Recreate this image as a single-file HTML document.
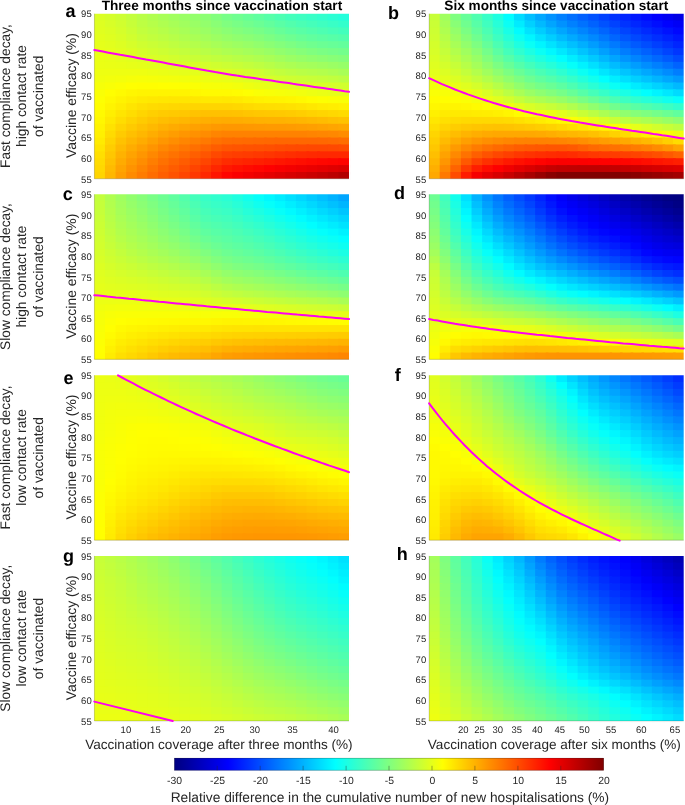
<!DOCTYPE html>
<html lang="en">
<head>
<meta charset="utf-8">
<title>Relative difference in the cumulative number of new hospitalisations</title>
<style>
html,body{margin:0;padding:0;background:#fff;}
body{width:685px;height:805px;overflow:hidden;}
svg{display:block;font-family:"Liberation Sans", sans-serif;will-change:transform;text-rendering:geometricPrecision;}
.tk{font-size:9.5px;fill:#262626;}
.ck{font-size:10.4px;fill:#262626;}
.rl{font-size:13.8px;fill:#262626;}
.yl{font-size:13.95px;fill:#262626;}
.xl{font-size:13.57px;fill:#262626;}
.bl{font-size:13.75px;fill:#262626;}
.tt{font-size:13.62px;font-weight:bold;fill:#000;}
.pl{font-size:18px;font-weight:bold;fill:#000;}
</style>
</head>
<body>
<svg width="685" height="805" viewBox="0 0 685 805">
<rect x="0" y="0" width="685" height="805" fill="#ffffff"/>
<g transform="translate(94.35,13.72) scale(10.6104,6.8813)">
<rect x="-0.1" y="-0.15" width="1.35" height="1.5" fill="#dbff24"/>
<rect x="1" y="-0.15" width="1.25" height="1.5" fill="#d5ff2a"/>
<rect x="2" y="-0.15" width="1.25" height="1.5" fill="#cdff32"/>
<rect x="3" y="-0.15" width="1.25" height="1.5" fill="#c3ff3c"/>
<rect x="4" y="-0.15" width="1.25" height="1.5" fill="#b9ff46"/>
<rect x="5" y="-0.15" width="1.25" height="1.5" fill="#b0ff4f"/>
<rect x="6" y="-0.15" width="1.25" height="1.5" fill="#a8ff57"/>
<rect x="7" y="-0.15" width="1.25" height="1.5" fill="#a1ff5e"/>
<rect x="8" y="-0.15" width="1.25" height="1.5" fill="#9aff65"/>
<rect x="9" y="-0.15" width="1.25" height="1.5" fill="#93ff6c"/>
<rect x="10" y="-0.15" width="1.25" height="1.5" fill="#8cff73"/>
<rect x="11" y="-0.15" width="1.25" height="1.5" fill="#82ff7d"/>
<rect x="12" y="-0.15" width="1.25" height="1.5" fill="#77ff88"/>
<rect x="13" y="-0.15" width="1.25" height="1.5" fill="#6fff90"/>
<rect x="14" y="-0.15" width="1.25" height="1.5" fill="#67ff98"/>
<rect x="15" y="-0.15" width="1.25" height="1.5" fill="#5fffa0"/>
<rect x="16" y="-0.15" width="1.25" height="1.5" fill="#56ffa9"/>
<rect x="17" y="-0.15" width="1.25" height="1.5" fill="#4dffb2"/>
<rect x="18" y="-0.15" width="1.25" height="1.5" fill="#44ffbb"/>
<rect x="19" y="-0.15" width="1.25" height="1.5" fill="#3effc1"/>
<rect x="20" y="-0.15" width="1.25" height="1.5" fill="#38ffc7"/>
<rect x="21" y="-0.15" width="1.25" height="1.5" fill="#32ffcd"/>
<rect x="22" y="-0.15" width="1.25" height="1.5" fill="#2bffd4"/>
<rect x="23" y="-0.15" width="1.1" height="1.5" fill="#24ffdb"/>
<rect x="-0.1" y="1" width="1.35" height="1.35" fill="#deff21"/>
<rect x="1" y="1" width="1.25" height="1.35" fill="#d8ff27"/>
<rect x="2" y="1" width="1.25" height="1.35" fill="#d1ff2e"/>
<rect x="3" y="1" width="1.25" height="1.35" fill="#c7ff38"/>
<rect x="4" y="1" width="1.25" height="1.35" fill="#bdff42"/>
<rect x="5" y="1" width="1.25" height="1.35" fill="#b6ff49"/>
<rect x="6" y="1" width="1.25" height="1.35" fill="#afff50"/>
<rect x="7" y="1" width="1.25" height="1.35" fill="#a8ff57"/>
<rect x="8" y="1" width="1.25" height="1.35" fill="#a1ff5e"/>
<rect x="9" y="1" width="1.25" height="1.35" fill="#9aff65"/>
<rect x="10" y="1" width="1.25" height="1.35" fill="#93ff6c"/>
<rect x="11" y="1" width="1.25" height="1.35" fill="#8aff75"/>
<rect x="12" y="1" width="1.25" height="1.35" fill="#80ff7f"/>
<rect x="13" y="1" width="1.25" height="1.35" fill="#79ff86"/>
<rect x="14" y="1" width="1.25" height="1.35" fill="#72ff8d"/>
<rect x="15" y="1" width="1.25" height="1.35" fill="#6bff94"/>
<rect x="16" y="1" width="1.25" height="1.35" fill="#63ff9c"/>
<rect x="17" y="1" width="1.25" height="1.35" fill="#5affa5"/>
<rect x="18" y="1" width="1.25" height="1.35" fill="#52ffad"/>
<rect x="19" y="1" width="1.25" height="1.35" fill="#4bffb4"/>
<rect x="20" y="1" width="1.25" height="1.35" fill="#45ffba"/>
<rect x="21" y="1" width="1.25" height="1.35" fill="#3fffc0"/>
<rect x="22" y="1" width="1.25" height="1.35" fill="#39ffc6"/>
<rect x="23" y="1" width="1.1" height="1.35" fill="#33ffcc"/>
<rect x="-0.1" y="2" width="1.35" height="1.35" fill="#e0ff1f"/>
<rect x="1" y="2" width="1.25" height="1.35" fill="#dcff23"/>
<rect x="2" y="2" width="1.25" height="1.35" fill="#d5ff2a"/>
<rect x="3" y="2" width="1.25" height="1.35" fill="#ccff33"/>
<rect x="4" y="2" width="1.25" height="1.35" fill="#c2ff3d"/>
<rect x="5" y="2" width="1.25" height="1.35" fill="#bcff43"/>
<rect x="6" y="2" width="1.25" height="1.35" fill="#b6ff49"/>
<rect x="7" y="2" width="1.25" height="1.35" fill="#afff50"/>
<rect x="8" y="2" width="1.25" height="1.35" fill="#a8ff57"/>
<rect x="9" y="2" width="1.25" height="1.35" fill="#a1ff5e"/>
<rect x="10" y="2" width="1.25" height="1.35" fill="#9bff64"/>
<rect x="11" y="2" width="1.25" height="1.35" fill="#93ff6c"/>
<rect x="12" y="2" width="1.25" height="1.35" fill="#8bff74"/>
<rect x="13" y="2" width="1.25" height="1.35" fill="#84ff7b"/>
<rect x="14" y="2" width="1.25" height="1.35" fill="#7eff81"/>
<rect x="15" y="2" width="1.25" height="1.35" fill="#78ff87"/>
<rect x="16" y="2" width="1.25" height="1.35" fill="#70ff8f"/>
<rect x="17" y="2" width="1.25" height="1.35" fill="#67ff98"/>
<rect x="18" y="2" width="1.25" height="1.35" fill="#5fffa0"/>
<rect x="19" y="2" width="1.25" height="1.35" fill="#59ffa6"/>
<rect x="20" y="2" width="1.25" height="1.35" fill="#53ffac"/>
<rect x="21" y="2" width="1.25" height="1.35" fill="#4dffb2"/>
<rect x="22" y="2" width="1.25" height="1.35" fill="#47ffb8"/>
<rect x="23" y="2" width="1.1" height="1.35" fill="#42ffbd"/>
<rect x="-0.1" y="3" width="1.35" height="1.35" fill="#e3ff1c"/>
<rect x="1" y="3" width="1.25" height="1.35" fill="#dfff20"/>
<rect x="2" y="3" width="1.25" height="1.35" fill="#d9ff26"/>
<rect x="3" y="3" width="1.25" height="1.35" fill="#d1ff2e"/>
<rect x="4" y="3" width="1.25" height="1.35" fill="#c8ff37"/>
<rect x="5" y="3" width="1.25" height="1.35" fill="#c2ff3d"/>
<rect x="6" y="3" width="1.25" height="1.35" fill="#bdff42"/>
<rect x="7" y="3" width="1.25" height="1.35" fill="#b7ff48"/>
<rect x="8" y="3" width="1.25" height="1.35" fill="#b0ff4f"/>
<rect x="9" y="3" width="1.25" height="1.35" fill="#aaff55"/>
<rect x="10" y="3" width="1.25" height="1.35" fill="#a4ff5b"/>
<rect x="11" y="3" width="1.25" height="1.35" fill="#9dff62"/>
<rect x="12" y="3" width="1.25" height="1.35" fill="#96ff69"/>
<rect x="13" y="3" width="1.25" height="1.35" fill="#90ff6f"/>
<rect x="14" y="3" width="1.25" height="1.35" fill="#8bff74"/>
<rect x="15" y="3" width="1.25" height="1.35" fill="#85ff7a"/>
<rect x="16" y="3" width="1.25" height="1.35" fill="#7dff82"/>
<rect x="17" y="3" width="1.25" height="1.35" fill="#75ff8a"/>
<rect x="18" y="3" width="1.25" height="1.35" fill="#6eff91"/>
<rect x="19" y="3" width="1.25" height="1.35" fill="#67ff98"/>
<rect x="20" y="3" width="1.25" height="1.35" fill="#61ff9e"/>
<rect x="21" y="3" width="1.25" height="1.35" fill="#5cffa3"/>
<rect x="22" y="3" width="1.25" height="1.35" fill="#57ffa8"/>
<rect x="23" y="3" width="1.1" height="1.35" fill="#52ffad"/>
<rect x="-0.1" y="4" width="1.35" height="1.35" fill="#e5ff1a"/>
<rect x="1" y="4" width="1.25" height="1.35" fill="#e2ff1d"/>
<rect x="2" y="4" width="1.25" height="1.35" fill="#ddff22"/>
<rect x="3" y="4" width="1.25" height="1.35" fill="#d6ff29"/>
<rect x="4" y="4" width="1.25" height="1.35" fill="#cfff30"/>
<rect x="5" y="4" width="1.25" height="1.35" fill="#caff35"/>
<rect x="6" y="4" width="1.25" height="1.35" fill="#c5ff3a"/>
<rect x="7" y="4" width="1.25" height="1.35" fill="#bfff40"/>
<rect x="8" y="4" width="1.25" height="1.35" fill="#b9ff46"/>
<rect x="9" y="4" width="1.25" height="1.35" fill="#b4ff4b"/>
<rect x="10" y="4" width="1.25" height="1.35" fill="#aeff51"/>
<rect x="11" y="4" width="1.25" height="1.35" fill="#a8ff57"/>
<rect x="12" y="4" width="1.25" height="1.35" fill="#a2ff5d"/>
<rect x="13" y="4" width="1.25" height="1.35" fill="#9dff62"/>
<rect x="14" y="4" width="1.25" height="1.35" fill="#98ff67"/>
<rect x="15" y="4" width="1.25" height="1.35" fill="#92ff6d"/>
<rect x="16" y="4" width="1.25" height="1.35" fill="#8bff74"/>
<rect x="17" y="4" width="1.25" height="1.35" fill="#84ff7b"/>
<rect x="18" y="4" width="1.25" height="1.35" fill="#7dff82"/>
<rect x="19" y="4" width="1.25" height="1.35" fill="#76ff89"/>
<rect x="20" y="4" width="1.25" height="1.35" fill="#70ff8f"/>
<rect x="21" y="4" width="1.25" height="1.35" fill="#6bff94"/>
<rect x="22" y="4" width="1.25" height="1.35" fill="#67ff98"/>
<rect x="23" y="4" width="1.1" height="1.35" fill="#63ff9c"/>
<rect x="-0.1" y="5" width="1.35" height="1.35" fill="#e8ff17"/>
<rect x="1" y="5" width="1.25" height="1.35" fill="#e5ff1a"/>
<rect x="2" y="5" width="1.25" height="1.35" fill="#e1ff1e"/>
<rect x="3" y="5" width="1.25" height="1.35" fill="#dcff23"/>
<rect x="4" y="5" width="1.25" height="1.35" fill="#d5ff2a"/>
<rect x="5" y="5" width="1.25" height="1.35" fill="#d1ff2e"/>
<rect x="6" y="5" width="1.25" height="1.35" fill="#cdff32"/>
<rect x="7" y="5" width="1.25" height="1.35" fill="#c8ff37"/>
<rect x="8" y="5" width="1.25" height="1.35" fill="#c3ff3c"/>
<rect x="9" y="5" width="1.25" height="1.35" fill="#beff41"/>
<rect x="10" y="5" width="1.25" height="1.35" fill="#b9ff46"/>
<rect x="11" y="5" width="1.25" height="1.35" fill="#b4ff4b"/>
<rect x="12" y="5" width="1.25" height="1.35" fill="#aeff51"/>
<rect x="13" y="5" width="1.25" height="1.35" fill="#aaff55"/>
<rect x="14" y="5" width="1.25" height="1.35" fill="#a5ff5a"/>
<rect x="15" y="5" width="1.25" height="1.35" fill="#a0ff5f"/>
<rect x="16" y="5" width="1.25" height="1.35" fill="#9aff65"/>
<rect x="17" y="5" width="1.25" height="1.35" fill="#92ff6d"/>
<rect x="18" y="5" width="1.25" height="1.35" fill="#8cff73"/>
<rect x="19" y="5" width="1.25" height="1.35" fill="#86ff79"/>
<rect x="20" y="5" width="1.25" height="1.35" fill="#80ff7f"/>
<rect x="21" y="5" width="1.25" height="1.35" fill="#7bff84"/>
<rect x="22" y="5" width="1.25" height="1.35" fill="#77ff88"/>
<rect x="23" y="5" width="1.1" height="1.35" fill="#73ff8c"/>
<rect x="-0.1" y="6" width="1.35" height="1.35" fill="#eaff15"/>
<rect x="1" y="6" width="1.25" height="1.35" fill="#e8ff17"/>
<rect x="2" y="6" width="1.25" height="1.35" fill="#e5ff1a"/>
<rect x="3" y="6" width="1.25" height="1.35" fill="#e1ff1e"/>
<rect x="4" y="6" width="1.25" height="1.35" fill="#ddff22"/>
<rect x="5" y="6" width="1.25" height="1.35" fill="#d9ff26"/>
<rect x="6" y="6" width="1.25" height="1.35" fill="#d6ff29"/>
<rect x="7" y="6" width="1.25" height="1.35" fill="#d2ff2d"/>
<rect x="8" y="6" width="1.25" height="1.35" fill="#cdff32"/>
<rect x="9" y="6" width="1.25" height="1.35" fill="#c9ff36"/>
<rect x="10" y="6" width="1.25" height="1.35" fill="#c5ff3a"/>
<rect x="11" y="6" width="1.25" height="1.35" fill="#c1ff3e"/>
<rect x="12" y="6" width="1.25" height="1.35" fill="#bdff42"/>
<rect x="13" y="6" width="1.25" height="1.35" fill="#b8ff47"/>
<rect x="14" y="6" width="1.25" height="1.35" fill="#b4ff4b"/>
<rect x="15" y="6" width="1.25" height="1.35" fill="#afff50"/>
<rect x="16" y="6" width="1.25" height="1.35" fill="#a9ff56"/>
<rect x="17" y="6" width="1.25" height="1.35" fill="#a2ff5d"/>
<rect x="18" y="6" width="1.25" height="1.35" fill="#9bff64"/>
<rect x="19" y="6" width="1.25" height="1.35" fill="#96ff69"/>
<rect x="20" y="6" width="1.25" height="1.35" fill="#91ff6e"/>
<rect x="21" y="6" width="1.25" height="1.35" fill="#8dff72"/>
<rect x="22" y="6" width="1.25" height="1.35" fill="#88ff77"/>
<rect x="23" y="6" width="1.1" height="1.35" fill="#84ff7b"/>
<rect x="-0.1" y="7" width="1.35" height="1.35" fill="#ebff14"/>
<rect x="1" y="7" width="1.25" height="1.35" fill="#eaff15"/>
<rect x="2" y="7" width="1.25" height="1.35" fill="#e9ff16"/>
<rect x="3" y="7" width="1.25" height="1.35" fill="#e7ff18"/>
<rect x="4" y="7" width="1.25" height="1.35" fill="#e5ff1a"/>
<rect x="5" y="7" width="1.25" height="1.35" fill="#e2ff1d"/>
<rect x="6" y="7" width="1.25" height="1.35" fill="#e0ff1f"/>
<rect x="7" y="7" width="1.25" height="1.35" fill="#dcff23"/>
<rect x="8" y="7" width="1.25" height="1.35" fill="#d9ff26"/>
<rect x="9" y="7" width="1.25" height="1.35" fill="#d7ff28"/>
<rect x="10" y="7" width="1.25" height="1.35" fill="#d4ff2b"/>
<rect x="11" y="7" width="1.25" height="1.35" fill="#d0ff2f"/>
<rect x="12" y="7" width="1.25" height="1.35" fill="#ccff33"/>
<rect x="13" y="7" width="1.25" height="1.35" fill="#c8ff37"/>
<rect x="14" y="7" width="1.25" height="1.35" fill="#c3ff3c"/>
<rect x="15" y="7" width="1.25" height="1.35" fill="#beff41"/>
<rect x="16" y="7" width="1.25" height="1.35" fill="#b8ff47"/>
<rect x="17" y="7" width="1.25" height="1.35" fill="#b1ff4e"/>
<rect x="18" y="7" width="1.25" height="1.35" fill="#acff53"/>
<rect x="19" y="7" width="1.25" height="1.35" fill="#a7ff58"/>
<rect x="20" y="7" width="1.25" height="1.35" fill="#a4ff5b"/>
<rect x="21" y="7" width="1.25" height="1.35" fill="#a0ff5f"/>
<rect x="22" y="7" width="1.25" height="1.35" fill="#9bff64"/>
<rect x="23" y="7" width="1.1" height="1.35" fill="#96ff69"/>
<rect x="-0.1" y="8" width="5.35" height="1.35" fill="#eeff11"/>
<rect x="5" y="8" width="1.25" height="1.35" fill="#ecff13"/>
<rect x="6" y="8" width="1.25" height="1.35" fill="#eaff15"/>
<rect x="7" y="8" width="1.25" height="1.35" fill="#e8ff17"/>
<rect x="8" y="8" width="1.25" height="1.35" fill="#e5ff1a"/>
<rect x="9" y="8" width="1.25" height="1.35" fill="#e4ff1b"/>
<rect x="10" y="8" width="1.25" height="1.35" fill="#e1ff1e"/>
<rect x="11" y="8" width="1.25" height="1.35" fill="#dfff20"/>
<rect x="12" y="8" width="1.25" height="1.35" fill="#dbff24"/>
<rect x="13" y="8" width="1.25" height="1.35" fill="#d7ff28"/>
<rect x="14" y="8" width="1.25" height="1.35" fill="#d2ff2d"/>
<rect x="15" y="8" width="1.25" height="1.35" fill="#cdff32"/>
<rect x="16" y="8" width="1.25" height="1.35" fill="#c7ff38"/>
<rect x="17" y="8" width="1.25" height="1.35" fill="#c2ff3d"/>
<rect x="18" y="8" width="1.25" height="1.35" fill="#bdff42"/>
<rect x="19" y="8" width="1.25" height="1.35" fill="#b9ff46"/>
<rect x="20" y="8" width="1.25" height="1.35" fill="#b6ff49"/>
<rect x="21" y="8" width="1.25" height="1.35" fill="#b3ff4c"/>
<rect x="22" y="8" width="1.25" height="1.35" fill="#aeff51"/>
<rect x="23" y="8" width="1.1" height="1.35" fill="#a8ff57"/>
<rect x="-0.1" y="9" width="1.35" height="1.35" fill="#f1ff0e"/>
<rect x="1" y="9" width="1.25" height="1.35" fill="#f3ff0c"/>
<rect x="2" y="9" width="1.25" height="1.35" fill="#f4ff0b"/>
<rect x="3" y="9" width="1.25" height="1.35" fill="#f6ff09"/>
<rect x="4" y="9" width="1.25" height="1.35" fill="#f7ff08"/>
<rect x="5" y="9" width="1.25" height="1.35" fill="#f6ff09"/>
<rect x="6" y="9" width="1.25" height="1.35" fill="#f4ff0b"/>
<rect x="7" y="9" width="1.25" height="1.35" fill="#f3ff0c"/>
<rect x="8" y="9" width="1.25" height="1.35" fill="#f1ff0e"/>
<rect x="9" y="9" width="1.25" height="1.35" fill="#efff10"/>
<rect x="10" y="9" width="1.25" height="1.35" fill="#edff12"/>
<rect x="11" y="9" width="1.25" height="1.35" fill="#ebff14"/>
<rect x="12" y="9" width="1.25" height="1.35" fill="#e9ff16"/>
<rect x="13" y="9" width="1.25" height="1.35" fill="#e5ff1a"/>
<rect x="14" y="9" width="1.25" height="1.35" fill="#e0ff1f"/>
<rect x="15" y="9" width="1.25" height="1.35" fill="#dbff24"/>
<rect x="16" y="9" width="1.25" height="1.35" fill="#d7ff28"/>
<rect x="17" y="9" width="1.25" height="1.35" fill="#d2ff2d"/>
<rect x="18" y="9" width="1.25" height="1.35" fill="#ceff31"/>
<rect x="19" y="9" width="1.25" height="1.35" fill="#cbff34"/>
<rect x="20" y="9" width="1.25" height="1.35" fill="#c8ff37"/>
<rect x="21" y="9" width="1.25" height="1.35" fill="#c5ff3a"/>
<rect x="22" y="9" width="1.25" height="1.35" fill="#c1ff3e"/>
<rect x="23" y="9" width="1.1" height="1.35" fill="#bcff43"/>
<rect x="-0.1" y="10" width="1.35" height="1.35" fill="#f6ff09"/>
<rect x="1" y="10" width="1.25" height="1.35" fill="#f9ff06"/>
<rect x="2" y="10" width="1.25" height="1.35" fill="#fcff03"/>
<rect x="3" y="10" width="1.25" height="1.35" fill="#ffff00"/>
<rect x="4" y="10" width="2.25" height="1.35" fill="#fffe00"/>
<rect x="6" y="10" width="1.25" height="1.35" fill="#ffff00"/>
<rect x="7" y="10" width="1.25" height="1.35" fill="#feff01"/>
<rect x="8" y="10" width="1.25" height="1.35" fill="#fdff02"/>
<rect x="9" y="10" width="1.25" height="1.35" fill="#fbff04"/>
<rect x="10" y="10" width="1.25" height="1.35" fill="#f8ff07"/>
<rect x="11" y="10" width="1.25" height="1.35" fill="#f7ff08"/>
<rect x="12" y="10" width="1.25" height="1.35" fill="#f6ff09"/>
<rect x="13" y="10" width="1.25" height="1.35" fill="#f3ff0c"/>
<rect x="14" y="10" width="1.25" height="1.35" fill="#eeff11"/>
<rect x="15" y="10" width="1.25" height="1.35" fill="#eaff15"/>
<rect x="16" y="10" width="1.25" height="1.35" fill="#e7ff18"/>
<rect x="17" y="10" width="1.25" height="1.35" fill="#e4ff1b"/>
<rect x="18" y="10" width="1.25" height="1.35" fill="#e1ff1e"/>
<rect x="19" y="10" width="1.25" height="1.35" fill="#ddff22"/>
<rect x="20" y="10" width="1.25" height="1.35" fill="#daff25"/>
<rect x="21" y="10" width="1.25" height="1.35" fill="#d7ff28"/>
<rect x="22" y="10" width="1.25" height="1.35" fill="#d4ff2b"/>
<rect x="23" y="10" width="1.1" height="1.35" fill="#d1ff2e"/>
<rect x="-0.1" y="11" width="1.35" height="1.35" fill="#faff05"/>
<rect x="1" y="11" width="1.25" height="1.35" fill="#fffe00"/>
<rect x="2" y="11" width="1.25" height="1.35" fill="#fffa00"/>
<rect x="3" y="11" width="1.25" height="1.35" fill="#fff600"/>
<rect x="4" y="11" width="5.25" height="1.35" fill="#fff400"/>
<rect x="9" y="11" width="1.25" height="1.35" fill="#fff700"/>
<rect x="10" y="11" width="3.25" height="1.35" fill="#fffa00"/>
<rect x="13" y="11" width="1.25" height="1.35" fill="#fffc00"/>
<rect x="14" y="11" width="1.25" height="1.35" fill="#feff01"/>
<rect x="15" y="11" width="1.25" height="1.35" fill="#faff05"/>
<rect x="16" y="11" width="1.25" height="1.35" fill="#f8ff07"/>
<rect x="17" y="11" width="1.25" height="1.35" fill="#f6ff09"/>
<rect x="18" y="11" width="1.25" height="1.35" fill="#f4ff0b"/>
<rect x="19" y="11" width="1.25" height="1.35" fill="#f1ff0e"/>
<rect x="20" y="11" width="1.25" height="1.35" fill="#edff12"/>
<rect x="21" y="11" width="1.25" height="1.35" fill="#eaff15"/>
<rect x="22" y="11" width="1.25" height="1.35" fill="#e7ff18"/>
<rect x="23" y="11" width="1.1" height="1.35" fill="#e5ff1a"/>
<rect x="-0.1" y="12" width="1.35" height="1.35" fill="#fdff02"/>
<rect x="1" y="12" width="1.25" height="1.35" fill="#fff900"/>
<rect x="2" y="12" width="1.25" height="1.35" fill="#fff300"/>
<rect x="3" y="12" width="1.25" height="1.35" fill="#ffee00"/>
<rect x="4" y="12" width="1.25" height="1.35" fill="#ffea00"/>
<rect x="5" y="12" width="1.25" height="1.35" fill="#ffe800"/>
<rect x="6" y="12" width="1.25" height="1.35" fill="#ffe700"/>
<rect x="7" y="12" width="2.25" height="1.35" fill="#ffe600"/>
<rect x="9" y="12" width="1.25" height="1.35" fill="#ffe700"/>
<rect x="10" y="12" width="2.25" height="1.35" fill="#ffe900"/>
<rect x="12" y="12" width="1.25" height="1.35" fill="#ffe800"/>
<rect x="13" y="12" width="1.25" height="1.35" fill="#ffea00"/>
<rect x="14" y="12" width="1.25" height="1.35" fill="#ffee00"/>
<rect x="15" y="12" width="1.25" height="1.35" fill="#fff100"/>
<rect x="16" y="12" width="1.25" height="1.35" fill="#fff300"/>
<rect x="17" y="12" width="1.25" height="1.35" fill="#fff400"/>
<rect x="18" y="12" width="1.25" height="1.35" fill="#fff600"/>
<rect x="19" y="12" width="1.25" height="1.35" fill="#fff900"/>
<rect x="20" y="12" width="1.25" height="1.35" fill="#fffd00"/>
<rect x="21" y="12" width="1.25" height="1.35" fill="#fdff02"/>
<rect x="22" y="12" width="1.25" height="1.35" fill="#fbff04"/>
<rect x="23" y="12" width="1.1" height="1.35" fill="#f9ff06"/>
<rect x="-0.1" y="13" width="1.35" height="1.35" fill="#fffd00"/>
<rect x="1" y="13" width="1.25" height="1.35" fill="#fff400"/>
<rect x="2" y="13" width="1.25" height="1.35" fill="#ffed00"/>
<rect x="3" y="13" width="1.25" height="1.35" fill="#ffe500"/>
<rect x="4" y="13" width="1.25" height="1.35" fill="#ffdf00"/>
<rect x="5" y="13" width="1.25" height="1.35" fill="#ffdb00"/>
<rect x="6" y="13" width="1.25" height="1.35" fill="#ffd900"/>
<rect x="7" y="13" width="1.25" height="1.35" fill="#ffd700"/>
<rect x="8" y="13" width="1.25" height="1.35" fill="#ffd600"/>
<rect x="9" y="13" width="4.25" height="1.35" fill="#ffd500"/>
<rect x="13" y="13" width="1.25" height="1.35" fill="#ffd700"/>
<rect x="14" y="13" width="1.25" height="1.35" fill="#ffda00"/>
<rect x="15" y="13" width="1.25" height="1.35" fill="#ffdd00"/>
<rect x="16" y="13" width="1.25" height="1.35" fill="#ffde00"/>
<rect x="17" y="13" width="1.25" height="1.35" fill="#ffdf00"/>
<rect x="18" y="13" width="1.25" height="1.35" fill="#ffe100"/>
<rect x="19" y="13" width="1.25" height="1.35" fill="#ffe400"/>
<rect x="20" y="13" width="1.25" height="1.35" fill="#ffe800"/>
<rect x="21" y="13" width="1.25" height="1.35" fill="#ffec00"/>
<rect x="22" y="13" width="1.25" height="1.35" fill="#ffee00"/>
<rect x="23" y="13" width="1.1" height="1.35" fill="#fff100"/>
<rect x="-0.1" y="14" width="1.35" height="1.35" fill="#fffa00"/>
<rect x="1" y="14" width="1.25" height="1.35" fill="#ffef00"/>
<rect x="2" y="14" width="1.25" height="1.35" fill="#ffe500"/>
<rect x="3" y="14" width="1.25" height="1.35" fill="#ffdd00"/>
<rect x="4" y="14" width="1.25" height="1.35" fill="#ffd500"/>
<rect x="5" y="14" width="1.25" height="1.35" fill="#ffcf00"/>
<rect x="6" y="14" width="1.25" height="1.35" fill="#ffcb00"/>
<rect x="7" y="14" width="1.25" height="1.35" fill="#ffc900"/>
<rect x="8" y="14" width="1.25" height="1.35" fill="#ffc700"/>
<rect x="9" y="14" width="1.25" height="1.35" fill="#ffc300"/>
<rect x="10" y="14" width="3.25" height="1.35" fill="#ffc100"/>
<rect x="13" y="14" width="1.25" height="1.35" fill="#ffc200"/>
<rect x="14" y="14" width="1.25" height="1.35" fill="#ffc500"/>
<rect x="15" y="14" width="1.25" height="1.35" fill="#ffc700"/>
<rect x="16" y="14" width="1.25" height="1.35" fill="#ffc800"/>
<rect x="17" y="14" width="1.25" height="1.35" fill="#ffc900"/>
<rect x="18" y="14" width="1.25" height="1.35" fill="#ffcb00"/>
<rect x="19" y="14" width="1.25" height="1.35" fill="#ffce00"/>
<rect x="20" y="14" width="1.25" height="1.35" fill="#ffd200"/>
<rect x="21" y="14" width="1.25" height="1.35" fill="#ffd500"/>
<rect x="22" y="14" width="1.25" height="1.35" fill="#ffd800"/>
<rect x="23" y="14" width="1.1" height="1.35" fill="#ffdb00"/>
<rect x="-0.1" y="15" width="1.35" height="1.35" fill="#fff700"/>
<rect x="1" y="15" width="1.25" height="1.35" fill="#ffe900"/>
<rect x="2" y="15" width="1.25" height="1.35" fill="#ffdd00"/>
<rect x="3" y="15" width="1.25" height="1.35" fill="#ffd300"/>
<rect x="4" y="15" width="1.25" height="1.35" fill="#ffcb00"/>
<rect x="5" y="15" width="1.25" height="1.35" fill="#ffc400"/>
<rect x="6" y="15" width="1.25" height="1.35" fill="#ffbe00"/>
<rect x="7" y="15" width="1.25" height="1.35" fill="#ffba00"/>
<rect x="8" y="15" width="1.25" height="1.35" fill="#ffb700"/>
<rect x="9" y="15" width="1.25" height="1.35" fill="#ffb200"/>
<rect x="10" y="15" width="1.25" height="1.35" fill="#ffaf00"/>
<rect x="11" y="15" width="1.25" height="1.35" fill="#ffad00"/>
<rect x="12" y="15" width="1.25" height="1.35" fill="#ffac00"/>
<rect x="13" y="15" width="1.25" height="1.35" fill="#ffad00"/>
<rect x="14" y="15" width="1.25" height="1.35" fill="#ffaf00"/>
<rect x="15" y="15" width="1.25" height="1.35" fill="#ffb100"/>
<rect x="16" y="15" width="2.25" height="1.35" fill="#ffb200"/>
<rect x="18" y="15" width="1.25" height="1.35" fill="#ffb400"/>
<rect x="19" y="15" width="1.25" height="1.35" fill="#ffb600"/>
<rect x="20" y="15" width="1.25" height="1.35" fill="#ffb900"/>
<rect x="21" y="15" width="1.25" height="1.35" fill="#ffbc00"/>
<rect x="22" y="15" width="1.25" height="1.35" fill="#ffc000"/>
<rect x="23" y="15" width="1.1" height="1.35" fill="#ffc300"/>
<rect x="-0.1" y="16" width="1.35" height="1.35" fill="#fff300"/>
<rect x="1" y="16" width="1.25" height="1.35" fill="#ffe200"/>
<rect x="2" y="16" width="1.25" height="1.35" fill="#ffd400"/>
<rect x="3" y="16" width="1.25" height="1.35" fill="#ffca00"/>
<rect x="4" y="16" width="1.25" height="1.35" fill="#ffc100"/>
<rect x="5" y="16" width="1.25" height="1.35" fill="#ffb900"/>
<rect x="6" y="16" width="1.25" height="1.35" fill="#ffb100"/>
<rect x="7" y="16" width="1.25" height="1.35" fill="#ffab00"/>
<rect x="8" y="16" width="1.25" height="1.35" fill="#ffa600"/>
<rect x="9" y="16" width="1.25" height="1.35" fill="#ffa100"/>
<rect x="10" y="16" width="1.25" height="1.35" fill="#ff9d00"/>
<rect x="11" y="16" width="1.25" height="1.35" fill="#ff9900"/>
<rect x="12" y="16" width="2.25" height="1.35" fill="#ff9700"/>
<rect x="14" y="16" width="1.25" height="1.35" fill="#ff9800"/>
<rect x="15" y="16" width="1.25" height="1.35" fill="#ff9900"/>
<rect x="16" y="16" width="2.25" height="1.35" fill="#ff9a00"/>
<rect x="18" y="16" width="1.25" height="1.35" fill="#ff9b00"/>
<rect x="19" y="16" width="1.25" height="1.35" fill="#ff9d00"/>
<rect x="20" y="16" width="1.25" height="1.35" fill="#ff9f00"/>
<rect x="21" y="16" width="1.25" height="1.35" fill="#ffa200"/>
<rect x="22" y="16" width="1.25" height="1.35" fill="#ffa500"/>
<rect x="23" y="16" width="1.1" height="1.35" fill="#ffa800"/>
<rect x="-0.1" y="17" width="1.35" height="1.35" fill="#fff000"/>
<rect x="1" y="17" width="1.25" height="1.35" fill="#ffdb00"/>
<rect x="2" y="17" width="1.25" height="1.35" fill="#ffcb00"/>
<rect x="3" y="17" width="1.25" height="1.35" fill="#ffc000"/>
<rect x="4" y="17" width="1.25" height="1.35" fill="#ffb700"/>
<rect x="5" y="17" width="1.25" height="1.35" fill="#ffad00"/>
<rect x="6" y="17" width="1.25" height="1.35" fill="#ffa400"/>
<rect x="7" y="17" width="1.25" height="1.35" fill="#ff9d00"/>
<rect x="8" y="17" width="1.25" height="1.35" fill="#ff9600"/>
<rect x="9" y="17" width="1.25" height="1.35" fill="#ff9100"/>
<rect x="10" y="17" width="1.25" height="1.35" fill="#ff8c00"/>
<rect x="11" y="17" width="1.25" height="1.35" fill="#ff8500"/>
<rect x="12" y="17" width="8.25" height="1.35" fill="#ff8200"/>
<rect x="20" y="17" width="1.25" height="1.35" fill="#ff8400"/>
<rect x="21" y="17" width="1.25" height="1.35" fill="#ff8600"/>
<rect x="22" y="17" width="1.25" height="1.35" fill="#ff8800"/>
<rect x="23" y="17" width="1.1" height="1.35" fill="#ff8c00"/>
<rect x="-0.1" y="18" width="1.35" height="1.35" fill="#ffeb00"/>
<rect x="1" y="18" width="1.25" height="1.35" fill="#ffd400"/>
<rect x="2" y="18" width="1.25" height="1.35" fill="#ffc200"/>
<rect x="3" y="18" width="1.25" height="1.35" fill="#ffb600"/>
<rect x="4" y="18" width="1.25" height="1.35" fill="#ffac00"/>
<rect x="5" y="18" width="1.25" height="1.35" fill="#ffa100"/>
<rect x="6" y="18" width="1.25" height="1.35" fill="#ff9600"/>
<rect x="7" y="18" width="1.25" height="1.35" fill="#ff8e00"/>
<rect x="8" y="18" width="1.25" height="1.35" fill="#ff8600"/>
<rect x="9" y="18" width="1.25" height="1.35" fill="#ff8000"/>
<rect x="10" y="18" width="1.25" height="1.35" fill="#ff7900"/>
<rect x="11" y="18" width="1.25" height="1.35" fill="#ff7100"/>
<rect x="12" y="18" width="1.25" height="1.35" fill="#ff6c00"/>
<rect x="13" y="18" width="1.25" height="1.35" fill="#ff6b00"/>
<rect x="14" y="18" width="1.25" height="1.35" fill="#ff6a00"/>
<rect x="15" y="18" width="1.25" height="1.35" fill="#ff6900"/>
<rect x="16" y="18" width="1.25" height="1.35" fill="#ff6800"/>
<rect x="17" y="18" width="4.25" height="1.35" fill="#ff6700"/>
<rect x="21" y="18" width="1.25" height="1.35" fill="#ff6800"/>
<rect x="22" y="18" width="1.25" height="1.35" fill="#ff6a00"/>
<rect x="23" y="18" width="1.1" height="1.35" fill="#ff6d00"/>
<rect x="-0.1" y="19" width="1.35" height="1.35" fill="#ffe500"/>
<rect x="1" y="19" width="1.25" height="1.35" fill="#ffcd00"/>
<rect x="2" y="19" width="1.25" height="1.35" fill="#ffba00"/>
<rect x="3" y="19" width="1.25" height="1.35" fill="#ffac00"/>
<rect x="4" y="19" width="1.25" height="1.35" fill="#ffa000"/>
<rect x="5" y="19" width="1.25" height="1.35" fill="#ff9400"/>
<rect x="6" y="19" width="1.25" height="1.35" fill="#ff8800"/>
<rect x="7" y="19" width="1.25" height="1.35" fill="#ff7f00"/>
<rect x="8" y="19" width="1.25" height="1.35" fill="#ff7700"/>
<rect x="9" y="19" width="1.25" height="1.35" fill="#ff6f00"/>
<rect x="10" y="19" width="1.25" height="1.35" fill="#ff6600"/>
<rect x="11" y="19" width="1.25" height="1.35" fill="#ff5d00"/>
<rect x="12" y="19" width="1.25" height="1.35" fill="#ff5600"/>
<rect x="13" y="19" width="1.25" height="1.35" fill="#ff5400"/>
<rect x="14" y="19" width="1.25" height="1.35" fill="#ff5200"/>
<rect x="15" y="19" width="1.25" height="1.35" fill="#ff5100"/>
<rect x="16" y="19" width="1.25" height="1.35" fill="#ff4f00"/>
<rect x="17" y="19" width="1.25" height="1.35" fill="#ff4c00"/>
<rect x="18" y="19" width="1.25" height="1.35" fill="#ff4a00"/>
<rect x="19" y="19" width="1.25" height="1.35" fill="#ff4900"/>
<rect x="20" y="19" width="2.25" height="1.35" fill="#ff4800"/>
<rect x="22" y="19" width="1.25" height="1.35" fill="#ff4900"/>
<rect x="23" y="19" width="1.1" height="1.35" fill="#ff4b00"/>
<rect x="-0.1" y="20" width="1.35" height="1.35" fill="#ffdf00"/>
<rect x="1" y="20" width="1.25" height="1.35" fill="#ffc700"/>
<rect x="2" y="20" width="1.25" height="1.35" fill="#ffb200"/>
<rect x="3" y="20" width="1.25" height="1.35" fill="#ffa300"/>
<rect x="4" y="20" width="1.25" height="1.35" fill="#ff9600"/>
<rect x="5" y="20" width="1.25" height="1.35" fill="#ff8800"/>
<rect x="6" y="20" width="1.25" height="1.35" fill="#ff7b00"/>
<rect x="7" y="20" width="1.25" height="1.35" fill="#ff7200"/>
<rect x="8" y="20" width="1.25" height="1.35" fill="#ff6900"/>
<rect x="9" y="20" width="1.25" height="1.35" fill="#ff5f00"/>
<rect x="10" y="20" width="1.25" height="1.35" fill="#ff5500"/>
<rect x="11" y="20" width="1.25" height="1.35" fill="#ff4900"/>
<rect x="12" y="20" width="1.25" height="1.35" fill="#ff4000"/>
<rect x="13" y="20" width="1.25" height="1.35" fill="#ff3d00"/>
<rect x="14" y="20" width="1.25" height="1.35" fill="#ff3b00"/>
<rect x="15" y="20" width="1.25" height="1.35" fill="#ff3800"/>
<rect x="16" y="20" width="1.25" height="1.35" fill="#ff3500"/>
<rect x="17" y="20" width="1.25" height="1.35" fill="#ff3100"/>
<rect x="18" y="20" width="1.25" height="1.35" fill="#ff2e00"/>
<rect x="19" y="20" width="1.25" height="1.35" fill="#ff2b00"/>
<rect x="20" y="20" width="1.25" height="1.35" fill="#ff2900"/>
<rect x="21" y="20" width="3.1" height="1.35" fill="#ff2800"/>
<rect x="-0.1" y="21" width="1.35" height="1.35" fill="#ffdb00"/>
<rect x="1" y="21" width="1.25" height="1.35" fill="#ffc100"/>
<rect x="2" y="21" width="1.25" height="1.35" fill="#ffab00"/>
<rect x="3" y="21" width="1.25" height="1.35" fill="#ff9b00"/>
<rect x="4" y="21" width="1.25" height="1.35" fill="#ff8d00"/>
<rect x="5" y="21" width="1.25" height="1.35" fill="#ff7e00"/>
<rect x="6" y="21" width="1.25" height="1.35" fill="#ff7100"/>
<rect x="7" y="21" width="1.25" height="1.35" fill="#ff6600"/>
<rect x="8" y="21" width="1.25" height="1.35" fill="#ff5c00"/>
<rect x="9" y="21" width="1.25" height="1.35" fill="#ff5100"/>
<rect x="10" y="21" width="1.25" height="1.35" fill="#ff4500"/>
<rect x="11" y="21" width="1.25" height="1.35" fill="#ff3700"/>
<rect x="12" y="21" width="1.25" height="1.35" fill="#ff2c00"/>
<rect x="13" y="21" width="1.25" height="1.35" fill="#ff2700"/>
<rect x="14" y="21" width="1.25" height="1.35" fill="#ff2300"/>
<rect x="15" y="21" width="1.25" height="1.35" fill="#ff1f00"/>
<rect x="16" y="21" width="1.25" height="1.35" fill="#ff1b00"/>
<rect x="17" y="21" width="1.25" height="1.35" fill="#ff1600"/>
<rect x="18" y="21" width="1.25" height="1.35" fill="#ff1200"/>
<rect x="19" y="21" width="1.25" height="1.35" fill="#ff0e00"/>
<rect x="20" y="21" width="1.25" height="1.35" fill="#ff0a00"/>
<rect x="21" y="21" width="1.25" height="1.35" fill="#ff0700"/>
<rect x="22" y="21" width="1.25" height="1.35" fill="#ff0500"/>
<rect x="23" y="21" width="1.1" height="1.35" fill="#ff0300"/>
<rect x="-0.1" y="22" width="1.35" height="1.35" fill="#ffd800"/>
<rect x="1" y="22" width="1.25" height="1.35" fill="#ffbb00"/>
<rect x="2" y="22" width="1.25" height="1.35" fill="#ffa400"/>
<rect x="3" y="22" width="1.25" height="1.35" fill="#ff9300"/>
<rect x="4" y="22" width="1.25" height="1.35" fill="#ff8400"/>
<rect x="5" y="22" width="1.25" height="1.35" fill="#ff7500"/>
<rect x="6" y="22" width="1.25" height="1.35" fill="#ff6700"/>
<rect x="7" y="22" width="1.25" height="1.35" fill="#ff5c00"/>
<rect x="8" y="22" width="1.25" height="1.35" fill="#ff5100"/>
<rect x="9" y="22" width="1.25" height="1.35" fill="#ff4400"/>
<rect x="10" y="22" width="1.25" height="1.35" fill="#ff3600"/>
<rect x="11" y="22" width="1.25" height="1.35" fill="#ff2600"/>
<rect x="12" y="22" width="1.25" height="1.35" fill="#ff1800"/>
<rect x="13" y="22" width="1.25" height="1.35" fill="#ff1100"/>
<rect x="14" y="22" width="1.25" height="1.35" fill="#ff0b00"/>
<rect x="15" y="22" width="1.25" height="1.35" fill="#ff0600"/>
<rect x="16" y="22" width="1.25" height="1.35" fill="#ff0000"/>
<rect x="17" y="22" width="1.25" height="1.35" fill="#f90000"/>
<rect x="18" y="22" width="1.25" height="1.35" fill="#f40000"/>
<rect x="19" y="22" width="1.25" height="1.35" fill="#ef0000"/>
<rect x="20" y="22" width="1.25" height="1.35" fill="#ea0000"/>
<rect x="21" y="22" width="1.25" height="1.35" fill="#e50000"/>
<rect x="22" y="22" width="1.25" height="1.35" fill="#e00000"/>
<rect x="23" y="22" width="1.1" height="1.35" fill="#db0000"/>
<rect x="-0.1" y="23" width="1.35" height="1.15" fill="#ffd500"/>
<rect x="1" y="23" width="1.25" height="1.15" fill="#ffb700"/>
<rect x="2" y="23" width="1.25" height="1.15" fill="#ff9e00"/>
<rect x="3" y="23" width="1.25" height="1.15" fill="#ff8b00"/>
<rect x="4" y="23" width="1.25" height="1.15" fill="#ff7c00"/>
<rect x="5" y="23" width="1.25" height="1.15" fill="#ff6d00"/>
<rect x="6" y="23" width="1.25" height="1.15" fill="#ff5f00"/>
<rect x="7" y="23" width="1.25" height="1.15" fill="#ff5300"/>
<rect x="8" y="23" width="1.25" height="1.15" fill="#ff4600"/>
<rect x="9" y="23" width="1.25" height="1.15" fill="#ff3800"/>
<rect x="10" y="23" width="1.25" height="1.15" fill="#ff2800"/>
<rect x="11" y="23" width="1.25" height="1.15" fill="#ff1500"/>
<rect x="12" y="23" width="1.25" height="1.15" fill="#ff0500"/>
<rect x="13" y="23" width="1.25" height="1.15" fill="#fa0000"/>
<rect x="14" y="23" width="1.25" height="1.15" fill="#f30000"/>
<rect x="15" y="23" width="1.25" height="1.15" fill="#ec0000"/>
<rect x="16" y="23" width="1.25" height="1.15" fill="#e50000"/>
<rect x="17" y="23" width="1.25" height="1.15" fill="#de0000"/>
<rect x="18" y="23" width="1.25" height="1.15" fill="#d70000"/>
<rect x="19" y="23" width="1.25" height="1.15" fill="#d10000"/>
<rect x="20" y="23" width="1.25" height="1.15" fill="#ca0000"/>
<rect x="21" y="23" width="1.25" height="1.15" fill="#c30000"/>
<rect x="22" y="23" width="1.25" height="1.15" fill="#bb0000"/>
<rect x="23" y="23" width="1.1" height="1.15" fill="#b20000"/>
</g>
<path fill="#fff" fill-rule="evenodd" d="M92.55 11.92h258.25v168.75h-258.25zM94.35 13.72h254.65v165.15h-254.65z"/>
<path d="M94.45 13.72V178.77H349.00" fill="none" stroke="#3a3a20" stroke-opacity="0.3" stroke-width="0.8"/>
<polyline points="94.3,50.1 98.7,50.8 103.0,51.6 107.3,52.4 111.6,53.2 115.9,54.0 120.2,54.8 124.6,55.5 128.9,56.3 133.2,57.1 137.5,57.9 141.8,58.7 146.1,59.5 150.5,60.2 154.8,61.0 159.1,61.8 163.4,62.6 167.7,63.4 172.0,64.2 176.4,65.0 180.7,65.8 185.0,66.6 189.3,67.4 193.6,68.2 197.9,69.0 202.3,69.8 206.6,70.6 210.9,71.3 215.2,72.1 219.5,72.8 223.8,73.5 228.1,74.2 232.5,74.9 236.8,75.6 241.1,76.2 245.4,76.9 249.7,77.5 254.0,78.1 258.4,78.8 262.7,79.4 267.0,80.0 271.3,80.6 275.6,81.3 279.9,81.9 284.3,82.5 288.6,83.1 292.9,83.8 297.2,84.4 301.5,85.0 305.8,85.6 310.2,86.3 314.5,86.9 318.8,87.5 323.1,88.1 327.4,88.7 331.7,89.3 336.1,89.9 340.4,90.5 344.7,91.2 349.0,91.8" fill="none" stroke="#ff00ee" stroke-width="2" stroke-linecap="round" stroke-linejoin="round"/>
<g transform="translate(429.10,13.72) scale(10.6083,6.8813)">
<rect x="-0.1" y="-0.15" width="1.35" height="1.5" fill="#c7ff38"/>
<rect x="1" y="-0.15" width="1.25" height="1.5" fill="#a0ff5f"/>
<rect x="2" y="-0.15" width="1.25" height="1.5" fill="#7fff80"/>
<rect x="3" y="-0.15" width="1.25" height="1.5" fill="#66ff99"/>
<rect x="4" y="-0.15" width="1.25" height="1.5" fill="#4fffb0"/>
<rect x="5" y="-0.15" width="1.25" height="1.5" fill="#37ffc8"/>
<rect x="6" y="-0.15" width="1.25" height="1.5" fill="#1effe1"/>
<rect x="7" y="-0.15" width="1.25" height="1.5" fill="#00feff"/>
<rect x="8" y="-0.15" width="1.25" height="1.5" fill="#00dcff"/>
<rect x="9" y="-0.15" width="1.25" height="1.5" fill="#00bfff"/>
<rect x="10" y="-0.15" width="1.25" height="1.5" fill="#00a7ff"/>
<rect x="11" y="-0.15" width="1.25" height="1.5" fill="#0092ff"/>
<rect x="12" y="-0.15" width="1.25" height="1.5" fill="#007fff"/>
<rect x="13" y="-0.15" width="1.25" height="1.5" fill="#006fff"/>
<rect x="14" y="-0.15" width="1.25" height="1.5" fill="#0060ff"/>
<rect x="15" y="-0.15" width="1.25" height="1.5" fill="#0051ff"/>
<rect x="16" y="-0.15" width="1.25" height="1.5" fill="#0041ff"/>
<rect x="17" y="-0.15" width="1.25" height="1.5" fill="#0032ff"/>
<rect x="18" y="-0.15" width="1.25" height="1.5" fill="#0024ff"/>
<rect x="19" y="-0.15" width="1.25" height="1.5" fill="#0017ff"/>
<rect x="20" y="-0.15" width="1.25" height="1.5" fill="#000bff"/>
<rect x="21" y="-0.15" width="1.25" height="1.5" fill="#0000fe"/>
<rect x="22" y="-0.15" width="1.25" height="1.5" fill="#0000f2"/>
<rect x="23" y="-0.15" width="1.1" height="1.5" fill="#0000e5"/>
<rect x="-0.1" y="1" width="1.35" height="1.35" fill="#caff35"/>
<rect x="1" y="1" width="1.25" height="1.35" fill="#a8ff57"/>
<rect x="2" y="1" width="1.25" height="1.35" fill="#89ff76"/>
<rect x="3" y="1" width="1.25" height="1.35" fill="#70ff8f"/>
<rect x="4" y="1" width="1.25" height="1.35" fill="#58ffa7"/>
<rect x="5" y="1" width="1.25" height="1.35" fill="#40ffbf"/>
<rect x="6" y="1" width="1.25" height="1.35" fill="#27ffd8"/>
<rect x="7" y="1" width="1.25" height="1.35" fill="#0bfff4"/>
<rect x="8" y="1" width="1.25" height="1.35" fill="#00ecff"/>
<rect x="9" y="1" width="1.25" height="1.35" fill="#00d1ff"/>
<rect x="10" y="1" width="1.25" height="1.35" fill="#00baff"/>
<rect x="11" y="1" width="1.25" height="1.35" fill="#00a5ff"/>
<rect x="12" y="1" width="1.25" height="1.35" fill="#0092ff"/>
<rect x="13" y="1" width="1.25" height="1.35" fill="#0081ff"/>
<rect x="14" y="1" width="1.25" height="1.35" fill="#0072ff"/>
<rect x="15" y="1" width="1.25" height="1.35" fill="#0062ff"/>
<rect x="16" y="1" width="1.25" height="1.35" fill="#0052ff"/>
<rect x="17" y="1" width="1.25" height="1.35" fill="#0042ff"/>
<rect x="18" y="1" width="1.25" height="1.35" fill="#0033ff"/>
<rect x="19" y="1" width="1.25" height="1.35" fill="#0026ff"/>
<rect x="20" y="1" width="1.25" height="1.35" fill="#001aff"/>
<rect x="21" y="1" width="1.25" height="1.35" fill="#000eff"/>
<rect x="22" y="1" width="1.25" height="1.35" fill="#0002ff"/>
<rect x="23" y="1" width="1.1" height="1.35" fill="#0000f6"/>
<rect x="-0.1" y="2" width="1.35" height="1.35" fill="#cdff32"/>
<rect x="1" y="2" width="1.25" height="1.35" fill="#afff50"/>
<rect x="2" y="2" width="1.25" height="1.35" fill="#94ff6b"/>
<rect x="3" y="2" width="1.25" height="1.35" fill="#7bff84"/>
<rect x="4" y="2" width="1.25" height="1.35" fill="#63ff9c"/>
<rect x="5" y="2" width="1.25" height="1.35" fill="#4bffb4"/>
<rect x="6" y="2" width="1.25" height="1.35" fill="#32ffcd"/>
<rect x="7" y="2" width="1.25" height="1.35" fill="#18ffe7"/>
<rect x="8" y="2" width="1.25" height="1.35" fill="#00fcff"/>
<rect x="9" y="2" width="1.25" height="1.35" fill="#00e3ff"/>
<rect x="10" y="2" width="1.25" height="1.35" fill="#00cdff"/>
<rect x="11" y="2" width="1.25" height="1.35" fill="#00b9ff"/>
<rect x="12" y="2" width="1.25" height="1.35" fill="#00a6ff"/>
<rect x="13" y="2" width="1.25" height="1.35" fill="#0095ff"/>
<rect x="14" y="2" width="1.25" height="1.35" fill="#0085ff"/>
<rect x="15" y="2" width="1.25" height="1.35" fill="#0075ff"/>
<rect x="16" y="2" width="1.25" height="1.35" fill="#0065ff"/>
<rect x="17" y="2" width="1.25" height="1.35" fill="#0054ff"/>
<rect x="18" y="2" width="1.25" height="1.35" fill="#0044ff"/>
<rect x="19" y="2" width="1.25" height="1.35" fill="#0037ff"/>
<rect x="20" y="2" width="1.25" height="1.35" fill="#002aff"/>
<rect x="21" y="2" width="1.25" height="1.35" fill="#001eff"/>
<rect x="22" y="2" width="1.25" height="1.35" fill="#0012ff"/>
<rect x="23" y="2" width="1.1" height="1.35" fill="#0007ff"/>
<rect x="-0.1" y="3" width="1.35" height="1.35" fill="#d0ff2f"/>
<rect x="1" y="3" width="1.25" height="1.35" fill="#b7ff48"/>
<rect x="2" y="3" width="1.25" height="1.35" fill="#9eff61"/>
<rect x="3" y="3" width="1.25" height="1.35" fill="#87ff78"/>
<rect x="4" y="3" width="1.25" height="1.35" fill="#70ff8f"/>
<rect x="5" y="3" width="1.25" height="1.35" fill="#57ffa8"/>
<rect x="6" y="3" width="1.25" height="1.35" fill="#3effc1"/>
<rect x="7" y="3" width="1.25" height="1.35" fill="#26ffd9"/>
<rect x="8" y="3" width="1.25" height="1.35" fill="#0dfff2"/>
<rect x="9" y="3" width="1.25" height="1.35" fill="#00f6ff"/>
<rect x="10" y="3" width="1.25" height="1.35" fill="#00e1ff"/>
<rect x="11" y="3" width="1.25" height="1.35" fill="#00ceff"/>
<rect x="12" y="3" width="1.25" height="1.35" fill="#00bbff"/>
<rect x="13" y="3" width="1.25" height="1.35" fill="#00aaff"/>
<rect x="14" y="3" width="1.25" height="1.35" fill="#0099ff"/>
<rect x="15" y="3" width="1.25" height="1.35" fill="#0089ff"/>
<rect x="16" y="3" width="1.25" height="1.35" fill="#0078ff"/>
<rect x="17" y="3" width="1.25" height="1.35" fill="#0066ff"/>
<rect x="18" y="3" width="1.25" height="1.35" fill="#0056ff"/>
<rect x="19" y="3" width="1.25" height="1.35" fill="#0048ff"/>
<rect x="20" y="3" width="1.25" height="1.35" fill="#003bff"/>
<rect x="21" y="3" width="1.25" height="1.35" fill="#002eff"/>
<rect x="22" y="3" width="1.25" height="1.35" fill="#0022ff"/>
<rect x="23" y="3" width="1.1" height="1.35" fill="#0016ff"/>
<rect x="-0.1" y="4" width="1.35" height="1.35" fill="#d4ff2b"/>
<rect x="1" y="4" width="1.25" height="1.35" fill="#beff41"/>
<rect x="2" y="4" width="1.25" height="1.35" fill="#a8ff57"/>
<rect x="3" y="4" width="1.25" height="1.35" fill="#93ff6c"/>
<rect x="4" y="4" width="1.25" height="1.35" fill="#7eff81"/>
<rect x="5" y="4" width="1.25" height="1.35" fill="#65ff9a"/>
<rect x="6" y="4" width="1.25" height="1.35" fill="#4cffb3"/>
<rect x="7" y="4" width="1.25" height="1.35" fill="#35ffca"/>
<rect x="8" y="4" width="1.25" height="1.35" fill="#1effe1"/>
<rect x="9" y="4" width="1.25" height="1.35" fill="#09fff6"/>
<rect x="10" y="4" width="1.25" height="1.35" fill="#00f5ff"/>
<rect x="11" y="4" width="1.25" height="1.35" fill="#00e3ff"/>
<rect x="12" y="4" width="1.25" height="1.35" fill="#00d1ff"/>
<rect x="13" y="4" width="1.25" height="1.35" fill="#00c0ff"/>
<rect x="14" y="4" width="1.25" height="1.35" fill="#00afff"/>
<rect x="15" y="4" width="1.25" height="1.35" fill="#009dff"/>
<rect x="16" y="4" width="1.25" height="1.35" fill="#008bff"/>
<rect x="17" y="4" width="1.25" height="1.35" fill="#007aff"/>
<rect x="18" y="4" width="1.25" height="1.35" fill="#0069ff"/>
<rect x="19" y="4" width="1.25" height="1.35" fill="#005aff"/>
<rect x="20" y="4" width="1.25" height="1.35" fill="#004dff"/>
<rect x="21" y="4" width="1.25" height="1.35" fill="#003fff"/>
<rect x="22" y="4" width="1.25" height="1.35" fill="#0032ff"/>
<rect x="23" y="4" width="1.1" height="1.35" fill="#0025ff"/>
<rect x="-0.1" y="5" width="1.35" height="1.35" fill="#d7ff28"/>
<rect x="1" y="5" width="1.25" height="1.35" fill="#c5ff3a"/>
<rect x="2" y="5" width="1.25" height="1.35" fill="#b2ff4d"/>
<rect x="3" y="5" width="1.25" height="1.35" fill="#a0ff5f"/>
<rect x="4" y="5" width="1.25" height="1.35" fill="#8cff73"/>
<rect x="5" y="5" width="1.25" height="1.35" fill="#74ff8b"/>
<rect x="6" y="5" width="1.25" height="1.35" fill="#5bffa4"/>
<rect x="7" y="5" width="1.25" height="1.35" fill="#44ffbb"/>
<rect x="8" y="5" width="1.25" height="1.35" fill="#2fffd0"/>
<rect x="9" y="5" width="1.25" height="1.35" fill="#1cffe3"/>
<rect x="10" y="5" width="1.25" height="1.35" fill="#0afff5"/>
<rect x="11" y="5" width="1.25" height="1.35" fill="#00f8ff"/>
<rect x="12" y="5" width="1.25" height="1.35" fill="#00e8ff"/>
<rect x="13" y="5" width="1.25" height="1.35" fill="#00d6ff"/>
<rect x="14" y="5" width="1.25" height="1.35" fill="#00c4ff"/>
<rect x="15" y="5" width="1.25" height="1.35" fill="#00b2ff"/>
<rect x="16" y="5" width="1.25" height="1.35" fill="#00a0ff"/>
<rect x="17" y="5" width="1.25" height="1.35" fill="#008eff"/>
<rect x="18" y="5" width="1.25" height="1.35" fill="#007dff"/>
<rect x="19" y="5" width="1.25" height="1.35" fill="#006fff"/>
<rect x="20" y="5" width="1.25" height="1.35" fill="#0061ff"/>
<rect x="21" y="5" width="1.25" height="1.35" fill="#0053ff"/>
<rect x="22" y="5" width="1.25" height="1.35" fill="#0044ff"/>
<rect x="23" y="5" width="1.1" height="1.35" fill="#0036ff"/>
<rect x="-0.1" y="6" width="1.35" height="1.35" fill="#dbff24"/>
<rect x="1" y="6" width="1.25" height="1.35" fill="#ccff33"/>
<rect x="2" y="6" width="1.25" height="1.35" fill="#bcff43"/>
<rect x="3" y="6" width="1.25" height="1.35" fill="#abff54"/>
<rect x="4" y="6" width="1.25" height="1.35" fill="#99ff66"/>
<rect x="5" y="6" width="1.25" height="1.35" fill="#82ff7d"/>
<rect x="6" y="6" width="1.25" height="1.35" fill="#6bff94"/>
<rect x="7" y="6" width="1.25" height="1.35" fill="#56ffa9"/>
<rect x="8" y="6" width="1.25" height="1.35" fill="#42ffbd"/>
<rect x="9" y="6" width="1.25" height="1.35" fill="#2fffd0"/>
<rect x="10" y="6" width="1.25" height="1.35" fill="#1fffe0"/>
<rect x="11" y="6" width="1.25" height="1.35" fill="#0ffff0"/>
<rect x="12" y="6" width="1.25" height="1.35" fill="#00feff"/>
<rect x="13" y="6" width="1.25" height="1.35" fill="#00edff"/>
<rect x="14" y="6" width="1.25" height="1.35" fill="#00dbff"/>
<rect x="15" y="6" width="1.25" height="1.35" fill="#00c9ff"/>
<rect x="16" y="6" width="1.25" height="1.35" fill="#00b7ff"/>
<rect x="17" y="6" width="1.25" height="1.35" fill="#00a5ff"/>
<rect x="18" y="6" width="1.25" height="1.35" fill="#0094ff"/>
<rect x="19" y="6" width="1.25" height="1.35" fill="#0085ff"/>
<rect x="20" y="6" width="1.25" height="1.35" fill="#0076ff"/>
<rect x="21" y="6" width="1.25" height="1.35" fill="#0068ff"/>
<rect x="22" y="6" width="1.25" height="1.35" fill="#005aff"/>
<rect x="23" y="6" width="1.1" height="1.35" fill="#004bff"/>
<rect x="-0.1" y="7" width="1.35" height="1.35" fill="#dfff20"/>
<rect x="1" y="7" width="1.25" height="1.35" fill="#d4ff2b"/>
<rect x="2" y="7" width="1.25" height="1.35" fill="#c7ff38"/>
<rect x="3" y="7" width="1.25" height="1.35" fill="#b7ff48"/>
<rect x="4" y="7" width="1.25" height="1.35" fill="#a5ff5a"/>
<rect x="5" y="7" width="1.25" height="1.35" fill="#91ff6e"/>
<rect x="6" y="7" width="1.25" height="1.35" fill="#7cff83"/>
<rect x="7" y="7" width="1.25" height="1.35" fill="#68ff97"/>
<rect x="8" y="7" width="1.25" height="1.35" fill="#55ffaa"/>
<rect x="9" y="7" width="1.25" height="1.35" fill="#44ffbb"/>
<rect x="10" y="7" width="1.25" height="1.35" fill="#34ffcb"/>
<rect x="11" y="7" width="1.25" height="1.35" fill="#26ffd9"/>
<rect x="12" y="7" width="1.25" height="1.35" fill="#16ffe9"/>
<rect x="13" y="7" width="1.25" height="1.35" fill="#05fffa"/>
<rect x="14" y="7" width="1.25" height="1.35" fill="#00f2ff"/>
<rect x="15" y="7" width="1.25" height="1.35" fill="#00e0ff"/>
<rect x="16" y="7" width="1.25" height="1.35" fill="#00ceff"/>
<rect x="17" y="7" width="1.25" height="1.35" fill="#00bcff"/>
<rect x="18" y="7" width="1.25" height="1.35" fill="#00acff"/>
<rect x="19" y="7" width="1.25" height="1.35" fill="#009dff"/>
<rect x="20" y="7" width="1.25" height="1.35" fill="#008eff"/>
<rect x="21" y="7" width="1.25" height="1.35" fill="#0080ff"/>
<rect x="22" y="7" width="1.25" height="1.35" fill="#0072ff"/>
<rect x="23" y="7" width="1.1" height="1.35" fill="#0063ff"/>
<rect x="-0.1" y="8" width="1.35" height="1.35" fill="#e3ff1c"/>
<rect x="1" y="8" width="1.25" height="1.35" fill="#dcff23"/>
<rect x="2" y="8" width="1.25" height="1.35" fill="#d1ff2e"/>
<rect x="3" y="8" width="1.25" height="1.35" fill="#c3ff3c"/>
<rect x="4" y="8" width="1.25" height="1.35" fill="#b3ff4c"/>
<rect x="5" y="8" width="1.25" height="1.35" fill="#a1ff5e"/>
<rect x="6" y="8" width="1.25" height="1.35" fill="#8eff71"/>
<rect x="7" y="8" width="1.25" height="1.35" fill="#7cff83"/>
<rect x="8" y="8" width="1.25" height="1.35" fill="#69ff96"/>
<rect x="9" y="8" width="1.25" height="1.35" fill="#59ffa6"/>
<rect x="10" y="8" width="1.25" height="1.35" fill="#4affb5"/>
<rect x="11" y="8" width="1.25" height="1.35" fill="#3dffc2"/>
<rect x="12" y="8" width="1.25" height="1.35" fill="#2effd1"/>
<rect x="13" y="8" width="1.25" height="1.35" fill="#1dffe2"/>
<rect x="14" y="8" width="1.25" height="1.35" fill="#0bfff4"/>
<rect x="15" y="8" width="1.25" height="1.35" fill="#00f8ff"/>
<rect x="16" y="8" width="1.25" height="1.35" fill="#00e6ff"/>
<rect x="17" y="8" width="1.25" height="1.35" fill="#00d5ff"/>
<rect x="18" y="8" width="1.25" height="1.35" fill="#00c5ff"/>
<rect x="19" y="8" width="1.25" height="1.35" fill="#00b6ff"/>
<rect x="20" y="8" width="1.25" height="1.35" fill="#00a8ff"/>
<rect x="21" y="8" width="1.25" height="1.35" fill="#009aff"/>
<rect x="22" y="8" width="1.25" height="1.35" fill="#008cff"/>
<rect x="23" y="8" width="1.1" height="1.35" fill="#007dff"/>
<rect x="-0.1" y="9" width="1.35" height="1.35" fill="#eaff15"/>
<rect x="1" y="9" width="1.25" height="1.35" fill="#e4ff1b"/>
<rect x="2" y="9" width="1.25" height="1.35" fill="#dcff23"/>
<rect x="3" y="9" width="1.25" height="1.35" fill="#d1ff2e"/>
<rect x="4" y="9" width="1.25" height="1.35" fill="#c3ff3c"/>
<rect x="5" y="9" width="1.25" height="1.35" fill="#b3ff4c"/>
<rect x="6" y="9" width="1.25" height="1.35" fill="#a1ff5e"/>
<rect x="7" y="9" width="1.25" height="1.35" fill="#8fff70"/>
<rect x="8" y="9" width="1.25" height="1.35" fill="#7eff81"/>
<rect x="9" y="9" width="1.25" height="1.35" fill="#6dff92"/>
<rect x="10" y="9" width="1.25" height="1.35" fill="#5fffa0"/>
<rect x="11" y="9" width="1.25" height="1.35" fill="#53ffac"/>
<rect x="12" y="9" width="1.25" height="1.35" fill="#45ffba"/>
<rect x="13" y="9" width="1.25" height="1.35" fill="#35ffca"/>
<rect x="14" y="9" width="1.25" height="1.35" fill="#23ffdc"/>
<rect x="15" y="9" width="1.25" height="1.35" fill="#11ffee"/>
<rect x="16" y="9" width="1.25" height="1.35" fill="#00ffff"/>
<rect x="17" y="9" width="1.25" height="1.35" fill="#00eeff"/>
<rect x="18" y="9" width="1.25" height="1.35" fill="#00dfff"/>
<rect x="19" y="9" width="1.25" height="1.35" fill="#00d0ff"/>
<rect x="20" y="9" width="1.25" height="1.35" fill="#00c3ff"/>
<rect x="21" y="9" width="1.25" height="1.35" fill="#00b5ff"/>
<rect x="22" y="9" width="1.25" height="1.35" fill="#00a7ff"/>
<rect x="23" y="9" width="1.1" height="1.35" fill="#009aff"/>
<rect x="-0.1" y="10" width="1.35" height="1.35" fill="#f2ff0d"/>
<rect x="1" y="10" width="1.25" height="1.35" fill="#eeff11"/>
<rect x="2" y="10" width="1.25" height="1.35" fill="#e8ff17"/>
<rect x="3" y="10" width="1.25" height="1.35" fill="#e0ff1f"/>
<rect x="4" y="10" width="1.25" height="1.35" fill="#d5ff2a"/>
<rect x="5" y="10" width="1.25" height="1.35" fill="#c6ff39"/>
<rect x="6" y="10" width="1.25" height="1.35" fill="#b6ff49"/>
<rect x="7" y="10" width="1.25" height="1.35" fill="#a4ff5b"/>
<rect x="8" y="10" width="1.25" height="1.35" fill="#92ff6d"/>
<rect x="9" y="10" width="1.25" height="1.35" fill="#82ff7d"/>
<rect x="10" y="10" width="1.25" height="1.35" fill="#75ff8a"/>
<rect x="11" y="10" width="1.25" height="1.35" fill="#6aff95"/>
<rect x="12" y="10" width="1.25" height="1.35" fill="#5dffa2"/>
<rect x="13" y="10" width="1.25" height="1.35" fill="#4dffb2"/>
<rect x="14" y="10" width="1.25" height="1.35" fill="#3bffc4"/>
<rect x="15" y="10" width="1.25" height="1.35" fill="#2affd5"/>
<rect x="16" y="10" width="1.25" height="1.35" fill="#1affe5"/>
<rect x="17" y="10" width="1.25" height="1.35" fill="#0afff5"/>
<rect x="18" y="10" width="1.25" height="1.35" fill="#00faff"/>
<rect x="19" y="10" width="1.25" height="1.35" fill="#00ecff"/>
<rect x="20" y="10" width="1.25" height="1.35" fill="#00e0ff"/>
<rect x="21" y="10" width="1.25" height="1.35" fill="#00d3ff"/>
<rect x="22" y="10" width="1.25" height="1.35" fill="#00c6ff"/>
<rect x="23" y="10" width="1.1" height="1.35" fill="#00b9ff"/>
<rect x="-0.1" y="11" width="1.35" height="1.35" fill="#faff05"/>
<rect x="1" y="11" width="1.25" height="1.35" fill="#f8ff07"/>
<rect x="2" y="11" width="1.25" height="1.35" fill="#f4ff0b"/>
<rect x="3" y="11" width="1.25" height="1.35" fill="#eeff11"/>
<rect x="4" y="11" width="1.25" height="1.35" fill="#e6ff19"/>
<rect x="5" y="11" width="1.25" height="1.35" fill="#daff25"/>
<rect x="6" y="11" width="1.25" height="1.35" fill="#cbff34"/>
<rect x="7" y="11" width="1.25" height="1.35" fill="#bbff44"/>
<rect x="8" y="11" width="1.25" height="1.35" fill="#a9ff56"/>
<rect x="9" y="11" width="1.25" height="1.35" fill="#9aff65"/>
<rect x="10" y="11" width="1.25" height="1.35" fill="#8eff71"/>
<rect x="11" y="11" width="1.25" height="1.35" fill="#83ff7c"/>
<rect x="12" y="11" width="1.25" height="1.35" fill="#77ff88"/>
<rect x="13" y="11" width="1.25" height="1.35" fill="#68ff97"/>
<rect x="14" y="11" width="1.25" height="1.35" fill="#57ffa8"/>
<rect x="15" y="11" width="1.25" height="1.35" fill="#46ffb9"/>
<rect x="16" y="11" width="1.25" height="1.35" fill="#37ffc8"/>
<rect x="17" y="11" width="1.25" height="1.35" fill="#28ffd7"/>
<rect x="18" y="11" width="1.25" height="1.35" fill="#1affe5"/>
<rect x="19" y="11" width="1.25" height="1.35" fill="#0dfff2"/>
<rect x="20" y="11" width="1.25" height="1.35" fill="#01fffe"/>
<rect x="21" y="11" width="1.25" height="1.35" fill="#00f4ff"/>
<rect x="22" y="11" width="1.25" height="1.35" fill="#00e8ff"/>
<rect x="23" y="11" width="1.1" height="1.35" fill="#00dbff"/>
<rect x="-0.1" y="12" width="1.35" height="1.35" fill="#fffd00"/>
<rect x="1" y="12" width="1.25" height="1.35" fill="#fffe00"/>
<rect x="2" y="12" width="1.25" height="1.35" fill="#feff01"/>
<rect x="3" y="12" width="1.25" height="1.35" fill="#fbff04"/>
<rect x="4" y="12" width="1.25" height="1.35" fill="#f4ff0b"/>
<rect x="5" y="12" width="1.25" height="1.35" fill="#ecff13"/>
<rect x="6" y="12" width="1.25" height="1.35" fill="#e1ff1e"/>
<rect x="7" y="12" width="1.25" height="1.35" fill="#d4ff2b"/>
<rect x="8" y="12" width="1.25" height="1.35" fill="#c5ff3a"/>
<rect x="9" y="12" width="1.25" height="1.35" fill="#b7ff48"/>
<rect x="10" y="12" width="1.25" height="1.35" fill="#adff52"/>
<rect x="11" y="12" width="1.25" height="1.35" fill="#a3ff5c"/>
<rect x="12" y="12" width="1.25" height="1.35" fill="#98ff67"/>
<rect x="13" y="12" width="1.25" height="1.35" fill="#8aff75"/>
<rect x="14" y="12" width="1.25" height="1.35" fill="#79ff86"/>
<rect x="15" y="12" width="1.25" height="1.35" fill="#69ff96"/>
<rect x="16" y="12" width="1.25" height="1.35" fill="#5affa5"/>
<rect x="17" y="12" width="1.25" height="1.35" fill="#4bffb4"/>
<rect x="18" y="12" width="1.25" height="1.35" fill="#3dffc2"/>
<rect x="19" y="12" width="1.25" height="1.35" fill="#31ffce"/>
<rect x="20" y="12" width="1.25" height="1.35" fill="#27ffd8"/>
<rect x="21" y="12" width="1.25" height="1.35" fill="#1cffe3"/>
<rect x="22" y="12" width="1.25" height="1.35" fill="#10ffef"/>
<rect x="23" y="12" width="1.1" height="1.35" fill="#05fffa"/>
<rect x="-0.1" y="13" width="1.35" height="1.35" fill="#fff700"/>
<rect x="1" y="13" width="2.25" height="1.35" fill="#fff500"/>
<rect x="3" y="13" width="1.25" height="1.35" fill="#fff700"/>
<rect x="4" y="13" width="1.25" height="1.35" fill="#fffb00"/>
<rect x="5" y="13" width="1.25" height="1.35" fill="#feff01"/>
<rect x="6" y="13" width="1.25" height="1.35" fill="#f7ff08"/>
<rect x="7" y="13" width="1.25" height="1.35" fill="#eeff11"/>
<rect x="8" y="13" width="1.25" height="1.35" fill="#e3ff1c"/>
<rect x="9" y="13" width="1.25" height="1.35" fill="#d9ff26"/>
<rect x="10" y="13" width="1.25" height="1.35" fill="#d0ff2f"/>
<rect x="11" y="13" width="1.25" height="1.35" fill="#c8ff37"/>
<rect x="12" y="13" width="1.25" height="1.35" fill="#beff41"/>
<rect x="13" y="13" width="1.25" height="1.35" fill="#b1ff4e"/>
<rect x="14" y="13" width="1.25" height="1.35" fill="#a1ff5e"/>
<rect x="15" y="13" width="1.25" height="1.35" fill="#91ff6e"/>
<rect x="16" y="13" width="1.25" height="1.35" fill="#82ff7d"/>
<rect x="17" y="13" width="1.25" height="1.35" fill="#72ff8d"/>
<rect x="18" y="13" width="1.25" height="1.35" fill="#65ff9a"/>
<rect x="19" y="13" width="1.25" height="1.35" fill="#5affa5"/>
<rect x="20" y="13" width="1.25" height="1.35" fill="#51ffae"/>
<rect x="21" y="13" width="1.25" height="1.35" fill="#48ffb7"/>
<rect x="22" y="13" width="1.25" height="1.35" fill="#3dffc2"/>
<rect x="23" y="13" width="1.1" height="1.35" fill="#32ffcd"/>
<rect x="-0.1" y="14" width="1.35" height="1.35" fill="#fff000"/>
<rect x="1" y="14" width="1.25" height="1.35" fill="#ffeb00"/>
<rect x="2" y="14" width="2.25" height="1.35" fill="#ffea00"/>
<rect x="4" y="14" width="1.25" height="1.35" fill="#ffec00"/>
<rect x="5" y="14" width="1.25" height="1.35" fill="#ffed00"/>
<rect x="6" y="14" width="1.25" height="1.35" fill="#fff000"/>
<rect x="7" y="14" width="1.25" height="1.35" fill="#fff500"/>
<rect x="8" y="14" width="1.25" height="1.35" fill="#fffc00"/>
<rect x="9" y="14" width="1.25" height="1.35" fill="#faff05"/>
<rect x="10" y="14" width="1.25" height="1.35" fill="#f3ff0c"/>
<rect x="11" y="14" width="1.25" height="1.35" fill="#ecff13"/>
<rect x="12" y="14" width="1.25" height="1.35" fill="#e3ff1c"/>
<rect x="13" y="14" width="1.25" height="1.35" fill="#d8ff27"/>
<rect x="14" y="14" width="1.25" height="1.35" fill="#c9ff36"/>
<rect x="15" y="14" width="1.25" height="1.35" fill="#bbff44"/>
<rect x="16" y="14" width="1.25" height="1.35" fill="#acff53"/>
<rect x="17" y="14" width="1.25" height="1.35" fill="#9dff62"/>
<rect x="18" y="14" width="1.25" height="1.35" fill="#90ff6f"/>
<rect x="19" y="14" width="1.25" height="1.35" fill="#86ff79"/>
<rect x="20" y="14" width="1.25" height="1.35" fill="#7eff81"/>
<rect x="21" y="14" width="1.25" height="1.35" fill="#75ff8a"/>
<rect x="22" y="14" width="1.25" height="1.35" fill="#6bff94"/>
<rect x="23" y="14" width="1.1" height="1.35" fill="#61ff9e"/>
<rect x="-0.1" y="15" width="1.35" height="1.35" fill="#ffe700"/>
<rect x="1" y="15" width="1.25" height="1.35" fill="#ffe000"/>
<rect x="2" y="15" width="1.25" height="1.35" fill="#ffdc00"/>
<rect x="3" y="15" width="1.25" height="1.35" fill="#ffda00"/>
<rect x="4" y="15" width="3.25" height="1.35" fill="#ffd900"/>
<rect x="7" y="15" width="1.25" height="1.35" fill="#ffdb00"/>
<rect x="8" y="15" width="1.25" height="1.35" fill="#ffe000"/>
<rect x="9" y="15" width="1.25" height="1.35" fill="#ffe600"/>
<rect x="10" y="15" width="1.25" height="1.35" fill="#ffec00"/>
<rect x="11" y="15" width="1.25" height="1.35" fill="#fff200"/>
<rect x="12" y="15" width="1.25" height="1.35" fill="#fff900"/>
<rect x="13" y="15" width="1.25" height="1.35" fill="#fcff03"/>
<rect x="14" y="15" width="1.25" height="1.35" fill="#f1ff0e"/>
<rect x="15" y="15" width="1.25" height="1.35" fill="#e5ff1a"/>
<rect x="16" y="15" width="1.25" height="1.35" fill="#d8ff27"/>
<rect x="17" y="15" width="1.25" height="1.35" fill="#caff35"/>
<rect x="18" y="15" width="1.25" height="1.35" fill="#beff41"/>
<rect x="19" y="15" width="1.25" height="1.35" fill="#b4ff4b"/>
<rect x="20" y="15" width="1.25" height="1.35" fill="#acff53"/>
<rect x="21" y="15" width="1.25" height="1.35" fill="#a3ff5c"/>
<rect x="22" y="15" width="1.25" height="1.35" fill="#99ff66"/>
<rect x="23" y="15" width="1.1" height="1.35" fill="#8fff70"/>
<rect x="-0.1" y="16" width="1.35" height="1.35" fill="#ffde00"/>
<rect x="1" y="16" width="1.25" height="1.35" fill="#ffd400"/>
<rect x="2" y="16" width="1.25" height="1.35" fill="#ffcd00"/>
<rect x="3" y="16" width="1.25" height="1.35" fill="#ffc800"/>
<rect x="4" y="16" width="1.25" height="1.35" fill="#ffc500"/>
<rect x="5" y="16" width="1.25" height="1.35" fill="#ffc300"/>
<rect x="6" y="16" width="1.25" height="1.35" fill="#ffc200"/>
<rect x="7" y="16" width="1.25" height="1.35" fill="#ffc300"/>
<rect x="8" y="16" width="1.25" height="1.35" fill="#ffc600"/>
<rect x="9" y="16" width="1.25" height="1.35" fill="#ffc900"/>
<rect x="10" y="16" width="1.25" height="1.35" fill="#ffcd00"/>
<rect x="11" y="16" width="1.25" height="1.35" fill="#ffd200"/>
<rect x="12" y="16" width="1.25" height="1.35" fill="#ffd800"/>
<rect x="13" y="16" width="1.25" height="1.35" fill="#ffde00"/>
<rect x="14" y="16" width="1.25" height="1.35" fill="#ffe500"/>
<rect x="15" y="16" width="1.25" height="1.35" fill="#ffed00"/>
<rect x="16" y="16" width="1.25" height="1.35" fill="#fff700"/>
<rect x="17" y="16" width="1.25" height="1.35" fill="#fbff04"/>
<rect x="18" y="16" width="1.25" height="1.35" fill="#f0ff0f"/>
<rect x="19" y="16" width="1.25" height="1.35" fill="#e6ff19"/>
<rect x="20" y="16" width="1.25" height="1.35" fill="#dcff23"/>
<rect x="21" y="16" width="1.25" height="1.35" fill="#d2ff2d"/>
<rect x="22" y="16" width="1.25" height="1.35" fill="#c8ff37"/>
<rect x="23" y="16" width="1.1" height="1.35" fill="#beff41"/>
<rect x="-0.1" y="17" width="1.35" height="1.35" fill="#ffd500"/>
<rect x="1" y="17" width="1.25" height="1.35" fill="#ffc700"/>
<rect x="2" y="17" width="1.25" height="1.35" fill="#ffbd00"/>
<rect x="3" y="17" width="1.25" height="1.35" fill="#ffb400"/>
<rect x="4" y="17" width="1.25" height="1.35" fill="#ffae00"/>
<rect x="5" y="17" width="1.25" height="1.35" fill="#ffaa00"/>
<rect x="6" y="17" width="4.25" height="1.35" fill="#ffa800"/>
<rect x="10" y="17" width="1.25" height="1.35" fill="#ffaa00"/>
<rect x="11" y="17" width="1.25" height="1.35" fill="#ffae00"/>
<rect x="12" y="17" width="1.25" height="1.35" fill="#ffb300"/>
<rect x="13" y="17" width="1.25" height="1.35" fill="#ffb700"/>
<rect x="14" y="17" width="1.25" height="1.35" fill="#ffbb00"/>
<rect x="15" y="17" width="1.25" height="1.35" fill="#ffc100"/>
<rect x="16" y="17" width="1.25" height="1.35" fill="#ffc800"/>
<rect x="17" y="17" width="1.25" height="1.35" fill="#ffd200"/>
<rect x="18" y="17" width="1.25" height="1.35" fill="#ffdb00"/>
<rect x="19" y="17" width="1.25" height="1.35" fill="#ffe500"/>
<rect x="20" y="17" width="1.25" height="1.35" fill="#fff000"/>
<rect x="21" y="17" width="1.25" height="1.35" fill="#fffa00"/>
<rect x="22" y="17" width="1.25" height="1.35" fill="#faff05"/>
<rect x="23" y="17" width="1.1" height="1.35" fill="#f0ff0f"/>
<rect x="-0.1" y="18" width="1.35" height="1.35" fill="#ffce00"/>
<rect x="1" y="18" width="1.25" height="1.35" fill="#ffbb00"/>
<rect x="2" y="18" width="1.25" height="1.35" fill="#ffac00"/>
<rect x="3" y="18" width="1.25" height="1.35" fill="#ff9f00"/>
<rect x="4" y="18" width="1.25" height="1.35" fill="#ff9600"/>
<rect x="5" y="18" width="1.25" height="1.35" fill="#ff8f00"/>
<rect x="6" y="18" width="1.25" height="1.35" fill="#ff8a00"/>
<rect x="7" y="18" width="1.25" height="1.35" fill="#ff8600"/>
<rect x="8" y="18" width="1.25" height="1.35" fill="#ff8300"/>
<rect x="9" y="18" width="2.25" height="1.35" fill="#ff8200"/>
<rect x="11" y="18" width="1.25" height="1.35" fill="#ff8300"/>
<rect x="12" y="18" width="1.25" height="1.35" fill="#ff8500"/>
<rect x="13" y="18" width="1.25" height="1.35" fill="#ff8900"/>
<rect x="14" y="18" width="1.25" height="1.35" fill="#ff8f00"/>
<rect x="15" y="18" width="1.25" height="1.35" fill="#ff9600"/>
<rect x="16" y="18" width="1.25" height="1.35" fill="#ff9c00"/>
<rect x="17" y="18" width="1.25" height="1.35" fill="#ffa200"/>
<rect x="18" y="18" width="1.25" height="1.35" fill="#ffa900"/>
<rect x="19" y="18" width="1.25" height="1.35" fill="#ffb100"/>
<rect x="20" y="18" width="1.25" height="1.35" fill="#ffb900"/>
<rect x="21" y="18" width="1.25" height="1.35" fill="#ffc300"/>
<rect x="22" y="18" width="1.25" height="1.35" fill="#ffcf00"/>
<rect x="23" y="18" width="1.1" height="1.35" fill="#ffdc00"/>
<rect x="-0.1" y="19" width="1.35" height="1.35" fill="#ffc700"/>
<rect x="1" y="19" width="1.25" height="1.35" fill="#ffae00"/>
<rect x="2" y="19" width="1.25" height="1.35" fill="#ff9a00"/>
<rect x="3" y="19" width="1.25" height="1.35" fill="#ff8900"/>
<rect x="4" y="19" width="1.25" height="1.35" fill="#ff7b00"/>
<rect x="5" y="19" width="1.25" height="1.35" fill="#ff7100"/>
<rect x="6" y="19" width="1.25" height="1.35" fill="#ff6900"/>
<rect x="7" y="19" width="1.25" height="1.35" fill="#ff6200"/>
<rect x="8" y="19" width="1.25" height="1.35" fill="#ff5c00"/>
<rect x="9" y="19" width="1.25" height="1.35" fill="#ff5900"/>
<rect x="10" y="19" width="1.25" height="1.35" fill="#ff5700"/>
<rect x="11" y="19" width="2.25" height="1.35" fill="#ff5500"/>
<rect x="13" y="19" width="1.25" height="1.35" fill="#ff5900"/>
<rect x="14" y="19" width="1.25" height="1.35" fill="#ff6100"/>
<rect x="15" y="19" width="1.25" height="1.35" fill="#ff6900"/>
<rect x="16" y="19" width="1.25" height="1.35" fill="#ff6d00"/>
<rect x="17" y="19" width="1.25" height="1.35" fill="#ff7100"/>
<rect x="18" y="19" width="1.25" height="1.35" fill="#ff7500"/>
<rect x="19" y="19" width="1.25" height="1.35" fill="#ff7b00"/>
<rect x="20" y="19" width="1.25" height="1.35" fill="#ff8100"/>
<rect x="21" y="19" width="1.25" height="1.35" fill="#ff8a00"/>
<rect x="22" y="19" width="1.25" height="1.35" fill="#ff9500"/>
<rect x="23" y="19" width="1.1" height="1.35" fill="#ffa400"/>
<rect x="-0.1" y="20" width="1.35" height="1.35" fill="#ffbf00"/>
<rect x="1" y="20" width="1.25" height="1.35" fill="#ffa200"/>
<rect x="2" y="20" width="1.25" height="1.35" fill="#ff8900"/>
<rect x="3" y="20" width="1.25" height="1.35" fill="#ff7200"/>
<rect x="4" y="20" width="1.25" height="1.35" fill="#ff5f00"/>
<rect x="5" y="20" width="1.25" height="1.35" fill="#ff5200"/>
<rect x="6" y="20" width="1.25" height="1.35" fill="#ff4700"/>
<rect x="7" y="20" width="1.25" height="1.35" fill="#ff3f00"/>
<rect x="8" y="20" width="1.25" height="1.35" fill="#ff3700"/>
<rect x="9" y="20" width="1.25" height="1.35" fill="#ff3200"/>
<rect x="10" y="20" width="1.25" height="1.35" fill="#ff2e00"/>
<rect x="11" y="20" width="1.25" height="1.35" fill="#ff2b00"/>
<rect x="12" y="20" width="1.25" height="1.35" fill="#ff2900"/>
<rect x="13" y="20" width="1.25" height="1.35" fill="#ff2c00"/>
<rect x="14" y="20" width="1.25" height="1.35" fill="#ff3200"/>
<rect x="15" y="20" width="1.25" height="1.35" fill="#ff3700"/>
<rect x="16" y="20" width="1.25" height="1.35" fill="#ff3a00"/>
<rect x="17" y="20" width="1.25" height="1.35" fill="#ff3c00"/>
<rect x="18" y="20" width="1.25" height="1.35" fill="#ff3f00"/>
<rect x="19" y="20" width="1.25" height="1.35" fill="#ff4300"/>
<rect x="20" y="20" width="1.25" height="1.35" fill="#ff4900"/>
<rect x="21" y="20" width="1.25" height="1.35" fill="#ff4f00"/>
<rect x="22" y="20" width="1.25" height="1.35" fill="#ff5800"/>
<rect x="23" y="20" width="1.1" height="1.35" fill="#ff6200"/>
<rect x="-0.1" y="21" width="1.35" height="1.35" fill="#ffb700"/>
<rect x="1" y="21" width="1.25" height="1.35" fill="#ff9600"/>
<rect x="2" y="21" width="1.25" height="1.35" fill="#ff7700"/>
<rect x="3" y="21" width="1.25" height="1.35" fill="#ff5900"/>
<rect x="4" y="21" width="1.25" height="1.35" fill="#ff4000"/>
<rect x="5" y="21" width="1.25" height="1.35" fill="#ff3000"/>
<rect x="6" y="21" width="1.25" height="1.35" fill="#ff2400"/>
<rect x="7" y="21" width="1.25" height="1.35" fill="#ff1900"/>
<rect x="8" y="21" width="1.25" height="1.35" fill="#ff1000"/>
<rect x="9" y="21" width="1.25" height="1.35" fill="#ff0900"/>
<rect x="10" y="21" width="1.25" height="1.35" fill="#ff0300"/>
<rect x="11" y="21" width="1.25" height="1.35" fill="#fc0000"/>
<rect x="12" y="21" width="1.25" height="1.35" fill="#fa0000"/>
<rect x="13" y="21" width="1.25" height="1.35" fill="#fb0000"/>
<rect x="14" y="21" width="1.25" height="1.35" fill="#fc0000"/>
<rect x="15" y="21" width="1.25" height="1.35" fill="#fe0000"/>
<rect x="16" y="21" width="1.25" height="1.35" fill="#ff0100"/>
<rect x="17" y="21" width="1.25" height="1.35" fill="#ff0300"/>
<rect x="18" y="21" width="1.25" height="1.35" fill="#ff0500"/>
<rect x="19" y="21" width="1.25" height="1.35" fill="#ff0900"/>
<rect x="20" y="21" width="1.25" height="1.35" fill="#ff0e00"/>
<rect x="21" y="21" width="1.25" height="1.35" fill="#ff1400"/>
<rect x="22" y="21" width="1.25" height="1.35" fill="#ff1900"/>
<rect x="23" y="21" width="1.1" height="1.35" fill="#ff1e00"/>
<rect x="-0.1" y="22" width="1.35" height="1.35" fill="#ffaf00"/>
<rect x="1" y="22" width="1.25" height="1.35" fill="#ff8800"/>
<rect x="2" y="22" width="1.25" height="1.35" fill="#ff6300"/>
<rect x="3" y="22" width="1.25" height="1.35" fill="#ff3c00"/>
<rect x="4" y="22" width="1.25" height="1.35" fill="#ff1e00"/>
<rect x="5" y="22" width="1.25" height="1.35" fill="#ff0c00"/>
<rect x="6" y="22" width="1.25" height="1.35" fill="#fe0000"/>
<rect x="7" y="22" width="1.25" height="1.35" fill="#f10000"/>
<rect x="8" y="22" width="1.25" height="1.35" fill="#e50000"/>
<rect x="9" y="22" width="1.25" height="1.35" fill="#da0000"/>
<rect x="10" y="22" width="1.25" height="1.35" fill="#d00000"/>
<rect x="11" y="22" width="1.25" height="1.35" fill="#c60000"/>
<rect x="12" y="22" width="1.25" height="1.35" fill="#c10000"/>
<rect x="13" y="22" width="1.25" height="1.35" fill="#c00000"/>
<rect x="14" y="22" width="2.25" height="1.35" fill="#bf0000"/>
<rect x="16" y="22" width="1.25" height="1.35" fill="#c00000"/>
<rect x="17" y="22" width="1.25" height="1.35" fill="#c30000"/>
<rect x="18" y="22" width="1.25" height="1.35" fill="#c60000"/>
<rect x="19" y="22" width="1.25" height="1.35" fill="#ca0000"/>
<rect x="20" y="22" width="1.25" height="1.35" fill="#d00000"/>
<rect x="21" y="22" width="1.25" height="1.35" fill="#d50000"/>
<rect x="22" y="22" width="1.25" height="1.35" fill="#da0000"/>
<rect x="23" y="22" width="1.1" height="1.35" fill="#de0000"/>
<rect x="-0.1" y="23" width="1.35" height="1.15" fill="#ffa800"/>
<rect x="1" y="23" width="1.25" height="1.15" fill="#ff7900"/>
<rect x="2" y="23" width="1.25" height="1.15" fill="#ff4c00"/>
<rect x="3" y="23" width="1.25" height="1.15" fill="#ff1c00"/>
<rect x="4" y="23" width="1.25" height="1.15" fill="#f60000"/>
<rect x="5" y="23" width="1.25" height="1.15" fill="#e50000"/>
<rect x="6" y="23" width="1.25" height="1.15" fill="#d70000"/>
<rect x="7" y="23" width="1.25" height="1.15" fill="#c70000"/>
<rect x="8" y="23" width="1.25" height="1.15" fill="#b70000"/>
<rect x="9" y="23" width="1.25" height="1.15" fill="#a80000"/>
<rect x="10" y="23" width="1.25" height="1.15" fill="#980000"/>
<rect x="11" y="23" width="1.25" height="1.15" fill="#890000"/>
<rect x="12" y="23" width="6.25" height="1.15" fill="#800000"/>
<rect x="18" y="23" width="1.25" height="1.15" fill="#840000"/>
<rect x="19" y="23" width="1.25" height="1.15" fill="#890000"/>
<rect x="20" y="23" width="1.25" height="1.15" fill="#900000"/>
<rect x="21" y="23" width="1.25" height="1.15" fill="#960000"/>
<rect x="22" y="23" width="1.25" height="1.15" fill="#9c0000"/>
<rect x="23" y="23" width="1.1" height="1.15" fill="#a20000"/>
</g>
<path fill="#fff" fill-rule="evenodd" d="M427.30 11.92h258.20v168.75h-258.20zM429.10 13.72h254.60v165.15h-254.60z"/>
<path d="M429.20 13.72V178.77H683.70" fill="none" stroke="#3a3a20" stroke-opacity="0.3" stroke-width="0.8"/>
<polyline points="429.1,78.2 433.4,80.2 437.7,82.2 442.0,84.1 446.4,85.9 450.7,87.7 455.0,89.5 459.3,91.1 463.6,92.8 467.9,94.4 472.3,95.9 476.6,97.4 480.9,98.9 485.2,100.3 489.5,101.6 493.8,103.0 498.1,104.2 502.5,105.5 506.8,106.7 511.1,107.9 515.4,109.0 519.7,110.1 524.0,111.2 528.4,112.2 532.7,113.2 537.0,114.2 541.3,115.1 545.6,116.0 549.9,116.9 554.2,117.8 558.6,118.7 562.9,119.5 567.2,120.3 571.5,121.1 575.8,121.8 580.1,122.6 584.4,123.3 588.8,124.0 593.1,124.7 597.4,125.4 601.7,126.1 606.0,126.8 610.3,127.4 614.7,128.1 619.0,128.8 623.3,129.4 627.6,130.0 631.9,130.7 636.2,131.3 640.5,131.9 644.9,132.6 649.2,133.2 653.5,133.9 657.8,134.5 662.1,135.2 666.4,135.8 670.8,136.5 675.1,137.2 679.4,137.9 683.7,138.6" fill="none" stroke="#ff00ee" stroke-width="2" stroke-linecap="round" stroke-linejoin="round"/>
<g transform="translate(94.35,194.30) scale(10.6104,6.8813)">
<rect x="-0.1" y="-0.15" width="1.35" height="1.5" fill="#c3ff3c"/>
<rect x="1" y="-0.15" width="1.25" height="1.5" fill="#b0ff4f"/>
<rect x="2" y="-0.15" width="1.25" height="1.5" fill="#a0ff5f"/>
<rect x="3" y="-0.15" width="1.25" height="1.5" fill="#92ff6d"/>
<rect x="4" y="-0.15" width="1.25" height="1.5" fill="#86ff79"/>
<rect x="5" y="-0.15" width="1.25" height="1.5" fill="#79ff86"/>
<rect x="6" y="-0.15" width="1.25" height="1.5" fill="#6dff92"/>
<rect x="7" y="-0.15" width="1.25" height="1.5" fill="#60ff9f"/>
<rect x="8" y="-0.15" width="1.25" height="1.5" fill="#53ffac"/>
<rect x="9" y="-0.15" width="1.25" height="1.5" fill="#44ffbb"/>
<rect x="10" y="-0.15" width="1.25" height="1.5" fill="#38ffc7"/>
<rect x="11" y="-0.15" width="1.25" height="1.5" fill="#31ffce"/>
<rect x="12" y="-0.15" width="1.25" height="1.5" fill="#2affd5"/>
<rect x="13" y="-0.15" width="1.25" height="1.5" fill="#1fffe0"/>
<rect x="14" y="-0.15" width="1.25" height="1.5" fill="#12ffed"/>
<rect x="15" y="-0.15" width="1.25" height="1.5" fill="#05fffa"/>
<rect x="16" y="-0.15" width="1.25" height="1.5" fill="#00f8ff"/>
<rect x="17" y="-0.15" width="1.25" height="1.5" fill="#00edff"/>
<rect x="18" y="-0.15" width="1.25" height="1.5" fill="#00e1ff"/>
<rect x="19" y="-0.15" width="1.25" height="1.5" fill="#00d6ff"/>
<rect x="20" y="-0.15" width="1.25" height="1.5" fill="#00caff"/>
<rect x="21" y="-0.15" width="1.25" height="1.5" fill="#00bfff"/>
<rect x="22" y="-0.15" width="1.25" height="1.5" fill="#00b3ff"/>
<rect x="23" y="-0.15" width="1.1" height="1.5" fill="#00a6ff"/>
<rect x="-0.1" y="1" width="1.35" height="1.35" fill="#c5ff3a"/>
<rect x="1" y="1" width="1.25" height="1.35" fill="#b2ff4d"/>
<rect x="2" y="1" width="1.25" height="1.35" fill="#a3ff5c"/>
<rect x="3" y="1" width="1.25" height="1.35" fill="#96ff69"/>
<rect x="4" y="1" width="1.25" height="1.35" fill="#8bff74"/>
<rect x="5" y="1" width="1.25" height="1.35" fill="#7fff80"/>
<rect x="6" y="1" width="1.25" height="1.35" fill="#72ff8d"/>
<rect x="7" y="1" width="1.25" height="1.35" fill="#66ff99"/>
<rect x="8" y="1" width="1.25" height="1.35" fill="#59ffa6"/>
<rect x="9" y="1" width="1.25" height="1.35" fill="#4bffb4"/>
<rect x="10" y="1" width="1.25" height="1.35" fill="#3effc1"/>
<rect x="11" y="1" width="1.25" height="1.35" fill="#38ffc7"/>
<rect x="12" y="1" width="1.25" height="1.35" fill="#32ffcd"/>
<rect x="13" y="1" width="1.25" height="1.35" fill="#28ffd7"/>
<rect x="14" y="1" width="1.25" height="1.35" fill="#1cffe3"/>
<rect x="15" y="1" width="1.25" height="1.35" fill="#10ffef"/>
<rect x="16" y="1" width="1.25" height="1.35" fill="#05fffa"/>
<rect x="17" y="1" width="1.25" height="1.35" fill="#00f9ff"/>
<rect x="18" y="1" width="1.25" height="1.35" fill="#00eeff"/>
<rect x="19" y="1" width="1.25" height="1.35" fill="#00e3ff"/>
<rect x="20" y="1" width="1.25" height="1.35" fill="#00d8ff"/>
<rect x="21" y="1" width="1.25" height="1.35" fill="#00ccff"/>
<rect x="22" y="1" width="1.25" height="1.35" fill="#00c1ff"/>
<rect x="23" y="1" width="1.1" height="1.35" fill="#00b6ff"/>
<rect x="-0.1" y="2" width="1.35" height="1.35" fill="#c6ff39"/>
<rect x="1" y="2" width="1.25" height="1.35" fill="#b5ff4a"/>
<rect x="2" y="2" width="1.25" height="1.35" fill="#a6ff59"/>
<rect x="3" y="2" width="1.25" height="1.35" fill="#9bff64"/>
<rect x="4" y="2" width="1.25" height="1.35" fill="#90ff6f"/>
<rect x="5" y="2" width="1.25" height="1.35" fill="#84ff7b"/>
<rect x="6" y="2" width="1.25" height="1.35" fill="#78ff87"/>
<rect x="7" y="2" width="1.25" height="1.35" fill="#6cff93"/>
<rect x="8" y="2" width="1.25" height="1.35" fill="#60ff9f"/>
<rect x="9" y="2" width="1.25" height="1.35" fill="#52ffad"/>
<rect x="10" y="2" width="1.25" height="1.35" fill="#46ffb9"/>
<rect x="11" y="2" width="1.25" height="1.35" fill="#3fffc0"/>
<rect x="12" y="2" width="1.25" height="1.35" fill="#3affc5"/>
<rect x="13" y="2" width="1.25" height="1.35" fill="#31ffce"/>
<rect x="14" y="2" width="1.25" height="1.35" fill="#26ffd9"/>
<rect x="15" y="2" width="1.25" height="1.35" fill="#1cffe3"/>
<rect x="16" y="2" width="1.25" height="1.35" fill="#11ffee"/>
<rect x="17" y="2" width="1.25" height="1.35" fill="#06fff9"/>
<rect x="18" y="2" width="1.25" height="1.35" fill="#00faff"/>
<rect x="19" y="2" width="1.25" height="1.35" fill="#00f0ff"/>
<rect x="20" y="2" width="1.25" height="1.35" fill="#00e5ff"/>
<rect x="21" y="2" width="1.25" height="1.35" fill="#00daff"/>
<rect x="22" y="2" width="1.25" height="1.35" fill="#00d0ff"/>
<rect x="23" y="2" width="1.1" height="1.35" fill="#00c5ff"/>
<rect x="-0.1" y="3" width="1.35" height="1.35" fill="#c9ff36"/>
<rect x="1" y="3" width="1.25" height="1.35" fill="#b8ff47"/>
<rect x="2" y="3" width="1.25" height="1.35" fill="#aaff55"/>
<rect x="3" y="3" width="1.25" height="1.35" fill="#9fff60"/>
<rect x="4" y="3" width="1.25" height="1.35" fill="#95ff6a"/>
<rect x="5" y="3" width="1.25" height="1.35" fill="#8aff75"/>
<rect x="6" y="3" width="1.25" height="1.35" fill="#7eff81"/>
<rect x="7" y="3" width="1.25" height="1.35" fill="#73ff8c"/>
<rect x="8" y="3" width="1.25" height="1.35" fill="#67ff98"/>
<rect x="9" y="3" width="1.25" height="1.35" fill="#59ffa6"/>
<rect x="10" y="3" width="1.25" height="1.35" fill="#4dffb2"/>
<rect x="11" y="3" width="1.25" height="1.35" fill="#47ffb8"/>
<rect x="12" y="3" width="1.25" height="1.35" fill="#42ffbd"/>
<rect x="13" y="3" width="1.25" height="1.35" fill="#3affc5"/>
<rect x="14" y="3" width="1.25" height="1.35" fill="#30ffcf"/>
<rect x="15" y="3" width="1.25" height="1.35" fill="#27ffd8"/>
<rect x="16" y="3" width="1.25" height="1.35" fill="#1dffe2"/>
<rect x="17" y="3" width="1.25" height="1.35" fill="#12ffed"/>
<rect x="18" y="3" width="1.25" height="1.35" fill="#08fff7"/>
<rect x="19" y="3" width="1.25" height="1.35" fill="#00fcff"/>
<rect x="20" y="3" width="1.25" height="1.35" fill="#00f2ff"/>
<rect x="21" y="3" width="1.25" height="1.35" fill="#00e8ff"/>
<rect x="22" y="3" width="1.25" height="1.35" fill="#00deff"/>
<rect x="23" y="3" width="1.1" height="1.35" fill="#00d5ff"/>
<rect x="-0.1" y="4" width="1.35" height="1.35" fill="#cbff34"/>
<rect x="1" y="4" width="1.25" height="1.35" fill="#bbff44"/>
<rect x="2" y="4" width="1.25" height="1.35" fill="#aeff51"/>
<rect x="3" y="4" width="1.25" height="1.35" fill="#a4ff5b"/>
<rect x="4" y="4" width="1.25" height="1.35" fill="#9bff64"/>
<rect x="5" y="4" width="1.25" height="1.35" fill="#90ff6f"/>
<rect x="6" y="4" width="1.25" height="1.35" fill="#85ff7a"/>
<rect x="7" y="4" width="1.25" height="1.35" fill="#7aff85"/>
<rect x="8" y="4" width="1.25" height="1.35" fill="#6fff90"/>
<rect x="9" y="4" width="1.25" height="1.35" fill="#62ff9d"/>
<rect x="10" y="4" width="1.25" height="1.35" fill="#56ffa9"/>
<rect x="11" y="4" width="1.25" height="1.35" fill="#50ffaf"/>
<rect x="12" y="4" width="1.25" height="1.35" fill="#4affb5"/>
<rect x="13" y="4" width="1.25" height="1.35" fill="#43ffbc"/>
<rect x="14" y="4" width="1.25" height="1.35" fill="#3affc5"/>
<rect x="15" y="4" width="1.25" height="1.35" fill="#32ffcd"/>
<rect x="16" y="4" width="1.25" height="1.35" fill="#28ffd7"/>
<rect x="17" y="4" width="1.25" height="1.35" fill="#1effe1"/>
<rect x="18" y="4" width="1.25" height="1.35" fill="#14ffeb"/>
<rect x="19" y="4" width="1.25" height="1.35" fill="#0afff5"/>
<rect x="20" y="4" width="1.25" height="1.35" fill="#00feff"/>
<rect x="21" y="4" width="1.25" height="1.35" fill="#00f5ff"/>
<rect x="22" y="4" width="1.25" height="1.35" fill="#00ecff"/>
<rect x="23" y="4" width="1.1" height="1.35" fill="#00e3ff"/>
<rect x="-0.1" y="5" width="1.35" height="1.35" fill="#cdff32"/>
<rect x="1" y="5" width="1.25" height="1.35" fill="#bfff40"/>
<rect x="2" y="5" width="1.25" height="1.35" fill="#b2ff4d"/>
<rect x="3" y="5" width="1.25" height="1.35" fill="#a9ff56"/>
<rect x="4" y="5" width="1.25" height="1.35" fill="#a0ff5f"/>
<rect x="5" y="5" width="1.25" height="1.35" fill="#96ff69"/>
<rect x="6" y="5" width="1.25" height="1.35" fill="#8cff73"/>
<rect x="7" y="5" width="1.25" height="1.35" fill="#82ff7d"/>
<rect x="8" y="5" width="1.25" height="1.35" fill="#77ff88"/>
<rect x="9" y="5" width="1.25" height="1.35" fill="#6aff95"/>
<rect x="10" y="5" width="1.25" height="1.35" fill="#5fffa0"/>
<rect x="11" y="5" width="1.25" height="1.35" fill="#58ffa7"/>
<rect x="12" y="5" width="1.25" height="1.35" fill="#53ffac"/>
<rect x="13" y="5" width="1.25" height="1.35" fill="#4cffb3"/>
<rect x="14" y="5" width="1.25" height="1.35" fill="#44ffbb"/>
<rect x="15" y="5" width="1.25" height="1.35" fill="#3cffc3"/>
<rect x="16" y="5" width="1.25" height="1.35" fill="#33ffcc"/>
<rect x="17" y="5" width="1.25" height="1.35" fill="#29ffd6"/>
<rect x="18" y="5" width="1.25" height="1.35" fill="#20ffdf"/>
<rect x="19" y="5" width="1.25" height="1.35" fill="#16ffe9"/>
<rect x="20" y="5" width="1.25" height="1.35" fill="#0cfff3"/>
<rect x="21" y="5" width="1.25" height="1.35" fill="#03fffc"/>
<rect x="22" y="5" width="1.25" height="1.35" fill="#00faff"/>
<rect x="23" y="5" width="1.1" height="1.35" fill="#00f2ff"/>
<rect x="-0.1" y="6" width="1.35" height="1.35" fill="#d0ff2f"/>
<rect x="1" y="6" width="1.25" height="1.35" fill="#c3ff3c"/>
<rect x="2" y="6" width="1.25" height="1.35" fill="#b7ff48"/>
<rect x="3" y="6" width="1.25" height="1.35" fill="#aeff51"/>
<rect x="4" y="6" width="1.25" height="1.35" fill="#a6ff59"/>
<rect x="5" y="6" width="1.25" height="1.35" fill="#9dff62"/>
<rect x="6" y="6" width="1.25" height="1.35" fill="#93ff6c"/>
<rect x="7" y="6" width="1.25" height="1.35" fill="#8aff75"/>
<rect x="8" y="6" width="1.25" height="1.35" fill="#80ff7f"/>
<rect x="9" y="6" width="1.25" height="1.35" fill="#74ff8b"/>
<rect x="10" y="6" width="1.25" height="1.35" fill="#69ff96"/>
<rect x="11" y="6" width="1.25" height="1.35" fill="#61ff9e"/>
<rect x="12" y="6" width="1.25" height="1.35" fill="#5bffa4"/>
<rect x="13" y="6" width="1.25" height="1.35" fill="#54ffab"/>
<rect x="14" y="6" width="1.25" height="1.35" fill="#4effb1"/>
<rect x="15" y="6" width="1.25" height="1.35" fill="#46ffb9"/>
<rect x="16" y="6" width="1.25" height="1.35" fill="#3effc1"/>
<rect x="17" y="6" width="1.25" height="1.35" fill="#34ffcb"/>
<rect x="18" y="6" width="1.25" height="1.35" fill="#2bffd4"/>
<rect x="19" y="6" width="1.25" height="1.35" fill="#22ffdd"/>
<rect x="20" y="6" width="1.25" height="1.35" fill="#18ffe7"/>
<rect x="21" y="6" width="1.25" height="1.35" fill="#10ffef"/>
<rect x="22" y="6" width="1.25" height="1.35" fill="#08fff7"/>
<rect x="23" y="6" width="1.1" height="1.35" fill="#00ffff"/>
<rect x="-0.1" y="7" width="1.35" height="1.35" fill="#d2ff2d"/>
<rect x="1" y="7" width="1.25" height="1.35" fill="#c7ff38"/>
<rect x="2" y="7" width="1.25" height="1.35" fill="#bdff42"/>
<rect x="3" y="7" width="1.25" height="1.35" fill="#b4ff4b"/>
<rect x="4" y="7" width="1.25" height="1.35" fill="#acff53"/>
<rect x="5" y="7" width="1.25" height="1.35" fill="#a4ff5b"/>
<rect x="6" y="7" width="1.25" height="1.35" fill="#9bff64"/>
<rect x="7" y="7" width="1.25" height="1.35" fill="#93ff6c"/>
<rect x="8" y="7" width="1.25" height="1.35" fill="#8aff75"/>
<rect x="9" y="7" width="1.25" height="1.35" fill="#7fff80"/>
<rect x="10" y="7" width="1.25" height="1.35" fill="#74ff8b"/>
<rect x="11" y="7" width="1.25" height="1.35" fill="#6bff94"/>
<rect x="12" y="7" width="1.25" height="1.35" fill="#63ff9c"/>
<rect x="13" y="7" width="1.25" height="1.35" fill="#5dffa2"/>
<rect x="14" y="7" width="1.25" height="1.35" fill="#57ffa8"/>
<rect x="15" y="7" width="1.25" height="1.35" fill="#50ffaf"/>
<rect x="16" y="7" width="1.25" height="1.35" fill="#48ffb7"/>
<rect x="17" y="7" width="1.25" height="1.35" fill="#3fffc0"/>
<rect x="18" y="7" width="1.25" height="1.35" fill="#36ffc9"/>
<rect x="19" y="7" width="1.25" height="1.35" fill="#2dffd2"/>
<rect x="20" y="7" width="1.25" height="1.35" fill="#25ffda"/>
<rect x="21" y="7" width="1.25" height="1.35" fill="#1cffe3"/>
<rect x="22" y="7" width="1.25" height="1.35" fill="#15ffea"/>
<rect x="23" y="7" width="1.1" height="1.35" fill="#0dfff2"/>
<rect x="-0.1" y="8" width="1.35" height="1.35" fill="#d5ff2a"/>
<rect x="1" y="8" width="1.25" height="1.35" fill="#ccff33"/>
<rect x="2" y="8" width="1.25" height="1.35" fill="#c3ff3c"/>
<rect x="3" y="8" width="1.25" height="1.35" fill="#baff45"/>
<rect x="4" y="8" width="1.25" height="1.35" fill="#b3ff4c"/>
<rect x="5" y="8" width="1.25" height="1.35" fill="#abff54"/>
<rect x="6" y="8" width="1.25" height="1.35" fill="#a4ff5b"/>
<rect x="7" y="8" width="1.25" height="1.35" fill="#9cff63"/>
<rect x="8" y="8" width="1.25" height="1.35" fill="#94ff6b"/>
<rect x="9" y="8" width="1.25" height="1.35" fill="#8aff75"/>
<rect x="10" y="8" width="1.25" height="1.35" fill="#80ff7f"/>
<rect x="11" y="8" width="1.25" height="1.35" fill="#76ff89"/>
<rect x="12" y="8" width="1.25" height="1.35" fill="#6dff92"/>
<rect x="13" y="8" width="1.25" height="1.35" fill="#67ff98"/>
<rect x="14" y="8" width="1.25" height="1.35" fill="#61ff9e"/>
<rect x="15" y="8" width="1.25" height="1.35" fill="#5bffa4"/>
<rect x="16" y="8" width="1.25" height="1.35" fill="#53ffac"/>
<rect x="17" y="8" width="1.25" height="1.35" fill="#4bffb4"/>
<rect x="18" y="8" width="1.25" height="1.35" fill="#42ffbd"/>
<rect x="19" y="8" width="1.25" height="1.35" fill="#3affc5"/>
<rect x="20" y="8" width="1.25" height="1.35" fill="#32ffcd"/>
<rect x="21" y="8" width="1.25" height="1.35" fill="#2affd5"/>
<rect x="22" y="8" width="1.25" height="1.35" fill="#22ffdd"/>
<rect x="23" y="8" width="1.1" height="1.35" fill="#1bffe4"/>
<rect x="-0.1" y="9" width="1.35" height="1.35" fill="#d8ff27"/>
<rect x="1" y="9" width="1.25" height="1.35" fill="#d0ff2f"/>
<rect x="2" y="9" width="1.25" height="1.35" fill="#c9ff36"/>
<rect x="3" y="9" width="1.25" height="1.35" fill="#c2ff3d"/>
<rect x="4" y="9" width="1.25" height="1.35" fill="#bbff44"/>
<rect x="5" y="9" width="1.25" height="1.35" fill="#b4ff4b"/>
<rect x="6" y="9" width="1.25" height="1.35" fill="#aeff51"/>
<rect x="7" y="9" width="1.25" height="1.35" fill="#a7ff58"/>
<rect x="8" y="9" width="1.25" height="1.35" fill="#9fff60"/>
<rect x="9" y="9" width="1.25" height="1.35" fill="#96ff69"/>
<rect x="10" y="9" width="1.25" height="1.35" fill="#8dff72"/>
<rect x="11" y="9" width="1.25" height="1.35" fill="#82ff7d"/>
<rect x="12" y="9" width="1.25" height="1.35" fill="#79ff86"/>
<rect x="13" y="9" width="1.25" height="1.35" fill="#72ff8d"/>
<rect x="14" y="9" width="1.25" height="1.35" fill="#6dff92"/>
<rect x="15" y="9" width="1.25" height="1.35" fill="#67ff98"/>
<rect x="16" y="9" width="1.25" height="1.35" fill="#60ff9f"/>
<rect x="17" y="9" width="1.25" height="1.35" fill="#58ffa7"/>
<rect x="18" y="9" width="1.25" height="1.35" fill="#50ffaf"/>
<rect x="19" y="9" width="1.25" height="1.35" fill="#48ffb7"/>
<rect x="20" y="9" width="1.25" height="1.35" fill="#40ffbf"/>
<rect x="21" y="9" width="1.25" height="1.35" fill="#39ffc6"/>
<rect x="22" y="9" width="1.25" height="1.35" fill="#32ffcd"/>
<rect x="23" y="9" width="1.1" height="1.35" fill="#2bffd4"/>
<rect x="-0.1" y="10" width="1.35" height="1.35" fill="#dcff23"/>
<rect x="1" y="10" width="1.25" height="1.35" fill="#d5ff2a"/>
<rect x="2" y="10" width="1.25" height="1.35" fill="#cfff30"/>
<rect x="3" y="10" width="1.25" height="1.35" fill="#caff35"/>
<rect x="4" y="10" width="1.25" height="1.35" fill="#c4ff3b"/>
<rect x="5" y="10" width="1.25" height="1.35" fill="#beff41"/>
<rect x="6" y="10" width="1.25" height="1.35" fill="#b9ff46"/>
<rect x="7" y="10" width="1.25" height="1.35" fill="#b3ff4c"/>
<rect x="8" y="10" width="1.25" height="1.35" fill="#acff53"/>
<rect x="9" y="10" width="1.25" height="1.35" fill="#a4ff5b"/>
<rect x="10" y="10" width="1.25" height="1.35" fill="#9aff65"/>
<rect x="11" y="10" width="1.25" height="1.35" fill="#90ff6f"/>
<rect x="12" y="10" width="1.25" height="1.35" fill="#86ff79"/>
<rect x="13" y="10" width="1.25" height="1.35" fill="#7fff80"/>
<rect x="14" y="10" width="1.25" height="1.35" fill="#7aff85"/>
<rect x="15" y="10" width="1.25" height="1.35" fill="#75ff8a"/>
<rect x="16" y="10" width="1.25" height="1.35" fill="#6eff91"/>
<rect x="17" y="10" width="1.25" height="1.35" fill="#66ff99"/>
<rect x="18" y="10" width="1.25" height="1.35" fill="#5fffa0"/>
<rect x="19" y="10" width="1.25" height="1.35" fill="#58ffa7"/>
<rect x="20" y="10" width="1.25" height="1.35" fill="#50ffaf"/>
<rect x="21" y="10" width="1.25" height="1.35" fill="#49ffb6"/>
<rect x="22" y="10" width="1.25" height="1.35" fill="#43ffbc"/>
<rect x="23" y="10" width="1.1" height="1.35" fill="#3cffc3"/>
<rect x="-0.1" y="11" width="1.35" height="1.35" fill="#dfff20"/>
<rect x="1" y="11" width="1.25" height="1.35" fill="#daff25"/>
<rect x="2" y="11" width="1.25" height="1.35" fill="#d5ff2a"/>
<rect x="3" y="11" width="1.25" height="1.35" fill="#d1ff2e"/>
<rect x="4" y="11" width="1.25" height="1.35" fill="#cdff32"/>
<rect x="5" y="11" width="1.25" height="1.35" fill="#c8ff37"/>
<rect x="6" y="11" width="1.25" height="1.35" fill="#c3ff3c"/>
<rect x="7" y="11" width="1.25" height="1.35" fill="#beff41"/>
<rect x="8" y="11" width="1.25" height="1.35" fill="#b9ff46"/>
<rect x="9" y="11" width="1.25" height="1.35" fill="#b1ff4e"/>
<rect x="10" y="11" width="1.25" height="1.35" fill="#a8ff57"/>
<rect x="11" y="11" width="1.25" height="1.35" fill="#9eff61"/>
<rect x="12" y="11" width="1.25" height="1.35" fill="#94ff6b"/>
<rect x="13" y="11" width="1.25" height="1.35" fill="#8eff71"/>
<rect x="14" y="11" width="1.25" height="1.35" fill="#89ff76"/>
<rect x="15" y="11" width="1.25" height="1.35" fill="#84ff7b"/>
<rect x="16" y="11" width="1.25" height="1.35" fill="#7dff82"/>
<rect x="17" y="11" width="1.25" height="1.35" fill="#76ff89"/>
<rect x="18" y="11" width="1.25" height="1.35" fill="#6fff90"/>
<rect x="19" y="11" width="1.25" height="1.35" fill="#68ff97"/>
<rect x="20" y="11" width="1.25" height="1.35" fill="#61ff9e"/>
<rect x="21" y="11" width="1.25" height="1.35" fill="#5bffa4"/>
<rect x="22" y="11" width="1.25" height="1.35" fill="#54ffab"/>
<rect x="23" y="11" width="1.1" height="1.35" fill="#4effb1"/>
<rect x="-0.1" y="12" width="1.35" height="1.35" fill="#e2ff1d"/>
<rect x="1" y="12" width="1.25" height="1.35" fill="#deff21"/>
<rect x="2" y="12" width="1.25" height="1.35" fill="#dbff24"/>
<rect x="3" y="12" width="1.25" height="1.35" fill="#d8ff27"/>
<rect x="4" y="12" width="1.25" height="1.35" fill="#d5ff2a"/>
<rect x="5" y="12" width="1.25" height="1.35" fill="#d1ff2e"/>
<rect x="6" y="12" width="1.25" height="1.35" fill="#cdff32"/>
<rect x="7" y="12" width="1.25" height="1.35" fill="#c9ff36"/>
<rect x="8" y="12" width="1.25" height="1.35" fill="#c4ff3b"/>
<rect x="9" y="12" width="1.25" height="1.35" fill="#beff41"/>
<rect x="10" y="12" width="1.25" height="1.35" fill="#b6ff49"/>
<rect x="11" y="12" width="1.25" height="1.35" fill="#acff53"/>
<rect x="12" y="12" width="1.25" height="1.35" fill="#a3ff5c"/>
<rect x="13" y="12" width="1.25" height="1.35" fill="#9dff62"/>
<rect x="14" y="12" width="1.25" height="1.35" fill="#98ff67"/>
<rect x="15" y="12" width="1.25" height="1.35" fill="#93ff6c"/>
<rect x="16" y="12" width="1.25" height="1.35" fill="#8dff72"/>
<rect x="17" y="12" width="1.25" height="1.35" fill="#87ff78"/>
<rect x="18" y="12" width="1.25" height="1.35" fill="#81ff7e"/>
<rect x="19" y="12" width="1.25" height="1.35" fill="#7bff84"/>
<rect x="20" y="12" width="1.25" height="1.35" fill="#74ff8b"/>
<rect x="21" y="12" width="1.25" height="1.35" fill="#6eff91"/>
<rect x="22" y="12" width="1.25" height="1.35" fill="#68ff97"/>
<rect x="23" y="12" width="1.1" height="1.35" fill="#62ff9d"/>
<rect x="-0.1" y="13" width="1.35" height="1.35" fill="#e5ff1a"/>
<rect x="1" y="13" width="1.25" height="1.35" fill="#e2ff1d"/>
<rect x="2" y="13" width="1.25" height="1.35" fill="#e0ff1f"/>
<rect x="3" y="13" width="1.25" height="1.35" fill="#deff21"/>
<rect x="4" y="13" width="1.25" height="1.35" fill="#dcff23"/>
<rect x="5" y="13" width="1.25" height="1.35" fill="#d9ff26"/>
<rect x="6" y="13" width="1.25" height="1.35" fill="#d6ff29"/>
<rect x="7" y="13" width="1.25" height="1.35" fill="#d3ff2c"/>
<rect x="8" y="13" width="1.25" height="1.35" fill="#d0ff2f"/>
<rect x="9" y="13" width="1.25" height="1.35" fill="#cbff34"/>
<rect x="10" y="13" width="1.25" height="1.35" fill="#c4ff3b"/>
<rect x="11" y="13" width="1.25" height="1.35" fill="#bcff43"/>
<rect x="12" y="13" width="1.25" height="1.35" fill="#b4ff4b"/>
<rect x="13" y="13" width="1.25" height="1.35" fill="#aeff51"/>
<rect x="14" y="13" width="1.25" height="1.35" fill="#a9ff56"/>
<rect x="15" y="13" width="1.25" height="1.35" fill="#a4ff5b"/>
<rect x="16" y="13" width="1.25" height="1.35" fill="#9fff60"/>
<rect x="17" y="13" width="1.25" height="1.35" fill="#99ff66"/>
<rect x="18" y="13" width="1.25" height="1.35" fill="#94ff6b"/>
<rect x="19" y="13" width="1.25" height="1.35" fill="#8eff71"/>
<rect x="20" y="13" width="1.25" height="1.35" fill="#89ff76"/>
<rect x="21" y="13" width="1.25" height="1.35" fill="#83ff7c"/>
<rect x="22" y="13" width="1.25" height="1.35" fill="#7dff82"/>
<rect x="23" y="13" width="1.1" height="1.35" fill="#77ff88"/>
<rect x="-0.1" y="14" width="1.35" height="1.35" fill="#e8ff17"/>
<rect x="1" y="14" width="1.25" height="1.35" fill="#e7ff18"/>
<rect x="2" y="14" width="2.25" height="1.35" fill="#e5ff1a"/>
<rect x="4" y="14" width="1.25" height="1.35" fill="#e3ff1c"/>
<rect x="5" y="14" width="1.25" height="1.35" fill="#e2ff1d"/>
<rect x="6" y="14" width="1.25" height="1.35" fill="#dfff20"/>
<rect x="7" y="14" width="1.25" height="1.35" fill="#deff21"/>
<rect x="8" y="14" width="1.25" height="1.35" fill="#dbff24"/>
<rect x="9" y="14" width="1.25" height="1.35" fill="#d7ff28"/>
<rect x="10" y="14" width="1.25" height="1.35" fill="#d1ff2e"/>
<rect x="11" y="14" width="1.25" height="1.35" fill="#cbff34"/>
<rect x="12" y="14" width="1.25" height="1.35" fill="#c5ff3a"/>
<rect x="13" y="14" width="1.25" height="1.35" fill="#c0ff3f"/>
<rect x="14" y="14" width="1.25" height="1.35" fill="#bbff44"/>
<rect x="15" y="14" width="1.25" height="1.35" fill="#b7ff48"/>
<rect x="16" y="14" width="1.25" height="1.35" fill="#b2ff4d"/>
<rect x="17" y="14" width="1.25" height="1.35" fill="#adff52"/>
<rect x="18" y="14" width="1.25" height="1.35" fill="#a8ff57"/>
<rect x="19" y="14" width="1.25" height="1.35" fill="#a4ff5b"/>
<rect x="20" y="14" width="1.25" height="1.35" fill="#9fff60"/>
<rect x="21" y="14" width="1.25" height="1.35" fill="#9aff65"/>
<rect x="22" y="14" width="1.25" height="1.35" fill="#94ff6b"/>
<rect x="23" y="14" width="1.1" height="1.35" fill="#8eff71"/>
<rect x="-0.1" y="15" width="4.35" height="1.35" fill="#ecff13"/>
<rect x="4" y="15" width="1.25" height="1.35" fill="#ebff14"/>
<rect x="5" y="15" width="1.25" height="1.35" fill="#eaff15"/>
<rect x="6" y="15" width="1.25" height="1.35" fill="#e8ff17"/>
<rect x="7" y="15" width="1.25" height="1.35" fill="#e7ff18"/>
<rect x="8" y="15" width="1.25" height="1.35" fill="#e6ff19"/>
<rect x="9" y="15" width="1.25" height="1.35" fill="#e2ff1d"/>
<rect x="10" y="15" width="1.25" height="1.35" fill="#deff21"/>
<rect x="11" y="15" width="1.25" height="1.35" fill="#daff25"/>
<rect x="12" y="15" width="1.25" height="1.35" fill="#d6ff29"/>
<rect x="13" y="15" width="1.25" height="1.35" fill="#d3ff2c"/>
<rect x="14" y="15" width="1.25" height="1.35" fill="#cfff30"/>
<rect x="15" y="15" width="1.25" height="1.35" fill="#cbff34"/>
<rect x="16" y="15" width="1.25" height="1.35" fill="#c7ff38"/>
<rect x="17" y="15" width="1.25" height="1.35" fill="#c3ff3c"/>
<rect x="18" y="15" width="1.25" height="1.35" fill="#bfff40"/>
<rect x="19" y="15" width="1.25" height="1.35" fill="#bbff44"/>
<rect x="20" y="15" width="1.25" height="1.35" fill="#b8ff47"/>
<rect x="21" y="15" width="1.25" height="1.35" fill="#b4ff4b"/>
<rect x="22" y="15" width="1.25" height="1.35" fill="#afff50"/>
<rect x="23" y="15" width="1.1" height="1.35" fill="#a9ff56"/>
<rect x="-0.1" y="16" width="1.35" height="1.35" fill="#f0ff0f"/>
<rect x="1" y="16" width="1.25" height="1.35" fill="#f2ff0d"/>
<rect x="2" y="16" width="2.25" height="1.35" fill="#f3ff0c"/>
<rect x="4" y="16" width="2.25" height="1.35" fill="#f2ff0d"/>
<rect x="6" y="16" width="1.25" height="1.35" fill="#f1ff0e"/>
<rect x="7" y="16" width="1.25" height="1.35" fill="#f0ff0f"/>
<rect x="8" y="16" width="1.25" height="1.35" fill="#efff10"/>
<rect x="9" y="16" width="1.25" height="1.35" fill="#edff12"/>
<rect x="10" y="16" width="1.25" height="1.35" fill="#ebff14"/>
<rect x="11" y="16" width="1.25" height="1.35" fill="#eaff15"/>
<rect x="12" y="16" width="1.25" height="1.35" fill="#e9ff16"/>
<rect x="13" y="16" width="1.25" height="1.35" fill="#e7ff18"/>
<rect x="14" y="16" width="1.25" height="1.35" fill="#e4ff1b"/>
<rect x="15" y="16" width="1.25" height="1.35" fill="#e1ff1e"/>
<rect x="16" y="16" width="1.25" height="1.35" fill="#deff21"/>
<rect x="17" y="16" width="1.25" height="1.35" fill="#dbff24"/>
<rect x="18" y="16" width="1.25" height="1.35" fill="#d8ff27"/>
<rect x="19" y="16" width="1.25" height="1.35" fill="#d5ff2a"/>
<rect x="20" y="16" width="1.25" height="1.35" fill="#d2ff2d"/>
<rect x="21" y="16" width="1.25" height="1.35" fill="#cfff30"/>
<rect x="22" y="16" width="1.25" height="1.35" fill="#ccff33"/>
<rect x="23" y="16" width="1.1" height="1.35" fill="#c8ff37"/>
<rect x="-0.1" y="17" width="1.35" height="1.35" fill="#f4ff0b"/>
<rect x="1" y="17" width="1.25" height="1.35" fill="#f8ff07"/>
<rect x="2" y="17" width="7.25" height="1.35" fill="#faff05"/>
<rect x="9" y="17" width="1.25" height="1.35" fill="#f9ff06"/>
<rect x="10" y="17" width="1.25" height="1.35" fill="#f8ff07"/>
<rect x="11" y="17" width="1.25" height="1.35" fill="#f9ff06"/>
<rect x="12" y="17" width="1.25" height="1.35" fill="#faff05"/>
<rect x="13" y="17" width="1.25" height="1.35" fill="#f9ff06"/>
<rect x="14" y="17" width="1.25" height="1.35" fill="#f8ff07"/>
<rect x="15" y="17" width="1.25" height="1.35" fill="#f6ff09"/>
<rect x="16" y="17" width="1.25" height="1.35" fill="#f4ff0b"/>
<rect x="17" y="17" width="1.25" height="1.35" fill="#f2ff0d"/>
<rect x="18" y="17" width="1.25" height="1.35" fill="#f0ff0f"/>
<rect x="19" y="17" width="1.25" height="1.35" fill="#eeff11"/>
<rect x="20" y="17" width="1.25" height="1.35" fill="#ecff13"/>
<rect x="21" y="17" width="1.25" height="1.35" fill="#eaff15"/>
<rect x="22" y="17" width="1.25" height="1.35" fill="#e8ff17"/>
<rect x="23" y="17" width="1.1" height="1.35" fill="#e5ff1a"/>
<rect x="-0.1" y="18" width="1.35" height="1.35" fill="#f6ff09"/>
<rect x="1" y="18" width="1.25" height="1.35" fill="#fcff03"/>
<rect x="2" y="18" width="1.25" height="1.35" fill="#ffff00"/>
<rect x="3" y="18" width="1.25" height="1.35" fill="#fffd00"/>
<rect x="4" y="18" width="1.25" height="1.35" fill="#fffc00"/>
<rect x="5" y="18" width="1.25" height="1.35" fill="#fffb00"/>
<rect x="6" y="18" width="1.25" height="1.35" fill="#fffa00"/>
<rect x="7" y="18" width="1.25" height="1.35" fill="#fff900"/>
<rect x="8" y="18" width="3.25" height="1.35" fill="#fff800"/>
<rect x="11" y="18" width="1.25" height="1.35" fill="#fff600"/>
<rect x="12" y="18" width="2.25" height="1.35" fill="#fff400"/>
<rect x="14" y="18" width="2.25" height="1.35" fill="#fff500"/>
<rect x="16" y="18" width="1.25" height="1.35" fill="#fff600"/>
<rect x="17" y="18" width="1.25" height="1.35" fill="#fff700"/>
<rect x="18" y="18" width="1.25" height="1.35" fill="#fff900"/>
<rect x="19" y="18" width="1.25" height="1.35" fill="#fffa00"/>
<rect x="20" y="18" width="1.25" height="1.35" fill="#fffb00"/>
<rect x="21" y="18" width="1.25" height="1.35" fill="#fffc00"/>
<rect x="22" y="18" width="1.25" height="1.35" fill="#fffd00"/>
<rect x="23" y="18" width="1.1" height="1.35" fill="#fffe00"/>
<rect x="-0.1" y="19" width="1.35" height="1.35" fill="#f8ff07"/>
<rect x="1" y="19" width="1.25" height="1.35" fill="#ffff00"/>
<rect x="2" y="19" width="1.25" height="1.35" fill="#fff900"/>
<rect x="3" y="19" width="1.25" height="1.35" fill="#fff600"/>
<rect x="4" y="19" width="1.25" height="1.35" fill="#fff400"/>
<rect x="5" y="19" width="1.25" height="1.35" fill="#fff200"/>
<rect x="6" y="19" width="1.25" height="1.35" fill="#fff000"/>
<rect x="7" y="19" width="1.25" height="1.35" fill="#ffee00"/>
<rect x="8" y="19" width="1.25" height="1.35" fill="#ffec00"/>
<rect x="9" y="19" width="1.25" height="1.35" fill="#ffeb00"/>
<rect x="10" y="19" width="1.25" height="1.35" fill="#ffea00"/>
<rect x="11" y="19" width="1.25" height="1.35" fill="#ffe700"/>
<rect x="12" y="19" width="1.25" height="1.35" fill="#ffe500"/>
<rect x="13" y="19" width="2.25" height="1.35" fill="#ffe400"/>
<rect x="15" y="19" width="1.25" height="1.35" fill="#ffe300"/>
<rect x="16" y="19" width="8.1" height="1.35" fill="#ffe400"/>
<rect x="-0.1" y="20" width="1.35" height="1.35" fill="#faff05"/>
<rect x="1" y="20" width="1.25" height="1.35" fill="#fffb00"/>
<rect x="2" y="20" width="1.25" height="1.35" fill="#fff400"/>
<rect x="3" y="20" width="1.25" height="1.35" fill="#ffef00"/>
<rect x="4" y="20" width="1.25" height="1.35" fill="#ffec00"/>
<rect x="5" y="20" width="1.25" height="1.35" fill="#ffe800"/>
<rect x="6" y="20" width="1.25" height="1.35" fill="#ffe500"/>
<rect x="7" y="20" width="1.25" height="1.35" fill="#ffe200"/>
<rect x="8" y="20" width="1.25" height="1.35" fill="#ffdf00"/>
<rect x="9" y="20" width="1.25" height="1.35" fill="#ffdd00"/>
<rect x="10" y="20" width="1.25" height="1.35" fill="#ffdb00"/>
<rect x="11" y="20" width="1.25" height="1.35" fill="#ffd800"/>
<rect x="12" y="20" width="1.25" height="1.35" fill="#ffd500"/>
<rect x="13" y="20" width="1.25" height="1.35" fill="#ffd300"/>
<rect x="14" y="20" width="1.25" height="1.35" fill="#ffd200"/>
<rect x="15" y="20" width="1.25" height="1.35" fill="#ffd100"/>
<rect x="16" y="20" width="2.25" height="1.35" fill="#ffd000"/>
<rect x="18" y="20" width="1.25" height="1.35" fill="#ffcf00"/>
<rect x="19" y="20" width="2.25" height="1.35" fill="#ffce00"/>
<rect x="21" y="20" width="1.25" height="1.35" fill="#ffcd00"/>
<rect x="22" y="20" width="1.25" height="1.35" fill="#ffcc00"/>
<rect x="23" y="20" width="1.1" height="1.35" fill="#ffcb00"/>
<rect x="-0.1" y="21" width="1.35" height="1.35" fill="#fcff03"/>
<rect x="1" y="21" width="1.25" height="1.35" fill="#fff600"/>
<rect x="2" y="21" width="1.25" height="1.35" fill="#ffed00"/>
<rect x="3" y="21" width="1.25" height="1.35" fill="#ffe800"/>
<rect x="4" y="21" width="1.25" height="1.35" fill="#ffe300"/>
<rect x="5" y="21" width="1.25" height="1.35" fill="#ffde00"/>
<rect x="6" y="21" width="1.25" height="1.35" fill="#ffda00"/>
<rect x="7" y="21" width="1.25" height="1.35" fill="#ffd600"/>
<rect x="8" y="21" width="1.25" height="1.35" fill="#ffd200"/>
<rect x="9" y="21" width="1.25" height="1.35" fill="#ffcf00"/>
<rect x="10" y="21" width="1.25" height="1.35" fill="#ffcd00"/>
<rect x="11" y="21" width="1.25" height="1.35" fill="#ffc800"/>
<rect x="12" y="21" width="1.25" height="1.35" fill="#ffc400"/>
<rect x="13" y="21" width="1.25" height="1.35" fill="#ffc100"/>
<rect x="14" y="21" width="1.25" height="1.35" fill="#ffbf00"/>
<rect x="15" y="21" width="1.25" height="1.35" fill="#ffbe00"/>
<rect x="16" y="21" width="1.25" height="1.35" fill="#ffbc00"/>
<rect x="17" y="21" width="1.25" height="1.35" fill="#ffbb00"/>
<rect x="18" y="21" width="1.25" height="1.35" fill="#ffba00"/>
<rect x="19" y="21" width="1.25" height="1.35" fill="#ffb900"/>
<rect x="20" y="21" width="1.25" height="1.35" fill="#ffb800"/>
<rect x="21" y="21" width="1.25" height="1.35" fill="#ffb700"/>
<rect x="22" y="21" width="1.25" height="1.35" fill="#ffb500"/>
<rect x="23" y="21" width="1.1" height="1.35" fill="#ffb300"/>
<rect x="-0.1" y="22" width="1.35" height="1.35" fill="#feff01"/>
<rect x="1" y="22" width="1.25" height="1.35" fill="#fff100"/>
<rect x="2" y="22" width="1.25" height="1.35" fill="#ffe700"/>
<rect x="3" y="22" width="1.25" height="1.35" fill="#ffe000"/>
<rect x="4" y="22" width="1.25" height="1.35" fill="#ffda00"/>
<rect x="5" y="22" width="1.25" height="1.35" fill="#ffd400"/>
<rect x="6" y="22" width="1.25" height="1.35" fill="#ffce00"/>
<rect x="7" y="22" width="1.25" height="1.35" fill="#ffc900"/>
<rect x="8" y="22" width="1.25" height="1.35" fill="#ffc500"/>
<rect x="9" y="22" width="1.25" height="1.35" fill="#ffc100"/>
<rect x="10" y="22" width="1.25" height="1.35" fill="#ffbe00"/>
<rect x="11" y="22" width="1.25" height="1.35" fill="#ffb700"/>
<rect x="12" y="22" width="1.25" height="1.35" fill="#ffb100"/>
<rect x="13" y="22" width="1.25" height="1.35" fill="#ffae00"/>
<rect x="14" y="22" width="1.25" height="1.35" fill="#ffac00"/>
<rect x="15" y="22" width="1.25" height="1.35" fill="#ffaa00"/>
<rect x="16" y="22" width="1.25" height="1.35" fill="#ffa800"/>
<rect x="17" y="22" width="1.25" height="1.35" fill="#ffa600"/>
<rect x="18" y="22" width="1.25" height="1.35" fill="#ffa500"/>
<rect x="19" y="22" width="1.25" height="1.35" fill="#ffa400"/>
<rect x="20" y="22" width="1.25" height="1.35" fill="#ffa200"/>
<rect x="21" y="22" width="1.25" height="1.35" fill="#ffa100"/>
<rect x="22" y="22" width="1.25" height="1.35" fill="#ff9f00"/>
<rect x="23" y="22" width="1.1" height="1.35" fill="#ff9c00"/>
<rect x="-0.1" y="23" width="1.35" height="1.15" fill="#fffe00"/>
<rect x="1" y="23" width="1.25" height="1.15" fill="#ffec00"/>
<rect x="2" y="23" width="1.25" height="1.15" fill="#ffdf00"/>
<rect x="3" y="23" width="1.25" height="1.15" fill="#ffd800"/>
<rect x="4" y="23" width="1.25" height="1.15" fill="#ffd100"/>
<rect x="5" y="23" width="1.25" height="1.15" fill="#ffc900"/>
<rect x="6" y="23" width="1.25" height="1.15" fill="#ffc100"/>
<rect x="7" y="23" width="1.25" height="1.15" fill="#ffbb00"/>
<rect x="8" y="23" width="1.25" height="1.15" fill="#ffb700"/>
<rect x="9" y="23" width="1.25" height="1.15" fill="#ffb300"/>
<rect x="10" y="23" width="1.25" height="1.15" fill="#ffae00"/>
<rect x="11" y="23" width="1.25" height="1.15" fill="#ffa600"/>
<rect x="12" y="23" width="1.25" height="1.15" fill="#ff9e00"/>
<rect x="13" y="23" width="1.25" height="1.15" fill="#ff9b00"/>
<rect x="14" y="23" width="1.25" height="1.15" fill="#ff9800"/>
<rect x="15" y="23" width="1.25" height="1.15" fill="#ff9600"/>
<rect x="16" y="23" width="1.25" height="1.15" fill="#ff9400"/>
<rect x="17" y="23" width="1.25" height="1.15" fill="#ff9200"/>
<rect x="18" y="23" width="1.25" height="1.15" fill="#ff9000"/>
<rect x="19" y="23" width="1.25" height="1.15" fill="#ff8e00"/>
<rect x="20" y="23" width="1.25" height="1.15" fill="#ff8d00"/>
<rect x="21" y="23" width="1.25" height="1.15" fill="#ff8c00"/>
<rect x="22" y="23" width="1.25" height="1.15" fill="#ff8900"/>
<rect x="23" y="23" width="1.1" height="1.15" fill="#ff8600"/>
</g>
<path fill="#fff" fill-rule="evenodd" d="M92.55 192.50h258.25v168.75h-258.25zM94.35 194.30h254.65v165.15h-254.65z"/>
<path d="M94.45 194.30V359.35H349.00" fill="none" stroke="#3a3a20" stroke-opacity="0.3" stroke-width="0.8"/>
<polyline points="94.3,295.2 98.7,295.6 103.0,296.0 107.3,296.5 111.6,296.9 115.9,297.4 120.2,297.8 124.6,298.2 128.9,298.7 133.2,299.1 137.5,299.5 141.8,300.0 146.1,300.4 150.5,300.8 154.8,301.2 159.1,301.7 163.4,302.1 167.7,302.5 172.0,302.9 176.4,303.4 180.7,303.8 185.0,304.2 189.3,304.6 193.6,305.0 197.9,305.4 202.3,305.8 206.6,306.3 210.9,306.7 215.2,307.1 219.5,307.5 223.8,307.9 228.1,308.3 232.5,308.7 236.8,309.1 241.1,309.5 245.4,309.9 249.7,310.3 254.0,310.7 258.4,311.1 262.7,311.5 267.0,311.9 271.3,312.2 275.6,312.6 279.9,313.0 284.3,313.4 288.6,313.8 292.9,314.2 297.2,314.6 301.5,314.9 305.8,315.3 310.2,315.7 314.5,316.1 318.8,316.5 323.1,316.8 327.4,317.2 331.7,317.6 336.1,318.0 340.4,318.3 344.7,318.7 349.0,319.1" fill="none" stroke="#ff00ee" stroke-width="2" stroke-linecap="round" stroke-linejoin="round"/>
<g transform="translate(429.10,194.30) scale(10.6083,6.8813)">
<rect x="-0.1" y="-0.15" width="1.35" height="1.5" fill="#6dff92"/>
<rect x="1" y="-0.15" width="1.25" height="1.5" fill="#41ffbe"/>
<rect x="2" y="-0.15" width="1.25" height="1.5" fill="#13ffec"/>
<rect x="3" y="-0.15" width="1.25" height="1.5" fill="#00e0ff"/>
<rect x="4" y="-0.15" width="1.25" height="1.5" fill="#00b3ff"/>
<rect x="5" y="-0.15" width="1.25" height="1.5" fill="#0092ff"/>
<rect x="6" y="-0.15" width="1.25" height="1.5" fill="#0077ff"/>
<rect x="7" y="-0.15" width="1.25" height="1.5" fill="#0060ff"/>
<rect x="8" y="-0.15" width="1.25" height="1.5" fill="#004cff"/>
<rect x="9" y="-0.15" width="1.25" height="1.5" fill="#0038ff"/>
<rect x="10" y="-0.15" width="1.25" height="1.5" fill="#0023ff"/>
<rect x="11" y="-0.15" width="1.25" height="1.5" fill="#000dff"/>
<rect x="12" y="-0.15" width="1.25" height="1.5" fill="#0000fa"/>
<rect x="13" y="-0.15" width="1.25" height="1.5" fill="#0000eb"/>
<rect x="14" y="-0.15" width="1.25" height="1.5" fill="#0000de"/>
<rect x="15" y="-0.15" width="1.25" height="1.5" fill="#0000d1"/>
<rect x="16" y="-0.15" width="1.25" height="1.5" fill="#0000c4"/>
<rect x="17" y="-0.15" width="1.25" height="1.5" fill="#0000b6"/>
<rect x="18" y="-0.15" width="1.25" height="1.5" fill="#0000aa"/>
<rect x="19" y="-0.15" width="1.25" height="1.5" fill="#00009f"/>
<rect x="20" y="-0.15" width="1.25" height="1.5" fill="#000095"/>
<rect x="21" y="-0.15" width="1.25" height="1.5" fill="#00008c"/>
<rect x="22" y="-0.15" width="1.25" height="1.5" fill="#000083"/>
<rect x="23" y="-0.15" width="1.1" height="1.5" fill="#000080"/>
<rect x="-0.1" y="1" width="1.35" height="1.35" fill="#72ff8d"/>
<rect x="1" y="1" width="1.25" height="1.35" fill="#47ffb8"/>
<rect x="2" y="1" width="1.25" height="1.35" fill="#1bffe4"/>
<rect x="3" y="1" width="1.25" height="1.35" fill="#00ebff"/>
<rect x="4" y="1" width="1.25" height="1.35" fill="#00c0ff"/>
<rect x="5" y="1" width="1.25" height="1.35" fill="#009fff"/>
<rect x="6" y="1" width="1.25" height="1.35" fill="#0083ff"/>
<rect x="7" y="1" width="1.25" height="1.35" fill="#006cff"/>
<rect x="8" y="1" width="1.25" height="1.35" fill="#0058ff"/>
<rect x="9" y="1" width="1.25" height="1.35" fill="#0044ff"/>
<rect x="10" y="1" width="1.25" height="1.35" fill="#002dff"/>
<rect x="11" y="1" width="1.25" height="1.35" fill="#0017ff"/>
<rect x="12" y="1" width="1.25" height="1.35" fill="#0004ff"/>
<rect x="13" y="1" width="1.25" height="1.35" fill="#0000f6"/>
<rect x="14" y="1" width="1.25" height="1.35" fill="#0000ea"/>
<rect x="15" y="1" width="1.25" height="1.35" fill="#0000df"/>
<rect x="16" y="1" width="1.25" height="1.35" fill="#0000d2"/>
<rect x="17" y="1" width="1.25" height="1.35" fill="#0000c5"/>
<rect x="18" y="1" width="1.25" height="1.35" fill="#0000b8"/>
<rect x="19" y="1" width="1.25" height="1.35" fill="#0000ad"/>
<rect x="20" y="1" width="1.25" height="1.35" fill="#0000a2"/>
<rect x="21" y="1" width="1.25" height="1.35" fill="#000097"/>
<rect x="22" y="1" width="1.25" height="1.35" fill="#00008e"/>
<rect x="23" y="1" width="1.1" height="1.35" fill="#000085"/>
<rect x="-0.1" y="2" width="1.35" height="1.35" fill="#77ff88"/>
<rect x="1" y="2" width="1.25" height="1.35" fill="#4dffb2"/>
<rect x="2" y="2" width="1.25" height="1.35" fill="#23ffdc"/>
<rect x="3" y="2" width="1.25" height="1.35" fill="#00f6ff"/>
<rect x="4" y="2" width="1.25" height="1.35" fill="#00cdff"/>
<rect x="5" y="2" width="1.25" height="1.35" fill="#00acff"/>
<rect x="6" y="2" width="1.25" height="1.35" fill="#0090ff"/>
<rect x="7" y="2" width="1.25" height="1.35" fill="#0079ff"/>
<rect x="8" y="2" width="1.25" height="1.35" fill="#0065ff"/>
<rect x="9" y="2" width="1.25" height="1.35" fill="#0051ff"/>
<rect x="10" y="2" width="1.25" height="1.35" fill="#0039ff"/>
<rect x="11" y="2" width="1.25" height="1.35" fill="#0022ff"/>
<rect x="12" y="2" width="1.25" height="1.35" fill="#000fff"/>
<rect x="13" y="2" width="1.25" height="1.35" fill="#0002ff"/>
<rect x="14" y="2" width="1.25" height="1.35" fill="#0000f7"/>
<rect x="15" y="2" width="1.25" height="1.35" fill="#0000ec"/>
<rect x="16" y="2" width="1.25" height="1.35" fill="#0000df"/>
<rect x="17" y="2" width="1.25" height="1.35" fill="#0000d3"/>
<rect x="18" y="2" width="1.25" height="1.35" fill="#0000c7"/>
<rect x="19" y="2" width="1.25" height="1.35" fill="#0000bb"/>
<rect x="20" y="2" width="1.25" height="1.35" fill="#0000af"/>
<rect x="21" y="2" width="1.25" height="1.35" fill="#0000a4"/>
<rect x="22" y="2" width="1.25" height="1.35" fill="#00009a"/>
<rect x="23" y="2" width="1.1" height="1.35" fill="#000090"/>
<rect x="-0.1" y="3" width="1.35" height="1.35" fill="#7eff81"/>
<rect x="1" y="3" width="1.25" height="1.35" fill="#54ffab"/>
<rect x="2" y="3" width="1.25" height="1.35" fill="#2bffd4"/>
<rect x="3" y="3" width="1.25" height="1.35" fill="#02fffd"/>
<rect x="4" y="3" width="1.25" height="1.35" fill="#00dbff"/>
<rect x="5" y="3" width="1.25" height="1.35" fill="#00baff"/>
<rect x="6" y="3" width="1.25" height="1.35" fill="#009eff"/>
<rect x="7" y="3" width="1.25" height="1.35" fill="#0087ff"/>
<rect x="8" y="3" width="1.25" height="1.35" fill="#0073ff"/>
<rect x="9" y="3" width="1.25" height="1.35" fill="#005fff"/>
<rect x="10" y="3" width="1.25" height="1.35" fill="#0047ff"/>
<rect x="11" y="3" width="1.25" height="1.35" fill="#0030ff"/>
<rect x="12" y="3" width="1.25" height="1.35" fill="#001dff"/>
<rect x="13" y="3" width="1.25" height="1.35" fill="#000fff"/>
<rect x="14" y="3" width="1.25" height="1.35" fill="#0003ff"/>
<rect x="15" y="3" width="1.25" height="1.35" fill="#0000f7"/>
<rect x="16" y="3" width="1.25" height="1.35" fill="#0000ec"/>
<rect x="17" y="3" width="1.25" height="1.35" fill="#0000e1"/>
<rect x="18" y="3" width="1.25" height="1.35" fill="#0000d6"/>
<rect x="19" y="3" width="1.25" height="1.35" fill="#0000ca"/>
<rect x="20" y="3" width="1.25" height="1.35" fill="#0000be"/>
<rect x="21" y="3" width="1.25" height="1.35" fill="#0000b3"/>
<rect x="22" y="3" width="1.25" height="1.35" fill="#0000a8"/>
<rect x="23" y="3" width="1.1" height="1.35" fill="#00009d"/>
<rect x="-0.1" y="4" width="1.35" height="1.35" fill="#84ff7b"/>
<rect x="1" y="4" width="1.25" height="1.35" fill="#5bffa4"/>
<rect x="2" y="4" width="1.25" height="1.35" fill="#33ffcc"/>
<rect x="3" y="4" width="1.25" height="1.35" fill="#0dfff2"/>
<rect x="4" y="4" width="1.25" height="1.35" fill="#00e9ff"/>
<rect x="5" y="4" width="1.25" height="1.35" fill="#00c9ff"/>
<rect x="6" y="4" width="1.25" height="1.35" fill="#00adff"/>
<rect x="7" y="4" width="1.25" height="1.35" fill="#0096ff"/>
<rect x="8" y="4" width="1.25" height="1.35" fill="#0082ff"/>
<rect x="9" y="4" width="1.25" height="1.35" fill="#006eff"/>
<rect x="10" y="4" width="1.25" height="1.35" fill="#0057ff"/>
<rect x="11" y="4" width="1.25" height="1.35" fill="#0040ff"/>
<rect x="12" y="4" width="1.25" height="1.35" fill="#002cff"/>
<rect x="13" y="4" width="1.25" height="1.35" fill="#001cff"/>
<rect x="14" y="4" width="1.25" height="1.35" fill="#000fff"/>
<rect x="15" y="4" width="1.25" height="1.35" fill="#0003ff"/>
<rect x="16" y="4" width="1.25" height="1.35" fill="#0000f7"/>
<rect x="17" y="4" width="1.25" height="1.35" fill="#0000ee"/>
<rect x="18" y="4" width="1.25" height="1.35" fill="#0000e5"/>
<rect x="19" y="4" width="1.25" height="1.35" fill="#0000d9"/>
<rect x="20" y="4" width="1.25" height="1.35" fill="#0000ce"/>
<rect x="21" y="4" width="1.25" height="1.35" fill="#0000c2"/>
<rect x="22" y="4" width="1.25" height="1.35" fill="#0000b7"/>
<rect x="23" y="4" width="1.1" height="1.35" fill="#0000ad"/>
<rect x="-0.1" y="5" width="1.35" height="1.35" fill="#8cff73"/>
<rect x="1" y="5" width="1.25" height="1.35" fill="#62ff9d"/>
<rect x="2" y="5" width="1.25" height="1.35" fill="#3cffc3"/>
<rect x="3" y="5" width="1.25" height="1.35" fill="#18ffe7"/>
<rect x="4" y="5" width="1.25" height="1.35" fill="#00f6ff"/>
<rect x="5" y="5" width="1.25" height="1.35" fill="#00d8ff"/>
<rect x="6" y="5" width="1.25" height="1.35" fill="#00bdff"/>
<rect x="7" y="5" width="1.25" height="1.35" fill="#00a6ff"/>
<rect x="8" y="5" width="1.25" height="1.35" fill="#0092ff"/>
<rect x="9" y="5" width="1.25" height="1.35" fill="#007dff"/>
<rect x="10" y="5" width="1.25" height="1.35" fill="#0067ff"/>
<rect x="11" y="5" width="1.25" height="1.35" fill="#0050ff"/>
<rect x="12" y="5" width="1.25" height="1.35" fill="#003cff"/>
<rect x="13" y="5" width="1.25" height="1.35" fill="#002bff"/>
<rect x="14" y="5" width="1.25" height="1.35" fill="#001cff"/>
<rect x="15" y="5" width="1.25" height="1.35" fill="#000fff"/>
<rect x="16" y="5" width="1.25" height="1.35" fill="#0006ff"/>
<rect x="17" y="5" width="1.25" height="1.35" fill="#0000fd"/>
<rect x="18" y="5" width="1.25" height="1.35" fill="#0000f4"/>
<rect x="19" y="5" width="1.25" height="1.35" fill="#0000e9"/>
<rect x="20" y="5" width="1.25" height="1.35" fill="#0000dd"/>
<rect x="21" y="5" width="1.25" height="1.35" fill="#0000d1"/>
<rect x="22" y="5" width="1.25" height="1.35" fill="#0000c7"/>
<rect x="23" y="5" width="1.1" height="1.35" fill="#0000bd"/>
<rect x="-0.1" y="6" width="1.35" height="1.35" fill="#93ff6c"/>
<rect x="1" y="6" width="1.25" height="1.35" fill="#6cff93"/>
<rect x="2" y="6" width="1.25" height="1.35" fill="#46ffb9"/>
<rect x="3" y="6" width="1.25" height="1.35" fill="#24ffdb"/>
<rect x="4" y="6" width="1.25" height="1.35" fill="#04fffb"/>
<rect x="5" y="6" width="1.25" height="1.35" fill="#00e7ff"/>
<rect x="6" y="6" width="1.25" height="1.35" fill="#00cdff"/>
<rect x="7" y="6" width="1.25" height="1.35" fill="#00b7ff"/>
<rect x="8" y="6" width="1.25" height="1.35" fill="#00a2ff"/>
<rect x="9" y="6" width="1.25" height="1.35" fill="#008dff"/>
<rect x="10" y="6" width="1.25" height="1.35" fill="#0077ff"/>
<rect x="11" y="6" width="1.25" height="1.35" fill="#0061ff"/>
<rect x="12" y="6" width="1.25" height="1.35" fill="#004dff"/>
<rect x="13" y="6" width="1.25" height="1.35" fill="#003cff"/>
<rect x="14" y="6" width="1.25" height="1.35" fill="#002cff"/>
<rect x="15" y="6" width="1.25" height="1.35" fill="#001fff"/>
<rect x="16" y="6" width="1.25" height="1.35" fill="#0015ff"/>
<rect x="17" y="6" width="1.25" height="1.35" fill="#000dff"/>
<rect x="18" y="6" width="1.25" height="1.35" fill="#0003ff"/>
<rect x="19" y="6" width="1.25" height="1.35" fill="#0000f7"/>
<rect x="20" y="6" width="1.25" height="1.35" fill="#0000ea"/>
<rect x="21" y="6" width="1.25" height="1.35" fill="#0000de"/>
<rect x="22" y="6" width="1.25" height="1.35" fill="#0000d5"/>
<rect x="23" y="6" width="1.1" height="1.35" fill="#0000cd"/>
<rect x="-0.1" y="7" width="1.35" height="1.35" fill="#9bff64"/>
<rect x="1" y="7" width="1.25" height="1.35" fill="#76ff89"/>
<rect x="2" y="7" width="1.25" height="1.35" fill="#52ffad"/>
<rect x="3" y="7" width="1.25" height="1.35" fill="#30ffcf"/>
<rect x="4" y="7" width="1.25" height="1.35" fill="#11ffee"/>
<rect x="5" y="7" width="1.25" height="1.35" fill="#00f6ff"/>
<rect x="6" y="7" width="1.25" height="1.35" fill="#00deff"/>
<rect x="7" y="7" width="1.25" height="1.35" fill="#00c8ff"/>
<rect x="8" y="7" width="1.25" height="1.35" fill="#00b2ff"/>
<rect x="9" y="7" width="1.25" height="1.35" fill="#009dff"/>
<rect x="10" y="7" width="1.25" height="1.35" fill="#0088ff"/>
<rect x="11" y="7" width="1.25" height="1.35" fill="#0072ff"/>
<rect x="12" y="7" width="1.25" height="1.35" fill="#005fff"/>
<rect x="13" y="7" width="1.25" height="1.35" fill="#004eff"/>
<rect x="14" y="7" width="1.25" height="1.35" fill="#003fff"/>
<rect x="15" y="7" width="1.25" height="1.35" fill="#0032ff"/>
<rect x="16" y="7" width="1.25" height="1.35" fill="#0027ff"/>
<rect x="17" y="7" width="1.25" height="1.35" fill="#001dff"/>
<rect x="18" y="7" width="1.25" height="1.35" fill="#0012ff"/>
<rect x="19" y="7" width="1.25" height="1.35" fill="#0005ff"/>
<rect x="20" y="7" width="1.25" height="1.35" fill="#0000f6"/>
<rect x="21" y="7" width="1.25" height="1.35" fill="#0000eb"/>
<rect x="22" y="7" width="1.25" height="1.35" fill="#0000e3"/>
<rect x="23" y="7" width="1.1" height="1.35" fill="#0000de"/>
<rect x="-0.1" y="8" width="1.35" height="1.35" fill="#a4ff5b"/>
<rect x="1" y="8" width="1.25" height="1.35" fill="#81ff7e"/>
<rect x="2" y="8" width="1.25" height="1.35" fill="#5fffa0"/>
<rect x="3" y="8" width="1.25" height="1.35" fill="#3cffc3"/>
<rect x="4" y="8" width="1.25" height="1.35" fill="#1effe1"/>
<rect x="5" y="8" width="1.25" height="1.35" fill="#06fff9"/>
<rect x="6" y="8" width="1.25" height="1.35" fill="#00f0ff"/>
<rect x="7" y="8" width="1.25" height="1.35" fill="#00daff"/>
<rect x="8" y="8" width="1.25" height="1.35" fill="#00c4ff"/>
<rect x="9" y="8" width="1.25" height="1.35" fill="#00aeff"/>
<rect x="10" y="8" width="1.25" height="1.35" fill="#009aff"/>
<rect x="11" y="8" width="1.25" height="1.35" fill="#0086ff"/>
<rect x="12" y="8" width="1.25" height="1.35" fill="#0073ff"/>
<rect x="13" y="8" width="1.25" height="1.35" fill="#0063ff"/>
<rect x="14" y="8" width="1.25" height="1.35" fill="#0054ff"/>
<rect x="15" y="8" width="1.25" height="1.35" fill="#0046ff"/>
<rect x="16" y="8" width="1.25" height="1.35" fill="#003aff"/>
<rect x="17" y="8" width="1.25" height="1.35" fill="#002fff"/>
<rect x="18" y="8" width="1.25" height="1.35" fill="#0024ff"/>
<rect x="19" y="8" width="1.25" height="1.35" fill="#0015ff"/>
<rect x="20" y="8" width="1.25" height="1.35" fill="#0006ff"/>
<rect x="21" y="8" width="1.25" height="1.35" fill="#0000fa"/>
<rect x="22" y="8" width="1.25" height="1.35" fill="#0000f3"/>
<rect x="23" y="8" width="1.1" height="1.35" fill="#0000f0"/>
<rect x="-0.1" y="9" width="1.35" height="1.35" fill="#b0ff4f"/>
<rect x="1" y="9" width="1.25" height="1.35" fill="#8dff72"/>
<rect x="2" y="9" width="1.25" height="1.35" fill="#6bff94"/>
<rect x="3" y="9" width="1.25" height="1.35" fill="#4affb5"/>
<rect x="4" y="9" width="1.25" height="1.35" fill="#2cffd3"/>
<rect x="5" y="9" width="1.25" height="1.35" fill="#16ffe9"/>
<rect x="6" y="9" width="1.25" height="1.35" fill="#01fffe"/>
<rect x="7" y="9" width="1.25" height="1.35" fill="#00ebff"/>
<rect x="8" y="9" width="1.25" height="1.35" fill="#00d5ff"/>
<rect x="9" y="9" width="1.25" height="1.35" fill="#00c1ff"/>
<rect x="10" y="9" width="1.25" height="1.35" fill="#00adff"/>
<rect x="11" y="9" width="1.25" height="1.35" fill="#009bff"/>
<rect x="12" y="9" width="1.25" height="1.35" fill="#008aff"/>
<rect x="13" y="9" width="1.25" height="1.35" fill="#007aff"/>
<rect x="14" y="9" width="1.25" height="1.35" fill="#006bff"/>
<rect x="15" y="9" width="1.25" height="1.35" fill="#005eff"/>
<rect x="16" y="9" width="1.25" height="1.35" fill="#0051ff"/>
<rect x="17" y="9" width="1.25" height="1.35" fill="#0046ff"/>
<rect x="18" y="9" width="1.25" height="1.35" fill="#0039ff"/>
<rect x="19" y="9" width="1.25" height="1.35" fill="#002aff"/>
<rect x="20" y="9" width="1.25" height="1.35" fill="#001aff"/>
<rect x="21" y="9" width="1.25" height="1.35" fill="#000fff"/>
<rect x="22" y="9" width="1.25" height="1.35" fill="#0007ff"/>
<rect x="23" y="9" width="1.1" height="1.35" fill="#0003ff"/>
<rect x="-0.1" y="10" width="1.35" height="1.35" fill="#bdff42"/>
<rect x="1" y="10" width="1.25" height="1.35" fill="#9aff65"/>
<rect x="2" y="10" width="1.25" height="1.35" fill="#79ff86"/>
<rect x="3" y="10" width="1.25" height="1.35" fill="#58ffa7"/>
<rect x="4" y="10" width="1.25" height="1.35" fill="#3bffc4"/>
<rect x="5" y="10" width="1.25" height="1.35" fill="#25ffda"/>
<rect x="6" y="10" width="1.25" height="1.35" fill="#12ffed"/>
<rect x="7" y="10" width="1.25" height="1.35" fill="#00fcff"/>
<rect x="8" y="10" width="1.25" height="1.35" fill="#00e7ff"/>
<rect x="9" y="10" width="1.25" height="1.35" fill="#00d4ff"/>
<rect x="10" y="10" width="1.25" height="1.35" fill="#00c2ff"/>
<rect x="11" y="10" width="1.25" height="1.35" fill="#00b2ff"/>
<rect x="12" y="10" width="1.25" height="1.35" fill="#00a3ff"/>
<rect x="13" y="10" width="1.25" height="1.35" fill="#0094ff"/>
<rect x="14" y="10" width="1.25" height="1.35" fill="#0085ff"/>
<rect x="15" y="10" width="1.25" height="1.35" fill="#0078ff"/>
<rect x="16" y="10" width="1.25" height="1.35" fill="#006bff"/>
<rect x="17" y="10" width="1.25" height="1.35" fill="#0060ff"/>
<rect x="18" y="10" width="1.25" height="1.35" fill="#0053ff"/>
<rect x="19" y="10" width="1.25" height="1.35" fill="#0044ff"/>
<rect x="20" y="10" width="1.25" height="1.35" fill="#0034ff"/>
<rect x="21" y="10" width="1.25" height="1.35" fill="#0027ff"/>
<rect x="22" y="10" width="1.25" height="1.35" fill="#001dff"/>
<rect x="23" y="10" width="1.1" height="1.35" fill="#0017ff"/>
<rect x="-0.1" y="11" width="1.35" height="1.35" fill="#c7ff38"/>
<rect x="1" y="11" width="1.25" height="1.35" fill="#a5ff5a"/>
<rect x="2" y="11" width="1.25" height="1.35" fill="#85ff7a"/>
<rect x="3" y="11" width="1.25" height="1.35" fill="#66ff99"/>
<rect x="4" y="11" width="1.25" height="1.35" fill="#4bffb4"/>
<rect x="5" y="11" width="1.25" height="1.35" fill="#36ffc9"/>
<rect x="6" y="11" width="1.25" height="1.35" fill="#24ffdb"/>
<rect x="7" y="11" width="1.25" height="1.35" fill="#10ffef"/>
<rect x="8" y="11" width="1.25" height="1.35" fill="#00fcff"/>
<rect x="9" y="11" width="1.25" height="1.35" fill="#00eaff"/>
<rect x="10" y="11" width="1.25" height="1.35" fill="#00daff"/>
<rect x="11" y="11" width="1.25" height="1.35" fill="#00cbff"/>
<rect x="12" y="11" width="1.25" height="1.35" fill="#00bdff"/>
<rect x="13" y="11" width="1.25" height="1.35" fill="#00afff"/>
<rect x="14" y="11" width="1.25" height="1.35" fill="#00a1ff"/>
<rect x="15" y="11" width="1.25" height="1.35" fill="#0094ff"/>
<rect x="16" y="11" width="1.25" height="1.35" fill="#0088ff"/>
<rect x="17" y="11" width="1.25" height="1.35" fill="#007cff"/>
<rect x="18" y="11" width="1.25" height="1.35" fill="#006fff"/>
<rect x="19" y="11" width="1.25" height="1.35" fill="#0060ff"/>
<rect x="20" y="11" width="1.25" height="1.35" fill="#0050ff"/>
<rect x="21" y="11" width="1.25" height="1.35" fill="#0042ff"/>
<rect x="22" y="11" width="1.25" height="1.35" fill="#0037ff"/>
<rect x="23" y="11" width="1.1" height="1.35" fill="#002eff"/>
<rect x="-0.1" y="12" width="1.35" height="1.35" fill="#ccff33"/>
<rect x="1" y="12" width="1.25" height="1.35" fill="#aeff51"/>
<rect x="2" y="12" width="1.25" height="1.35" fill="#91ff6e"/>
<rect x="3" y="12" width="1.25" height="1.35" fill="#74ff8b"/>
<rect x="4" y="12" width="1.25" height="1.35" fill="#5bffa4"/>
<rect x="5" y="12" width="1.25" height="1.35" fill="#47ffb8"/>
<rect x="6" y="12" width="1.25" height="1.35" fill="#36ffc9"/>
<rect x="7" y="12" width="1.25" height="1.35" fill="#24ffdb"/>
<rect x="8" y="12" width="1.25" height="1.35" fill="#14ffeb"/>
<rect x="9" y="12" width="1.25" height="1.35" fill="#04fffb"/>
<rect x="10" y="12" width="1.25" height="1.35" fill="#00f4ff"/>
<rect x="11" y="12" width="1.25" height="1.35" fill="#00e5ff"/>
<rect x="12" y="12" width="1.25" height="1.35" fill="#00d7ff"/>
<rect x="13" y="12" width="1.25" height="1.35" fill="#00caff"/>
<rect x="14" y="12" width="1.25" height="1.35" fill="#00beff"/>
<rect x="15" y="12" width="1.25" height="1.35" fill="#00b1ff"/>
<rect x="16" y="12" width="1.25" height="1.35" fill="#00a6ff"/>
<rect x="17" y="12" width="1.25" height="1.35" fill="#009bff"/>
<rect x="18" y="12" width="1.25" height="1.35" fill="#008fff"/>
<rect x="19" y="12" width="1.25" height="1.35" fill="#0080ff"/>
<rect x="20" y="12" width="1.25" height="1.35" fill="#0071ff"/>
<rect x="21" y="12" width="1.25" height="1.35" fill="#0063ff"/>
<rect x="22" y="12" width="1.25" height="1.35" fill="#0057ff"/>
<rect x="23" y="12" width="1.1" height="1.35" fill="#004dff"/>
<rect x="-0.1" y="13" width="1.35" height="1.35" fill="#cfff30"/>
<rect x="1" y="13" width="1.25" height="1.35" fill="#b5ff4a"/>
<rect x="2" y="13" width="1.25" height="1.35" fill="#9cff63"/>
<rect x="3" y="13" width="1.25" height="1.35" fill="#83ff7c"/>
<rect x="4" y="13" width="1.25" height="1.35" fill="#6cff93"/>
<rect x="5" y="13" width="1.25" height="1.35" fill="#5affa5"/>
<rect x="6" y="13" width="1.25" height="1.35" fill="#49ffb6"/>
<rect x="7" y="13" width="1.25" height="1.35" fill="#3bffc4"/>
<rect x="8" y="13" width="1.25" height="1.35" fill="#2dffd2"/>
<rect x="9" y="13" width="1.25" height="1.35" fill="#20ffdf"/>
<rect x="10" y="13" width="1.25" height="1.35" fill="#11ffee"/>
<rect x="11" y="13" width="1.25" height="1.35" fill="#02fffd"/>
<rect x="12" y="13" width="1.25" height="1.35" fill="#00f3ff"/>
<rect x="13" y="13" width="1.25" height="1.35" fill="#00e7ff"/>
<rect x="14" y="13" width="1.25" height="1.35" fill="#00dcff"/>
<rect x="15" y="13" width="1.25" height="1.35" fill="#00d1ff"/>
<rect x="16" y="13" width="1.25" height="1.35" fill="#00c7ff"/>
<rect x="17" y="13" width="1.25" height="1.35" fill="#00bdff"/>
<rect x="18" y="13" width="1.25" height="1.35" fill="#00b2ff"/>
<rect x="19" y="13" width="1.25" height="1.35" fill="#00a5ff"/>
<rect x="20" y="13" width="1.25" height="1.35" fill="#0097ff"/>
<rect x="21" y="13" width="1.25" height="1.35" fill="#008aff"/>
<rect x="22" y="13" width="1.25" height="1.35" fill="#007eff"/>
<rect x="23" y="13" width="1.1" height="1.35" fill="#0072ff"/>
<rect x="-0.1" y="14" width="1.35" height="1.35" fill="#d3ff2c"/>
<rect x="1" y="14" width="1.25" height="1.35" fill="#bdff42"/>
<rect x="2" y="14" width="1.25" height="1.35" fill="#a8ff57"/>
<rect x="3" y="14" width="1.25" height="1.35" fill="#93ff6c"/>
<rect x="4" y="14" width="1.25" height="1.35" fill="#80ff7f"/>
<rect x="5" y="14" width="1.25" height="1.35" fill="#6eff91"/>
<rect x="6" y="14" width="1.25" height="1.35" fill="#5fffa0"/>
<rect x="7" y="14" width="1.25" height="1.35" fill="#53ffac"/>
<rect x="8" y="14" width="1.25" height="1.35" fill="#49ffb6"/>
<rect x="9" y="14" width="1.25" height="1.35" fill="#3effc1"/>
<rect x="10" y="14" width="1.25" height="1.35" fill="#30ffcf"/>
<rect x="11" y="14" width="1.25" height="1.35" fill="#21ffde"/>
<rect x="12" y="14" width="1.25" height="1.35" fill="#13ffec"/>
<rect x="13" y="14" width="1.25" height="1.35" fill="#08fff7"/>
<rect x="14" y="14" width="1.25" height="1.35" fill="#00fdff"/>
<rect x="15" y="14" width="1.25" height="1.35" fill="#00f4ff"/>
<rect x="16" y="14" width="1.25" height="1.35" fill="#00eaff"/>
<rect x="17" y="14" width="1.25" height="1.35" fill="#00e1ff"/>
<rect x="18" y="14" width="1.25" height="1.35" fill="#00d7ff"/>
<rect x="19" y="14" width="1.25" height="1.35" fill="#00ccff"/>
<rect x="20" y="14" width="1.25" height="1.35" fill="#00bfff"/>
<rect x="21" y="14" width="1.25" height="1.35" fill="#00b2ff"/>
<rect x="22" y="14" width="1.25" height="1.35" fill="#00a6ff"/>
<rect x="23" y="14" width="1.1" height="1.35" fill="#009aff"/>
<rect x="-0.1" y="15" width="1.35" height="1.35" fill="#d8ff27"/>
<rect x="1" y="15" width="1.25" height="1.35" fill="#c7ff38"/>
<rect x="2" y="15" width="1.25" height="1.35" fill="#b6ff49"/>
<rect x="3" y="15" width="1.25" height="1.35" fill="#a6ff59"/>
<rect x="4" y="15" width="1.25" height="1.35" fill="#96ff69"/>
<rect x="5" y="15" width="1.25" height="1.35" fill="#87ff78"/>
<rect x="6" y="15" width="1.25" height="1.35" fill="#7aff85"/>
<rect x="7" y="15" width="1.25" height="1.35" fill="#71ff8e"/>
<rect x="8" y="15" width="1.25" height="1.35" fill="#68ff97"/>
<rect x="9" y="15" width="1.25" height="1.35" fill="#5fffa0"/>
<rect x="10" y="15" width="1.25" height="1.35" fill="#53ffac"/>
<rect x="11" y="15" width="1.25" height="1.35" fill="#45ffba"/>
<rect x="12" y="15" width="1.25" height="1.35" fill="#38ffc7"/>
<rect x="13" y="15" width="1.25" height="1.35" fill="#2effd1"/>
<rect x="14" y="15" width="1.25" height="1.35" fill="#25ffda"/>
<rect x="15" y="15" width="1.25" height="1.35" fill="#1cffe3"/>
<rect x="16" y="15" width="1.25" height="1.35" fill="#14ffeb"/>
<rect x="17" y="15" width="1.25" height="1.35" fill="#0bfff4"/>
<rect x="18" y="15" width="1.25" height="1.35" fill="#01fffe"/>
<rect x="19" y="15" width="1.25" height="1.35" fill="#00f5ff"/>
<rect x="20" y="15" width="1.25" height="1.35" fill="#00eaff"/>
<rect x="21" y="15" width="1.25" height="1.35" fill="#00ddff"/>
<rect x="22" y="15" width="1.25" height="1.35" fill="#00d1ff"/>
<rect x="23" y="15" width="1.1" height="1.35" fill="#00c4ff"/>
<rect x="-0.1" y="16" width="1.35" height="1.35" fill="#dcff23"/>
<rect x="1" y="16" width="1.25" height="1.35" fill="#d1ff2e"/>
<rect x="2" y="16" width="1.25" height="1.35" fill="#c6ff39"/>
<rect x="3" y="16" width="1.25" height="1.35" fill="#baff45"/>
<rect x="4" y="16" width="1.25" height="1.35" fill="#aeff51"/>
<rect x="5" y="16" width="1.25" height="1.35" fill="#a4ff5b"/>
<rect x="6" y="16" width="1.25" height="1.35" fill="#9aff65"/>
<rect x="7" y="16" width="1.25" height="1.35" fill="#92ff6d"/>
<rect x="8" y="16" width="1.25" height="1.35" fill="#8aff75"/>
<rect x="9" y="16" width="1.25" height="1.35" fill="#82ff7d"/>
<rect x="10" y="16" width="1.25" height="1.35" fill="#78ff87"/>
<rect x="11" y="16" width="1.25" height="1.35" fill="#6cff93"/>
<rect x="12" y="16" width="1.25" height="1.35" fill="#62ff9d"/>
<rect x="13" y="16" width="1.25" height="1.35" fill="#59ffa6"/>
<rect x="14" y="16" width="1.25" height="1.35" fill="#50ffaf"/>
<rect x="15" y="16" width="1.25" height="1.35" fill="#48ffb7"/>
<rect x="16" y="16" width="1.25" height="1.35" fill="#3fffc0"/>
<rect x="17" y="16" width="1.25" height="1.35" fill="#37ffc8"/>
<rect x="18" y="16" width="1.25" height="1.35" fill="#2effd1"/>
<rect x="19" y="16" width="1.25" height="1.35" fill="#23ffdc"/>
<rect x="20" y="16" width="1.25" height="1.35" fill="#18ffe7"/>
<rect x="21" y="16" width="1.25" height="1.35" fill="#0bfff4"/>
<rect x="22" y="16" width="1.25" height="1.35" fill="#00feff"/>
<rect x="23" y="16" width="1.1" height="1.35" fill="#00f0ff"/>
<rect x="-0.1" y="17" width="1.35" height="1.35" fill="#e1ff1e"/>
<rect x="1" y="17" width="1.25" height="1.35" fill="#dbff24"/>
<rect x="2" y="17" width="1.25" height="1.35" fill="#d5ff2a"/>
<rect x="3" y="17" width="1.25" height="1.35" fill="#ceff31"/>
<rect x="4" y="17" width="1.25" height="1.35" fill="#c7ff38"/>
<rect x="5" y="17" width="1.25" height="1.35" fill="#c0ff3f"/>
<rect x="6" y="17" width="1.25" height="1.35" fill="#b9ff46"/>
<rect x="7" y="17" width="1.25" height="1.35" fill="#b2ff4d"/>
<rect x="8" y="17" width="1.25" height="1.35" fill="#abff54"/>
<rect x="9" y="17" width="1.25" height="1.35" fill="#a4ff5b"/>
<rect x="10" y="17" width="1.25" height="1.35" fill="#9cff63"/>
<rect x="11" y="17" width="1.25" height="1.35" fill="#93ff6c"/>
<rect x="12" y="17" width="1.25" height="1.35" fill="#8aff75"/>
<rect x="13" y="17" width="1.25" height="1.35" fill="#81ff7e"/>
<rect x="14" y="17" width="1.25" height="1.35" fill="#79ff86"/>
<rect x="15" y="17" width="1.25" height="1.35" fill="#71ff8e"/>
<rect x="16" y="17" width="1.25" height="1.35" fill="#69ff96"/>
<rect x="17" y="17" width="1.25" height="1.35" fill="#61ff9e"/>
<rect x="18" y="17" width="1.25" height="1.35" fill="#59ffa6"/>
<rect x="19" y="17" width="1.25" height="1.35" fill="#4fffb0"/>
<rect x="20" y="17" width="1.25" height="1.35" fill="#44ffbb"/>
<rect x="21" y="17" width="1.25" height="1.35" fill="#38ffc7"/>
<rect x="22" y="17" width="1.25" height="1.35" fill="#2bffd4"/>
<rect x="23" y="17" width="1.1" height="1.35" fill="#1dffe2"/>
<rect x="-0.1" y="18" width="2.35" height="1.35" fill="#e6ff19"/>
<rect x="2" y="18" width="1.25" height="1.35" fill="#e5ff1a"/>
<rect x="3" y="18" width="1.25" height="1.35" fill="#e3ff1c"/>
<rect x="4" y="18" width="1.25" height="1.35" fill="#e1ff1e"/>
<rect x="5" y="18" width="1.25" height="1.35" fill="#dbff24"/>
<rect x="6" y="18" width="1.25" height="1.35" fill="#d4ff2b"/>
<rect x="7" y="18" width="1.25" height="1.35" fill="#cfff30"/>
<rect x="8" y="18" width="1.25" height="1.35" fill="#cbff34"/>
<rect x="9" y="18" width="1.25" height="1.35" fill="#c6ff39"/>
<rect x="10" y="18" width="1.25" height="1.35" fill="#bfff40"/>
<rect x="11" y="18" width="1.25" height="1.35" fill="#b6ff49"/>
<rect x="12" y="18" width="1.25" height="1.35" fill="#aeff51"/>
<rect x="13" y="18" width="1.25" height="1.35" fill="#a6ff59"/>
<rect x="14" y="18" width="1.25" height="1.35" fill="#9eff61"/>
<rect x="15" y="18" width="1.25" height="1.35" fill="#96ff69"/>
<rect x="16" y="18" width="1.25" height="1.35" fill="#8fff70"/>
<rect x="17" y="18" width="1.25" height="1.35" fill="#89ff76"/>
<rect x="18" y="18" width="1.25" height="1.35" fill="#81ff7e"/>
<rect x="19" y="18" width="1.25" height="1.35" fill="#78ff87"/>
<rect x="20" y="18" width="1.25" height="1.35" fill="#6eff91"/>
<rect x="21" y="18" width="1.25" height="1.35" fill="#63ff9c"/>
<rect x="22" y="18" width="1.25" height="1.35" fill="#56ffa9"/>
<rect x="23" y="18" width="1.1" height="1.35" fill="#48ffb7"/>
<rect x="-0.1" y="19" width="1.35" height="1.35" fill="#ecff13"/>
<rect x="1" y="19" width="1.25" height="1.35" fill="#f0ff0f"/>
<rect x="2" y="19" width="1.25" height="1.35" fill="#f4ff0b"/>
<rect x="3" y="19" width="1.25" height="1.35" fill="#f7ff08"/>
<rect x="4" y="19" width="1.25" height="1.35" fill="#f8ff07"/>
<rect x="5" y="19" width="1.25" height="1.35" fill="#f4ff0b"/>
<rect x="6" y="19" width="1.25" height="1.35" fill="#eeff11"/>
<rect x="7" y="19" width="1.25" height="1.35" fill="#ebff14"/>
<rect x="8" y="19" width="1.25" height="1.35" fill="#e9ff16"/>
<rect x="9" y="19" width="1.25" height="1.35" fill="#e6ff19"/>
<rect x="10" y="19" width="1.25" height="1.35" fill="#e0ff1f"/>
<rect x="11" y="19" width="1.25" height="1.35" fill="#d9ff26"/>
<rect x="12" y="19" width="1.25" height="1.35" fill="#d1ff2e"/>
<rect x="13" y="19" width="1.25" height="1.35" fill="#caff35"/>
<rect x="14" y="19" width="1.25" height="1.35" fill="#c2ff3d"/>
<rect x="15" y="19" width="1.25" height="1.35" fill="#bbff44"/>
<rect x="16" y="19" width="1.25" height="1.35" fill="#b5ff4a"/>
<rect x="17" y="19" width="1.25" height="1.35" fill="#afff50"/>
<rect x="18" y="19" width="1.25" height="1.35" fill="#a8ff57"/>
<rect x="19" y="19" width="1.25" height="1.35" fill="#a1ff5e"/>
<rect x="20" y="19" width="1.25" height="1.35" fill="#98ff67"/>
<rect x="21" y="19" width="1.25" height="1.35" fill="#8eff71"/>
<rect x="22" y="19" width="1.25" height="1.35" fill="#82ff7d"/>
<rect x="23" y="19" width="1.1" height="1.35" fill="#75ff8a"/>
<rect x="-0.1" y="20" width="1.35" height="1.35" fill="#f1ff0e"/>
<rect x="1" y="20" width="1.25" height="1.35" fill="#faff05"/>
<rect x="2" y="20" width="1.25" height="1.35" fill="#fffd00"/>
<rect x="3" y="20" width="1.25" height="1.35" fill="#fffa00"/>
<rect x="4" y="20" width="1.25" height="1.35" fill="#fff800"/>
<rect x="5" y="20" width="1.25" height="1.35" fill="#fffa00"/>
<rect x="6" y="20" width="1.25" height="1.35" fill="#fffb00"/>
<rect x="7" y="20" width="3.25" height="1.35" fill="#fffc00"/>
<rect x="10" y="20" width="1.25" height="1.35" fill="#ffff00"/>
<rect x="11" y="20" width="1.25" height="1.35" fill="#f9ff06"/>
<rect x="12" y="20" width="1.25" height="1.35" fill="#f3ff0c"/>
<rect x="13" y="20" width="1.25" height="1.35" fill="#edff12"/>
<rect x="14" y="20" width="1.25" height="1.35" fill="#e7ff18"/>
<rect x="15" y="20" width="1.25" height="1.35" fill="#e0ff1f"/>
<rect x="16" y="20" width="1.25" height="1.35" fill="#daff25"/>
<rect x="17" y="20" width="1.25" height="1.35" fill="#d4ff2b"/>
<rect x="18" y="20" width="1.25" height="1.35" fill="#cdff32"/>
<rect x="19" y="20" width="1.25" height="1.35" fill="#c7ff38"/>
<rect x="20" y="20" width="1.25" height="1.35" fill="#c1ff3e"/>
<rect x="21" y="20" width="1.25" height="1.35" fill="#baff45"/>
<rect x="22" y="20" width="1.25" height="1.35" fill="#b2ff4d"/>
<rect x="23" y="20" width="1.1" height="1.35" fill="#a9ff56"/>
<rect x="-0.1" y="21" width="1.35" height="1.35" fill="#f6ff09"/>
<rect x="1" y="21" width="1.25" height="1.35" fill="#fff900"/>
<rect x="2" y="21" width="1.25" height="1.35" fill="#fff000"/>
<rect x="3" y="21" width="1.25" height="1.35" fill="#ffec00"/>
<rect x="4" y="21" width="1.25" height="1.35" fill="#ffea00"/>
<rect x="5" y="21" width="1.25" height="1.35" fill="#ffe700"/>
<rect x="6" y="21" width="1.25" height="1.35" fill="#ffe600"/>
<rect x="7" y="21" width="1.25" height="1.35" fill="#ffe300"/>
<rect x="8" y="21" width="1.25" height="1.35" fill="#ffe100"/>
<rect x="9" y="21" width="1.25" height="1.35" fill="#ffdf00"/>
<rect x="10" y="21" width="1.25" height="1.35" fill="#ffe100"/>
<rect x="11" y="21" width="1.25" height="1.35" fill="#ffe400"/>
<rect x="12" y="21" width="1.25" height="1.35" fill="#ffe800"/>
<rect x="13" y="21" width="1.25" height="1.35" fill="#ffec00"/>
<rect x="14" y="21" width="1.25" height="1.35" fill="#fff100"/>
<rect x="15" y="21" width="1.25" height="1.35" fill="#fff600"/>
<rect x="16" y="21" width="1.25" height="1.35" fill="#fffc00"/>
<rect x="17" y="21" width="1.25" height="1.35" fill="#fbff04"/>
<rect x="18" y="21" width="1.25" height="1.35" fill="#f6ff09"/>
<rect x="19" y="21" width="1.25" height="1.35" fill="#f1ff0e"/>
<rect x="20" y="21" width="1.25" height="1.35" fill="#edff12"/>
<rect x="21" y="21" width="1.25" height="1.35" fill="#e9ff16"/>
<rect x="22" y="21" width="1.25" height="1.35" fill="#e5ff1a"/>
<rect x="23" y="21" width="1.1" height="1.35" fill="#e1ff1e"/>
<rect x="-0.1" y="22" width="1.35" height="1.35" fill="#fbff04"/>
<rect x="1" y="22" width="1.25" height="1.35" fill="#ffec00"/>
<rect x="2" y="22" width="1.25" height="1.35" fill="#ffdd00"/>
<rect x="3" y="22" width="1.25" height="1.35" fill="#ffd700"/>
<rect x="4" y="22" width="1.25" height="1.35" fill="#ffd200"/>
<rect x="5" y="22" width="1.25" height="1.35" fill="#ffcd00"/>
<rect x="6" y="22" width="1.25" height="1.35" fill="#ffc900"/>
<rect x="7" y="22" width="1.25" height="1.35" fill="#ffc500"/>
<rect x="8" y="22" width="1.25" height="1.35" fill="#ffc000"/>
<rect x="9" y="22" width="1.25" height="1.35" fill="#ffbe00"/>
<rect x="10" y="22" width="2.25" height="1.35" fill="#ffbf00"/>
<rect x="12" y="22" width="1.25" height="1.35" fill="#ffc000"/>
<rect x="13" y="22" width="1.25" height="1.35" fill="#ffc100"/>
<rect x="14" y="22" width="1.25" height="1.35" fill="#ffc400"/>
<rect x="15" y="22" width="1.25" height="1.35" fill="#ffc800"/>
<rect x="16" y="22" width="1.25" height="1.35" fill="#ffcc00"/>
<rect x="17" y="22" width="1.25" height="1.35" fill="#ffd000"/>
<rect x="18" y="22" width="1.25" height="1.35" fill="#ffd400"/>
<rect x="19" y="22" width="1.25" height="1.35" fill="#ffd700"/>
<rect x="20" y="22" width="1.25" height="1.35" fill="#ffd900"/>
<rect x="21" y="22" width="1.25" height="1.35" fill="#ffdb00"/>
<rect x="22" y="22" width="1.25" height="1.35" fill="#ffde00"/>
<rect x="23" y="22" width="1.1" height="1.35" fill="#ffe000"/>
<rect x="-0.1" y="23" width="1.35" height="1.15" fill="#fffe00"/>
<rect x="1" y="23" width="1.25" height="1.15" fill="#ffdd00"/>
<rect x="2" y="23" width="1.25" height="1.15" fill="#ffc700"/>
<rect x="3" y="23" width="1.25" height="1.15" fill="#ffbb00"/>
<rect x="4" y="23" width="1.25" height="1.15" fill="#ffb300"/>
<rect x="5" y="23" width="1.25" height="1.15" fill="#ffad00"/>
<rect x="6" y="23" width="1.25" height="1.15" fill="#ffa800"/>
<rect x="7" y="23" width="1.25" height="1.15" fill="#ffa300"/>
<rect x="8" y="23" width="1.25" height="1.15" fill="#ff9e00"/>
<rect x="9" y="23" width="1.25" height="1.15" fill="#ff9a00"/>
<rect x="10" y="23" width="1.25" height="1.15" fill="#ff9700"/>
<rect x="11" y="23" width="1.25" height="1.15" fill="#ff9500"/>
<rect x="12" y="23" width="5.25" height="1.15" fill="#ff9400"/>
<rect x="17" y="23" width="1.25" height="1.15" fill="#ff9500"/>
<rect x="18" y="23" width="1.25" height="1.15" fill="#ff9600"/>
<rect x="19" y="23" width="1.25" height="1.15" fill="#ff9700"/>
<rect x="20" y="23" width="1.25" height="1.15" fill="#ff9800"/>
<rect x="21" y="23" width="1.25" height="1.15" fill="#ff9a00"/>
<rect x="22" y="23" width="1.25" height="1.15" fill="#ff9c00"/>
<rect x="23" y="23" width="1.1" height="1.15" fill="#ff9e00"/>
</g>
<path fill="#fff" fill-rule="evenodd" d="M427.30 192.50h258.20v168.75h-258.20zM429.10 194.30h254.60v165.15h-254.60z"/>
<path d="M429.20 194.30V359.35H683.70" fill="none" stroke="#3a3a20" stroke-opacity="0.3" stroke-width="0.8"/>
<polyline points="429.1,319.1 433.4,319.9 437.7,320.6 442.0,321.4 446.4,322.2 450.7,322.9 455.0,323.7 459.3,324.4 463.6,325.1 467.9,325.8 472.3,326.4 476.6,327.1 480.9,327.7 485.2,328.3 489.5,329.0 493.8,329.5 498.1,330.1 502.5,330.7 506.8,331.2 511.1,331.7 515.4,332.2 519.7,332.7 524.0,333.2 528.4,333.7 532.7,334.2 537.0,334.7 541.3,335.1 545.6,335.6 549.9,336.1 554.2,336.5 558.6,337.0 562.9,337.4 567.2,337.9 571.5,338.3 575.8,338.8 580.1,339.2 584.4,339.6 588.8,340.1 593.1,340.5 597.4,340.9 601.7,341.3 606.0,341.7 610.3,342.2 614.7,342.6 619.0,343.0 623.3,343.4 627.6,343.7 631.9,344.1 636.2,344.5 640.5,344.9 644.9,345.3 649.2,345.7 653.5,346.0 657.8,346.4 662.1,346.8 666.4,347.1 670.8,347.5 675.1,347.8 679.4,348.2 683.7,348.5" fill="none" stroke="#ff00ee" stroke-width="2" stroke-linecap="round" stroke-linejoin="round"/>
<g transform="translate(94.35,375.17) scale(10.6104,6.8813)">
<rect x="-0.1" y="-0.15" width="1.35" height="1.5" fill="#ecff13"/>
<rect x="1" y="-0.15" width="1.25" height="1.5" fill="#eaff15"/>
<rect x="2" y="-0.15" width="1.25" height="1.5" fill="#e8ff17"/>
<rect x="3" y="-0.15" width="1.25" height="1.5" fill="#e4ff1b"/>
<rect x="4" y="-0.15" width="1.25" height="1.5" fill="#dfff20"/>
<rect x="5" y="-0.15" width="1.25" height="1.5" fill="#dbff24"/>
<rect x="6" y="-0.15" width="1.25" height="1.5" fill="#d5ff2a"/>
<rect x="7" y="-0.15" width="1.25" height="1.5" fill="#ceff31"/>
<rect x="8" y="-0.15" width="1.25" height="1.5" fill="#c7ff38"/>
<rect x="9" y="-0.15" width="1.25" height="1.5" fill="#bfff40"/>
<rect x="10" y="-0.15" width="1.25" height="1.5" fill="#b9ff46"/>
<rect x="11" y="-0.15" width="1.25" height="1.5" fill="#b3ff4c"/>
<rect x="12" y="-0.15" width="1.25" height="1.5" fill="#aeff51"/>
<rect x="13" y="-0.15" width="1.25" height="1.5" fill="#a8ff57"/>
<rect x="14" y="-0.15" width="1.25" height="1.5" fill="#a1ff5e"/>
<rect x="15" y="-0.15" width="1.25" height="1.5" fill="#9aff65"/>
<rect x="16" y="-0.15" width="1.25" height="1.5" fill="#93ff6c"/>
<rect x="17" y="-0.15" width="1.25" height="1.5" fill="#8cff73"/>
<rect x="18" y="-0.15" width="1.25" height="1.5" fill="#86ff79"/>
<rect x="19" y="-0.15" width="1.25" height="1.5" fill="#7fff80"/>
<rect x="20" y="-0.15" width="1.25" height="1.5" fill="#79ff86"/>
<rect x="21" y="-0.15" width="1.25" height="1.5" fill="#73ff8c"/>
<rect x="22" y="-0.15" width="1.25" height="1.5" fill="#6eff91"/>
<rect x="23" y="-0.15" width="1.1" height="1.5" fill="#69ff96"/>
<rect x="-0.1" y="1" width="2.35" height="1.35" fill="#ecff13"/>
<rect x="2" y="1" width="1.25" height="1.35" fill="#eaff15"/>
<rect x="3" y="1" width="1.25" height="1.35" fill="#e7ff18"/>
<rect x="4" y="1" width="1.25" height="1.35" fill="#e4ff1b"/>
<rect x="5" y="1" width="1.25" height="1.35" fill="#dfff20"/>
<rect x="6" y="1" width="1.25" height="1.35" fill="#dbff24"/>
<rect x="7" y="1" width="1.25" height="1.35" fill="#d5ff2a"/>
<rect x="8" y="1" width="1.25" height="1.35" fill="#ceff31"/>
<rect x="9" y="1" width="1.25" height="1.35" fill="#c7ff38"/>
<rect x="10" y="1" width="1.25" height="1.35" fill="#c0ff3f"/>
<rect x="11" y="1" width="1.25" height="1.35" fill="#bbff44"/>
<rect x="12" y="1" width="1.25" height="1.35" fill="#b6ff49"/>
<rect x="13" y="1" width="1.25" height="1.35" fill="#b0ff4f"/>
<rect x="14" y="1" width="1.25" height="1.35" fill="#a9ff56"/>
<rect x="15" y="1" width="1.25" height="1.35" fill="#a2ff5d"/>
<rect x="16" y="1" width="1.25" height="1.35" fill="#9cff63"/>
<rect x="17" y="1" width="1.25" height="1.35" fill="#96ff69"/>
<rect x="18" y="1" width="1.25" height="1.35" fill="#90ff6f"/>
<rect x="19" y="1" width="1.25" height="1.35" fill="#8aff75"/>
<rect x="20" y="1" width="1.25" height="1.35" fill="#83ff7c"/>
<rect x="21" y="1" width="1.25" height="1.35" fill="#7dff82"/>
<rect x="22" y="1" width="1.25" height="1.35" fill="#78ff87"/>
<rect x="23" y="1" width="1.1" height="1.35" fill="#74ff8b"/>
<rect x="-0.1" y="2" width="3.35" height="1.35" fill="#edff12"/>
<rect x="3" y="2" width="1.25" height="1.35" fill="#ebff14"/>
<rect x="4" y="2" width="1.25" height="1.35" fill="#e8ff17"/>
<rect x="5" y="2" width="1.25" height="1.35" fill="#e4ff1b"/>
<rect x="6" y="2" width="1.25" height="1.35" fill="#e0ff1f"/>
<rect x="7" y="2" width="1.25" height="1.35" fill="#dbff24"/>
<rect x="8" y="2" width="1.25" height="1.35" fill="#d5ff2a"/>
<rect x="9" y="2" width="1.25" height="1.35" fill="#cfff30"/>
<rect x="10" y="2" width="1.25" height="1.35" fill="#c8ff37"/>
<rect x="11" y="2" width="1.25" height="1.35" fill="#c3ff3c"/>
<rect x="12" y="2" width="1.25" height="1.35" fill="#beff41"/>
<rect x="13" y="2" width="1.25" height="1.35" fill="#b8ff47"/>
<rect x="14" y="2" width="1.25" height="1.35" fill="#b1ff4e"/>
<rect x="15" y="2" width="1.25" height="1.35" fill="#abff54"/>
<rect x="16" y="2" width="1.25" height="1.35" fill="#a6ff59"/>
<rect x="17" y="2" width="1.25" height="1.35" fill="#a0ff5f"/>
<rect x="18" y="2" width="1.25" height="1.35" fill="#9aff65"/>
<rect x="19" y="2" width="1.25" height="1.35" fill="#94ff6b"/>
<rect x="20" y="2" width="1.25" height="1.35" fill="#8dff72"/>
<rect x="21" y="2" width="1.25" height="1.35" fill="#87ff78"/>
<rect x="22" y="2" width="1.25" height="1.35" fill="#83ff7c"/>
<rect x="23" y="2" width="1.1" height="1.35" fill="#7fff80"/>
<rect x="-0.1" y="3" width="1.35" height="1.35" fill="#eeff11"/>
<rect x="1" y="3" width="2.25" height="1.35" fill="#efff10"/>
<rect x="3" y="3" width="1.25" height="1.35" fill="#eeff11"/>
<rect x="4" y="3" width="1.25" height="1.35" fill="#ecff13"/>
<rect x="5" y="3" width="1.25" height="1.35" fill="#e9ff16"/>
<rect x="6" y="3" width="1.25" height="1.35" fill="#e5ff1a"/>
<rect x="7" y="3" width="1.25" height="1.35" fill="#e1ff1e"/>
<rect x="8" y="3" width="1.25" height="1.35" fill="#dcff23"/>
<rect x="9" y="3" width="1.25" height="1.35" fill="#d6ff29"/>
<rect x="10" y="3" width="1.25" height="1.35" fill="#d0ff2f"/>
<rect x="11" y="3" width="1.25" height="1.35" fill="#caff35"/>
<rect x="12" y="3" width="1.25" height="1.35" fill="#c5ff3a"/>
<rect x="13" y="3" width="1.25" height="1.35" fill="#c0ff3f"/>
<rect x="14" y="3" width="1.25" height="1.35" fill="#baff45"/>
<rect x="15" y="3" width="1.25" height="1.35" fill="#b4ff4b"/>
<rect x="16" y="3" width="1.25" height="1.35" fill="#afff50"/>
<rect x="17" y="3" width="1.25" height="1.35" fill="#aaff55"/>
<rect x="18" y="3" width="1.25" height="1.35" fill="#a5ff5a"/>
<rect x="19" y="3" width="1.25" height="1.35" fill="#9eff61"/>
<rect x="20" y="3" width="1.25" height="1.35" fill="#98ff67"/>
<rect x="21" y="3" width="1.25" height="1.35" fill="#92ff6d"/>
<rect x="22" y="3" width="1.25" height="1.35" fill="#8dff72"/>
<rect x="23" y="3" width="1.1" height="1.35" fill="#8aff75"/>
<rect x="-0.1" y="4" width="1.35" height="1.35" fill="#efff10"/>
<rect x="1" y="4" width="1.25" height="1.35" fill="#f1ff0e"/>
<rect x="2" y="4" width="1.25" height="1.35" fill="#f2ff0d"/>
<rect x="3" y="4" width="1.25" height="1.35" fill="#f1ff0e"/>
<rect x="4" y="4" width="1.25" height="1.35" fill="#f0ff0f"/>
<rect x="5" y="4" width="1.25" height="1.35" fill="#eeff11"/>
<rect x="6" y="4" width="1.25" height="1.35" fill="#eaff15"/>
<rect x="7" y="4" width="1.25" height="1.35" fill="#e7ff18"/>
<rect x="8" y="4" width="1.25" height="1.35" fill="#e3ff1c"/>
<rect x="9" y="4" width="1.25" height="1.35" fill="#ddff22"/>
<rect x="10" y="4" width="1.25" height="1.35" fill="#d7ff28"/>
<rect x="11" y="4" width="1.25" height="1.35" fill="#d2ff2d"/>
<rect x="12" y="4" width="1.25" height="1.35" fill="#cdff32"/>
<rect x="13" y="4" width="1.25" height="1.35" fill="#c8ff37"/>
<rect x="14" y="4" width="1.25" height="1.35" fill="#c3ff3c"/>
<rect x="15" y="4" width="1.25" height="1.35" fill="#bdff42"/>
<rect x="16" y="4" width="1.25" height="1.35" fill="#b9ff46"/>
<rect x="17" y="4" width="1.25" height="1.35" fill="#b4ff4b"/>
<rect x="18" y="4" width="1.25" height="1.35" fill="#afff50"/>
<rect x="19" y="4" width="1.25" height="1.35" fill="#a9ff56"/>
<rect x="20" y="4" width="1.25" height="1.35" fill="#a3ff5c"/>
<rect x="21" y="4" width="1.25" height="1.35" fill="#9dff62"/>
<rect x="22" y="4" width="1.25" height="1.35" fill="#99ff66"/>
<rect x="23" y="4" width="1.1" height="1.35" fill="#95ff6a"/>
<rect x="-0.1" y="5" width="1.35" height="1.35" fill="#f0ff0f"/>
<rect x="1" y="5" width="1.25" height="1.35" fill="#f3ff0c"/>
<rect x="2" y="5" width="3.25" height="1.35" fill="#f4ff0b"/>
<rect x="5" y="5" width="1.25" height="1.35" fill="#f2ff0d"/>
<rect x="6" y="5" width="1.25" height="1.35" fill="#f0ff0f"/>
<rect x="7" y="5" width="1.25" height="1.35" fill="#edff12"/>
<rect x="8" y="5" width="1.25" height="1.35" fill="#eaff15"/>
<rect x="9" y="5" width="1.25" height="1.35" fill="#e5ff1a"/>
<rect x="10" y="5" width="1.25" height="1.35" fill="#dfff20"/>
<rect x="11" y="5" width="1.25" height="1.35" fill="#daff25"/>
<rect x="12" y="5" width="1.25" height="1.35" fill="#d5ff2a"/>
<rect x="13" y="5" width="1.25" height="1.35" fill="#d0ff2f"/>
<rect x="14" y="5" width="1.25" height="1.35" fill="#ccff33"/>
<rect x="15" y="5" width="1.25" height="1.35" fill="#c7ff38"/>
<rect x="16" y="5" width="1.25" height="1.35" fill="#c2ff3d"/>
<rect x="17" y="5" width="1.25" height="1.35" fill="#beff41"/>
<rect x="18" y="5" width="1.25" height="1.35" fill="#b9ff46"/>
<rect x="19" y="5" width="1.25" height="1.35" fill="#b3ff4c"/>
<rect x="20" y="5" width="1.25" height="1.35" fill="#adff52"/>
<rect x="21" y="5" width="1.25" height="1.35" fill="#a8ff57"/>
<rect x="22" y="5" width="1.25" height="1.35" fill="#a4ff5b"/>
<rect x="23" y="5" width="1.1" height="1.35" fill="#a0ff5f"/>
<rect x="-0.1" y="6" width="1.35" height="1.35" fill="#f1ff0e"/>
<rect x="1" y="6" width="1.25" height="1.35" fill="#f4ff0b"/>
<rect x="2" y="6" width="1.25" height="1.35" fill="#f6ff09"/>
<rect x="3" y="6" width="1.25" height="1.35" fill="#f7ff08"/>
<rect x="4" y="6" width="1.25" height="1.35" fill="#f8ff07"/>
<rect x="5" y="6" width="1.25" height="1.35" fill="#f7ff08"/>
<rect x="6" y="6" width="1.25" height="1.35" fill="#f5ff0a"/>
<rect x="7" y="6" width="1.25" height="1.35" fill="#f3ff0c"/>
<rect x="8" y="6" width="1.25" height="1.35" fill="#f0ff0f"/>
<rect x="9" y="6" width="1.25" height="1.35" fill="#edff12"/>
<rect x="10" y="6" width="1.25" height="1.35" fill="#e8ff17"/>
<rect x="11" y="6" width="1.25" height="1.35" fill="#e3ff1c"/>
<rect x="12" y="6" width="1.25" height="1.35" fill="#ddff22"/>
<rect x="13" y="6" width="1.25" height="1.35" fill="#d9ff26"/>
<rect x="14" y="6" width="1.25" height="1.35" fill="#d5ff2a"/>
<rect x="15" y="6" width="1.25" height="1.35" fill="#d1ff2e"/>
<rect x="16" y="6" width="1.25" height="1.35" fill="#ccff33"/>
<rect x="17" y="6" width="1.25" height="1.35" fill="#c7ff38"/>
<rect x="18" y="6" width="1.25" height="1.35" fill="#c2ff3d"/>
<rect x="19" y="6" width="1.25" height="1.35" fill="#beff41"/>
<rect x="20" y="6" width="1.25" height="1.35" fill="#b9ff46"/>
<rect x="21" y="6" width="1.25" height="1.35" fill="#b5ff4a"/>
<rect x="22" y="6" width="1.25" height="1.35" fill="#b0ff4f"/>
<rect x="23" y="6" width="1.1" height="1.35" fill="#acff53"/>
<rect x="-0.1" y="7" width="1.35" height="1.35" fill="#f2ff0d"/>
<rect x="1" y="7" width="1.25" height="1.35" fill="#f5ff0a"/>
<rect x="2" y="7" width="1.25" height="1.35" fill="#f8ff07"/>
<rect x="3" y="7" width="1.25" height="1.35" fill="#fbff04"/>
<rect x="4" y="7" width="2.25" height="1.35" fill="#fcff03"/>
<rect x="6" y="7" width="1.25" height="1.35" fill="#fbff04"/>
<rect x="7" y="7" width="1.25" height="1.35" fill="#f9ff06"/>
<rect x="8" y="7" width="1.25" height="1.35" fill="#f7ff08"/>
<rect x="9" y="7" width="1.25" height="1.35" fill="#f4ff0b"/>
<rect x="10" y="7" width="1.25" height="1.35" fill="#f1ff0e"/>
<rect x="11" y="7" width="1.25" height="1.35" fill="#ebff14"/>
<rect x="12" y="7" width="1.25" height="1.35" fill="#e6ff19"/>
<rect x="13" y="7" width="1.25" height="1.35" fill="#e2ff1d"/>
<rect x="14" y="7" width="1.25" height="1.35" fill="#dfff20"/>
<rect x="15" y="7" width="1.25" height="1.35" fill="#dcff23"/>
<rect x="16" y="7" width="1.25" height="1.35" fill="#d7ff28"/>
<rect x="17" y="7" width="1.25" height="1.35" fill="#d1ff2e"/>
<rect x="18" y="7" width="1.25" height="1.35" fill="#ccff33"/>
<rect x="19" y="7" width="1.25" height="1.35" fill="#c8ff37"/>
<rect x="20" y="7" width="1.25" height="1.35" fill="#c5ff3a"/>
<rect x="21" y="7" width="1.25" height="1.35" fill="#c1ff3e"/>
<rect x="22" y="7" width="1.25" height="1.35" fill="#bdff42"/>
<rect x="23" y="7" width="1.1" height="1.35" fill="#b7ff48"/>
<rect x="-0.1" y="8" width="1.35" height="1.35" fill="#f4ff0b"/>
<rect x="1" y="8" width="1.25" height="1.35" fill="#f7ff08"/>
<rect x="2" y="8" width="1.25" height="1.35" fill="#faff05"/>
<rect x="3" y="8" width="1.25" height="1.35" fill="#fdff02"/>
<rect x="4" y="8" width="3.25" height="1.35" fill="#ffff00"/>
<rect x="7" y="8" width="1.25" height="1.35" fill="#feff01"/>
<rect x="8" y="8" width="1.25" height="1.35" fill="#fcff03"/>
<rect x="9" y="8" width="1.25" height="1.35" fill="#faff05"/>
<rect x="10" y="8" width="1.25" height="1.35" fill="#f8ff07"/>
<rect x="11" y="8" width="1.25" height="1.35" fill="#f3ff0c"/>
<rect x="12" y="8" width="1.25" height="1.35" fill="#eeff11"/>
<rect x="13" y="8" width="1.25" height="1.35" fill="#ebff14"/>
<rect x="14" y="8" width="1.25" height="1.35" fill="#e8ff17"/>
<rect x="15" y="8" width="1.25" height="1.35" fill="#e5ff1a"/>
<rect x="16" y="8" width="1.25" height="1.35" fill="#e0ff1f"/>
<rect x="17" y="8" width="1.25" height="1.35" fill="#daff25"/>
<rect x="18" y="8" width="1.25" height="1.35" fill="#d5ff2a"/>
<rect x="19" y="8" width="1.25" height="1.35" fill="#d2ff2d"/>
<rect x="20" y="8" width="1.25" height="1.35" fill="#d0ff2f"/>
<rect x="21" y="8" width="1.25" height="1.35" fill="#cdff32"/>
<rect x="22" y="8" width="1.25" height="1.35" fill="#c9ff36"/>
<rect x="23" y="8" width="1.1" height="1.35" fill="#c3ff3c"/>
<rect x="-0.1" y="9" width="1.35" height="1.35" fill="#f5ff0a"/>
<rect x="1" y="9" width="1.25" height="1.35" fill="#f9ff06"/>
<rect x="2" y="9" width="1.25" height="1.35" fill="#fbff04"/>
<rect x="3" y="9" width="1.25" height="1.35" fill="#feff01"/>
<rect x="4" y="9" width="1.25" height="1.35" fill="#fffe00"/>
<rect x="5" y="9" width="2.25" height="1.35" fill="#fffd00"/>
<rect x="7" y="9" width="1.25" height="1.35" fill="#fffe00"/>
<rect x="8" y="9" width="1.25" height="1.35" fill="#ffff00"/>
<rect x="9" y="9" width="1.25" height="1.35" fill="#feff01"/>
<rect x="10" y="9" width="1.25" height="1.35" fill="#fcff03"/>
<rect x="11" y="9" width="1.25" height="1.35" fill="#f9ff06"/>
<rect x="12" y="9" width="1.25" height="1.35" fill="#f5ff0a"/>
<rect x="13" y="9" width="1.25" height="1.35" fill="#f2ff0d"/>
<rect x="14" y="9" width="1.25" height="1.35" fill="#f0ff0f"/>
<rect x="15" y="9" width="1.25" height="1.35" fill="#edff12"/>
<rect x="16" y="9" width="1.25" height="1.35" fill="#e9ff16"/>
<rect x="17" y="9" width="1.25" height="1.35" fill="#e3ff1c"/>
<rect x="18" y="9" width="1.25" height="1.35" fill="#dfff20"/>
<rect x="19" y="9" width="1.25" height="1.35" fill="#dcff23"/>
<rect x="20" y="9" width="1.25" height="1.35" fill="#daff25"/>
<rect x="21" y="9" width="1.25" height="1.35" fill="#d7ff28"/>
<rect x="22" y="9" width="1.25" height="1.35" fill="#d3ff2c"/>
<rect x="23" y="9" width="1.1" height="1.35" fill="#cdff32"/>
<rect x="-0.1" y="10" width="1.35" height="1.35" fill="#f7ff08"/>
<rect x="1" y="10" width="1.25" height="1.35" fill="#faff05"/>
<rect x="2" y="10" width="1.25" height="1.35" fill="#fdff02"/>
<rect x="3" y="10" width="1.25" height="1.35" fill="#ffff00"/>
<rect x="4" y="10" width="1.25" height="1.35" fill="#fffd00"/>
<rect x="5" y="10" width="3.25" height="1.35" fill="#fffc00"/>
<rect x="8" y="10" width="2.25" height="1.35" fill="#fffd00"/>
<rect x="10" y="10" width="1.25" height="1.35" fill="#fffe00"/>
<rect x="11" y="10" width="1.25" height="1.35" fill="#feff01"/>
<rect x="12" y="10" width="1.25" height="1.35" fill="#fbff04"/>
<rect x="13" y="10" width="1.25" height="1.35" fill="#f9ff06"/>
<rect x="14" y="10" width="1.25" height="1.35" fill="#f7ff08"/>
<rect x="15" y="10" width="1.25" height="1.35" fill="#f4ff0b"/>
<rect x="16" y="10" width="1.25" height="1.35" fill="#f1ff0e"/>
<rect x="17" y="10" width="1.25" height="1.35" fill="#ecff13"/>
<rect x="18" y="10" width="1.25" height="1.35" fill="#e8ff17"/>
<rect x="19" y="10" width="1.25" height="1.35" fill="#e6ff19"/>
<rect x="20" y="10" width="1.25" height="1.35" fill="#e3ff1c"/>
<rect x="21" y="10" width="1.25" height="1.35" fill="#e0ff1f"/>
<rect x="22" y="10" width="1.25" height="1.35" fill="#dcff23"/>
<rect x="23" y="10" width="1.1" height="1.35" fill="#d7ff28"/>
<rect x="-0.1" y="11" width="1.35" height="1.35" fill="#f8ff07"/>
<rect x="1" y="11" width="1.25" height="1.35" fill="#fbff04"/>
<rect x="2" y="11" width="1.25" height="1.35" fill="#feff01"/>
<rect x="3" y="11" width="1.25" height="1.35" fill="#fffe00"/>
<rect x="4" y="11" width="1.25" height="1.35" fill="#fffc00"/>
<rect x="5" y="11" width="1.25" height="1.35" fill="#fffb00"/>
<rect x="6" y="11" width="5.25" height="1.35" fill="#fffa00"/>
<rect x="11" y="11" width="1.25" height="1.35" fill="#fffb00"/>
<rect x="12" y="11" width="1.25" height="1.35" fill="#fffc00"/>
<rect x="13" y="11" width="1.25" height="1.35" fill="#fffe00"/>
<rect x="14" y="11" width="1.25" height="1.35" fill="#feff01"/>
<rect x="15" y="11" width="1.25" height="1.35" fill="#fcff03"/>
<rect x="16" y="11" width="1.25" height="1.35" fill="#f9ff06"/>
<rect x="17" y="11" width="1.25" height="1.35" fill="#f5ff0a"/>
<rect x="18" y="11" width="1.25" height="1.35" fill="#f2ff0d"/>
<rect x="19" y="11" width="1.25" height="1.35" fill="#efff10"/>
<rect x="20" y="11" width="1.25" height="1.35" fill="#ecff13"/>
<rect x="21" y="11" width="1.25" height="1.35" fill="#eaff15"/>
<rect x="22" y="11" width="1.25" height="1.35" fill="#e6ff19"/>
<rect x="23" y="11" width="1.1" height="1.35" fill="#e1ff1e"/>
<rect x="-0.1" y="12" width="1.35" height="1.35" fill="#f8ff07"/>
<rect x="1" y="12" width="1.25" height="1.35" fill="#fcff03"/>
<rect x="2" y="12" width="1.25" height="1.35" fill="#ffff00"/>
<rect x="3" y="12" width="1.25" height="1.35" fill="#fffc00"/>
<rect x="4" y="12" width="1.25" height="1.35" fill="#fffa00"/>
<rect x="5" y="12" width="1.25" height="1.35" fill="#fff800"/>
<rect x="6" y="12" width="1.25" height="1.35" fill="#fff700"/>
<rect x="7" y="12" width="1.25" height="1.35" fill="#fff600"/>
<rect x="8" y="12" width="1.25" height="1.35" fill="#fff500"/>
<rect x="9" y="12" width="3.25" height="1.35" fill="#fff400"/>
<rect x="12" y="12" width="1.25" height="1.35" fill="#fff500"/>
<rect x="13" y="12" width="1.25" height="1.35" fill="#fff600"/>
<rect x="14" y="12" width="1.25" height="1.35" fill="#fff800"/>
<rect x="15" y="12" width="1.25" height="1.35" fill="#fffa00"/>
<rect x="16" y="12" width="1.25" height="1.35" fill="#fffc00"/>
<rect x="17" y="12" width="1.25" height="1.35" fill="#feff01"/>
<rect x="18" y="12" width="1.25" height="1.35" fill="#fbff04"/>
<rect x="19" y="12" width="1.25" height="1.35" fill="#f8ff07"/>
<rect x="20" y="12" width="1.25" height="1.35" fill="#f5ff0a"/>
<rect x="21" y="12" width="1.25" height="1.35" fill="#f2ff0d"/>
<rect x="22" y="12" width="1.25" height="1.35" fill="#efff10"/>
<rect x="23" y="12" width="1.1" height="1.35" fill="#ebff14"/>
<rect x="-0.1" y="13" width="1.35" height="1.35" fill="#f8ff07"/>
<rect x="1" y="13" width="1.25" height="1.35" fill="#fcff03"/>
<rect x="2" y="13" width="1.25" height="1.35" fill="#fffd00"/>
<rect x="3" y="13" width="1.25" height="1.35" fill="#fffa00"/>
<rect x="4" y="13" width="1.25" height="1.35" fill="#fff700"/>
<rect x="5" y="13" width="1.25" height="1.35" fill="#fff500"/>
<rect x="6" y="13" width="1.25" height="1.35" fill="#fff400"/>
<rect x="7" y="13" width="1.25" height="1.35" fill="#fff200"/>
<rect x="8" y="13" width="1.25" height="1.35" fill="#fff000"/>
<rect x="9" y="13" width="1.25" height="1.35" fill="#ffee00"/>
<rect x="10" y="13" width="2.25" height="1.35" fill="#ffed00"/>
<rect x="12" y="13" width="2.25" height="1.35" fill="#ffee00"/>
<rect x="14" y="13" width="1.25" height="1.35" fill="#ffef00"/>
<rect x="15" y="13" width="1.25" height="1.35" fill="#fff100"/>
<rect x="16" y="13" width="1.25" height="1.35" fill="#fff300"/>
<rect x="17" y="13" width="1.25" height="1.35" fill="#fff600"/>
<rect x="18" y="13" width="1.25" height="1.35" fill="#fffa00"/>
<rect x="19" y="13" width="1.25" height="1.35" fill="#fffd00"/>
<rect x="20" y="13" width="1.25" height="1.35" fill="#feff01"/>
<rect x="21" y="13" width="1.25" height="1.35" fill="#fbff04"/>
<rect x="22" y="13" width="1.25" height="1.35" fill="#f8ff07"/>
<rect x="23" y="13" width="1.1" height="1.35" fill="#f4ff0b"/>
<rect x="-0.1" y="14" width="1.35" height="1.35" fill="#f8ff07"/>
<rect x="1" y="14" width="1.25" height="1.35" fill="#fdff02"/>
<rect x="2" y="14" width="1.25" height="1.35" fill="#fffc00"/>
<rect x="3" y="14" width="1.25" height="1.35" fill="#fff700"/>
<rect x="4" y="14" width="1.25" height="1.35" fill="#fff400"/>
<rect x="5" y="14" width="1.25" height="1.35" fill="#fff200"/>
<rect x="6" y="14" width="1.25" height="1.35" fill="#fff000"/>
<rect x="7" y="14" width="1.25" height="1.35" fill="#ffed00"/>
<rect x="8" y="14" width="1.25" height="1.35" fill="#ffea00"/>
<rect x="9" y="14" width="1.25" height="1.35" fill="#ffe700"/>
<rect x="10" y="14" width="1.25" height="1.35" fill="#ffe600"/>
<rect x="11" y="14" width="2.25" height="1.35" fill="#ffe500"/>
<rect x="13" y="14" width="1.25" height="1.35" fill="#ffe600"/>
<rect x="14" y="14" width="1.25" height="1.35" fill="#ffe700"/>
<rect x="15" y="14" width="1.25" height="1.35" fill="#ffe800"/>
<rect x="16" y="14" width="1.25" height="1.35" fill="#ffe900"/>
<rect x="17" y="14" width="1.25" height="1.35" fill="#ffec00"/>
<rect x="18" y="14" width="1.25" height="1.35" fill="#fff000"/>
<rect x="19" y="14" width="1.25" height="1.35" fill="#fff300"/>
<rect x="20" y="14" width="1.25" height="1.35" fill="#fff600"/>
<rect x="21" y="14" width="1.25" height="1.35" fill="#fffa00"/>
<rect x="22" y="14" width="1.25" height="1.35" fill="#fffd00"/>
<rect x="23" y="14" width="1.1" height="1.35" fill="#feff01"/>
<rect x="-0.1" y="15" width="1.35" height="1.35" fill="#f9ff06"/>
<rect x="1" y="15" width="1.25" height="1.35" fill="#ffff00"/>
<rect x="2" y="15" width="1.25" height="1.35" fill="#fffa00"/>
<rect x="3" y="15" width="1.25" height="1.35" fill="#fff500"/>
<rect x="4" y="15" width="1.25" height="1.35" fill="#fff100"/>
<rect x="5" y="15" width="1.25" height="1.35" fill="#ffee00"/>
<rect x="6" y="15" width="1.25" height="1.35" fill="#ffeb00"/>
<rect x="7" y="15" width="1.25" height="1.35" fill="#ffe800"/>
<rect x="8" y="15" width="1.25" height="1.35" fill="#ffe400"/>
<rect x="9" y="15" width="1.25" height="1.35" fill="#ffe100"/>
<rect x="10" y="15" width="1.25" height="1.35" fill="#ffde00"/>
<rect x="11" y="15" width="1.25" height="1.35" fill="#ffdd00"/>
<rect x="12" y="15" width="3.25" height="1.35" fill="#ffdc00"/>
<rect x="15" y="15" width="1.25" height="1.35" fill="#ffdd00"/>
<rect x="16" y="15" width="1.25" height="1.35" fill="#ffdf00"/>
<rect x="17" y="15" width="1.25" height="1.35" fill="#ffe200"/>
<rect x="18" y="15" width="1.25" height="1.35" fill="#ffe500"/>
<rect x="19" y="15" width="1.25" height="1.35" fill="#ffe800"/>
<rect x="20" y="15" width="1.25" height="1.35" fill="#ffec00"/>
<rect x="21" y="15" width="1.25" height="1.35" fill="#fff000"/>
<rect x="22" y="15" width="1.25" height="1.35" fill="#fff300"/>
<rect x="23" y="15" width="1.1" height="1.35" fill="#fff600"/>
<rect x="-0.1" y="16" width="1.35" height="1.35" fill="#faff05"/>
<rect x="1" y="16" width="1.25" height="1.35" fill="#fffd00"/>
<rect x="2" y="16" width="1.25" height="1.35" fill="#fff700"/>
<rect x="3" y="16" width="1.25" height="1.35" fill="#fff200"/>
<rect x="4" y="16" width="1.25" height="1.35" fill="#ffed00"/>
<rect x="5" y="16" width="1.25" height="1.35" fill="#ffea00"/>
<rect x="6" y="16" width="1.25" height="1.35" fill="#ffe700"/>
<rect x="7" y="16" width="1.25" height="1.35" fill="#ffe200"/>
<rect x="8" y="16" width="1.25" height="1.35" fill="#ffde00"/>
<rect x="9" y="16" width="1.25" height="1.35" fill="#ffda00"/>
<rect x="10" y="16" width="1.25" height="1.35" fill="#ffd700"/>
<rect x="11" y="16" width="1.25" height="1.35" fill="#ffd300"/>
<rect x="12" y="16" width="3.25" height="1.35" fill="#ffd100"/>
<rect x="15" y="16" width="1.25" height="1.35" fill="#ffd200"/>
<rect x="16" y="16" width="1.25" height="1.35" fill="#ffd300"/>
<rect x="17" y="16" width="1.25" height="1.35" fill="#ffd700"/>
<rect x="18" y="16" width="1.25" height="1.35" fill="#ffda00"/>
<rect x="19" y="16" width="1.25" height="1.35" fill="#ffdd00"/>
<rect x="20" y="16" width="1.25" height="1.35" fill="#ffe100"/>
<rect x="21" y="16" width="1.25" height="1.35" fill="#ffe500"/>
<rect x="22" y="16" width="1.25" height="1.35" fill="#ffe800"/>
<rect x="23" y="16" width="1.1" height="1.35" fill="#ffeb00"/>
<rect x="-0.1" y="17" width="1.35" height="1.35" fill="#fcff03"/>
<rect x="1" y="17" width="1.25" height="1.35" fill="#fffa00"/>
<rect x="2" y="17" width="1.25" height="1.35" fill="#fff400"/>
<rect x="3" y="17" width="1.25" height="1.35" fill="#ffee00"/>
<rect x="4" y="17" width="1.25" height="1.35" fill="#ffea00"/>
<rect x="5" y="17" width="1.25" height="1.35" fill="#ffe600"/>
<rect x="6" y="17" width="1.25" height="1.35" fill="#ffe100"/>
<rect x="7" y="17" width="1.25" height="1.35" fill="#ffdc00"/>
<rect x="8" y="17" width="1.25" height="1.35" fill="#ffd700"/>
<rect x="9" y="17" width="1.25" height="1.35" fill="#ffd300"/>
<rect x="10" y="17" width="1.25" height="1.35" fill="#ffcf00"/>
<rect x="11" y="17" width="1.25" height="1.35" fill="#ffca00"/>
<rect x="12" y="17" width="4.25" height="1.35" fill="#ffc700"/>
<rect x="16" y="17" width="1.25" height="1.35" fill="#ffc800"/>
<rect x="17" y="17" width="1.25" height="1.35" fill="#ffcc00"/>
<rect x="18" y="17" width="1.25" height="1.35" fill="#ffcf00"/>
<rect x="19" y="17" width="1.25" height="1.35" fill="#ffd200"/>
<rect x="20" y="17" width="1.25" height="1.35" fill="#ffd600"/>
<rect x="21" y="17" width="1.25" height="1.35" fill="#ffd900"/>
<rect x="22" y="17" width="1.25" height="1.35" fill="#ffdc00"/>
<rect x="23" y="17" width="1.1" height="1.35" fill="#ffdf00"/>
<rect x="-0.1" y="18" width="1.35" height="1.35" fill="#fdff02"/>
<rect x="1" y="18" width="1.25" height="1.35" fill="#fff800"/>
<rect x="2" y="18" width="1.25" height="1.35" fill="#fff000"/>
<rect x="3" y="18" width="1.25" height="1.35" fill="#ffea00"/>
<rect x="4" y="18" width="1.25" height="1.35" fill="#ffe500"/>
<rect x="5" y="18" width="1.25" height="1.35" fill="#ffe000"/>
<rect x="6" y="18" width="1.25" height="1.35" fill="#ffdb00"/>
<rect x="7" y="18" width="1.25" height="1.35" fill="#ffd500"/>
<rect x="8" y="18" width="1.25" height="1.35" fill="#ffd000"/>
<rect x="9" y="18" width="1.25" height="1.35" fill="#ffcb00"/>
<rect x="10" y="18" width="1.25" height="1.35" fill="#ffc700"/>
<rect x="11" y="18" width="1.25" height="1.35" fill="#ffc200"/>
<rect x="12" y="18" width="1.25" height="1.35" fill="#ffbe00"/>
<rect x="13" y="18" width="3.25" height="1.35" fill="#ffbd00"/>
<rect x="16" y="18" width="1.25" height="1.35" fill="#ffbe00"/>
<rect x="17" y="18" width="1.25" height="1.35" fill="#ffc100"/>
<rect x="18" y="18" width="1.25" height="1.35" fill="#ffc400"/>
<rect x="19" y="18" width="1.25" height="1.35" fill="#ffc700"/>
<rect x="20" y="18" width="1.25" height="1.35" fill="#ffca00"/>
<rect x="21" y="18" width="1.25" height="1.35" fill="#ffce00"/>
<rect x="22" y="18" width="1.25" height="1.35" fill="#ffd000"/>
<rect x="23" y="18" width="1.1" height="1.35" fill="#ffd300"/>
<rect x="-0.1" y="19" width="1.35" height="1.35" fill="#fdff02"/>
<rect x="1" y="19" width="1.25" height="1.35" fill="#fff500"/>
<rect x="2" y="19" width="1.25" height="1.35" fill="#ffec00"/>
<rect x="3" y="19" width="1.25" height="1.35" fill="#ffe500"/>
<rect x="4" y="19" width="1.25" height="1.35" fill="#ffdf00"/>
<rect x="5" y="19" width="1.25" height="1.35" fill="#ffda00"/>
<rect x="6" y="19" width="1.25" height="1.35" fill="#ffd400"/>
<rect x="7" y="19" width="1.25" height="1.35" fill="#ffce00"/>
<rect x="8" y="19" width="1.25" height="1.35" fill="#ffc800"/>
<rect x="9" y="19" width="1.25" height="1.35" fill="#ffc300"/>
<rect x="10" y="19" width="1.25" height="1.35" fill="#ffbe00"/>
<rect x="11" y="19" width="1.25" height="1.35" fill="#ffba00"/>
<rect x="12" y="19" width="1.25" height="1.35" fill="#ffb600"/>
<rect x="13" y="19" width="1.25" height="1.35" fill="#ffb500"/>
<rect x="14" y="19" width="2.25" height="1.35" fill="#ffb300"/>
<rect x="16" y="19" width="1.25" height="1.35" fill="#ffb400"/>
<rect x="17" y="19" width="1.25" height="1.35" fill="#ffb600"/>
<rect x="18" y="19" width="1.25" height="1.35" fill="#ffb900"/>
<rect x="19" y="19" width="1.25" height="1.35" fill="#ffbb00"/>
<rect x="20" y="19" width="1.25" height="1.35" fill="#ffbf00"/>
<rect x="21" y="19" width="1.25" height="1.35" fill="#ffc200"/>
<rect x="22" y="19" width="1.25" height="1.35" fill="#ffc400"/>
<rect x="23" y="19" width="1.1" height="1.35" fill="#ffc600"/>
<rect x="-0.1" y="20" width="1.35" height="1.35" fill="#feff01"/>
<rect x="1" y="20" width="1.25" height="1.35" fill="#fff200"/>
<rect x="2" y="20" width="1.25" height="1.35" fill="#ffe700"/>
<rect x="3" y="20" width="1.25" height="1.35" fill="#ffe000"/>
<rect x="4" y="20" width="1.25" height="1.35" fill="#ffd900"/>
<rect x="5" y="20" width="1.25" height="1.35" fill="#ffd300"/>
<rect x="6" y="20" width="1.25" height="1.35" fill="#ffcd00"/>
<rect x="7" y="20" width="1.25" height="1.35" fill="#ffc700"/>
<rect x="8" y="20" width="1.25" height="1.35" fill="#ffc100"/>
<rect x="9" y="20" width="1.25" height="1.35" fill="#ffbb00"/>
<rect x="10" y="20" width="1.25" height="1.35" fill="#ffb700"/>
<rect x="11" y="20" width="1.25" height="1.35" fill="#ffb200"/>
<rect x="12" y="20" width="1.25" height="1.35" fill="#ffae00"/>
<rect x="13" y="20" width="1.25" height="1.35" fill="#ffac00"/>
<rect x="14" y="20" width="1.25" height="1.35" fill="#ffab00"/>
<rect x="15" y="20" width="1.25" height="1.35" fill="#ffaa00"/>
<rect x="16" y="20" width="1.25" height="1.35" fill="#ffab00"/>
<rect x="17" y="20" width="1.25" height="1.35" fill="#ffad00"/>
<rect x="18" y="20" width="1.25" height="1.35" fill="#ffae00"/>
<rect x="19" y="20" width="1.25" height="1.35" fill="#ffb100"/>
<rect x="20" y="20" width="1.25" height="1.35" fill="#ffb400"/>
<rect x="21" y="20" width="1.25" height="1.35" fill="#ffb700"/>
<rect x="22" y="20" width="1.25" height="1.35" fill="#ffb900"/>
<rect x="23" y="20" width="1.1" height="1.35" fill="#ffbb00"/>
<rect x="-0.1" y="21" width="1.35" height="1.35" fill="#feff01"/>
<rect x="1" y="21" width="1.25" height="1.35" fill="#fff000"/>
<rect x="2" y="21" width="1.25" height="1.35" fill="#ffe300"/>
<rect x="3" y="21" width="1.25" height="1.35" fill="#ffdb00"/>
<rect x="4" y="21" width="1.25" height="1.35" fill="#ffd300"/>
<rect x="5" y="21" width="1.25" height="1.35" fill="#ffcd00"/>
<rect x="6" y="21" width="1.25" height="1.35" fill="#ffc600"/>
<rect x="7" y="21" width="1.25" height="1.35" fill="#ffc000"/>
<rect x="8" y="21" width="1.25" height="1.35" fill="#ffba00"/>
<rect x="9" y="21" width="1.25" height="1.35" fill="#ffb500"/>
<rect x="10" y="21" width="1.25" height="1.35" fill="#ffb000"/>
<rect x="11" y="21" width="1.25" height="1.35" fill="#ffab00"/>
<rect x="12" y="21" width="1.25" height="1.35" fill="#ffa700"/>
<rect x="13" y="21" width="1.25" height="1.35" fill="#ffa500"/>
<rect x="14" y="21" width="3.25" height="1.35" fill="#ffa300"/>
<rect x="17" y="21" width="1.25" height="1.35" fill="#ffa400"/>
<rect x="18" y="21" width="1.25" height="1.35" fill="#ffa500"/>
<rect x="19" y="21" width="1.25" height="1.35" fill="#ffa700"/>
<rect x="20" y="21" width="1.25" height="1.35" fill="#ffaa00"/>
<rect x="21" y="21" width="1.25" height="1.35" fill="#ffac00"/>
<rect x="22" y="21" width="1.25" height="1.35" fill="#ffae00"/>
<rect x="23" y="21" width="1.1" height="1.35" fill="#ffb000"/>
<rect x="-0.1" y="22" width="1.35" height="1.35" fill="#ffff00"/>
<rect x="1" y="22" width="1.25" height="1.35" fill="#ffed00"/>
<rect x="2" y="22" width="1.25" height="1.35" fill="#ffdf00"/>
<rect x="3" y="22" width="1.25" height="1.35" fill="#ffd500"/>
<rect x="4" y="22" width="1.25" height="1.35" fill="#ffcd00"/>
<rect x="5" y="22" width="1.25" height="1.35" fill="#ffc600"/>
<rect x="6" y="22" width="1.25" height="1.35" fill="#ffbf00"/>
<rect x="7" y="22" width="1.25" height="1.35" fill="#ffba00"/>
<rect x="8" y="22" width="1.25" height="1.35" fill="#ffb400"/>
<rect x="9" y="22" width="1.25" height="1.35" fill="#ffaf00"/>
<rect x="10" y="22" width="1.25" height="1.35" fill="#ffaa00"/>
<rect x="11" y="22" width="1.25" height="1.35" fill="#ffa400"/>
<rect x="12" y="22" width="1.25" height="1.35" fill="#ffa000"/>
<rect x="13" y="22" width="1.25" height="1.35" fill="#ff9e00"/>
<rect x="14" y="22" width="1.25" height="1.35" fill="#ff9d00"/>
<rect x="15" y="22" width="2.25" height="1.35" fill="#ff9c00"/>
<rect x="17" y="22" width="2.25" height="1.35" fill="#ff9d00"/>
<rect x="19" y="22" width="1.25" height="1.35" fill="#ff9f00"/>
<rect x="20" y="22" width="1.25" height="1.35" fill="#ffa100"/>
<rect x="21" y="22" width="1.25" height="1.35" fill="#ffa300"/>
<rect x="22" y="22" width="1.25" height="1.35" fill="#ffa500"/>
<rect x="23" y="22" width="1.1" height="1.35" fill="#ffa700"/>
<rect x="-0.1" y="23" width="1.35" height="1.15" fill="#ffff00"/>
<rect x="1" y="23" width="1.25" height="1.15" fill="#ffeb00"/>
<rect x="2" y="23" width="1.25" height="1.15" fill="#ffdb00"/>
<rect x="3" y="23" width="1.25" height="1.15" fill="#ffd000"/>
<rect x="4" y="23" width="1.25" height="1.15" fill="#ffc700"/>
<rect x="5" y="23" width="1.25" height="1.15" fill="#ffbf00"/>
<rect x="6" y="23" width="1.25" height="1.15" fill="#ffb900"/>
<rect x="7" y="23" width="1.25" height="1.15" fill="#ffb300"/>
<rect x="8" y="23" width="1.25" height="1.15" fill="#ffae00"/>
<rect x="9" y="23" width="1.25" height="1.15" fill="#ffa900"/>
<rect x="10" y="23" width="1.25" height="1.15" fill="#ffa400"/>
<rect x="11" y="23" width="1.25" height="1.15" fill="#ff9e00"/>
<rect x="12" y="23" width="1.25" height="1.15" fill="#ff9a00"/>
<rect x="13" y="23" width="1.25" height="1.15" fill="#ff9800"/>
<rect x="14" y="23" width="1.25" height="1.15" fill="#ff9700"/>
<rect x="15" y="23" width="4.25" height="1.15" fill="#ff9600"/>
<rect x="19" y="23" width="1.25" height="1.15" fill="#ff9700"/>
<rect x="20" y="23" width="1.25" height="1.15" fill="#ff9800"/>
<rect x="21" y="23" width="1.25" height="1.15" fill="#ff9a00"/>
<rect x="22" y="23" width="1.25" height="1.15" fill="#ff9c00"/>
<rect x="23" y="23" width="1.1" height="1.15" fill="#ff9e00"/>
</g>
<path fill="#fff" fill-rule="evenodd" d="M92.55 373.37h258.25v168.75h-258.25zM94.35 375.17h254.65v165.15h-254.65z"/>
<path d="M94.45 375.17V540.22H349.00" fill="none" stroke="#3a3a20" stroke-opacity="0.3" stroke-width="0.8"/>
<polyline points="118.0,375.4 121.9,377.5 125.8,379.6 129.8,381.7 133.7,383.7 137.6,385.8 141.5,387.8 145.4,389.8 149.3,391.7 153.2,393.7 157.2,395.6 161.1,397.5 165.0,399.4 168.9,401.3 172.8,403.2 176.7,405.0 180.6,406.8 184.6,408.7 188.5,410.4 192.4,412.2 196.3,414.0 200.2,415.7 204.1,417.4 208.1,419.1 212.0,420.8 215.9,422.5 219.8,424.2 223.7,425.8 227.6,427.4 231.5,429.1 235.5,430.7 239.4,432.2 243.3,433.8 247.2,435.4 251.1,436.9 255.0,438.5 259.0,440.0 262.9,441.5 266.8,443.0 270.7,444.5 274.6,446.0 278.5,447.4 282.4,448.9 286.4,450.3 290.3,451.7 294.2,453.2 298.1,454.6 302.0,456.0 305.9,457.4 309.8,458.8 313.8,460.1 317.7,461.5 321.6,462.9 325.5,464.2 329.4,465.6 333.3,466.9 337.3,468.2 341.2,469.5 345.1,470.8 349.0,472.2" fill="none" stroke="#ff00ee" stroke-width="2" stroke-linecap="round" stroke-linejoin="round"/>
<g transform="translate(429.10,375.17) scale(10.6083,6.8813)">
<rect x="-0.1" y="-0.15" width="1.35" height="1.5" fill="#e1ff1e"/>
<rect x="1" y="-0.15" width="1.25" height="1.5" fill="#d2ff2d"/>
<rect x="2" y="-0.15" width="1.25" height="1.5" fill="#c3ff3c"/>
<rect x="3" y="-0.15" width="1.25" height="1.5" fill="#b2ff4d"/>
<rect x="4" y="-0.15" width="1.25" height="1.5" fill="#a0ff5f"/>
<rect x="5" y="-0.15" width="1.25" height="1.5" fill="#8eff71"/>
<rect x="6" y="-0.15" width="1.25" height="1.5" fill="#7bff84"/>
<rect x="7" y="-0.15" width="1.25" height="1.5" fill="#6aff95"/>
<rect x="8" y="-0.15" width="1.25" height="1.5" fill="#59ffa6"/>
<rect x="9" y="-0.15" width="1.25" height="1.5" fill="#45ffba"/>
<rect x="10" y="-0.15" width="1.25" height="1.5" fill="#2effd1"/>
<rect x="11" y="-0.15" width="1.25" height="1.5" fill="#0efff1"/>
<rect x="12" y="-0.15" width="1.25" height="1.5" fill="#00ecff"/>
<rect x="13" y="-0.15" width="1.25" height="1.5" fill="#00d3ff"/>
<rect x="14" y="-0.15" width="1.25" height="1.5" fill="#00beff"/>
<rect x="15" y="-0.15" width="1.25" height="1.5" fill="#00aaff"/>
<rect x="16" y="-0.15" width="1.25" height="1.5" fill="#0098ff"/>
<rect x="17" y="-0.15" width="1.25" height="1.5" fill="#0087ff"/>
<rect x="18" y="-0.15" width="1.25" height="1.5" fill="#0077ff"/>
<rect x="19" y="-0.15" width="1.25" height="1.5" fill="#0069ff"/>
<rect x="20" y="-0.15" width="1.25" height="1.5" fill="#005bff"/>
<rect x="21" y="-0.15" width="1.25" height="1.5" fill="#004cff"/>
<rect x="22" y="-0.15" width="1.25" height="1.5" fill="#003dff"/>
<rect x="23" y="-0.15" width="1.1" height="1.5" fill="#002eff"/>
<rect x="-0.1" y="1" width="1.35" height="1.35" fill="#e3ff1c"/>
<rect x="1" y="1" width="1.25" height="1.35" fill="#d6ff29"/>
<rect x="2" y="1" width="1.25" height="1.35" fill="#c8ff37"/>
<rect x="3" y="1" width="1.25" height="1.35" fill="#b8ff47"/>
<rect x="4" y="1" width="1.25" height="1.35" fill="#a7ff58"/>
<rect x="5" y="1" width="1.25" height="1.35" fill="#96ff69"/>
<rect x="6" y="1" width="1.25" height="1.35" fill="#84ff7b"/>
<rect x="7" y="1" width="1.25" height="1.35" fill="#73ff8c"/>
<rect x="8" y="1" width="1.25" height="1.35" fill="#61ff9e"/>
<rect x="9" y="1" width="1.25" height="1.35" fill="#4dffb2"/>
<rect x="10" y="1" width="1.25" height="1.35" fill="#37ffc8"/>
<rect x="11" y="1" width="1.25" height="1.35" fill="#1cffe3"/>
<rect x="12" y="1" width="1.25" height="1.35" fill="#00ffff"/>
<rect x="13" y="1" width="1.25" height="1.35" fill="#00e5ff"/>
<rect x="14" y="1" width="1.25" height="1.35" fill="#00ccff"/>
<rect x="15" y="1" width="1.25" height="1.35" fill="#00b6ff"/>
<rect x="16" y="1" width="1.25" height="1.35" fill="#00a5ff"/>
<rect x="17" y="1" width="1.25" height="1.35" fill="#0096ff"/>
<rect x="18" y="1" width="1.25" height="1.35" fill="#0087ff"/>
<rect x="19" y="1" width="1.25" height="1.35" fill="#0078ff"/>
<rect x="20" y="1" width="1.25" height="1.35" fill="#0069ff"/>
<rect x="21" y="1" width="1.25" height="1.35" fill="#005aff"/>
<rect x="22" y="1" width="1.25" height="1.35" fill="#004aff"/>
<rect x="23" y="1" width="1.1" height="1.35" fill="#003bff"/>
<rect x="-0.1" y="2" width="1.35" height="1.35" fill="#e5ff1a"/>
<rect x="1" y="2" width="1.25" height="1.35" fill="#daff25"/>
<rect x="2" y="2" width="1.25" height="1.35" fill="#cdff32"/>
<rect x="3" y="2" width="1.25" height="1.35" fill="#beff41"/>
<rect x="4" y="2" width="1.25" height="1.35" fill="#afff50"/>
<rect x="5" y="2" width="1.25" height="1.35" fill="#9dff62"/>
<rect x="6" y="2" width="1.25" height="1.35" fill="#8cff73"/>
<rect x="7" y="2" width="1.25" height="1.35" fill="#7bff84"/>
<rect x="8" y="2" width="1.25" height="1.35" fill="#69ff96"/>
<rect x="9" y="2" width="1.25" height="1.35" fill="#56ffa9"/>
<rect x="10" y="2" width="1.25" height="1.35" fill="#40ffbf"/>
<rect x="11" y="2" width="1.25" height="1.35" fill="#29ffd6"/>
<rect x="12" y="2" width="1.25" height="1.35" fill="#0ffff0"/>
<rect x="13" y="2" width="1.25" height="1.35" fill="#00f4ff"/>
<rect x="14" y="2" width="1.25" height="1.35" fill="#00d9ff"/>
<rect x="15" y="2" width="1.25" height="1.35" fill="#00c3ff"/>
<rect x="16" y="2" width="1.25" height="1.35" fill="#00b2ff"/>
<rect x="17" y="2" width="1.25" height="1.35" fill="#00a4ff"/>
<rect x="18" y="2" width="1.25" height="1.35" fill="#0096ff"/>
<rect x="19" y="2" width="1.25" height="1.35" fill="#0086ff"/>
<rect x="20" y="2" width="1.25" height="1.35" fill="#0077ff"/>
<rect x="21" y="2" width="1.25" height="1.35" fill="#0067ff"/>
<rect x="22" y="2" width="1.25" height="1.35" fill="#0058ff"/>
<rect x="23" y="2" width="1.1" height="1.35" fill="#0048ff"/>
<rect x="-0.1" y="3" width="1.35" height="1.35" fill="#e8ff17"/>
<rect x="1" y="3" width="1.25" height="1.35" fill="#ddff22"/>
<rect x="2" y="3" width="1.25" height="1.35" fill="#d2ff2d"/>
<rect x="3" y="3" width="1.25" height="1.35" fill="#c4ff3b"/>
<rect x="4" y="3" width="1.25" height="1.35" fill="#b6ff49"/>
<rect x="5" y="3" width="1.25" height="1.35" fill="#a5ff5a"/>
<rect x="6" y="3" width="1.25" height="1.35" fill="#94ff6b"/>
<rect x="7" y="3" width="1.25" height="1.35" fill="#82ff7d"/>
<rect x="8" y="3" width="1.25" height="1.35" fill="#70ff8f"/>
<rect x="9" y="3" width="1.25" height="1.35" fill="#5effa1"/>
<rect x="10" y="3" width="1.25" height="1.35" fill="#4affb5"/>
<rect x="11" y="3" width="1.25" height="1.35" fill="#33ffcc"/>
<rect x="12" y="3" width="1.25" height="1.35" fill="#1bffe4"/>
<rect x="13" y="3" width="1.25" height="1.35" fill="#01fffe"/>
<rect x="14" y="3" width="1.25" height="1.35" fill="#00e6ff"/>
<rect x="15" y="3" width="1.25" height="1.35" fill="#00d0ff"/>
<rect x="16" y="3" width="1.25" height="1.35" fill="#00c0ff"/>
<rect x="17" y="3" width="1.25" height="1.35" fill="#00b3ff"/>
<rect x="18" y="3" width="1.25" height="1.35" fill="#00a5ff"/>
<rect x="19" y="3" width="1.25" height="1.35" fill="#0095ff"/>
<rect x="20" y="3" width="1.25" height="1.35" fill="#0085ff"/>
<rect x="21" y="3" width="1.25" height="1.35" fill="#0075ff"/>
<rect x="22" y="3" width="1.25" height="1.35" fill="#0066ff"/>
<rect x="23" y="3" width="1.1" height="1.35" fill="#0057ff"/>
<rect x="-0.1" y="4" width="1.35" height="1.35" fill="#ebff14"/>
<rect x="1" y="4" width="1.25" height="1.35" fill="#e1ff1e"/>
<rect x="2" y="4" width="1.25" height="1.35" fill="#d6ff29"/>
<rect x="3" y="4" width="1.25" height="1.35" fill="#caff35"/>
<rect x="4" y="4" width="1.25" height="1.35" fill="#bcff43"/>
<rect x="5" y="4" width="1.25" height="1.35" fill="#adff52"/>
<rect x="6" y="4" width="1.25" height="1.35" fill="#9cff63"/>
<rect x="7" y="4" width="1.25" height="1.35" fill="#8aff75"/>
<rect x="8" y="4" width="1.25" height="1.35" fill="#77ff88"/>
<rect x="9" y="4" width="1.25" height="1.35" fill="#67ff98"/>
<rect x="10" y="4" width="1.25" height="1.35" fill="#55ffaa"/>
<rect x="11" y="4" width="1.25" height="1.35" fill="#3dffc2"/>
<rect x="12" y="4" width="1.25" height="1.35" fill="#24ffdb"/>
<rect x="13" y="4" width="1.25" height="1.35" fill="#0cfff3"/>
<rect x="14" y="4" width="1.25" height="1.35" fill="#00f3ff"/>
<rect x="15" y="4" width="1.25" height="1.35" fill="#00deff"/>
<rect x="16" y="4" width="1.25" height="1.35" fill="#00ceff"/>
<rect x="17" y="4" width="1.25" height="1.35" fill="#00c1ff"/>
<rect x="18" y="4" width="1.25" height="1.35" fill="#00b3ff"/>
<rect x="19" y="4" width="1.25" height="1.35" fill="#00a3ff"/>
<rect x="20" y="4" width="1.25" height="1.35" fill="#0093ff"/>
<rect x="21" y="4" width="1.25" height="1.35" fill="#0084ff"/>
<rect x="22" y="4" width="1.25" height="1.35" fill="#0075ff"/>
<rect x="23" y="4" width="1.1" height="1.35" fill="#0066ff"/>
<rect x="-0.1" y="5" width="1.35" height="1.35" fill="#eeff11"/>
<rect x="1" y="5" width="1.25" height="1.35" fill="#e5ff1a"/>
<rect x="2" y="5" width="1.25" height="1.35" fill="#dbff24"/>
<rect x="3" y="5" width="1.25" height="1.35" fill="#d0ff2f"/>
<rect x="4" y="5" width="1.25" height="1.35" fill="#c3ff3c"/>
<rect x="5" y="5" width="1.25" height="1.35" fill="#b4ff4b"/>
<rect x="6" y="5" width="1.25" height="1.35" fill="#a4ff5b"/>
<rect x="7" y="5" width="1.25" height="1.35" fill="#92ff6d"/>
<rect x="8" y="5" width="1.25" height="1.35" fill="#7fff80"/>
<rect x="9" y="5" width="1.25" height="1.35" fill="#70ff8f"/>
<rect x="10" y="5" width="1.25" height="1.35" fill="#5fffa0"/>
<rect x="11" y="5" width="1.25" height="1.35" fill="#47ffb8"/>
<rect x="12" y="5" width="1.25" height="1.35" fill="#2effd1"/>
<rect x="13" y="5" width="1.25" height="1.35" fill="#17ffe8"/>
<rect x="14" y="5" width="1.25" height="1.35" fill="#00ffff"/>
<rect x="15" y="5" width="1.25" height="1.35" fill="#00ecff"/>
<rect x="16" y="5" width="1.25" height="1.35" fill="#00dcff"/>
<rect x="17" y="5" width="1.25" height="1.35" fill="#00cfff"/>
<rect x="18" y="5" width="1.25" height="1.35" fill="#00c1ff"/>
<rect x="19" y="5" width="1.25" height="1.35" fill="#00b1ff"/>
<rect x="20" y="5" width="1.25" height="1.35" fill="#00a1ff"/>
<rect x="21" y="5" width="1.25" height="1.35" fill="#0092ff"/>
<rect x="22" y="5" width="1.25" height="1.35" fill="#0083ff"/>
<rect x="23" y="5" width="1.1" height="1.35" fill="#0075ff"/>
<rect x="-0.1" y="6" width="1.35" height="1.35" fill="#f1ff0e"/>
<rect x="1" y="6" width="1.25" height="1.35" fill="#eaff15"/>
<rect x="2" y="6" width="1.25" height="1.35" fill="#e1ff1e"/>
<rect x="3" y="6" width="1.25" height="1.35" fill="#d6ff29"/>
<rect x="4" y="6" width="1.25" height="1.35" fill="#c9ff36"/>
<rect x="5" y="6" width="1.25" height="1.35" fill="#bbff44"/>
<rect x="6" y="6" width="1.25" height="1.35" fill="#acff53"/>
<rect x="7" y="6" width="1.25" height="1.35" fill="#9bff64"/>
<rect x="8" y="6" width="1.25" height="1.35" fill="#8aff75"/>
<rect x="9" y="6" width="1.25" height="1.35" fill="#7aff85"/>
<rect x="10" y="6" width="1.25" height="1.35" fill="#68ff97"/>
<rect x="11" y="6" width="1.25" height="1.35" fill="#51ffae"/>
<rect x="12" y="6" width="1.25" height="1.35" fill="#38ffc7"/>
<rect x="13" y="6" width="1.25" height="1.35" fill="#22ffdd"/>
<rect x="14" y="6" width="1.25" height="1.35" fill="#0cfff3"/>
<rect x="15" y="6" width="1.25" height="1.35" fill="#00f9ff"/>
<rect x="16" y="6" width="1.25" height="1.35" fill="#00eaff"/>
<rect x="17" y="6" width="1.25" height="1.35" fill="#00dcff"/>
<rect x="18" y="6" width="1.25" height="1.35" fill="#00cfff"/>
<rect x="19" y="6" width="1.25" height="1.35" fill="#00bfff"/>
<rect x="20" y="6" width="1.25" height="1.35" fill="#00afff"/>
<rect x="21" y="6" width="1.25" height="1.35" fill="#00a0ff"/>
<rect x="22" y="6" width="1.25" height="1.35" fill="#0091ff"/>
<rect x="23" y="6" width="1.1" height="1.35" fill="#0084ff"/>
<rect x="-0.1" y="7" width="1.35" height="1.35" fill="#f6ff09"/>
<rect x="1" y="7" width="1.25" height="1.35" fill="#f0ff0f"/>
<rect x="2" y="7" width="1.25" height="1.35" fill="#e7ff18"/>
<rect x="3" y="7" width="1.25" height="1.35" fill="#dcff23"/>
<rect x="4" y="7" width="1.25" height="1.35" fill="#cfff30"/>
<rect x="5" y="7" width="1.25" height="1.35" fill="#c2ff3d"/>
<rect x="6" y="7" width="1.25" height="1.35" fill="#b5ff4a"/>
<rect x="7" y="7" width="1.25" height="1.35" fill="#a5ff5a"/>
<rect x="8" y="7" width="1.25" height="1.35" fill="#95ff6a"/>
<rect x="9" y="7" width="1.25" height="1.35" fill="#84ff7b"/>
<rect x="10" y="7" width="1.25" height="1.35" fill="#72ff8d"/>
<rect x="11" y="7" width="1.25" height="1.35" fill="#5bffa4"/>
<rect x="12" y="7" width="1.25" height="1.35" fill="#43ffbc"/>
<rect x="13" y="7" width="1.25" height="1.35" fill="#2dffd2"/>
<rect x="14" y="7" width="1.25" height="1.35" fill="#18ffe7"/>
<rect x="15" y="7" width="1.25" height="1.35" fill="#06fff9"/>
<rect x="16" y="7" width="1.25" height="1.35" fill="#00f7ff"/>
<rect x="17" y="7" width="1.25" height="1.35" fill="#00eaff"/>
<rect x="18" y="7" width="1.25" height="1.35" fill="#00dcff"/>
<rect x="19" y="7" width="1.25" height="1.35" fill="#00cdff"/>
<rect x="20" y="7" width="1.25" height="1.35" fill="#00bcff"/>
<rect x="21" y="7" width="1.25" height="1.35" fill="#00adff"/>
<rect x="22" y="7" width="1.25" height="1.35" fill="#00a0ff"/>
<rect x="23" y="7" width="1.1" height="1.35" fill="#0093ff"/>
<rect x="-0.1" y="8" width="1.35" height="1.35" fill="#faff05"/>
<rect x="1" y="8" width="1.25" height="1.35" fill="#f5ff0a"/>
<rect x="2" y="8" width="1.25" height="1.35" fill="#eeff11"/>
<rect x="3" y="8" width="1.25" height="1.35" fill="#e2ff1d"/>
<rect x="4" y="8" width="1.25" height="1.35" fill="#d5ff2a"/>
<rect x="5" y="8" width="1.25" height="1.35" fill="#c9ff36"/>
<rect x="6" y="8" width="1.25" height="1.35" fill="#bdff42"/>
<rect x="7" y="8" width="1.25" height="1.35" fill="#afff50"/>
<rect x="8" y="8" width="1.25" height="1.35" fill="#a0ff5f"/>
<rect x="9" y="8" width="1.25" height="1.35" fill="#8fff70"/>
<rect x="10" y="8" width="1.25" height="1.35" fill="#7cff83"/>
<rect x="11" y="8" width="1.25" height="1.35" fill="#65ff9a"/>
<rect x="12" y="8" width="1.25" height="1.35" fill="#4fffb0"/>
<rect x="13" y="8" width="1.25" height="1.35" fill="#39ffc6"/>
<rect x="14" y="8" width="1.25" height="1.35" fill="#25ffda"/>
<rect x="15" y="8" width="1.25" height="1.35" fill="#13ffec"/>
<rect x="16" y="8" width="1.25" height="1.35" fill="#05fffa"/>
<rect x="17" y="8" width="1.25" height="1.35" fill="#00f7ff"/>
<rect x="18" y="8" width="1.25" height="1.35" fill="#00eaff"/>
<rect x="19" y="8" width="1.25" height="1.35" fill="#00daff"/>
<rect x="20" y="8" width="1.25" height="1.35" fill="#00caff"/>
<rect x="21" y="8" width="1.25" height="1.35" fill="#00bbff"/>
<rect x="22" y="8" width="1.25" height="1.35" fill="#00aeff"/>
<rect x="23" y="8" width="1.1" height="1.35" fill="#00a2ff"/>
<rect x="-0.1" y="9" width="1.35" height="1.35" fill="#feff01"/>
<rect x="1" y="9" width="1.25" height="1.35" fill="#faff05"/>
<rect x="2" y="9" width="1.25" height="1.35" fill="#f4ff0b"/>
<rect x="3" y="9" width="1.25" height="1.35" fill="#e9ff16"/>
<rect x="4" y="9" width="1.25" height="1.35" fill="#ddff22"/>
<rect x="5" y="9" width="1.25" height="1.35" fill="#d1ff2e"/>
<rect x="6" y="9" width="1.25" height="1.35" fill="#c5ff3a"/>
<rect x="7" y="9" width="1.25" height="1.35" fill="#b8ff47"/>
<rect x="8" y="9" width="1.25" height="1.35" fill="#aaff55"/>
<rect x="9" y="9" width="1.25" height="1.35" fill="#9aff65"/>
<rect x="10" y="9" width="1.25" height="1.35" fill="#87ff78"/>
<rect x="11" y="9" width="1.25" height="1.35" fill="#72ff8d"/>
<rect x="12" y="9" width="1.25" height="1.35" fill="#5bffa4"/>
<rect x="13" y="9" width="1.25" height="1.35" fill="#47ffb8"/>
<rect x="14" y="9" width="1.25" height="1.35" fill="#33ffcc"/>
<rect x="15" y="9" width="1.25" height="1.35" fill="#21ffde"/>
<rect x="16" y="9" width="1.25" height="1.35" fill="#12ffed"/>
<rect x="17" y="9" width="1.25" height="1.35" fill="#05fffa"/>
<rect x="18" y="9" width="1.25" height="1.35" fill="#00f6ff"/>
<rect x="19" y="9" width="1.25" height="1.35" fill="#00e7ff"/>
<rect x="20" y="9" width="1.25" height="1.35" fill="#00d6ff"/>
<rect x="21" y="9" width="1.25" height="1.35" fill="#00c8ff"/>
<rect x="22" y="9" width="1.25" height="1.35" fill="#00bbff"/>
<rect x="23" y="9" width="1.1" height="1.35" fill="#00b1ff"/>
<rect x="-0.1" y="10" width="1.35" height="1.35" fill="#fffc00"/>
<rect x="1" y="10" width="1.25" height="1.35" fill="#ffff00"/>
<rect x="2" y="10" width="1.25" height="1.35" fill="#faff05"/>
<rect x="3" y="10" width="1.25" height="1.35" fill="#f1ff0e"/>
<rect x="4" y="10" width="1.25" height="1.35" fill="#e5ff1a"/>
<rect x="5" y="10" width="1.25" height="1.35" fill="#d9ff26"/>
<rect x="6" y="10" width="1.25" height="1.35" fill="#ccff33"/>
<rect x="7" y="10" width="1.25" height="1.35" fill="#c0ff3f"/>
<rect x="8" y="10" width="1.25" height="1.35" fill="#b4ff4b"/>
<rect x="9" y="10" width="1.25" height="1.35" fill="#a5ff5a"/>
<rect x="10" y="10" width="1.25" height="1.35" fill="#94ff6b"/>
<rect x="11" y="10" width="1.25" height="1.35" fill="#7fff80"/>
<rect x="12" y="10" width="1.25" height="1.35" fill="#69ff96"/>
<rect x="13" y="10" width="1.25" height="1.35" fill="#55ffaa"/>
<rect x="14" y="10" width="1.25" height="1.35" fill="#41ffbe"/>
<rect x="15" y="10" width="1.25" height="1.35" fill="#2fffd0"/>
<rect x="16" y="10" width="1.25" height="1.35" fill="#20ffdf"/>
<rect x="17" y="10" width="1.25" height="1.35" fill="#12ffed"/>
<rect x="18" y="10" width="1.25" height="1.35" fill="#04fffb"/>
<rect x="19" y="10" width="1.25" height="1.35" fill="#00f3ff"/>
<rect x="20" y="10" width="1.25" height="1.35" fill="#00e3ff"/>
<rect x="21" y="10" width="1.25" height="1.35" fill="#00d5ff"/>
<rect x="22" y="10" width="1.25" height="1.35" fill="#00c9ff"/>
<rect x="23" y="10" width="1.1" height="1.35" fill="#00bfff"/>
<rect x="-0.1" y="11" width="1.35" height="1.35" fill="#fffa00"/>
<rect x="1" y="11" width="1.25" height="1.35" fill="#fffb00"/>
<rect x="2" y="11" width="1.25" height="1.35" fill="#ffff00"/>
<rect x="3" y="11" width="1.25" height="1.35" fill="#f8ff07"/>
<rect x="4" y="11" width="1.25" height="1.35" fill="#eeff11"/>
<rect x="5" y="11" width="1.25" height="1.35" fill="#e2ff1d"/>
<rect x="6" y="11" width="1.25" height="1.35" fill="#d5ff2a"/>
<rect x="7" y="11" width="1.25" height="1.35" fill="#c9ff36"/>
<rect x="8" y="11" width="1.25" height="1.35" fill="#bdff42"/>
<rect x="9" y="11" width="1.25" height="1.35" fill="#afff50"/>
<rect x="10" y="11" width="1.25" height="1.35" fill="#a0ff5f"/>
<rect x="11" y="11" width="1.25" height="1.35" fill="#8dff72"/>
<rect x="12" y="11" width="1.25" height="1.35" fill="#77ff88"/>
<rect x="13" y="11" width="1.25" height="1.35" fill="#63ff9c"/>
<rect x="14" y="11" width="1.25" height="1.35" fill="#50ffaf"/>
<rect x="15" y="11" width="1.25" height="1.35" fill="#3effc1"/>
<rect x="16" y="11" width="1.25" height="1.35" fill="#2effd1"/>
<rect x="17" y="11" width="1.25" height="1.35" fill="#20ffdf"/>
<rect x="18" y="11" width="1.25" height="1.35" fill="#11ffee"/>
<rect x="19" y="11" width="1.25" height="1.35" fill="#02fffd"/>
<rect x="20" y="11" width="1.25" height="1.35" fill="#00f1ff"/>
<rect x="21" y="11" width="1.25" height="1.35" fill="#00e3ff"/>
<rect x="22" y="11" width="1.25" height="1.35" fill="#00d8ff"/>
<rect x="23" y="11" width="1.1" height="1.35" fill="#00cfff"/>
<rect x="-0.1" y="12" width="2.35" height="1.35" fill="#fffa00"/>
<rect x="2" y="12" width="1.25" height="1.35" fill="#fffb00"/>
<rect x="3" y="12" width="1.25" height="1.35" fill="#ffff00"/>
<rect x="4" y="12" width="1.25" height="1.35" fill="#f7ff08"/>
<rect x="5" y="12" width="1.25" height="1.35" fill="#edff12"/>
<rect x="6" y="12" width="1.25" height="1.35" fill="#e0ff1f"/>
<rect x="7" y="12" width="1.25" height="1.35" fill="#d2ff2d"/>
<rect x="8" y="12" width="1.25" height="1.35" fill="#c4ff3b"/>
<rect x="9" y="12" width="1.25" height="1.35" fill="#b8ff47"/>
<rect x="10" y="12" width="1.25" height="1.35" fill="#aaff55"/>
<rect x="11" y="12" width="1.25" height="1.35" fill="#98ff67"/>
<rect x="12" y="12" width="1.25" height="1.35" fill="#85ff7a"/>
<rect x="13" y="12" width="1.25" height="1.35" fill="#72ff8d"/>
<rect x="14" y="12" width="1.25" height="1.35" fill="#5fffa0"/>
<rect x="15" y="12" width="1.25" height="1.35" fill="#4dffb2"/>
<rect x="16" y="12" width="1.25" height="1.35" fill="#3effc1"/>
<rect x="17" y="12" width="1.25" height="1.35" fill="#2fffd0"/>
<rect x="18" y="12" width="1.25" height="1.35" fill="#21ffde"/>
<rect x="19" y="12" width="1.25" height="1.35" fill="#12ffed"/>
<rect x="20" y="12" width="1.25" height="1.35" fill="#03fffc"/>
<rect x="21" y="12" width="1.25" height="1.35" fill="#00f4ff"/>
<rect x="22" y="12" width="1.25" height="1.35" fill="#00eaff"/>
<rect x="23" y="12" width="1.1" height="1.35" fill="#00e1ff"/>
<rect x="-0.1" y="13" width="1.35" height="1.35" fill="#fffa00"/>
<rect x="1" y="13" width="2.25" height="1.35" fill="#fff800"/>
<rect x="3" y="13" width="1.25" height="1.35" fill="#fff900"/>
<rect x="4" y="13" width="1.25" height="1.35" fill="#fffd00"/>
<rect x="5" y="13" width="1.25" height="1.35" fill="#f9ff06"/>
<rect x="6" y="13" width="1.25" height="1.35" fill="#ecff13"/>
<rect x="7" y="13" width="1.25" height="1.35" fill="#dcff23"/>
<rect x="8" y="13" width="1.25" height="1.35" fill="#ccff33"/>
<rect x="9" y="13" width="1.25" height="1.35" fill="#bfff40"/>
<rect x="10" y="13" width="1.25" height="1.35" fill="#b3ff4c"/>
<rect x="11" y="13" width="1.25" height="1.35" fill="#a3ff5c"/>
<rect x="12" y="13" width="1.25" height="1.35" fill="#92ff6d"/>
<rect x="13" y="13" width="1.25" height="1.35" fill="#80ff7f"/>
<rect x="14" y="13" width="1.25" height="1.35" fill="#6eff91"/>
<rect x="15" y="13" width="1.25" height="1.35" fill="#5dffa2"/>
<rect x="16" y="13" width="1.25" height="1.35" fill="#4effb1"/>
<rect x="17" y="13" width="1.25" height="1.35" fill="#40ffbf"/>
<rect x="18" y="13" width="1.25" height="1.35" fill="#32ffcd"/>
<rect x="19" y="13" width="1.25" height="1.35" fill="#24ffdb"/>
<rect x="20" y="13" width="1.25" height="1.35" fill="#15ffea"/>
<rect x="21" y="13" width="1.25" height="1.35" fill="#08fff7"/>
<rect x="22" y="13" width="1.25" height="1.35" fill="#00fdff"/>
<rect x="23" y="13" width="1.1" height="1.35" fill="#00f5ff"/>
<rect x="-0.1" y="14" width="1.35" height="1.35" fill="#fffa00"/>
<rect x="1" y="14" width="1.25" height="1.35" fill="#fff600"/>
<rect x="2" y="14" width="3.25" height="1.35" fill="#fff400"/>
<rect x="5" y="14" width="1.25" height="1.35" fill="#fffa00"/>
<rect x="6" y="14" width="1.25" height="1.35" fill="#f8ff07"/>
<rect x="7" y="14" width="1.25" height="1.35" fill="#e7ff18"/>
<rect x="8" y="14" width="1.25" height="1.35" fill="#d5ff2a"/>
<rect x="9" y="14" width="1.25" height="1.35" fill="#c9ff36"/>
<rect x="10" y="14" width="1.25" height="1.35" fill="#bdff42"/>
<rect x="11" y="14" width="1.25" height="1.35" fill="#afff50"/>
<rect x="12" y="14" width="1.25" height="1.35" fill="#a0ff5f"/>
<rect x="13" y="14" width="1.25" height="1.35" fill="#8fff70"/>
<rect x="14" y="14" width="1.25" height="1.35" fill="#7eff81"/>
<rect x="15" y="14" width="1.25" height="1.35" fill="#6dff92"/>
<rect x="16" y="14" width="1.25" height="1.35" fill="#5fffa0"/>
<rect x="17" y="14" width="1.25" height="1.35" fill="#52ffad"/>
<rect x="18" y="14" width="1.25" height="1.35" fill="#44ffbb"/>
<rect x="19" y="14" width="1.25" height="1.35" fill="#36ffc9"/>
<rect x="20" y="14" width="1.25" height="1.35" fill="#28ffd7"/>
<rect x="21" y="14" width="1.25" height="1.35" fill="#1cffe3"/>
<rect x="22" y="14" width="1.25" height="1.35" fill="#11ffee"/>
<rect x="23" y="14" width="1.1" height="1.35" fill="#09fff6"/>
<rect x="-0.1" y="15" width="1.35" height="1.35" fill="#fff900"/>
<rect x="1" y="15" width="1.25" height="1.35" fill="#fff200"/>
<rect x="2" y="15" width="1.25" height="1.35" fill="#ffee00"/>
<rect x="3" y="15" width="2.25" height="1.35" fill="#ffec00"/>
<rect x="5" y="15" width="1.25" height="1.35" fill="#fff100"/>
<rect x="6" y="15" width="1.25" height="1.35" fill="#fffb00"/>
<rect x="7" y="15" width="1.25" height="1.35" fill="#f4ff0b"/>
<rect x="8" y="15" width="1.25" height="1.35" fill="#e3ff1c"/>
<rect x="9" y="15" width="1.25" height="1.35" fill="#d7ff28"/>
<rect x="10" y="15" width="1.25" height="1.35" fill="#cbff34"/>
<rect x="11" y="15" width="1.25" height="1.35" fill="#bdff42"/>
<rect x="12" y="15" width="1.25" height="1.35" fill="#afff50"/>
<rect x="13" y="15" width="1.25" height="1.35" fill="#9fff60"/>
<rect x="14" y="15" width="1.25" height="1.35" fill="#8fff70"/>
<rect x="15" y="15" width="1.25" height="1.35" fill="#7fff80"/>
<rect x="16" y="15" width="1.25" height="1.35" fill="#72ff8d"/>
<rect x="17" y="15" width="1.25" height="1.35" fill="#65ff9a"/>
<rect x="18" y="15" width="1.25" height="1.35" fill="#58ffa7"/>
<rect x="19" y="15" width="1.25" height="1.35" fill="#4affb5"/>
<rect x="20" y="15" width="1.25" height="1.35" fill="#3dffc2"/>
<rect x="21" y="15" width="1.25" height="1.35" fill="#30ffcf"/>
<rect x="22" y="15" width="1.25" height="1.35" fill="#25ffda"/>
<rect x="23" y="15" width="1.1" height="1.35" fill="#1bffe4"/>
<rect x="-0.1" y="16" width="1.35" height="1.35" fill="#fff600"/>
<rect x="1" y="16" width="1.25" height="1.35" fill="#ffec00"/>
<rect x="2" y="16" width="1.25" height="1.35" fill="#ffe700"/>
<rect x="3" y="16" width="1.25" height="1.35" fill="#ffe500"/>
<rect x="4" y="16" width="1.25" height="1.35" fill="#ffe400"/>
<rect x="5" y="16" width="1.25" height="1.35" fill="#ffe800"/>
<rect x="6" y="16" width="1.25" height="1.35" fill="#fff000"/>
<rect x="7" y="16" width="1.25" height="1.35" fill="#fffc00"/>
<rect x="8" y="16" width="1.25" height="1.35" fill="#f5ff0a"/>
<rect x="9" y="16" width="1.25" height="1.35" fill="#e8ff17"/>
<rect x="10" y="16" width="1.25" height="1.35" fill="#dbff24"/>
<rect x="11" y="16" width="1.25" height="1.35" fill="#cdff32"/>
<rect x="12" y="16" width="1.25" height="1.35" fill="#beff41"/>
<rect x="13" y="16" width="1.25" height="1.35" fill="#afff50"/>
<rect x="14" y="16" width="1.25" height="1.35" fill="#a0ff5f"/>
<rect x="15" y="16" width="1.25" height="1.35" fill="#92ff6d"/>
<rect x="16" y="16" width="1.25" height="1.35" fill="#85ff7a"/>
<rect x="17" y="16" width="1.25" height="1.35" fill="#79ff86"/>
<rect x="18" y="16" width="1.25" height="1.35" fill="#6cff93"/>
<rect x="19" y="16" width="1.25" height="1.35" fill="#5fffa0"/>
<rect x="20" y="16" width="1.25" height="1.35" fill="#52ffad"/>
<rect x="21" y="16" width="1.25" height="1.35" fill="#45ffba"/>
<rect x="22" y="16" width="1.25" height="1.35" fill="#39ffc6"/>
<rect x="23" y="16" width="1.1" height="1.35" fill="#2dffd2"/>
<rect x="-0.1" y="17" width="1.35" height="1.35" fill="#fff400"/>
<rect x="1" y="17" width="1.25" height="1.35" fill="#ffe700"/>
<rect x="2" y="17" width="1.25" height="1.35" fill="#ffdf00"/>
<rect x="3" y="17" width="1.25" height="1.35" fill="#ffdc00"/>
<rect x="4" y="17" width="1.25" height="1.35" fill="#ffdb00"/>
<rect x="5" y="17" width="1.25" height="1.35" fill="#ffdf00"/>
<rect x="6" y="17" width="1.25" height="1.35" fill="#ffe500"/>
<rect x="7" y="17" width="1.25" height="1.35" fill="#ffef00"/>
<rect x="8" y="17" width="1.25" height="1.35" fill="#fffa00"/>
<rect x="9" y="17" width="1.25" height="1.35" fill="#f7ff08"/>
<rect x="10" y="17" width="1.25" height="1.35" fill="#eaff15"/>
<rect x="11" y="17" width="1.25" height="1.35" fill="#dbff24"/>
<rect x="12" y="17" width="1.25" height="1.35" fill="#cdff32"/>
<rect x="13" y="17" width="1.25" height="1.35" fill="#bfff40"/>
<rect x="14" y="17" width="1.25" height="1.35" fill="#b1ff4e"/>
<rect x="15" y="17" width="1.25" height="1.35" fill="#a4ff5b"/>
<rect x="16" y="17" width="1.25" height="1.35" fill="#98ff67"/>
<rect x="17" y="17" width="1.25" height="1.35" fill="#8cff73"/>
<rect x="18" y="17" width="1.25" height="1.35" fill="#80ff80"/>
<rect x="19" y="17" width="1.25" height="1.35" fill="#73ff8c"/>
<rect x="20" y="17" width="1.25" height="1.35" fill="#66ff99"/>
<rect x="21" y="17" width="1.25" height="1.35" fill="#59ffa6"/>
<rect x="22" y="17" width="1.25" height="1.35" fill="#4cffb3"/>
<rect x="23" y="17" width="1.1" height="1.35" fill="#3effc1"/>
<rect x="-0.1" y="18" width="1.35" height="1.35" fill="#fff200"/>
<rect x="1" y="18" width="1.25" height="1.35" fill="#ffe200"/>
<rect x="2" y="18" width="1.25" height="1.35" fill="#ffd800"/>
<rect x="3" y="18" width="1.25" height="1.35" fill="#ffd400"/>
<rect x="4" y="18" width="1.25" height="1.35" fill="#ffd100"/>
<rect x="5" y="18" width="1.25" height="1.35" fill="#ffd500"/>
<rect x="6" y="18" width="1.25" height="1.35" fill="#ffdb00"/>
<rect x="7" y="18" width="1.25" height="1.35" fill="#ffe400"/>
<rect x="8" y="18" width="1.25" height="1.35" fill="#ffef00"/>
<rect x="9" y="18" width="1.25" height="1.35" fill="#fffb00"/>
<rect x="10" y="18" width="1.25" height="1.35" fill="#f5ff0a"/>
<rect x="11" y="18" width="1.25" height="1.35" fill="#e9ff16"/>
<rect x="12" y="18" width="1.25" height="1.35" fill="#dcff23"/>
<rect x="13" y="18" width="1.25" height="1.35" fill="#cfff30"/>
<rect x="14" y="18" width="1.25" height="1.35" fill="#c2ff3d"/>
<rect x="15" y="18" width="1.25" height="1.35" fill="#b5ff4a"/>
<rect x="16" y="18" width="1.25" height="1.35" fill="#a8ff57"/>
<rect x="17" y="18" width="1.25" height="1.35" fill="#9cff63"/>
<rect x="18" y="18" width="1.25" height="1.35" fill="#90ff6f"/>
<rect x="19" y="18" width="1.25" height="1.35" fill="#84ff7b"/>
<rect x="20" y="18" width="1.25" height="1.35" fill="#77ff88"/>
<rect x="21" y="18" width="1.25" height="1.35" fill="#6aff95"/>
<rect x="22" y="18" width="1.25" height="1.35" fill="#5dffa2"/>
<rect x="23" y="18" width="1.1" height="1.35" fill="#4fffb0"/>
<rect x="-0.1" y="19" width="1.35" height="1.35" fill="#fff100"/>
<rect x="1" y="19" width="1.25" height="1.35" fill="#ffde00"/>
<rect x="2" y="19" width="1.25" height="1.35" fill="#ffd200"/>
<rect x="3" y="19" width="1.25" height="1.35" fill="#ffca00"/>
<rect x="4" y="19" width="1.25" height="1.35" fill="#ffc700"/>
<rect x="5" y="19" width="1.25" height="1.35" fill="#ffca00"/>
<rect x="6" y="19" width="1.25" height="1.35" fill="#ffd100"/>
<rect x="7" y="19" width="1.25" height="1.35" fill="#ffda00"/>
<rect x="8" y="19" width="1.25" height="1.35" fill="#ffe500"/>
<rect x="9" y="19" width="1.25" height="1.35" fill="#fff200"/>
<rect x="10" y="19" width="1.25" height="1.35" fill="#fffe00"/>
<rect x="11" y="19" width="1.25" height="1.35" fill="#f6ff09"/>
<rect x="12" y="19" width="1.25" height="1.35" fill="#ebff14"/>
<rect x="13" y="19" width="1.25" height="1.35" fill="#dfff20"/>
<rect x="14" y="19" width="1.25" height="1.35" fill="#d1ff2e"/>
<rect x="15" y="19" width="1.25" height="1.35" fill="#c4ff3b"/>
<rect x="16" y="19" width="1.25" height="1.35" fill="#b8ff47"/>
<rect x="17" y="19" width="1.25" height="1.35" fill="#acff53"/>
<rect x="18" y="19" width="1.25" height="1.35" fill="#9fff60"/>
<rect x="19" y="19" width="1.25" height="1.35" fill="#93ff6c"/>
<rect x="20" y="19" width="1.25" height="1.35" fill="#87ff78"/>
<rect x="21" y="19" width="1.25" height="1.35" fill="#7aff85"/>
<rect x="22" y="19" width="1.25" height="1.35" fill="#6dff92"/>
<rect x="23" y="19" width="1.1" height="1.35" fill="#5fffa0"/>
<rect x="-0.1" y="20" width="1.35" height="1.35" fill="#fff000"/>
<rect x="1" y="20" width="1.25" height="1.35" fill="#ffda00"/>
<rect x="2" y="20" width="1.25" height="1.35" fill="#ffcb00"/>
<rect x="3" y="20" width="1.25" height="1.35" fill="#ffc100"/>
<rect x="4" y="20" width="1.25" height="1.35" fill="#ffbd00"/>
<rect x="5" y="20" width="1.25" height="1.35" fill="#ffc000"/>
<rect x="6" y="20" width="1.25" height="1.35" fill="#ffc700"/>
<rect x="7" y="20" width="1.25" height="1.35" fill="#ffd000"/>
<rect x="8" y="20" width="1.25" height="1.35" fill="#ffdb00"/>
<rect x="9" y="20" width="1.25" height="1.35" fill="#ffe800"/>
<rect x="10" y="20" width="1.25" height="1.35" fill="#fff400"/>
<rect x="11" y="20" width="1.25" height="1.35" fill="#fffc00"/>
<rect x="12" y="20" width="1.25" height="1.35" fill="#faff05"/>
<rect x="13" y="20" width="1.25" height="1.35" fill="#eeff11"/>
<rect x="14" y="20" width="1.25" height="1.35" fill="#e1ff1e"/>
<rect x="15" y="20" width="1.25" height="1.35" fill="#d3ff2c"/>
<rect x="16" y="20" width="1.25" height="1.35" fill="#c7ff38"/>
<rect x="17" y="20" width="1.25" height="1.35" fill="#bbff44"/>
<rect x="18" y="20" width="1.25" height="1.35" fill="#aeff51"/>
<rect x="19" y="20" width="1.25" height="1.35" fill="#a2ff5d"/>
<rect x="20" y="20" width="1.25" height="1.35" fill="#96ff69"/>
<rect x="21" y="20" width="1.25" height="1.35" fill="#8aff75"/>
<rect x="22" y="20" width="1.25" height="1.35" fill="#7dff82"/>
<rect x="23" y="20" width="1.1" height="1.35" fill="#6fff90"/>
<rect x="-0.1" y="21" width="1.35" height="1.35" fill="#ffee00"/>
<rect x="1" y="21" width="1.25" height="1.35" fill="#ffd500"/>
<rect x="2" y="21" width="1.25" height="1.35" fill="#ffc500"/>
<rect x="3" y="21" width="1.25" height="1.35" fill="#ffb900"/>
<rect x="4" y="21" width="1.25" height="1.35" fill="#ffb400"/>
<rect x="5" y="21" width="1.25" height="1.35" fill="#ffb600"/>
<rect x="6" y="21" width="1.25" height="1.35" fill="#ffbc00"/>
<rect x="7" y="21" width="1.25" height="1.35" fill="#ffc500"/>
<rect x="8" y="21" width="1.25" height="1.35" fill="#ffd000"/>
<rect x="9" y="21" width="1.25" height="1.35" fill="#ffdd00"/>
<rect x="10" y="21" width="1.25" height="1.35" fill="#ffe900"/>
<rect x="11" y="21" width="1.25" height="1.35" fill="#fff000"/>
<rect x="12" y="21" width="1.25" height="1.35" fill="#fff700"/>
<rect x="13" y="21" width="1.25" height="1.35" fill="#fdff02"/>
<rect x="14" y="21" width="1.25" height="1.35" fill="#efff10"/>
<rect x="15" y="21" width="1.25" height="1.35" fill="#e2ff1d"/>
<rect x="16" y="21" width="1.25" height="1.35" fill="#d6ff29"/>
<rect x="17" y="21" width="1.25" height="1.35" fill="#caff35"/>
<rect x="18" y="21" width="1.25" height="1.35" fill="#beff41"/>
<rect x="19" y="21" width="1.25" height="1.35" fill="#b1ff4e"/>
<rect x="20" y="21" width="1.25" height="1.35" fill="#a5ff5a"/>
<rect x="21" y="21" width="1.25" height="1.35" fill="#98ff67"/>
<rect x="22" y="21" width="1.25" height="1.35" fill="#8bff74"/>
<rect x="23" y="21" width="1.1" height="1.35" fill="#7eff81"/>
<rect x="-0.1" y="22" width="1.35" height="1.35" fill="#ffec00"/>
<rect x="1" y="22" width="1.25" height="1.35" fill="#ffd100"/>
<rect x="2" y="22" width="1.25" height="1.35" fill="#ffbe00"/>
<rect x="3" y="22" width="1.25" height="1.35" fill="#ffb200"/>
<rect x="4" y="22" width="1.25" height="1.35" fill="#ffac00"/>
<rect x="5" y="22" width="1.25" height="1.35" fill="#ffad00"/>
<rect x="6" y="22" width="1.25" height="1.35" fill="#ffb000"/>
<rect x="7" y="22" width="1.25" height="1.35" fill="#ffb900"/>
<rect x="8" y="22" width="1.25" height="1.35" fill="#ffc500"/>
<rect x="9" y="22" width="1.25" height="1.35" fill="#ffd300"/>
<rect x="10" y="22" width="1.25" height="1.35" fill="#ffdf00"/>
<rect x="11" y="22" width="1.25" height="1.35" fill="#ffe400"/>
<rect x="12" y="22" width="1.25" height="1.35" fill="#ffea00"/>
<rect x="13" y="22" width="1.25" height="1.35" fill="#fff400"/>
<rect x="14" y="22" width="1.25" height="1.35" fill="#fdff02"/>
<rect x="15" y="22" width="1.25" height="1.35" fill="#f0ff0f"/>
<rect x="16" y="22" width="1.25" height="1.35" fill="#e4ff1b"/>
<rect x="17" y="22" width="1.25" height="1.35" fill="#d9ff26"/>
<rect x="18" y="22" width="1.25" height="1.35" fill="#cdff32"/>
<rect x="19" y="22" width="1.25" height="1.35" fill="#c0ff3f"/>
<rect x="20" y="22" width="1.25" height="1.35" fill="#b3ff4c"/>
<rect x="21" y="22" width="1.25" height="1.35" fill="#a6ff59"/>
<rect x="22" y="22" width="1.25" height="1.35" fill="#99ff66"/>
<rect x="23" y="22" width="1.1" height="1.35" fill="#8cff73"/>
<rect x="-0.1" y="23" width="1.35" height="1.15" fill="#ffea00"/>
<rect x="1" y="23" width="1.25" height="1.15" fill="#ffcd00"/>
<rect x="2" y="23" width="1.25" height="1.15" fill="#ffb900"/>
<rect x="3" y="23" width="1.25" height="1.15" fill="#ffab00"/>
<rect x="4" y="23" width="3.25" height="1.15" fill="#ffa400"/>
<rect x="7" y="23" width="1.25" height="1.15" fill="#ffac00"/>
<rect x="8" y="23" width="1.25" height="1.15" fill="#ffb900"/>
<rect x="9" y="23" width="1.25" height="1.15" fill="#ffc800"/>
<rect x="10" y="23" width="1.25" height="1.15" fill="#ffd500"/>
<rect x="11" y="23" width="1.25" height="1.15" fill="#ffd900"/>
<rect x="12" y="23" width="1.25" height="1.15" fill="#ffdd00"/>
<rect x="13" y="23" width="1.25" height="1.15" fill="#ffe600"/>
<rect x="14" y="23" width="1.25" height="1.15" fill="#fff300"/>
<rect x="15" y="23" width="1.25" height="1.15" fill="#feff01"/>
<rect x="16" y="23" width="1.25" height="1.15" fill="#f3ff0c"/>
<rect x="17" y="23" width="1.25" height="1.15" fill="#e7ff18"/>
<rect x="18" y="23" width="1.25" height="1.15" fill="#dbff24"/>
<rect x="19" y="23" width="1.25" height="1.15" fill="#ceff31"/>
<rect x="20" y="23" width="1.25" height="1.15" fill="#c0ff3f"/>
<rect x="21" y="23" width="1.25" height="1.15" fill="#b3ff4c"/>
<rect x="22" y="23" width="1.25" height="1.15" fill="#a6ff59"/>
<rect x="23" y="23" width="1.1" height="1.15" fill="#9aff65"/>
</g>
<path fill="#fff" fill-rule="evenodd" d="M427.30 373.37h258.20v168.75h-258.20zM429.10 375.17h254.60v165.15h-254.60z"/>
<path d="M429.20 375.17V540.22H683.70" fill="none" stroke="#3a3a20" stroke-opacity="0.3" stroke-width="0.8"/>
<polyline points="429.1,403.3 432.3,407.7 435.6,411.9 438.8,416.0 442.0,420.0 445.2,423.9 448.5,427.7 451.7,431.4 454.9,435.0 458.2,438.5 461.4,441.9 464.6,445.3 467.9,448.5 471.1,451.7 474.3,454.8 477.5,457.8 480.8,460.7 484.0,463.6 487.2,466.4 490.5,469.1 493.7,471.7 496.9,474.3 500.2,476.8 503.4,479.2 506.6,481.6 509.8,483.9 513.1,486.1 516.3,488.3 519.5,490.5 522.8,492.6 526.0,494.6 529.2,496.6 532.5,498.6 535.7,500.5 538.9,502.3 542.1,504.1 545.4,505.9 548.6,507.6 551.8,509.3 555.1,511.0 558.3,512.7 561.5,514.3 564.8,515.9 568.0,517.4 571.2,519.0 574.4,520.5 577.7,522.0 580.9,523.5 584.1,524.9 587.4,526.4 590.6,527.9 593.8,529.3 597.1,530.7 600.3,532.1 603.5,533.6 606.7,535.0 610.0,536.4 613.2,537.8 616.4,539.3 619.7,540.7" fill="none" stroke="#ff00ee" stroke-width="2" stroke-linecap="round" stroke-linejoin="round"/>
<g transform="translate(94.35,555.90) scale(10.6104,6.8813)">
<rect x="-0.1" y="-0.15" width="1.35" height="1.5" fill="#c7ff38"/>
<rect x="1" y="-0.15" width="1.25" height="1.5" fill="#c0ff3f"/>
<rect x="2" y="-0.15" width="1.25" height="1.5" fill="#b9ff46"/>
<rect x="3" y="-0.15" width="1.25" height="1.5" fill="#b1ff4e"/>
<rect x="4" y="-0.15" width="1.25" height="1.5" fill="#a8ff57"/>
<rect x="5" y="-0.15" width="1.25" height="1.5" fill="#a0ff5f"/>
<rect x="6" y="-0.15" width="1.25" height="1.5" fill="#98ff67"/>
<rect x="7" y="-0.15" width="1.25" height="1.5" fill="#8eff71"/>
<rect x="8" y="-0.15" width="1.25" height="1.5" fill="#83ff7c"/>
<rect x="9" y="-0.15" width="1.25" height="1.5" fill="#78ff87"/>
<rect x="10" y="-0.15" width="1.25" height="1.5" fill="#6bff94"/>
<rect x="11" y="-0.15" width="1.25" height="1.5" fill="#5fffa0"/>
<rect x="12" y="-0.15" width="1.25" height="1.5" fill="#53ffac"/>
<rect x="13" y="-0.15" width="1.25" height="1.5" fill="#46ffb9"/>
<rect x="14" y="-0.15" width="1.25" height="1.5" fill="#3affc5"/>
<rect x="15" y="-0.15" width="1.25" height="1.5" fill="#2effd1"/>
<rect x="16" y="-0.15" width="1.25" height="1.5" fill="#23ffdc"/>
<rect x="17" y="-0.15" width="1.25" height="1.5" fill="#19ffe6"/>
<rect x="18" y="-0.15" width="1.25" height="1.5" fill="#0ffff0"/>
<rect x="19" y="-0.15" width="1.25" height="1.5" fill="#07fff8"/>
<rect x="20" y="-0.15" width="1.25" height="1.5" fill="#00feff"/>
<rect x="21" y="-0.15" width="1.25" height="1.5" fill="#00f6ff"/>
<rect x="22" y="-0.15" width="1.25" height="1.5" fill="#00ecff"/>
<rect x="23" y="-0.15" width="1.1" height="1.5" fill="#00e1ff"/>
<rect x="-0.1" y="1" width="1.35" height="1.35" fill="#c9ff36"/>
<rect x="1" y="1" width="1.25" height="1.35" fill="#c3ff3c"/>
<rect x="2" y="1" width="1.25" height="1.35" fill="#bcff43"/>
<rect x="3" y="1" width="1.25" height="1.35" fill="#b4ff4b"/>
<rect x="4" y="1" width="1.25" height="1.35" fill="#acff53"/>
<rect x="5" y="1" width="1.25" height="1.35" fill="#a4ff5b"/>
<rect x="6" y="1" width="1.25" height="1.35" fill="#9cff63"/>
<rect x="7" y="1" width="1.25" height="1.35" fill="#93ff6c"/>
<rect x="8" y="1" width="1.25" height="1.35" fill="#89ff76"/>
<rect x="9" y="1" width="1.25" height="1.35" fill="#7dff82"/>
<rect x="10" y="1" width="1.25" height="1.35" fill="#71ff8e"/>
<rect x="11" y="1" width="1.25" height="1.35" fill="#65ff9a"/>
<rect x="12" y="1" width="1.25" height="1.35" fill="#58ffa7"/>
<rect x="13" y="1" width="1.25" height="1.35" fill="#4cffb3"/>
<rect x="14" y="1" width="1.25" height="1.35" fill="#40ffbf"/>
<rect x="15" y="1" width="1.25" height="1.35" fill="#34ffcb"/>
<rect x="16" y="1" width="1.25" height="1.35" fill="#29ffd6"/>
<rect x="17" y="1" width="1.25" height="1.35" fill="#1fffe0"/>
<rect x="18" y="1" width="1.25" height="1.35" fill="#15ffea"/>
<rect x="19" y="1" width="1.25" height="1.35" fill="#0dfff2"/>
<rect x="20" y="1" width="1.25" height="1.35" fill="#05fffa"/>
<rect x="21" y="1" width="1.25" height="1.35" fill="#00fcff"/>
<rect x="22" y="1" width="1.25" height="1.35" fill="#00f2ff"/>
<rect x="23" y="1" width="1.1" height="1.35" fill="#00e8ff"/>
<rect x="-0.1" y="2" width="1.35" height="1.35" fill="#cbff34"/>
<rect x="1" y="2" width="1.25" height="1.35" fill="#c5ff3a"/>
<rect x="2" y="2" width="1.25" height="1.35" fill="#bfff40"/>
<rect x="3" y="2" width="1.25" height="1.35" fill="#b7ff48"/>
<rect x="4" y="2" width="1.25" height="1.35" fill="#afff50"/>
<rect x="5" y="2" width="1.25" height="1.35" fill="#a8ff57"/>
<rect x="6" y="2" width="1.25" height="1.35" fill="#a0ff5f"/>
<rect x="7" y="2" width="1.25" height="1.35" fill="#97ff68"/>
<rect x="8" y="2" width="1.25" height="1.35" fill="#8eff71"/>
<rect x="9" y="2" width="1.25" height="1.35" fill="#83ff7c"/>
<rect x="10" y="2" width="1.25" height="1.35" fill="#77ff88"/>
<rect x="11" y="2" width="1.25" height="1.35" fill="#6bff94"/>
<rect x="12" y="2" width="1.25" height="1.35" fill="#5effa1"/>
<rect x="13" y="2" width="1.25" height="1.35" fill="#52ffad"/>
<rect x="14" y="2" width="1.25" height="1.35" fill="#46ffb9"/>
<rect x="15" y="2" width="1.25" height="1.35" fill="#3affc5"/>
<rect x="16" y="2" width="1.25" height="1.35" fill="#2fffd0"/>
<rect x="17" y="2" width="1.25" height="1.35" fill="#25ffda"/>
<rect x="18" y="2" width="1.25" height="1.35" fill="#1bffe4"/>
<rect x="19" y="2" width="1.25" height="1.35" fill="#13ffec"/>
<rect x="20" y="2" width="1.25" height="1.35" fill="#0bfff4"/>
<rect x="21" y="2" width="1.25" height="1.35" fill="#03fffc"/>
<rect x="22" y="2" width="1.25" height="1.35" fill="#00f9ff"/>
<rect x="23" y="2" width="1.1" height="1.35" fill="#00efff"/>
<rect x="-0.1" y="3" width="1.35" height="1.35" fill="#cdff32"/>
<rect x="1" y="3" width="1.25" height="1.35" fill="#c8ff37"/>
<rect x="2" y="3" width="1.25" height="1.35" fill="#c2ff3d"/>
<rect x="3" y="3" width="1.25" height="1.35" fill="#baff45"/>
<rect x="4" y="3" width="1.25" height="1.35" fill="#b2ff4d"/>
<rect x="5" y="3" width="1.25" height="1.35" fill="#abff54"/>
<rect x="6" y="3" width="1.25" height="1.35" fill="#a4ff5b"/>
<rect x="7" y="3" width="1.25" height="1.35" fill="#9cff63"/>
<rect x="8" y="3" width="1.25" height="1.35" fill="#92ff6d"/>
<rect x="9" y="3" width="1.25" height="1.35" fill="#88ff77"/>
<rect x="10" y="3" width="1.25" height="1.35" fill="#7dff82"/>
<rect x="11" y="3" width="1.25" height="1.35" fill="#70ff8f"/>
<rect x="12" y="3" width="1.25" height="1.35" fill="#64ff9b"/>
<rect x="13" y="3" width="1.25" height="1.35" fill="#58ffa7"/>
<rect x="14" y="3" width="1.25" height="1.35" fill="#4cffb3"/>
<rect x="15" y="3" width="1.25" height="1.35" fill="#40ffbf"/>
<rect x="16" y="3" width="1.25" height="1.35" fill="#35ffca"/>
<rect x="17" y="3" width="1.25" height="1.35" fill="#2bffd4"/>
<rect x="18" y="3" width="1.25" height="1.35" fill="#21ffde"/>
<rect x="19" y="3" width="1.25" height="1.35" fill="#19ffe6"/>
<rect x="20" y="3" width="1.25" height="1.35" fill="#12ffed"/>
<rect x="21" y="3" width="1.25" height="1.35" fill="#0afff5"/>
<rect x="22" y="3" width="1.25" height="1.35" fill="#01fffe"/>
<rect x="23" y="3" width="1.1" height="1.35" fill="#00f5ff"/>
<rect x="-0.1" y="4" width="1.35" height="1.35" fill="#cfff30"/>
<rect x="1" y="4" width="1.25" height="1.35" fill="#caff35"/>
<rect x="2" y="4" width="1.25" height="1.35" fill="#c4ff3b"/>
<rect x="3" y="4" width="1.25" height="1.35" fill="#bdff42"/>
<rect x="4" y="4" width="1.25" height="1.35" fill="#b5ff4a"/>
<rect x="5" y="4" width="1.25" height="1.35" fill="#afff50"/>
<rect x="6" y="4" width="1.25" height="1.35" fill="#a8ff57"/>
<rect x="7" y="4" width="1.25" height="1.35" fill="#a0ff5f"/>
<rect x="8" y="4" width="1.25" height="1.35" fill="#97ff68"/>
<rect x="9" y="4" width="1.25" height="1.35" fill="#8dff72"/>
<rect x="10" y="4" width="1.25" height="1.35" fill="#82ff7d"/>
<rect x="11" y="4" width="1.25" height="1.35" fill="#76ff89"/>
<rect x="12" y="4" width="1.25" height="1.35" fill="#69ff96"/>
<rect x="13" y="4" width="1.25" height="1.35" fill="#5dffa2"/>
<rect x="14" y="4" width="1.25" height="1.35" fill="#52ffad"/>
<rect x="15" y="4" width="1.25" height="1.35" fill="#46ffb9"/>
<rect x="16" y="4" width="1.25" height="1.35" fill="#3bffc4"/>
<rect x="17" y="4" width="1.25" height="1.35" fill="#31ffce"/>
<rect x="18" y="4" width="1.25" height="1.35" fill="#27ffd8"/>
<rect x="19" y="4" width="1.25" height="1.35" fill="#1fffe0"/>
<rect x="20" y="4" width="1.25" height="1.35" fill="#18ffe7"/>
<rect x="21" y="4" width="1.25" height="1.35" fill="#11ffee"/>
<rect x="22" y="4" width="1.25" height="1.35" fill="#08fff7"/>
<rect x="23" y="4" width="1.1" height="1.35" fill="#00fdff"/>
<rect x="-0.1" y="5" width="1.35" height="1.35" fill="#d1ff2e"/>
<rect x="1" y="5" width="1.25" height="1.35" fill="#ccff33"/>
<rect x="2" y="5" width="1.25" height="1.35" fill="#c7ff38"/>
<rect x="3" y="5" width="1.25" height="1.35" fill="#c0ff3f"/>
<rect x="4" y="5" width="1.25" height="1.35" fill="#b9ff46"/>
<rect x="5" y="5" width="1.25" height="1.35" fill="#b3ff4c"/>
<rect x="6" y="5" width="1.25" height="1.35" fill="#acff53"/>
<rect x="7" y="5" width="1.25" height="1.35" fill="#a5ff5a"/>
<rect x="8" y="5" width="1.25" height="1.35" fill="#9cff63"/>
<rect x="9" y="5" width="1.25" height="1.35" fill="#92ff6d"/>
<rect x="10" y="5" width="1.25" height="1.35" fill="#88ff77"/>
<rect x="11" y="5" width="1.25" height="1.35" fill="#7cff83"/>
<rect x="12" y="5" width="1.25" height="1.35" fill="#6fff90"/>
<rect x="13" y="5" width="1.25" height="1.35" fill="#63ff9c"/>
<rect x="14" y="5" width="1.25" height="1.35" fill="#58ffa7"/>
<rect x="15" y="5" width="1.25" height="1.35" fill="#4dffb2"/>
<rect x="16" y="5" width="1.25" height="1.35" fill="#42ffbd"/>
<rect x="17" y="5" width="1.25" height="1.35" fill="#37ffc8"/>
<rect x="18" y="5" width="1.25" height="1.35" fill="#2effd1"/>
<rect x="19" y="5" width="1.25" height="1.35" fill="#26ffd9"/>
<rect x="20" y="5" width="1.25" height="1.35" fill="#1fffe0"/>
<rect x="21" y="5" width="1.25" height="1.35" fill="#17ffe8"/>
<rect x="22" y="5" width="1.25" height="1.35" fill="#0ffff0"/>
<rect x="23" y="5" width="1.1" height="1.35" fill="#05fffa"/>
<rect x="-0.1" y="6" width="1.35" height="1.35" fill="#d3ff2c"/>
<rect x="1" y="6" width="1.25" height="1.35" fill="#ceff31"/>
<rect x="2" y="6" width="1.25" height="1.35" fill="#c9ff36"/>
<rect x="3" y="6" width="1.25" height="1.35" fill="#c3ff3c"/>
<rect x="4" y="6" width="1.25" height="1.35" fill="#bcff43"/>
<rect x="5" y="6" width="1.25" height="1.35" fill="#b6ff49"/>
<rect x="6" y="6" width="1.25" height="1.35" fill="#b0ff4f"/>
<rect x="7" y="6" width="1.25" height="1.35" fill="#a9ff56"/>
<rect x="8" y="6" width="1.25" height="1.35" fill="#a1ff5e"/>
<rect x="9" y="6" width="1.25" height="1.35" fill="#97ff68"/>
<rect x="10" y="6" width="1.25" height="1.35" fill="#8dff72"/>
<rect x="11" y="6" width="1.25" height="1.35" fill="#81ff7e"/>
<rect x="12" y="6" width="1.25" height="1.35" fill="#75ff8a"/>
<rect x="13" y="6" width="1.25" height="1.35" fill="#69ff96"/>
<rect x="14" y="6" width="1.25" height="1.35" fill="#5effa1"/>
<rect x="15" y="6" width="1.25" height="1.35" fill="#53ffac"/>
<rect x="16" y="6" width="1.25" height="1.35" fill="#48ffb7"/>
<rect x="17" y="6" width="1.25" height="1.35" fill="#3effc1"/>
<rect x="18" y="6" width="1.25" height="1.35" fill="#35ffca"/>
<rect x="19" y="6" width="1.25" height="1.35" fill="#2dffd2"/>
<rect x="20" y="6" width="1.25" height="1.35" fill="#26ffd9"/>
<rect x="21" y="6" width="1.25" height="1.35" fill="#1fffe0"/>
<rect x="22" y="6" width="1.25" height="1.35" fill="#16ffe9"/>
<rect x="23" y="6" width="1.1" height="1.35" fill="#0dfff2"/>
<rect x="-0.1" y="7" width="1.35" height="1.35" fill="#d5ff2a"/>
<rect x="1" y="7" width="1.25" height="1.35" fill="#d0ff2f"/>
<rect x="2" y="7" width="1.25" height="1.35" fill="#cbff34"/>
<rect x="3" y="7" width="1.25" height="1.35" fill="#c6ff39"/>
<rect x="4" y="7" width="1.25" height="1.35" fill="#c0ff3f"/>
<rect x="5" y="7" width="1.25" height="1.35" fill="#baff45"/>
<rect x="6" y="7" width="1.25" height="1.35" fill="#b4ff4b"/>
<rect x="7" y="7" width="1.25" height="1.35" fill="#adff52"/>
<rect x="8" y="7" width="1.25" height="1.35" fill="#a5ff5a"/>
<rect x="9" y="7" width="1.25" height="1.35" fill="#9cff63"/>
<rect x="10" y="7" width="1.25" height="1.35" fill="#92ff6d"/>
<rect x="11" y="7" width="1.25" height="1.35" fill="#87ff78"/>
<rect x="12" y="7" width="1.25" height="1.35" fill="#7bff84"/>
<rect x="13" y="7" width="1.25" height="1.35" fill="#6fff90"/>
<rect x="14" y="7" width="1.25" height="1.35" fill="#64ff9b"/>
<rect x="15" y="7" width="1.25" height="1.35" fill="#59ffa6"/>
<rect x="16" y="7" width="1.25" height="1.35" fill="#4fffb0"/>
<rect x="17" y="7" width="1.25" height="1.35" fill="#44ffbb"/>
<rect x="18" y="7" width="1.25" height="1.35" fill="#3bffc4"/>
<rect x="19" y="7" width="1.25" height="1.35" fill="#34ffcb"/>
<rect x="20" y="7" width="1.25" height="1.35" fill="#2dffd2"/>
<rect x="21" y="7" width="1.25" height="1.35" fill="#26ffd9"/>
<rect x="22" y="7" width="1.25" height="1.35" fill="#1dffe2"/>
<rect x="23" y="7" width="1.1" height="1.35" fill="#15ffea"/>
<rect x="-0.1" y="8" width="1.35" height="1.35" fill="#d6ff29"/>
<rect x="1" y="8" width="1.25" height="1.35" fill="#d2ff2d"/>
<rect x="2" y="8" width="1.25" height="1.35" fill="#cdff32"/>
<rect x="3" y="8" width="1.25" height="1.35" fill="#c8ff37"/>
<rect x="4" y="8" width="1.25" height="1.35" fill="#c3ff3c"/>
<rect x="5" y="8" width="1.25" height="1.35" fill="#beff41"/>
<rect x="6" y="8" width="1.25" height="1.35" fill="#b8ff47"/>
<rect x="7" y="8" width="1.25" height="1.35" fill="#b1ff4e"/>
<rect x="8" y="8" width="1.25" height="1.35" fill="#aaff55"/>
<rect x="9" y="8" width="1.25" height="1.35" fill="#a1ff5e"/>
<rect x="10" y="8" width="1.25" height="1.35" fill="#97ff68"/>
<rect x="11" y="8" width="1.25" height="1.35" fill="#8cff73"/>
<rect x="12" y="8" width="1.25" height="1.35" fill="#80ff7f"/>
<rect x="13" y="8" width="1.25" height="1.35" fill="#75ff8a"/>
<rect x="14" y="8" width="1.25" height="1.35" fill="#6aff95"/>
<rect x="15" y="8" width="1.25" height="1.35" fill="#60ff9f"/>
<rect x="16" y="8" width="1.25" height="1.35" fill="#55ffaa"/>
<rect x="17" y="8" width="1.25" height="1.35" fill="#4bffb4"/>
<rect x="18" y="8" width="1.25" height="1.35" fill="#42ffbd"/>
<rect x="19" y="8" width="1.25" height="1.35" fill="#3bffc4"/>
<rect x="20" y="8" width="1.25" height="1.35" fill="#34ffcb"/>
<rect x="21" y="8" width="1.25" height="1.35" fill="#2dffd2"/>
<rect x="22" y="8" width="1.25" height="1.35" fill="#25ffda"/>
<rect x="23" y="8" width="1.1" height="1.35" fill="#1dffe2"/>
<rect x="-0.1" y="9" width="1.35" height="1.35" fill="#d8ff27"/>
<rect x="1" y="9" width="1.25" height="1.35" fill="#d4ff2b"/>
<rect x="2" y="9" width="1.25" height="1.35" fill="#cfff30"/>
<rect x="3" y="9" width="1.25" height="1.35" fill="#cbff34"/>
<rect x="4" y="9" width="1.25" height="1.35" fill="#c7ff38"/>
<rect x="5" y="9" width="1.25" height="1.35" fill="#c2ff3d"/>
<rect x="6" y="9" width="1.25" height="1.35" fill="#bcff43"/>
<rect x="7" y="9" width="1.25" height="1.35" fill="#b5ff4a"/>
<rect x="8" y="9" width="1.25" height="1.35" fill="#aeff51"/>
<rect x="9" y="9" width="1.25" height="1.35" fill="#a6ff59"/>
<rect x="10" y="9" width="1.25" height="1.35" fill="#9cff63"/>
<rect x="11" y="9" width="1.25" height="1.35" fill="#92ff6d"/>
<rect x="12" y="9" width="1.25" height="1.35" fill="#86ff79"/>
<rect x="13" y="9" width="1.25" height="1.35" fill="#7bff84"/>
<rect x="14" y="9" width="1.25" height="1.35" fill="#70ff8f"/>
<rect x="15" y="9" width="1.25" height="1.35" fill="#66ff99"/>
<rect x="16" y="9" width="1.25" height="1.35" fill="#5cffa3"/>
<rect x="17" y="9" width="1.25" height="1.35" fill="#52ffad"/>
<rect x="18" y="9" width="1.25" height="1.35" fill="#4affb5"/>
<rect x="19" y="9" width="1.25" height="1.35" fill="#42ffbd"/>
<rect x="20" y="9" width="1.25" height="1.35" fill="#3cffc3"/>
<rect x="21" y="9" width="1.25" height="1.35" fill="#35ffca"/>
<rect x="22" y="9" width="1.25" height="1.35" fill="#2dffd2"/>
<rect x="23" y="9" width="1.1" height="1.35" fill="#25ffda"/>
<rect x="-0.1" y="10" width="1.35" height="1.35" fill="#daff25"/>
<rect x="1" y="10" width="1.25" height="1.35" fill="#d5ff2a"/>
<rect x="2" y="10" width="1.25" height="1.35" fill="#d1ff2e"/>
<rect x="3" y="10" width="1.25" height="1.35" fill="#ceff31"/>
<rect x="4" y="10" width="1.25" height="1.35" fill="#caff35"/>
<rect x="5" y="10" width="1.25" height="1.35" fill="#c5ff3a"/>
<rect x="6" y="10" width="1.25" height="1.35" fill="#bfff40"/>
<rect x="7" y="10" width="1.25" height="1.35" fill="#b9ff46"/>
<rect x="8" y="10" width="1.25" height="1.35" fill="#b2ff4d"/>
<rect x="9" y="10" width="1.25" height="1.35" fill="#aaff55"/>
<rect x="10" y="10" width="1.25" height="1.35" fill="#a1ff5e"/>
<rect x="11" y="10" width="1.25" height="1.35" fill="#97ff68"/>
<rect x="12" y="10" width="1.25" height="1.35" fill="#8cff73"/>
<rect x="13" y="10" width="1.25" height="1.35" fill="#81ff7e"/>
<rect x="14" y="10" width="1.25" height="1.35" fill="#77ff88"/>
<rect x="15" y="10" width="1.25" height="1.35" fill="#6dff92"/>
<rect x="16" y="10" width="1.25" height="1.35" fill="#63ff9c"/>
<rect x="17" y="10" width="1.25" height="1.35" fill="#5affa5"/>
<rect x="18" y="10" width="1.25" height="1.35" fill="#51ffae"/>
<rect x="19" y="10" width="1.25" height="1.35" fill="#4affb5"/>
<rect x="20" y="10" width="1.25" height="1.35" fill="#43ffbc"/>
<rect x="21" y="10" width="1.25" height="1.35" fill="#3cffc3"/>
<rect x="22" y="10" width="1.25" height="1.35" fill="#35ffca"/>
<rect x="23" y="10" width="1.1" height="1.35" fill="#2effd1"/>
<rect x="-0.1" y="11" width="1.35" height="1.35" fill="#dbff24"/>
<rect x="1" y="11" width="1.25" height="1.35" fill="#d7ff28"/>
<rect x="2" y="11" width="1.25" height="1.35" fill="#d3ff2c"/>
<rect x="3" y="11" width="1.25" height="1.35" fill="#d0ff2f"/>
<rect x="4" y="11" width="1.25" height="1.35" fill="#cdff32"/>
<rect x="5" y="11" width="1.25" height="1.35" fill="#c8ff37"/>
<rect x="6" y="11" width="1.25" height="1.35" fill="#c3ff3c"/>
<rect x="7" y="11" width="1.25" height="1.35" fill="#bdff42"/>
<rect x="8" y="11" width="1.25" height="1.35" fill="#b7ff48"/>
<rect x="9" y="11" width="1.25" height="1.35" fill="#afff50"/>
<rect x="10" y="11" width="1.25" height="1.35" fill="#a6ff59"/>
<rect x="11" y="11" width="1.25" height="1.35" fill="#9cff63"/>
<rect x="12" y="11" width="1.25" height="1.35" fill="#92ff6d"/>
<rect x="13" y="11" width="1.25" height="1.35" fill="#87ff78"/>
<rect x="14" y="11" width="1.25" height="1.35" fill="#7dff82"/>
<rect x="15" y="11" width="1.25" height="1.35" fill="#73ff8c"/>
<rect x="16" y="11" width="1.25" height="1.35" fill="#6aff95"/>
<rect x="17" y="11" width="1.25" height="1.35" fill="#61ff9e"/>
<rect x="18" y="11" width="1.25" height="1.35" fill="#59ffa6"/>
<rect x="19" y="11" width="1.25" height="1.35" fill="#52ffad"/>
<rect x="20" y="11" width="1.25" height="1.35" fill="#4bffb4"/>
<rect x="21" y="11" width="1.25" height="1.35" fill="#44ffbb"/>
<rect x="22" y="11" width="1.25" height="1.35" fill="#3dffc2"/>
<rect x="23" y="11" width="1.1" height="1.35" fill="#36ffc9"/>
<rect x="-0.1" y="12" width="1.35" height="1.35" fill="#ddff22"/>
<rect x="1" y="12" width="1.25" height="1.35" fill="#d9ff26"/>
<rect x="2" y="12" width="1.25" height="1.35" fill="#d5ff2a"/>
<rect x="3" y="12" width="1.25" height="1.35" fill="#d3ff2c"/>
<rect x="4" y="12" width="1.25" height="1.35" fill="#d0ff2f"/>
<rect x="5" y="12" width="1.25" height="1.35" fill="#cbff34"/>
<rect x="6" y="12" width="1.25" height="1.35" fill="#c6ff39"/>
<rect x="7" y="12" width="1.25" height="1.35" fill="#c1ff3e"/>
<rect x="8" y="12" width="1.25" height="1.35" fill="#baff45"/>
<rect x="9" y="12" width="1.25" height="1.35" fill="#b3ff4c"/>
<rect x="10" y="12" width="1.25" height="1.35" fill="#abff54"/>
<rect x="11" y="12" width="1.25" height="1.35" fill="#a2ff5d"/>
<rect x="12" y="12" width="1.25" height="1.35" fill="#98ff67"/>
<rect x="13" y="12" width="1.25" height="1.35" fill="#8eff71"/>
<rect x="14" y="12" width="1.25" height="1.35" fill="#84ff7b"/>
<rect x="15" y="12" width="1.25" height="1.35" fill="#7aff85"/>
<rect x="16" y="12" width="1.25" height="1.35" fill="#71ff8e"/>
<rect x="17" y="12" width="1.25" height="1.35" fill="#69ff96"/>
<rect x="18" y="12" width="1.25" height="1.35" fill="#61ff9e"/>
<rect x="19" y="12" width="1.25" height="1.35" fill="#5affa5"/>
<rect x="20" y="12" width="1.25" height="1.35" fill="#53ffac"/>
<rect x="21" y="12" width="1.25" height="1.35" fill="#4cffb3"/>
<rect x="22" y="12" width="1.25" height="1.35" fill="#45ffba"/>
<rect x="23" y="12" width="1.1" height="1.35" fill="#3fffc0"/>
<rect x="-0.1" y="13" width="1.35" height="1.35" fill="#deff21"/>
<rect x="1" y="13" width="1.25" height="1.35" fill="#daff25"/>
<rect x="2" y="13" width="1.25" height="1.35" fill="#d7ff28"/>
<rect x="3" y="13" width="1.25" height="1.35" fill="#d5ff2a"/>
<rect x="4" y="13" width="1.25" height="1.35" fill="#d2ff2d"/>
<rect x="5" y="13" width="1.25" height="1.35" fill="#ceff31"/>
<rect x="6" y="13" width="1.25" height="1.35" fill="#c9ff36"/>
<rect x="7" y="13" width="1.25" height="1.35" fill="#c4ff3b"/>
<rect x="8" y="13" width="1.25" height="1.35" fill="#beff41"/>
<rect x="9" y="13" width="1.25" height="1.35" fill="#b8ff47"/>
<rect x="10" y="13" width="1.25" height="1.35" fill="#b0ff4f"/>
<rect x="11" y="13" width="1.25" height="1.35" fill="#a7ff58"/>
<rect x="12" y="13" width="1.25" height="1.35" fill="#9dff62"/>
<rect x="13" y="13" width="1.25" height="1.35" fill="#94ff6b"/>
<rect x="14" y="13" width="1.25" height="1.35" fill="#8aff75"/>
<rect x="15" y="13" width="1.25" height="1.35" fill="#81ff7e"/>
<rect x="16" y="13" width="1.25" height="1.35" fill="#79ff86"/>
<rect x="17" y="13" width="1.25" height="1.35" fill="#71ff8e"/>
<rect x="18" y="13" width="1.25" height="1.35" fill="#69ff96"/>
<rect x="19" y="13" width="1.25" height="1.35" fill="#62ff9d"/>
<rect x="20" y="13" width="1.25" height="1.35" fill="#5bffa4"/>
<rect x="21" y="13" width="1.25" height="1.35" fill="#55ffaa"/>
<rect x="22" y="13" width="1.25" height="1.35" fill="#4effb1"/>
<rect x="23" y="13" width="1.1" height="1.35" fill="#47ffb8"/>
<rect x="-0.1" y="14" width="1.35" height="1.35" fill="#dfff20"/>
<rect x="1" y="14" width="1.25" height="1.35" fill="#dcff23"/>
<rect x="2" y="14" width="1.25" height="1.35" fill="#d9ff26"/>
<rect x="3" y="14" width="1.25" height="1.35" fill="#d7ff28"/>
<rect x="4" y="14" width="1.25" height="1.35" fill="#d5ff2a"/>
<rect x="5" y="14" width="1.25" height="1.35" fill="#d1ff2e"/>
<rect x="6" y="14" width="1.25" height="1.35" fill="#ccff33"/>
<rect x="7" y="14" width="1.25" height="1.35" fill="#c7ff38"/>
<rect x="8" y="14" width="1.25" height="1.35" fill="#c2ff3d"/>
<rect x="9" y="14" width="1.25" height="1.35" fill="#bcff43"/>
<rect x="10" y="14" width="1.25" height="1.35" fill="#b5ff4a"/>
<rect x="11" y="14" width="1.25" height="1.35" fill="#acff53"/>
<rect x="12" y="14" width="1.25" height="1.35" fill="#a3ff5c"/>
<rect x="13" y="14" width="1.25" height="1.35" fill="#9aff65"/>
<rect x="14" y="14" width="1.25" height="1.35" fill="#91ff6e"/>
<rect x="15" y="14" width="1.25" height="1.35" fill="#88ff77"/>
<rect x="16" y="14" width="1.25" height="1.35" fill="#80ff7f"/>
<rect x="17" y="14" width="1.25" height="1.35" fill="#79ff86"/>
<rect x="18" y="14" width="1.25" height="1.35" fill="#72ff8d"/>
<rect x="19" y="14" width="1.25" height="1.35" fill="#6bff94"/>
<rect x="20" y="14" width="1.25" height="1.35" fill="#64ff9b"/>
<rect x="21" y="14" width="1.25" height="1.35" fill="#5dffa2"/>
<rect x="22" y="14" width="1.25" height="1.35" fill="#56ffa9"/>
<rect x="23" y="14" width="1.1" height="1.35" fill="#50ffaf"/>
<rect x="-0.1" y="15" width="1.35" height="1.35" fill="#e1ff1e"/>
<rect x="1" y="15" width="1.25" height="1.35" fill="#deff21"/>
<rect x="2" y="15" width="1.25" height="1.35" fill="#dbff24"/>
<rect x="3" y="15" width="1.25" height="1.35" fill="#d9ff26"/>
<rect x="4" y="15" width="1.25" height="1.35" fill="#d7ff28"/>
<rect x="5" y="15" width="1.25" height="1.35" fill="#d3ff2c"/>
<rect x="6" y="15" width="1.25" height="1.35" fill="#cfff30"/>
<rect x="7" y="15" width="1.25" height="1.35" fill="#cbff34"/>
<rect x="8" y="15" width="1.25" height="1.35" fill="#c6ff39"/>
<rect x="9" y="15" width="1.25" height="1.35" fill="#c0ff3f"/>
<rect x="10" y="15" width="1.25" height="1.35" fill="#baff45"/>
<rect x="11" y="15" width="1.25" height="1.35" fill="#b2ff4d"/>
<rect x="12" y="15" width="1.25" height="1.35" fill="#a9ff56"/>
<rect x="13" y="15" width="1.25" height="1.35" fill="#a0ff5f"/>
<rect x="14" y="15" width="1.25" height="1.35" fill="#98ff67"/>
<rect x="15" y="15" width="1.25" height="1.35" fill="#90ff6f"/>
<rect x="16" y="15" width="1.25" height="1.35" fill="#88ff77"/>
<rect x="17" y="15" width="1.25" height="1.35" fill="#81ff7e"/>
<rect x="18" y="15" width="1.25" height="1.35" fill="#7aff85"/>
<rect x="19" y="15" width="1.25" height="1.35" fill="#73ff8c"/>
<rect x="20" y="15" width="1.25" height="1.35" fill="#6cff93"/>
<rect x="21" y="15" width="1.25" height="1.35" fill="#66ff99"/>
<rect x="22" y="15" width="1.25" height="1.35" fill="#5fffa0"/>
<rect x="23" y="15" width="1.1" height="1.35" fill="#59ffa6"/>
<rect x="-0.1" y="16" width="1.35" height="1.35" fill="#e2ff1d"/>
<rect x="1" y="16" width="1.25" height="1.35" fill="#e0ff1f"/>
<rect x="2" y="16" width="1.25" height="1.35" fill="#ddff22"/>
<rect x="3" y="16" width="1.25" height="1.35" fill="#dbff24"/>
<rect x="4" y="16" width="1.25" height="1.35" fill="#d9ff26"/>
<rect x="5" y="16" width="1.25" height="1.35" fill="#d6ff29"/>
<rect x="6" y="16" width="1.25" height="1.35" fill="#d2ff2d"/>
<rect x="7" y="16" width="1.25" height="1.35" fill="#ceff31"/>
<rect x="8" y="16" width="1.25" height="1.35" fill="#c9ff36"/>
<rect x="9" y="16" width="1.25" height="1.35" fill="#c4ff3b"/>
<rect x="10" y="16" width="1.25" height="1.35" fill="#beff41"/>
<rect x="11" y="16" width="1.25" height="1.35" fill="#b7ff48"/>
<rect x="12" y="16" width="1.25" height="1.35" fill="#afff50"/>
<rect x="13" y="16" width="1.25" height="1.35" fill="#a7ff58"/>
<rect x="14" y="16" width="1.25" height="1.35" fill="#9eff61"/>
<rect x="15" y="16" width="1.25" height="1.35" fill="#97ff68"/>
<rect x="16" y="16" width="1.25" height="1.35" fill="#90ff6f"/>
<rect x="17" y="16" width="1.25" height="1.35" fill="#8aff75"/>
<rect x="18" y="16" width="1.25" height="1.35" fill="#83ff7c"/>
<rect x="19" y="16" width="1.25" height="1.35" fill="#7cff83"/>
<rect x="20" y="16" width="1.25" height="1.35" fill="#75ff8a"/>
<rect x="21" y="16" width="1.25" height="1.35" fill="#6eff91"/>
<rect x="22" y="16" width="1.25" height="1.35" fill="#68ff97"/>
<rect x="23" y="16" width="1.1" height="1.35" fill="#62ff9d"/>
<rect x="-0.1" y="17" width="1.35" height="1.35" fill="#e3ff1c"/>
<rect x="1" y="17" width="1.25" height="1.35" fill="#e1ff1e"/>
<rect x="2" y="17" width="1.25" height="1.35" fill="#dfff20"/>
<rect x="3" y="17" width="1.25" height="1.35" fill="#ddff22"/>
<rect x="4" y="17" width="1.25" height="1.35" fill="#dbff24"/>
<rect x="5" y="17" width="1.25" height="1.35" fill="#d9ff26"/>
<rect x="6" y="17" width="1.25" height="1.35" fill="#d5ff2a"/>
<rect x="7" y="17" width="1.25" height="1.35" fill="#d1ff2e"/>
<rect x="8" y="17" width="1.25" height="1.35" fill="#cdff32"/>
<rect x="9" y="17" width="1.25" height="1.35" fill="#c8ff37"/>
<rect x="10" y="17" width="1.25" height="1.35" fill="#c3ff3c"/>
<rect x="11" y="17" width="1.25" height="1.35" fill="#bcff43"/>
<rect x="12" y="17" width="1.25" height="1.35" fill="#b5ff4a"/>
<rect x="13" y="17" width="1.25" height="1.35" fill="#adff52"/>
<rect x="14" y="17" width="1.25" height="1.35" fill="#a5ff5a"/>
<rect x="15" y="17" width="1.25" height="1.35" fill="#9eff61"/>
<rect x="16" y="17" width="1.25" height="1.35" fill="#98ff67"/>
<rect x="17" y="17" width="1.25" height="1.35" fill="#92ff6d"/>
<rect x="18" y="17" width="1.25" height="1.35" fill="#8cff73"/>
<rect x="19" y="17" width="1.25" height="1.35" fill="#85ff7a"/>
<rect x="20" y="17" width="1.25" height="1.35" fill="#7eff81"/>
<rect x="21" y="17" width="1.25" height="1.35" fill="#77ff88"/>
<rect x="22" y="17" width="1.25" height="1.35" fill="#71ff8e"/>
<rect x="23" y="17" width="1.1" height="1.35" fill="#6bff94"/>
<rect x="-0.1" y="18" width="1.35" height="1.35" fill="#e5ff1a"/>
<rect x="1" y="18" width="1.25" height="1.35" fill="#e3ff1c"/>
<rect x="2" y="18" width="1.25" height="1.35" fill="#e1ff1e"/>
<rect x="3" y="18" width="1.25" height="1.35" fill="#e0ff1f"/>
<rect x="4" y="18" width="1.25" height="1.35" fill="#deff21"/>
<rect x="5" y="18" width="1.25" height="1.35" fill="#dbff24"/>
<rect x="6" y="18" width="1.25" height="1.35" fill="#d8ff27"/>
<rect x="7" y="18" width="1.25" height="1.35" fill="#d5ff2a"/>
<rect x="8" y="18" width="1.25" height="1.35" fill="#d1ff2e"/>
<rect x="9" y="18" width="1.25" height="1.35" fill="#ccff33"/>
<rect x="10" y="18" width="1.25" height="1.35" fill="#c7ff38"/>
<rect x="11" y="18" width="1.25" height="1.35" fill="#c1ff3e"/>
<rect x="12" y="18" width="1.25" height="1.35" fill="#baff45"/>
<rect x="13" y="18" width="1.25" height="1.35" fill="#b3ff4c"/>
<rect x="14" y="18" width="1.25" height="1.35" fill="#acff53"/>
<rect x="15" y="18" width="1.25" height="1.35" fill="#a5ff5a"/>
<rect x="16" y="18" width="1.25" height="1.35" fill="#a0ff5f"/>
<rect x="17" y="18" width="1.25" height="1.35" fill="#9aff65"/>
<rect x="18" y="18" width="1.25" height="1.35" fill="#94ff6b"/>
<rect x="19" y="18" width="1.25" height="1.35" fill="#8eff71"/>
<rect x="20" y="18" width="1.25" height="1.35" fill="#87ff78"/>
<rect x="21" y="18" width="1.25" height="1.35" fill="#81ff7e"/>
<rect x="22" y="18" width="1.25" height="1.35" fill="#7aff85"/>
<rect x="23" y="18" width="1.1" height="1.35" fill="#75ff8a"/>
<rect x="-0.1" y="19" width="1.35" height="1.35" fill="#e6ff19"/>
<rect x="1" y="19" width="1.25" height="1.35" fill="#e5ff1a"/>
<rect x="2" y="19" width="1.25" height="1.35" fill="#e3ff1c"/>
<rect x="3" y="19" width="1.25" height="1.35" fill="#e2ff1d"/>
<rect x="4" y="19" width="1.25" height="1.35" fill="#e0ff1f"/>
<rect x="5" y="19" width="1.25" height="1.35" fill="#deff21"/>
<rect x="6" y="19" width="1.25" height="1.35" fill="#dbff24"/>
<rect x="7" y="19" width="1.25" height="1.35" fill="#d8ff27"/>
<rect x="8" y="19" width="1.25" height="1.35" fill="#d4ff2b"/>
<rect x="9" y="19" width="1.25" height="1.35" fill="#d0ff2f"/>
<rect x="10" y="19" width="1.25" height="1.35" fill="#ccff33"/>
<rect x="11" y="19" width="1.25" height="1.35" fill="#c6ff39"/>
<rect x="12" y="19" width="1.25" height="1.35" fill="#c0ff3f"/>
<rect x="13" y="19" width="1.25" height="1.35" fill="#baff45"/>
<rect x="14" y="19" width="1.25" height="1.35" fill="#b3ff4c"/>
<rect x="15" y="19" width="1.25" height="1.35" fill="#adff52"/>
<rect x="16" y="19" width="1.25" height="1.35" fill="#a7ff58"/>
<rect x="17" y="19" width="1.25" height="1.35" fill="#a3ff5c"/>
<rect x="18" y="19" width="1.25" height="1.35" fill="#9dff62"/>
<rect x="19" y="19" width="1.25" height="1.35" fill="#97ff68"/>
<rect x="20" y="19" width="1.25" height="1.35" fill="#90ff6f"/>
<rect x="21" y="19" width="1.25" height="1.35" fill="#8aff75"/>
<rect x="22" y="19" width="1.25" height="1.35" fill="#84ff7b"/>
<rect x="23" y="19" width="1.1" height="1.35" fill="#7fff80"/>
<rect x="-0.1" y="20" width="1.35" height="1.35" fill="#e8ff17"/>
<rect x="1" y="20" width="1.25" height="1.35" fill="#e7ff18"/>
<rect x="2" y="20" width="1.25" height="1.35" fill="#e5ff1a"/>
<rect x="3" y="20" width="1.25" height="1.35" fill="#e4ff1b"/>
<rect x="4" y="20" width="1.25" height="1.35" fill="#e2ff1d"/>
<rect x="5" y="20" width="1.25" height="1.35" fill="#e0ff1f"/>
<rect x="6" y="20" width="1.25" height="1.35" fill="#deff21"/>
<rect x="7" y="20" width="1.25" height="1.35" fill="#dbff24"/>
<rect x="8" y="20" width="1.25" height="1.35" fill="#d8ff27"/>
<rect x="9" y="20" width="1.25" height="1.35" fill="#d4ff2b"/>
<rect x="10" y="20" width="1.25" height="1.35" fill="#d0ff2f"/>
<rect x="11" y="20" width="1.25" height="1.35" fill="#cbff34"/>
<rect x="12" y="20" width="1.25" height="1.35" fill="#c6ff39"/>
<rect x="13" y="20" width="1.25" height="1.35" fill="#c0ff3f"/>
<rect x="14" y="20" width="1.25" height="1.35" fill="#baff45"/>
<rect x="15" y="20" width="1.25" height="1.35" fill="#b4ff4b"/>
<rect x="16" y="20" width="1.25" height="1.35" fill="#afff50"/>
<rect x="17" y="20" width="1.25" height="1.35" fill="#abff54"/>
<rect x="18" y="20" width="1.25" height="1.35" fill="#a6ff59"/>
<rect x="19" y="20" width="1.25" height="1.35" fill="#a0ff5f"/>
<rect x="20" y="20" width="1.25" height="1.35" fill="#9aff65"/>
<rect x="21" y="20" width="1.25" height="1.35" fill="#94ff6b"/>
<rect x="22" y="20" width="1.25" height="1.35" fill="#8eff71"/>
<rect x="23" y="20" width="1.1" height="1.35" fill="#89ff76"/>
<rect x="-0.1" y="21" width="1.35" height="1.35" fill="#e9ff16"/>
<rect x="1" y="21" width="2.25" height="1.35" fill="#e8ff17"/>
<rect x="3" y="21" width="1.25" height="1.35" fill="#e6ff19"/>
<rect x="4" y="21" width="1.25" height="1.35" fill="#e4ff1b"/>
<rect x="5" y="21" width="1.25" height="1.35" fill="#e3ff1c"/>
<rect x="6" y="21" width="1.25" height="1.35" fill="#e1ff1e"/>
<rect x="7" y="21" width="1.25" height="1.35" fill="#deff21"/>
<rect x="8" y="21" width="1.25" height="1.35" fill="#dbff24"/>
<rect x="9" y="21" width="1.25" height="1.35" fill="#d8ff27"/>
<rect x="10" y="21" width="1.25" height="1.35" fill="#d5ff2a"/>
<rect x="11" y="21" width="1.25" height="1.35" fill="#d0ff2f"/>
<rect x="12" y="21" width="1.25" height="1.35" fill="#ccff33"/>
<rect x="13" y="21" width="1.25" height="1.35" fill="#c6ff39"/>
<rect x="14" y="21" width="1.25" height="1.35" fill="#c1ff3e"/>
<rect x="15" y="21" width="1.25" height="1.35" fill="#bcff43"/>
<rect x="16" y="21" width="1.25" height="1.35" fill="#b7ff48"/>
<rect x="17" y="21" width="1.25" height="1.35" fill="#b3ff4c"/>
<rect x="18" y="21" width="1.25" height="1.35" fill="#afff50"/>
<rect x="19" y="21" width="1.25" height="1.35" fill="#aaff55"/>
<rect x="20" y="21" width="1.25" height="1.35" fill="#a4ff5b"/>
<rect x="21" y="21" width="1.25" height="1.35" fill="#9eff61"/>
<rect x="22" y="21" width="1.25" height="1.35" fill="#98ff67"/>
<rect x="23" y="21" width="1.1" height="1.35" fill="#93ff6c"/>
<rect x="-0.1" y="22" width="3.35" height="1.35" fill="#eaff15"/>
<rect x="3" y="22" width="1.25" height="1.35" fill="#e8ff17"/>
<rect x="4" y="22" width="1.25" height="1.35" fill="#e6ff19"/>
<rect x="5" y="22" width="1.25" height="1.35" fill="#e5ff1a"/>
<rect x="6" y="22" width="1.25" height="1.35" fill="#e4ff1b"/>
<rect x="7" y="22" width="1.25" height="1.35" fill="#e2ff1d"/>
<rect x="8" y="22" width="1.25" height="1.35" fill="#dfff20"/>
<rect x="9" y="22" width="1.25" height="1.35" fill="#dcff23"/>
<rect x="10" y="22" width="1.25" height="1.35" fill="#d9ff26"/>
<rect x="11" y="22" width="1.25" height="1.35" fill="#d5ff2a"/>
<rect x="12" y="22" width="1.25" height="1.35" fill="#d1ff2e"/>
<rect x="13" y="22" width="1.25" height="1.35" fill="#cdff32"/>
<rect x="14" y="22" width="1.25" height="1.35" fill="#c8ff37"/>
<rect x="15" y="22" width="1.25" height="1.35" fill="#c3ff3c"/>
<rect x="16" y="22" width="1.25" height="1.35" fill="#bfff40"/>
<rect x="17" y="22" width="1.25" height="1.35" fill="#bcff43"/>
<rect x="18" y="22" width="1.25" height="1.35" fill="#b8ff47"/>
<rect x="19" y="22" width="1.25" height="1.35" fill="#b3ff4c"/>
<rect x="20" y="22" width="1.25" height="1.35" fill="#adff52"/>
<rect x="21" y="22" width="1.25" height="1.35" fill="#a8ff57"/>
<rect x="22" y="22" width="1.25" height="1.35" fill="#a3ff5c"/>
<rect x="23" y="22" width="1.1" height="1.35" fill="#9dff62"/>
<rect x="-0.1" y="23" width="3.35" height="1.15" fill="#ecff13"/>
<rect x="3" y="23" width="1.25" height="1.15" fill="#eaff15"/>
<rect x="4" y="23" width="1.25" height="1.15" fill="#e9ff16"/>
<rect x="5" y="23" width="1.25" height="1.15" fill="#e8ff17"/>
<rect x="6" y="23" width="1.25" height="1.15" fill="#e7ff18"/>
<rect x="7" y="23" width="1.25" height="1.15" fill="#e5ff1a"/>
<rect x="8" y="23" width="1.25" height="1.15" fill="#e2ff1d"/>
<rect x="9" y="23" width="1.25" height="1.15" fill="#e0ff1f"/>
<rect x="10" y="23" width="1.25" height="1.15" fill="#ddff22"/>
<rect x="11" y="23" width="1.25" height="1.15" fill="#daff25"/>
<rect x="12" y="23" width="1.25" height="1.15" fill="#d7ff28"/>
<rect x="13" y="23" width="1.25" height="1.15" fill="#d3ff2c"/>
<rect x="14" y="23" width="1.25" height="1.15" fill="#cfff30"/>
<rect x="15" y="23" width="1.25" height="1.15" fill="#cbff34"/>
<rect x="16" y="23" width="1.25" height="1.15" fill="#c8ff37"/>
<rect x="17" y="23" width="1.25" height="1.15" fill="#c4ff3b"/>
<rect x="18" y="23" width="1.25" height="1.15" fill="#c1ff3e"/>
<rect x="19" y="23" width="1.25" height="1.15" fill="#bcff43"/>
<rect x="20" y="23" width="1.25" height="1.15" fill="#b8ff47"/>
<rect x="21" y="23" width="1.25" height="1.15" fill="#b3ff4c"/>
<rect x="22" y="23" width="1.25" height="1.15" fill="#adff52"/>
<rect x="23" y="23" width="1.1" height="1.15" fill="#a8ff57"/>
</g>
<path fill="#fff" fill-rule="evenodd" d="M92.55 554.10h258.25v168.75h-258.25zM94.35 555.90h254.65v165.15h-254.65z"/>
<path d="M94.45 555.90V720.95H349.00" fill="none" stroke="#3a3a20" stroke-opacity="0.3" stroke-width="0.8"/>
<polyline points="94.3,701.6 172.8,721.0" fill="none" stroke="#ff00ee" stroke-width="2" stroke-linecap="round" stroke-linejoin="round"/>
<g transform="translate(429.10,555.90) scale(10.6083,6.8813)">
<rect x="-0.1" y="-0.15" width="1.35" height="1.5" fill="#a4ff5b"/>
<rect x="1" y="-0.15" width="1.25" height="1.5" fill="#7fff80"/>
<rect x="2" y="-0.15" width="1.25" height="1.5" fill="#5fffa0"/>
<rect x="3" y="-0.15" width="1.25" height="1.5" fill="#43ffbc"/>
<rect x="4" y="-0.15" width="1.25" height="1.5" fill="#28ffd7"/>
<rect x="5" y="-0.15" width="1.25" height="1.5" fill="#0afff5"/>
<rect x="6" y="-0.15" width="1.25" height="1.5" fill="#00ecff"/>
<rect x="7" y="-0.15" width="1.25" height="1.5" fill="#00d2ff"/>
<rect x="8" y="-0.15" width="1.25" height="1.5" fill="#00b8ff"/>
<rect x="9" y="-0.15" width="1.25" height="1.5" fill="#009aff"/>
<rect x="10" y="-0.15" width="1.25" height="1.5" fill="#007cff"/>
<rect x="11" y="-0.15" width="1.25" height="1.5" fill="#0063ff"/>
<rect x="12" y="-0.15" width="1.25" height="1.5" fill="#004fff"/>
<rect x="13" y="-0.15" width="1.25" height="1.5" fill="#003cff"/>
<rect x="14" y="-0.15" width="1.25" height="1.5" fill="#002cff"/>
<rect x="15" y="-0.15" width="1.25" height="1.5" fill="#001eff"/>
<rect x="16" y="-0.15" width="1.25" height="1.5" fill="#0013ff"/>
<rect x="17" y="-0.15" width="1.25" height="1.5" fill="#000aff"/>
<rect x="18" y="-0.15" width="1.25" height="1.5" fill="#0000fe"/>
<rect x="19" y="-0.15" width="1.25" height="1.5" fill="#0000f0"/>
<rect x="20" y="-0.15" width="1.25" height="1.5" fill="#0000df"/>
<rect x="21" y="-0.15" width="1.25" height="1.5" fill="#0000cf"/>
<rect x="22" y="-0.15" width="1.25" height="1.5" fill="#0000c0"/>
<rect x="23" y="-0.15" width="1.1" height="1.5" fill="#0000b2"/>
<rect x="-0.1" y="1" width="1.35" height="1.35" fill="#a7ff58"/>
<rect x="1" y="1" width="1.25" height="1.35" fill="#83ff7c"/>
<rect x="2" y="1" width="1.25" height="1.35" fill="#62ff9d"/>
<rect x="3" y="1" width="1.25" height="1.35" fill="#46ffb9"/>
<rect x="4" y="1" width="1.25" height="1.35" fill="#2bffd4"/>
<rect x="5" y="1" width="1.25" height="1.35" fill="#0ffff0"/>
<rect x="6" y="1" width="1.25" height="1.35" fill="#00f3ff"/>
<rect x="7" y="1" width="1.25" height="1.35" fill="#00daff"/>
<rect x="8" y="1" width="1.25" height="1.35" fill="#00c2ff"/>
<rect x="9" y="1" width="1.25" height="1.35" fill="#00a4ff"/>
<rect x="10" y="1" width="1.25" height="1.35" fill="#0087ff"/>
<rect x="11" y="1" width="1.25" height="1.35" fill="#006eff"/>
<rect x="12" y="1" width="1.25" height="1.35" fill="#0058ff"/>
<rect x="13" y="1" width="1.25" height="1.35" fill="#0046ff"/>
<rect x="14" y="1" width="1.25" height="1.35" fill="#0036ff"/>
<rect x="15" y="1" width="1.25" height="1.35" fill="#0027ff"/>
<rect x="16" y="1" width="1.25" height="1.35" fill="#001bff"/>
<rect x="17" y="1" width="1.25" height="1.35" fill="#0011ff"/>
<rect x="18" y="1" width="1.25" height="1.35" fill="#0005ff"/>
<rect x="19" y="1" width="1.25" height="1.35" fill="#0000f7"/>
<rect x="20" y="1" width="1.25" height="1.35" fill="#0000e8"/>
<rect x="21" y="1" width="1.25" height="1.35" fill="#0000d9"/>
<rect x="22" y="1" width="1.25" height="1.35" fill="#0000cb"/>
<rect x="23" y="1" width="1.1" height="1.35" fill="#0000bd"/>
<rect x="-0.1" y="2" width="1.35" height="1.35" fill="#aaff55"/>
<rect x="1" y="2" width="1.25" height="1.35" fill="#86ff79"/>
<rect x="2" y="2" width="1.25" height="1.35" fill="#66ff99"/>
<rect x="3" y="2" width="1.25" height="1.35" fill="#4affb5"/>
<rect x="4" y="2" width="1.25" height="1.35" fill="#2fffd0"/>
<rect x="5" y="2" width="1.25" height="1.35" fill="#14ffeb"/>
<rect x="6" y="2" width="1.25" height="1.35" fill="#00faff"/>
<rect x="7" y="2" width="1.25" height="1.35" fill="#00e3ff"/>
<rect x="8" y="2" width="1.25" height="1.35" fill="#00cbff"/>
<rect x="9" y="2" width="1.25" height="1.35" fill="#00aeff"/>
<rect x="10" y="2" width="1.25" height="1.35" fill="#0092ff"/>
<rect x="11" y="2" width="1.25" height="1.35" fill="#0078ff"/>
<rect x="12" y="2" width="1.25" height="1.35" fill="#0062ff"/>
<rect x="13" y="2" width="1.25" height="1.35" fill="#0050ff"/>
<rect x="14" y="2" width="1.25" height="1.35" fill="#0040ff"/>
<rect x="15" y="2" width="1.25" height="1.35" fill="#0031ff"/>
<rect x="16" y="2" width="1.25" height="1.35" fill="#0024ff"/>
<rect x="17" y="2" width="1.25" height="1.35" fill="#0019ff"/>
<rect x="18" y="2" width="1.25" height="1.35" fill="#000dff"/>
<rect x="19" y="2" width="1.25" height="1.35" fill="#0000ff"/>
<rect x="20" y="2" width="1.25" height="1.35" fill="#0000f1"/>
<rect x="21" y="2" width="1.25" height="1.35" fill="#0000e3"/>
<rect x="22" y="2" width="1.25" height="1.35" fill="#0000d6"/>
<rect x="23" y="2" width="1.1" height="1.35" fill="#0000c8"/>
<rect x="-0.1" y="3" width="1.35" height="1.35" fill="#acff53"/>
<rect x="1" y="3" width="1.25" height="1.35" fill="#8aff75"/>
<rect x="2" y="3" width="1.25" height="1.35" fill="#6aff95"/>
<rect x="3" y="3" width="1.25" height="1.35" fill="#4effb1"/>
<rect x="4" y="3" width="1.25" height="1.35" fill="#33ffcc"/>
<rect x="5" y="3" width="1.25" height="1.35" fill="#1affe5"/>
<rect x="6" y="3" width="1.25" height="1.35" fill="#02fffd"/>
<rect x="7" y="3" width="1.25" height="1.35" fill="#00ebff"/>
<rect x="8" y="3" width="1.25" height="1.35" fill="#00d4ff"/>
<rect x="9" y="3" width="1.25" height="1.35" fill="#00b9ff"/>
<rect x="10" y="3" width="1.25" height="1.35" fill="#009dff"/>
<rect x="11" y="3" width="1.25" height="1.35" fill="#0083ff"/>
<rect x="12" y="3" width="1.25" height="1.35" fill="#006cff"/>
<rect x="13" y="3" width="1.25" height="1.35" fill="#005aff"/>
<rect x="14" y="3" width="1.25" height="1.35" fill="#004aff"/>
<rect x="15" y="3" width="1.25" height="1.35" fill="#003bff"/>
<rect x="16" y="3" width="1.25" height="1.35" fill="#002eff"/>
<rect x="17" y="3" width="1.25" height="1.35" fill="#0021ff"/>
<rect x="18" y="3" width="1.25" height="1.35" fill="#0014ff"/>
<rect x="19" y="3" width="1.25" height="1.35" fill="#0008ff"/>
<rect x="20" y="3" width="1.25" height="1.35" fill="#0000fa"/>
<rect x="21" y="3" width="1.25" height="1.35" fill="#0000ed"/>
<rect x="22" y="3" width="1.25" height="1.35" fill="#0000e1"/>
<rect x="23" y="3" width="1.1" height="1.35" fill="#0000d4"/>
<rect x="-0.1" y="4" width="1.35" height="1.35" fill="#afff50"/>
<rect x="1" y="4" width="1.25" height="1.35" fill="#8eff71"/>
<rect x="2" y="4" width="1.25" height="1.35" fill="#6fff90"/>
<rect x="3" y="4" width="1.25" height="1.35" fill="#52ffad"/>
<rect x="4" y="4" width="1.25" height="1.35" fill="#38ffc7"/>
<rect x="5" y="4" width="1.25" height="1.35" fill="#1fffe0"/>
<rect x="6" y="4" width="1.25" height="1.35" fill="#08fff7"/>
<rect x="7" y="4" width="1.25" height="1.35" fill="#00f3ff"/>
<rect x="8" y="4" width="1.25" height="1.35" fill="#00ddff"/>
<rect x="9" y="4" width="1.25" height="1.35" fill="#00c3ff"/>
<rect x="10" y="4" width="1.25" height="1.35" fill="#00a8ff"/>
<rect x="11" y="4" width="1.25" height="1.35" fill="#008eff"/>
<rect x="12" y="4" width="1.25" height="1.35" fill="#0077ff"/>
<rect x="13" y="4" width="1.25" height="1.35" fill="#0065ff"/>
<rect x="14" y="4" width="1.25" height="1.35" fill="#0055ff"/>
<rect x="15" y="4" width="1.25" height="1.35" fill="#0046ff"/>
<rect x="16" y="4" width="1.25" height="1.35" fill="#0037ff"/>
<rect x="17" y="4" width="1.25" height="1.35" fill="#002aff"/>
<rect x="18" y="4" width="1.25" height="1.35" fill="#001dff"/>
<rect x="19" y="4" width="1.25" height="1.35" fill="#0011ff"/>
<rect x="20" y="4" width="1.25" height="1.35" fill="#0005ff"/>
<rect x="21" y="4" width="1.25" height="1.35" fill="#0000f8"/>
<rect x="22" y="4" width="1.25" height="1.35" fill="#0000eb"/>
<rect x="23" y="4" width="1.1" height="1.35" fill="#0000df"/>
<rect x="-0.1" y="5" width="1.35" height="1.35" fill="#b3ff4c"/>
<rect x="1" y="5" width="1.25" height="1.35" fill="#92ff6d"/>
<rect x="2" y="5" width="1.25" height="1.35" fill="#73ff8c"/>
<rect x="3" y="5" width="1.25" height="1.35" fill="#57ffa8"/>
<rect x="4" y="5" width="1.25" height="1.35" fill="#3cffc3"/>
<rect x="5" y="5" width="1.25" height="1.35" fill="#25ffda"/>
<rect x="6" y="5" width="1.25" height="1.35" fill="#0ffff0"/>
<rect x="7" y="5" width="1.25" height="1.35" fill="#00faff"/>
<rect x="8" y="5" width="1.25" height="1.35" fill="#00e5ff"/>
<rect x="9" y="5" width="1.25" height="1.35" fill="#00cdff"/>
<rect x="10" y="5" width="1.25" height="1.35" fill="#00b3ff"/>
<rect x="11" y="5" width="1.25" height="1.35" fill="#0099ff"/>
<rect x="12" y="5" width="1.25" height="1.35" fill="#0082ff"/>
<rect x="13" y="5" width="1.25" height="1.35" fill="#006fff"/>
<rect x="14" y="5" width="1.25" height="1.35" fill="#0060ff"/>
<rect x="15" y="5" width="1.25" height="1.35" fill="#0051ff"/>
<rect x="16" y="5" width="1.25" height="1.35" fill="#0042ff"/>
<rect x="17" y="5" width="1.25" height="1.35" fill="#0033ff"/>
<rect x="18" y="5" width="1.25" height="1.35" fill="#0026ff"/>
<rect x="19" y="5" width="1.25" height="1.35" fill="#001aff"/>
<rect x="20" y="5" width="1.25" height="1.35" fill="#000fff"/>
<rect x="21" y="5" width="1.25" height="1.35" fill="#0003ff"/>
<rect x="22" y="5" width="1.25" height="1.35" fill="#0000f6"/>
<rect x="23" y="5" width="1.1" height="1.35" fill="#0000e9"/>
<rect x="-0.1" y="6" width="1.35" height="1.35" fill="#b6ff49"/>
<rect x="1" y="6" width="1.25" height="1.35" fill="#96ff69"/>
<rect x="2" y="6" width="1.25" height="1.35" fill="#77ff88"/>
<rect x="3" y="6" width="1.25" height="1.35" fill="#5bffa4"/>
<rect x="4" y="6" width="1.25" height="1.35" fill="#41ffbe"/>
<rect x="5" y="6" width="1.25" height="1.35" fill="#2bffd4"/>
<rect x="6" y="6" width="1.25" height="1.35" fill="#16ffe9"/>
<rect x="7" y="6" width="1.25" height="1.35" fill="#02fffd"/>
<rect x="8" y="6" width="1.25" height="1.35" fill="#00edff"/>
<rect x="9" y="6" width="1.25" height="1.35" fill="#00d6ff"/>
<rect x="10" y="6" width="1.25" height="1.35" fill="#00beff"/>
<rect x="11" y="6" width="1.25" height="1.35" fill="#00a4ff"/>
<rect x="12" y="6" width="1.25" height="1.35" fill="#008dff"/>
<rect x="13" y="6" width="1.25" height="1.35" fill="#007bff"/>
<rect x="14" y="6" width="1.25" height="1.35" fill="#006bff"/>
<rect x="15" y="6" width="1.25" height="1.35" fill="#005cff"/>
<rect x="16" y="6" width="1.25" height="1.35" fill="#004cff"/>
<rect x="17" y="6" width="1.25" height="1.35" fill="#003dff"/>
<rect x="18" y="6" width="1.25" height="1.35" fill="#002fff"/>
<rect x="19" y="6" width="1.25" height="1.35" fill="#0023ff"/>
<rect x="20" y="6" width="1.25" height="1.35" fill="#0019ff"/>
<rect x="21" y="6" width="1.25" height="1.35" fill="#000dff"/>
<rect x="22" y="6" width="1.25" height="1.35" fill="#0001ff"/>
<rect x="23" y="6" width="1.1" height="1.35" fill="#0000f4"/>
<rect x="-0.1" y="7" width="1.35" height="1.35" fill="#b9ff46"/>
<rect x="1" y="7" width="1.25" height="1.35" fill="#9aff65"/>
<rect x="2" y="7" width="1.25" height="1.35" fill="#7cff83"/>
<rect x="3" y="7" width="1.25" height="1.35" fill="#60ff9f"/>
<rect x="4" y="7" width="1.25" height="1.35" fill="#47ffb8"/>
<rect x="5" y="7" width="1.25" height="1.35" fill="#31ffce"/>
<rect x="6" y="7" width="1.25" height="1.35" fill="#1dffe2"/>
<rect x="7" y="7" width="1.25" height="1.35" fill="#09fff6"/>
<rect x="8" y="7" width="1.25" height="1.35" fill="#00f4ff"/>
<rect x="9" y="7" width="1.25" height="1.35" fill="#00e0ff"/>
<rect x="10" y="7" width="1.25" height="1.35" fill="#00c9ff"/>
<rect x="11" y="7" width="1.25" height="1.35" fill="#00b0ff"/>
<rect x="12" y="7" width="1.25" height="1.35" fill="#0099ff"/>
<rect x="13" y="7" width="1.25" height="1.35" fill="#0086ff"/>
<rect x="14" y="7" width="1.25" height="1.35" fill="#0076ff"/>
<rect x="15" y="7" width="1.25" height="1.35" fill="#0067ff"/>
<rect x="16" y="7" width="1.25" height="1.35" fill="#0057ff"/>
<rect x="17" y="7" width="1.25" height="1.35" fill="#0048ff"/>
<rect x="18" y="7" width="1.25" height="1.35" fill="#003aff"/>
<rect x="19" y="7" width="1.25" height="1.35" fill="#002eff"/>
<rect x="20" y="7" width="1.25" height="1.35" fill="#0023ff"/>
<rect x="21" y="7" width="1.25" height="1.35" fill="#0018ff"/>
<rect x="22" y="7" width="1.25" height="1.35" fill="#000cff"/>
<rect x="23" y="7" width="1.1" height="1.35" fill="#0000ff"/>
<rect x="-0.1" y="8" width="1.35" height="1.35" fill="#bcff43"/>
<rect x="1" y="8" width="1.25" height="1.35" fill="#9eff61"/>
<rect x="2" y="8" width="1.25" height="1.35" fill="#81ff7e"/>
<rect x="3" y="8" width="1.25" height="1.35" fill="#65ff9a"/>
<rect x="4" y="8" width="1.25" height="1.35" fill="#4cffb3"/>
<rect x="5" y="8" width="1.25" height="1.35" fill="#37ffc8"/>
<rect x="6" y="8" width="1.25" height="1.35" fill="#23ffdc"/>
<rect x="7" y="8" width="1.25" height="1.35" fill="#10ffef"/>
<rect x="8" y="8" width="1.25" height="1.35" fill="#00fcff"/>
<rect x="9" y="8" width="1.25" height="1.35" fill="#00e9ff"/>
<rect x="10" y="8" width="1.25" height="1.35" fill="#00d5ff"/>
<rect x="11" y="8" width="1.25" height="1.35" fill="#00bcff"/>
<rect x="12" y="8" width="1.25" height="1.35" fill="#00a5ff"/>
<rect x="13" y="8" width="1.25" height="1.35" fill="#0092ff"/>
<rect x="14" y="8" width="1.25" height="1.35" fill="#0082ff"/>
<rect x="15" y="8" width="1.25" height="1.35" fill="#0072ff"/>
<rect x="16" y="8" width="1.25" height="1.35" fill="#0063ff"/>
<rect x="17" y="8" width="1.25" height="1.35" fill="#0053ff"/>
<rect x="18" y="8" width="1.25" height="1.35" fill="#0045ff"/>
<rect x="19" y="8" width="1.25" height="1.35" fill="#0039ff"/>
<rect x="20" y="8" width="1.25" height="1.35" fill="#002dff"/>
<rect x="21" y="8" width="1.25" height="1.35" fill="#0022ff"/>
<rect x="22" y="8" width="1.25" height="1.35" fill="#0016ff"/>
<rect x="23" y="8" width="1.1" height="1.35" fill="#000bff"/>
<rect x="-0.1" y="9" width="1.35" height="1.35" fill="#c0ff3f"/>
<rect x="1" y="9" width="1.25" height="1.35" fill="#a2ff5d"/>
<rect x="2" y="9" width="1.25" height="1.35" fill="#86ff79"/>
<rect x="3" y="9" width="1.25" height="1.35" fill="#6bff94"/>
<rect x="4" y="9" width="1.25" height="1.35" fill="#52ffad"/>
<rect x="5" y="9" width="1.25" height="1.35" fill="#3dffc2"/>
<rect x="6" y="9" width="1.25" height="1.35" fill="#2affd5"/>
<rect x="7" y="9" width="1.25" height="1.35" fill="#16ffe9"/>
<rect x="8" y="9" width="1.25" height="1.35" fill="#04fffb"/>
<rect x="9" y="9" width="1.25" height="1.35" fill="#00f2ff"/>
<rect x="10" y="9" width="1.25" height="1.35" fill="#00e0ff"/>
<rect x="11" y="9" width="1.25" height="1.35" fill="#00c8ff"/>
<rect x="12" y="9" width="1.25" height="1.35" fill="#00b1ff"/>
<rect x="13" y="9" width="1.25" height="1.35" fill="#009eff"/>
<rect x="14" y="9" width="1.25" height="1.35" fill="#008eff"/>
<rect x="15" y="9" width="1.25" height="1.35" fill="#007eff"/>
<rect x="16" y="9" width="1.25" height="1.35" fill="#006eff"/>
<rect x="17" y="9" width="1.25" height="1.35" fill="#005fff"/>
<rect x="18" y="9" width="1.25" height="1.35" fill="#0051ff"/>
<rect x="19" y="9" width="1.25" height="1.35" fill="#0044ff"/>
<rect x="20" y="9" width="1.25" height="1.35" fill="#0038ff"/>
<rect x="21" y="9" width="1.25" height="1.35" fill="#002cff"/>
<rect x="22" y="9" width="1.25" height="1.35" fill="#0021ff"/>
<rect x="23" y="9" width="1.1" height="1.35" fill="#0015ff"/>
<rect x="-0.1" y="10" width="1.35" height="1.35" fill="#c3ff3c"/>
<rect x="1" y="10" width="1.25" height="1.35" fill="#a6ff59"/>
<rect x="2" y="10" width="1.25" height="1.35" fill="#8aff75"/>
<rect x="3" y="10" width="1.25" height="1.35" fill="#70ff8f"/>
<rect x="4" y="10" width="1.25" height="1.35" fill="#59ffa6"/>
<rect x="5" y="10" width="1.25" height="1.35" fill="#44ffbb"/>
<rect x="6" y="10" width="1.25" height="1.35" fill="#31ffce"/>
<rect x="7" y="10" width="1.25" height="1.35" fill="#1dffe2"/>
<rect x="8" y="10" width="1.25" height="1.35" fill="#0bfff4"/>
<rect x="9" y="10" width="1.25" height="1.35" fill="#00fbff"/>
<rect x="10" y="10" width="1.25" height="1.35" fill="#00ebff"/>
<rect x="11" y="10" width="1.25" height="1.35" fill="#00d4ff"/>
<rect x="12" y="10" width="1.25" height="1.35" fill="#00bdff"/>
<rect x="13" y="10" width="1.25" height="1.35" fill="#00aaff"/>
<rect x="14" y="10" width="1.25" height="1.35" fill="#009aff"/>
<rect x="15" y="10" width="1.25" height="1.35" fill="#008aff"/>
<rect x="16" y="10" width="1.25" height="1.35" fill="#007aff"/>
<rect x="17" y="10" width="1.25" height="1.35" fill="#006bff"/>
<rect x="18" y="10" width="1.25" height="1.35" fill="#005dff"/>
<rect x="19" y="10" width="1.25" height="1.35" fill="#0050ff"/>
<rect x="20" y="10" width="1.25" height="1.35" fill="#0043ff"/>
<rect x="21" y="10" width="1.25" height="1.35" fill="#0037ff"/>
<rect x="22" y="10" width="1.25" height="1.35" fill="#002bff"/>
<rect x="23" y="10" width="1.1" height="1.35" fill="#0020ff"/>
<rect x="-0.1" y="11" width="1.35" height="1.35" fill="#c7ff38"/>
<rect x="1" y="11" width="1.25" height="1.35" fill="#aaff55"/>
<rect x="2" y="11" width="1.25" height="1.35" fill="#90ff6f"/>
<rect x="3" y="11" width="1.25" height="1.35" fill="#76ff89"/>
<rect x="4" y="11" width="1.25" height="1.35" fill="#5fffa0"/>
<rect x="5" y="11" width="1.25" height="1.35" fill="#4bffb4"/>
<rect x="6" y="11" width="1.25" height="1.35" fill="#38ffc7"/>
<rect x="7" y="11" width="1.25" height="1.35" fill="#25ffda"/>
<rect x="8" y="11" width="1.25" height="1.35" fill="#13ffec"/>
<rect x="9" y="11" width="1.25" height="1.35" fill="#05fffa"/>
<rect x="10" y="11" width="1.25" height="1.35" fill="#00f6ff"/>
<rect x="11" y="11" width="1.25" height="1.35" fill="#00e0ff"/>
<rect x="12" y="11" width="1.25" height="1.35" fill="#00c9ff"/>
<rect x="13" y="11" width="1.25" height="1.35" fill="#00b7ff"/>
<rect x="14" y="11" width="1.25" height="1.35" fill="#00a6ff"/>
<rect x="15" y="11" width="1.25" height="1.35" fill="#0096ff"/>
<rect x="16" y="11" width="1.25" height="1.35" fill="#0086ff"/>
<rect x="17" y="11" width="1.25" height="1.35" fill="#0077ff"/>
<rect x="18" y="11" width="1.25" height="1.35" fill="#0069ff"/>
<rect x="19" y="11" width="1.25" height="1.35" fill="#005cff"/>
<rect x="20" y="11" width="1.25" height="1.35" fill="#004fff"/>
<rect x="21" y="11" width="1.25" height="1.35" fill="#0042ff"/>
<rect x="22" y="11" width="1.25" height="1.35" fill="#0037ff"/>
<rect x="23" y="11" width="1.1" height="1.35" fill="#002cff"/>
<rect x="-0.1" y="12" width="1.35" height="1.35" fill="#caff35"/>
<rect x="1" y="12" width="1.25" height="1.35" fill="#afff50"/>
<rect x="2" y="12" width="1.25" height="1.35" fill="#95ff6a"/>
<rect x="3" y="12" width="1.25" height="1.35" fill="#7cff83"/>
<rect x="4" y="12" width="1.25" height="1.35" fill="#66ff99"/>
<rect x="5" y="12" width="1.25" height="1.35" fill="#52ffad"/>
<rect x="6" y="12" width="1.25" height="1.35" fill="#40ffbf"/>
<rect x="7" y="12" width="1.25" height="1.35" fill="#2dffd2"/>
<rect x="8" y="12" width="1.25" height="1.35" fill="#1cffe3"/>
<rect x="9" y="12" width="1.25" height="1.35" fill="#0ffff0"/>
<rect x="10" y="12" width="1.25" height="1.35" fill="#01fffe"/>
<rect x="11" y="12" width="1.25" height="1.35" fill="#00ebff"/>
<rect x="12" y="12" width="1.25" height="1.35" fill="#00d5ff"/>
<rect x="13" y="12" width="1.25" height="1.35" fill="#00c2ff"/>
<rect x="14" y="12" width="1.25" height="1.35" fill="#00b2ff"/>
<rect x="15" y="12" width="1.25" height="1.35" fill="#00a2ff"/>
<rect x="16" y="12" width="1.25" height="1.35" fill="#0092ff"/>
<rect x="17" y="12" width="1.25" height="1.35" fill="#0083ff"/>
<rect x="18" y="12" width="1.25" height="1.35" fill="#0075ff"/>
<rect x="19" y="12" width="1.25" height="1.35" fill="#0067ff"/>
<rect x="20" y="12" width="1.25" height="1.35" fill="#005aff"/>
<rect x="21" y="12" width="1.25" height="1.35" fill="#004eff"/>
<rect x="22" y="12" width="1.25" height="1.35" fill="#0042ff"/>
<rect x="23" y="12" width="1.1" height="1.35" fill="#0037ff"/>
<rect x="-0.1" y="13" width="1.35" height="1.35" fill="#ceff31"/>
<rect x="1" y="13" width="1.25" height="1.35" fill="#b4ff4b"/>
<rect x="2" y="13" width="1.25" height="1.35" fill="#9bff64"/>
<rect x="3" y="13" width="1.25" height="1.35" fill="#83ff7c"/>
<rect x="4" y="13" width="1.25" height="1.35" fill="#6dff92"/>
<rect x="5" y="13" width="1.25" height="1.35" fill="#5affa5"/>
<rect x="6" y="13" width="1.25" height="1.35" fill="#49ffb6"/>
<rect x="7" y="13" width="1.25" height="1.35" fill="#37ffc8"/>
<rect x="8" y="13" width="1.25" height="1.35" fill="#26ffd9"/>
<rect x="9" y="13" width="1.25" height="1.35" fill="#18ffe7"/>
<rect x="10" y="13" width="1.25" height="1.35" fill="#0bfff4"/>
<rect x="11" y="13" width="1.25" height="1.35" fill="#00f6ff"/>
<rect x="12" y="13" width="1.25" height="1.35" fill="#00e0ff"/>
<rect x="13" y="13" width="1.25" height="1.35" fill="#00ceff"/>
<rect x="14" y="13" width="1.25" height="1.35" fill="#00bdff"/>
<rect x="15" y="13" width="1.25" height="1.35" fill="#00adff"/>
<rect x="16" y="13" width="1.25" height="1.35" fill="#009eff"/>
<rect x="17" y="13" width="1.25" height="1.35" fill="#008fff"/>
<rect x="18" y="13" width="1.25" height="1.35" fill="#0081ff"/>
<rect x="19" y="13" width="1.25" height="1.35" fill="#0073ff"/>
<rect x="20" y="13" width="1.25" height="1.35" fill="#0066ff"/>
<rect x="21" y="13" width="1.25" height="1.35" fill="#0059ff"/>
<rect x="22" y="13" width="1.25" height="1.35" fill="#004eff"/>
<rect x="23" y="13" width="1.1" height="1.35" fill="#0043ff"/>
<rect x="-0.1" y="14" width="1.35" height="1.35" fill="#d1ff2e"/>
<rect x="1" y="14" width="1.25" height="1.35" fill="#b8ff47"/>
<rect x="2" y="14" width="1.25" height="1.35" fill="#a1ff5e"/>
<rect x="3" y="14" width="1.25" height="1.35" fill="#8aff75"/>
<rect x="4" y="14" width="1.25" height="1.35" fill="#74ff8b"/>
<rect x="5" y="14" width="1.25" height="1.35" fill="#62ff9d"/>
<rect x="6" y="14" width="1.25" height="1.35" fill="#52ffad"/>
<rect x="7" y="14" width="1.25" height="1.35" fill="#40ffbf"/>
<rect x="8" y="14" width="1.25" height="1.35" fill="#30ffcf"/>
<rect x="9" y="14" width="1.25" height="1.35" fill="#22ffdd"/>
<rect x="10" y="14" width="1.25" height="1.35" fill="#14ffeb"/>
<rect x="11" y="14" width="1.25" height="1.35" fill="#01fffe"/>
<rect x="12" y="14" width="1.25" height="1.35" fill="#00ecff"/>
<rect x="13" y="14" width="1.25" height="1.35" fill="#00daff"/>
<rect x="14" y="14" width="1.25" height="1.35" fill="#00c8ff"/>
<rect x="15" y="14" width="1.25" height="1.35" fill="#00b8ff"/>
<rect x="16" y="14" width="1.25" height="1.35" fill="#00a9ff"/>
<rect x="17" y="14" width="1.25" height="1.35" fill="#009cff"/>
<rect x="18" y="14" width="1.25" height="1.35" fill="#008eff"/>
<rect x="19" y="14" width="1.25" height="1.35" fill="#0080ff"/>
<rect x="20" y="14" width="1.25" height="1.35" fill="#0072ff"/>
<rect x="21" y="14" width="1.25" height="1.35" fill="#0065ff"/>
<rect x="22" y="14" width="1.25" height="1.35" fill="#0059ff"/>
<rect x="23" y="14" width="1.1" height="1.35" fill="#004fff"/>
<rect x="-0.1" y="15" width="1.35" height="1.35" fill="#d5ff2a"/>
<rect x="1" y="15" width="1.25" height="1.35" fill="#bdff42"/>
<rect x="2" y="15" width="1.25" height="1.35" fill="#a7ff58"/>
<rect x="3" y="15" width="1.25" height="1.35" fill="#90ff6f"/>
<rect x="4" y="15" width="1.25" height="1.35" fill="#7cff83"/>
<rect x="5" y="15" width="1.25" height="1.35" fill="#6bff94"/>
<rect x="6" y="15" width="1.25" height="1.35" fill="#5bffa4"/>
<rect x="7" y="15" width="1.25" height="1.35" fill="#4affb5"/>
<rect x="8" y="15" width="1.25" height="1.35" fill="#3affc5"/>
<rect x="9" y="15" width="1.25" height="1.35" fill="#2cffd3"/>
<rect x="10" y="15" width="1.25" height="1.35" fill="#1effe1"/>
<rect x="11" y="15" width="1.25" height="1.35" fill="#0bfff4"/>
<rect x="12" y="15" width="1.25" height="1.35" fill="#00f7ff"/>
<rect x="13" y="15" width="1.25" height="1.35" fill="#00e6ff"/>
<rect x="14" y="15" width="1.25" height="1.35" fill="#00d4ff"/>
<rect x="15" y="15" width="1.25" height="1.35" fill="#00c4ff"/>
<rect x="16" y="15" width="1.25" height="1.35" fill="#00b6ff"/>
<rect x="17" y="15" width="1.25" height="1.35" fill="#00a9ff"/>
<rect x="18" y="15" width="1.25" height="1.35" fill="#009bff"/>
<rect x="19" y="15" width="1.25" height="1.35" fill="#008dff"/>
<rect x="20" y="15" width="1.25" height="1.35" fill="#007fff"/>
<rect x="21" y="15" width="1.25" height="1.35" fill="#0072ff"/>
<rect x="22" y="15" width="1.25" height="1.35" fill="#0066ff"/>
<rect x="23" y="15" width="1.1" height="1.35" fill="#005bff"/>
<rect x="-0.1" y="16" width="1.35" height="1.35" fill="#d8ff27"/>
<rect x="1" y="16" width="1.25" height="1.35" fill="#c2ff3d"/>
<rect x="2" y="16" width="1.25" height="1.35" fill="#acff53"/>
<rect x="3" y="16" width="1.25" height="1.35" fill="#97ff68"/>
<rect x="4" y="16" width="1.25" height="1.35" fill="#84ff7b"/>
<rect x="5" y="16" width="1.25" height="1.35" fill="#74ff8b"/>
<rect x="6" y="16" width="1.25" height="1.35" fill="#64ff9b"/>
<rect x="7" y="16" width="1.25" height="1.35" fill="#54ffab"/>
<rect x="8" y="16" width="1.25" height="1.35" fill="#44ffbb"/>
<rect x="9" y="16" width="1.25" height="1.35" fill="#36ffc9"/>
<rect x="10" y="16" width="1.25" height="1.35" fill="#28ffd7"/>
<rect x="11" y="16" width="1.25" height="1.35" fill="#16ffe9"/>
<rect x="12" y="16" width="1.25" height="1.35" fill="#05fffa"/>
<rect x="13" y="16" width="1.25" height="1.35" fill="#00f2ff"/>
<rect x="14" y="16" width="1.25" height="1.35" fill="#00e1ff"/>
<rect x="15" y="16" width="1.25" height="1.35" fill="#00d1ff"/>
<rect x="16" y="16" width="1.25" height="1.35" fill="#00c3ff"/>
<rect x="17" y="16" width="1.25" height="1.35" fill="#00b6ff"/>
<rect x="18" y="16" width="1.25" height="1.35" fill="#00a9ff"/>
<rect x="19" y="16" width="1.25" height="1.35" fill="#009bff"/>
<rect x="20" y="16" width="1.25" height="1.35" fill="#008cff"/>
<rect x="21" y="16" width="1.25" height="1.35" fill="#007fff"/>
<rect x="22" y="16" width="1.25" height="1.35" fill="#0073ff"/>
<rect x="23" y="16" width="1.1" height="1.35" fill="#0069ff"/>
<rect x="-0.1" y="17" width="1.35" height="1.35" fill="#dbff24"/>
<rect x="1" y="17" width="1.25" height="1.35" fill="#c7ff38"/>
<rect x="2" y="17" width="1.25" height="1.35" fill="#b2ff4d"/>
<rect x="3" y="17" width="1.25" height="1.35" fill="#9eff61"/>
<rect x="4" y="17" width="1.25" height="1.35" fill="#8cff73"/>
<rect x="5" y="17" width="1.25" height="1.35" fill="#7cff83"/>
<rect x="6" y="17" width="1.25" height="1.35" fill="#6dff92"/>
<rect x="7" y="17" width="1.25" height="1.35" fill="#5effa1"/>
<rect x="8" y="17" width="1.25" height="1.35" fill="#4effb1"/>
<rect x="9" y="17" width="1.25" height="1.35" fill="#40ffbf"/>
<rect x="10" y="17" width="1.25" height="1.35" fill="#32ffcd"/>
<rect x="11" y="17" width="1.25" height="1.35" fill="#22ffdd"/>
<rect x="12" y="17" width="1.25" height="1.35" fill="#11ffee"/>
<rect x="13" y="17" width="1.25" height="1.35" fill="#01fffe"/>
<rect x="14" y="17" width="1.25" height="1.35" fill="#00efff"/>
<rect x="15" y="17" width="1.25" height="1.35" fill="#00dfff"/>
<rect x="16" y="17" width="1.25" height="1.35" fill="#00d2ff"/>
<rect x="17" y="17" width="1.25" height="1.35" fill="#00c5ff"/>
<rect x="18" y="17" width="1.25" height="1.35" fill="#00b9ff"/>
<rect x="19" y="17" width="1.25" height="1.35" fill="#00aaff"/>
<rect x="20" y="17" width="1.25" height="1.35" fill="#009bff"/>
<rect x="21" y="17" width="1.25" height="1.35" fill="#008eff"/>
<rect x="22" y="17" width="1.25" height="1.35" fill="#0082ff"/>
<rect x="23" y="17" width="1.1" height="1.35" fill="#0077ff"/>
<rect x="-0.1" y="18" width="1.35" height="1.35" fill="#deff21"/>
<rect x="1" y="18" width="1.25" height="1.35" fill="#cbff34"/>
<rect x="2" y="18" width="1.25" height="1.35" fill="#b8ff47"/>
<rect x="3" y="18" width="1.25" height="1.35" fill="#a5ff5a"/>
<rect x="4" y="18" width="1.25" height="1.35" fill="#94ff6b"/>
<rect x="5" y="18" width="1.25" height="1.35" fill="#85ff7a"/>
<rect x="6" y="18" width="1.25" height="1.35" fill="#76ff89"/>
<rect x="7" y="18" width="1.25" height="1.35" fill="#67ff98"/>
<rect x="8" y="18" width="1.25" height="1.35" fill="#59ffa6"/>
<rect x="9" y="18" width="1.25" height="1.35" fill="#4bffb4"/>
<rect x="10" y="18" width="1.25" height="1.35" fill="#3effc1"/>
<rect x="11" y="18" width="1.25" height="1.35" fill="#2fffd0"/>
<rect x="12" y="18" width="1.25" height="1.35" fill="#1fffe0"/>
<rect x="13" y="18" width="1.25" height="1.35" fill="#10ffef"/>
<rect x="14" y="18" width="1.25" height="1.35" fill="#01fffe"/>
<rect x="15" y="18" width="1.25" height="1.35" fill="#00f2ff"/>
<rect x="16" y="18" width="1.25" height="1.35" fill="#00e5ff"/>
<rect x="17" y="18" width="1.25" height="1.35" fill="#00d8ff"/>
<rect x="18" y="18" width="1.25" height="1.35" fill="#00cbff"/>
<rect x="19" y="18" width="1.25" height="1.35" fill="#00bdff"/>
<rect x="20" y="18" width="1.25" height="1.35" fill="#00aeff"/>
<rect x="21" y="18" width="1.25" height="1.35" fill="#00a0ff"/>
<rect x="22" y="18" width="1.25" height="1.35" fill="#0094ff"/>
<rect x="23" y="18" width="1.1" height="1.35" fill="#0089ff"/>
<rect x="-0.1" y="19" width="1.35" height="1.35" fill="#e1ff1e"/>
<rect x="1" y="19" width="1.25" height="1.35" fill="#cfff30"/>
<rect x="2" y="19" width="1.25" height="1.35" fill="#beff41"/>
<rect x="3" y="19" width="1.25" height="1.35" fill="#adff52"/>
<rect x="4" y="19" width="1.25" height="1.35" fill="#9cff63"/>
<rect x="5" y="19" width="1.25" height="1.35" fill="#8dff72"/>
<rect x="6" y="19" width="1.25" height="1.35" fill="#7fff80"/>
<rect x="7" y="19" width="1.25" height="1.35" fill="#71ff8e"/>
<rect x="8" y="19" width="1.25" height="1.35" fill="#63ff9c"/>
<rect x="9" y="19" width="1.25" height="1.35" fill="#57ffa8"/>
<rect x="10" y="19" width="1.25" height="1.35" fill="#4bffb4"/>
<rect x="11" y="19" width="1.25" height="1.35" fill="#3dffc2"/>
<rect x="12" y="19" width="1.25" height="1.35" fill="#2effd1"/>
<rect x="13" y="19" width="1.25" height="1.35" fill="#21ffde"/>
<rect x="14" y="19" width="1.25" height="1.35" fill="#15ffea"/>
<rect x="15" y="19" width="1.25" height="1.35" fill="#08fff7"/>
<rect x="16" y="19" width="1.25" height="1.35" fill="#00faff"/>
<rect x="17" y="19" width="1.25" height="1.35" fill="#00edff"/>
<rect x="18" y="19" width="1.25" height="1.35" fill="#00e0ff"/>
<rect x="19" y="19" width="1.25" height="1.35" fill="#00d1ff"/>
<rect x="20" y="19" width="1.25" height="1.35" fill="#00c2ff"/>
<rect x="21" y="19" width="1.25" height="1.35" fill="#00b4ff"/>
<rect x="22" y="19" width="1.25" height="1.35" fill="#00a7ff"/>
<rect x="23" y="19" width="1.1" height="1.35" fill="#009cff"/>
<rect x="-0.1" y="20" width="1.35" height="1.35" fill="#e4ff1b"/>
<rect x="1" y="20" width="1.25" height="1.35" fill="#d4ff2b"/>
<rect x="2" y="20" width="1.25" height="1.35" fill="#c4ff3b"/>
<rect x="3" y="20" width="1.25" height="1.35" fill="#b4ff4b"/>
<rect x="4" y="20" width="1.25" height="1.35" fill="#a4ff5b"/>
<rect x="5" y="20" width="1.25" height="1.35" fill="#96ff69"/>
<rect x="6" y="20" width="1.25" height="1.35" fill="#89ff76"/>
<rect x="7" y="20" width="1.25" height="1.35" fill="#7aff85"/>
<rect x="8" y="20" width="1.25" height="1.35" fill="#6dff92"/>
<rect x="9" y="20" width="1.25" height="1.35" fill="#62ff9d"/>
<rect x="10" y="20" width="1.25" height="1.35" fill="#57ffa8"/>
<rect x="11" y="20" width="1.25" height="1.35" fill="#4affb5"/>
<rect x="12" y="20" width="1.25" height="1.35" fill="#3cffc3"/>
<rect x="13" y="20" width="1.25" height="1.35" fill="#30ffcf"/>
<rect x="14" y="20" width="1.25" height="1.35" fill="#25ffda"/>
<rect x="15" y="20" width="1.25" height="1.35" fill="#1affe5"/>
<rect x="16" y="20" width="1.25" height="1.35" fill="#0dfff2"/>
<rect x="17" y="20" width="1.25" height="1.35" fill="#00ffff"/>
<rect x="18" y="20" width="1.25" height="1.35" fill="#00f2ff"/>
<rect x="19" y="20" width="1.25" height="1.35" fill="#00e4ff"/>
<rect x="20" y="20" width="1.25" height="1.35" fill="#00d5ff"/>
<rect x="21" y="20" width="1.25" height="1.35" fill="#00c7ff"/>
<rect x="22" y="20" width="1.25" height="1.35" fill="#00baff"/>
<rect x="23" y="20" width="1.1" height="1.35" fill="#00aeff"/>
<rect x="-0.1" y="21" width="1.35" height="1.35" fill="#e8ff17"/>
<rect x="1" y="21" width="1.25" height="1.35" fill="#d8ff27"/>
<rect x="2" y="21" width="1.25" height="1.35" fill="#caff35"/>
<rect x="3" y="21" width="1.25" height="1.35" fill="#bbff44"/>
<rect x="4" y="21" width="1.25" height="1.35" fill="#acff53"/>
<rect x="5" y="21" width="1.25" height="1.35" fill="#9fff60"/>
<rect x="6" y="21" width="1.25" height="1.35" fill="#92ff6d"/>
<rect x="7" y="21" width="1.25" height="1.35" fill="#84ff7b"/>
<rect x="8" y="21" width="1.25" height="1.35" fill="#77ff88"/>
<rect x="9" y="21" width="1.25" height="1.35" fill="#6cff93"/>
<rect x="10" y="21" width="1.25" height="1.35" fill="#62ff9d"/>
<rect x="11" y="21" width="1.25" height="1.35" fill="#55ffaa"/>
<rect x="12" y="21" width="1.25" height="1.35" fill="#49ffb6"/>
<rect x="13" y="21" width="1.25" height="1.35" fill="#3dffc2"/>
<rect x="14" y="21" width="1.25" height="1.35" fill="#32ffcd"/>
<rect x="15" y="21" width="1.25" height="1.35" fill="#26ffd9"/>
<rect x="16" y="21" width="1.25" height="1.35" fill="#1affe5"/>
<rect x="17" y="21" width="1.25" height="1.35" fill="#0dfff2"/>
<rect x="18" y="21" width="1.25" height="1.35" fill="#00ffff"/>
<rect x="19" y="21" width="1.25" height="1.35" fill="#00f2ff"/>
<rect x="20" y="21" width="1.25" height="1.35" fill="#00e4ff"/>
<rect x="21" y="21" width="1.25" height="1.35" fill="#00d7ff"/>
<rect x="22" y="21" width="1.25" height="1.35" fill="#00cbff"/>
<rect x="23" y="21" width="1.1" height="1.35" fill="#00bfff"/>
<rect x="-0.1" y="22" width="1.35" height="1.35" fill="#ebff14"/>
<rect x="1" y="22" width="1.25" height="1.35" fill="#ddff22"/>
<rect x="2" y="22" width="1.25" height="1.35" fill="#cfff30"/>
<rect x="3" y="22" width="1.25" height="1.35" fill="#c2ff3d"/>
<rect x="4" y="22" width="1.25" height="1.35" fill="#b5ff4a"/>
<rect x="5" y="22" width="1.25" height="1.35" fill="#a8ff57"/>
<rect x="6" y="22" width="1.25" height="1.35" fill="#9bff64"/>
<rect x="7" y="22" width="1.25" height="1.35" fill="#8eff71"/>
<rect x="8" y="22" width="1.25" height="1.35" fill="#81ff7e"/>
<rect x="9" y="22" width="1.25" height="1.35" fill="#77ff88"/>
<rect x="10" y="22" width="1.25" height="1.35" fill="#6cff93"/>
<rect x="11" y="22" width="1.25" height="1.35" fill="#60ff9f"/>
<rect x="12" y="22" width="1.25" height="1.35" fill="#54ffab"/>
<rect x="13" y="22" width="1.25" height="1.35" fill="#48ffb7"/>
<rect x="14" y="22" width="1.25" height="1.35" fill="#3cffc3"/>
<rect x="15" y="22" width="1.25" height="1.35" fill="#31ffce"/>
<rect x="16" y="22" width="1.25" height="1.35" fill="#24ffdb"/>
<rect x="17" y="22" width="1.25" height="1.35" fill="#18ffe7"/>
<rect x="18" y="22" width="1.25" height="1.35" fill="#0cfff3"/>
<rect x="19" y="22" width="1.25" height="1.35" fill="#00ffff"/>
<rect x="20" y="22" width="1.25" height="1.35" fill="#00f2ff"/>
<rect x="21" y="22" width="1.25" height="1.35" fill="#00e6ff"/>
<rect x="22" y="22" width="1.25" height="1.35" fill="#00daff"/>
<rect x="23" y="22" width="1.1" height="1.35" fill="#00ceff"/>
<rect x="-0.1" y="23" width="1.35" height="1.15" fill="#eeff11"/>
<rect x="1" y="23" width="1.25" height="1.15" fill="#e1ff1e"/>
<rect x="2" y="23" width="1.25" height="1.15" fill="#d5ff2a"/>
<rect x="3" y="23" width="1.25" height="1.15" fill="#c9ff36"/>
<rect x="4" y="23" width="1.25" height="1.15" fill="#bdff42"/>
<rect x="5" y="23" width="1.25" height="1.15" fill="#b1ff4e"/>
<rect x="6" y="23" width="1.25" height="1.15" fill="#a4ff5b"/>
<rect x="7" y="23" width="1.25" height="1.15" fill="#98ff67"/>
<rect x="8" y="23" width="1.25" height="1.15" fill="#8cff73"/>
<rect x="9" y="23" width="1.25" height="1.15" fill="#80ff7f"/>
<rect x="10" y="23" width="1.25" height="1.15" fill="#75ff8a"/>
<rect x="11" y="23" width="1.25" height="1.15" fill="#6aff95"/>
<rect x="12" y="23" width="1.25" height="1.15" fill="#5fffa0"/>
<rect x="13" y="23" width="1.25" height="1.15" fill="#52ffad"/>
<rect x="14" y="23" width="1.25" height="1.15" fill="#45ffba"/>
<rect x="15" y="23" width="1.25" height="1.15" fill="#38ffc7"/>
<rect x="16" y="23" width="1.25" height="1.15" fill="#2cffd3"/>
<rect x="17" y="23" width="1.25" height="1.15" fill="#21ffde"/>
<rect x="18" y="23" width="1.25" height="1.15" fill="#15ffea"/>
<rect x="19" y="23" width="1.25" height="1.15" fill="#0afff5"/>
<rect x="20" y="23" width="1.25" height="1.15" fill="#00ffff"/>
<rect x="21" y="23" width="1.25" height="1.15" fill="#00f4ff"/>
<rect x="22" y="23" width="1.25" height="1.15" fill="#00e9ff"/>
<rect x="23" y="23" width="1.1" height="1.15" fill="#00ddff"/>
</g>
<path fill="#fff" fill-rule="evenodd" d="M427.30 554.10h258.20v168.75h-258.20zM429.10 555.90h254.60v165.15h-254.60z"/>
<path d="M429.20 555.90V720.95H683.70" fill="none" stroke="#3a3a20" stroke-opacity="0.3" stroke-width="0.8"/>
<text x="91.7" y="17.3" class="tk" text-anchor="end">95</text>
<text x="91.7" y="38.0" class="tk" text-anchor="end">90</text>
<text x="91.7" y="58.6" class="tk" text-anchor="end">85</text>
<text x="91.7" y="79.3" class="tk" text-anchor="end">80</text>
<text x="91.7" y="99.9" class="tk" text-anchor="end">75</text>
<text x="91.7" y="120.5" class="tk" text-anchor="end">70</text>
<text x="91.7" y="141.2" class="tk" text-anchor="end">65</text>
<text x="91.7" y="161.8" class="tk" text-anchor="end">60</text>
<text x="91.7" y="182.5" class="tk" text-anchor="end">55</text>
<text x="426.2" y="17.3" class="tk" text-anchor="end">95</text>
<text x="426.2" y="38.0" class="tk" text-anchor="end">90</text>
<text x="426.2" y="58.6" class="tk" text-anchor="end">85</text>
<text x="426.2" y="79.3" class="tk" text-anchor="end">80</text>
<text x="426.2" y="99.9" class="tk" text-anchor="end">75</text>
<text x="426.2" y="120.5" class="tk" text-anchor="end">70</text>
<text x="426.2" y="141.2" class="tk" text-anchor="end">65</text>
<text x="426.2" y="161.8" class="tk" text-anchor="end">60</text>
<text x="426.2" y="182.5" class="tk" text-anchor="end">55</text>
<text x="91.7" y="197.9" class="tk" text-anchor="end">95</text>
<text x="91.7" y="218.5" class="tk" text-anchor="end">90</text>
<text x="91.7" y="239.2" class="tk" text-anchor="end">85</text>
<text x="91.7" y="259.8" class="tk" text-anchor="end">80</text>
<text x="91.7" y="280.5" class="tk" text-anchor="end">75</text>
<text x="91.7" y="301.1" class="tk" text-anchor="end">70</text>
<text x="91.7" y="321.8" class="tk" text-anchor="end">65</text>
<text x="91.7" y="342.4" class="tk" text-anchor="end">60</text>
<text x="91.7" y="363.1" class="tk" text-anchor="end">55</text>
<text x="426.2" y="197.9" class="tk" text-anchor="end">95</text>
<text x="426.2" y="218.5" class="tk" text-anchor="end">90</text>
<text x="426.2" y="239.2" class="tk" text-anchor="end">85</text>
<text x="426.2" y="259.8" class="tk" text-anchor="end">80</text>
<text x="426.2" y="280.5" class="tk" text-anchor="end">75</text>
<text x="426.2" y="301.1" class="tk" text-anchor="end">70</text>
<text x="426.2" y="321.8" class="tk" text-anchor="end">65</text>
<text x="426.2" y="342.4" class="tk" text-anchor="end">60</text>
<text x="426.2" y="363.1" class="tk" text-anchor="end">55</text>
<text x="91.7" y="378.8" class="tk" text-anchor="end">95</text>
<text x="91.7" y="399.4" class="tk" text-anchor="end">90</text>
<text x="91.7" y="420.1" class="tk" text-anchor="end">85</text>
<text x="91.7" y="440.7" class="tk" text-anchor="end">80</text>
<text x="91.7" y="461.3" class="tk" text-anchor="end">75</text>
<text x="91.7" y="482.0" class="tk" text-anchor="end">70</text>
<text x="91.7" y="502.6" class="tk" text-anchor="end">65</text>
<text x="91.7" y="523.3" class="tk" text-anchor="end">60</text>
<text x="91.7" y="543.9" class="tk" text-anchor="end">55</text>
<text x="426.2" y="378.8" class="tk" text-anchor="end">95</text>
<text x="426.2" y="399.4" class="tk" text-anchor="end">90</text>
<text x="426.2" y="420.1" class="tk" text-anchor="end">85</text>
<text x="426.2" y="440.7" class="tk" text-anchor="end">80</text>
<text x="426.2" y="461.3" class="tk" text-anchor="end">75</text>
<text x="426.2" y="482.0" class="tk" text-anchor="end">70</text>
<text x="426.2" y="502.6" class="tk" text-anchor="end">65</text>
<text x="426.2" y="523.3" class="tk" text-anchor="end">60</text>
<text x="426.2" y="543.9" class="tk" text-anchor="end">55</text>
<text x="91.7" y="559.5" class="tk" text-anchor="end">95</text>
<text x="91.7" y="580.1" class="tk" text-anchor="end">90</text>
<text x="91.7" y="600.8" class="tk" text-anchor="end">85</text>
<text x="91.7" y="621.4" class="tk" text-anchor="end">80</text>
<text x="91.7" y="642.1" class="tk" text-anchor="end">75</text>
<text x="91.7" y="662.7" class="tk" text-anchor="end">70</text>
<text x="91.7" y="683.4" class="tk" text-anchor="end">65</text>
<text x="91.7" y="704.0" class="tk" text-anchor="end">60</text>
<text x="91.7" y="724.6" class="tk" text-anchor="end">55</text>
<text x="426.2" y="559.5" class="tk" text-anchor="end">95</text>
<text x="426.2" y="580.1" class="tk" text-anchor="end">90</text>
<text x="426.2" y="600.8" class="tk" text-anchor="end">85</text>
<text x="426.2" y="621.4" class="tk" text-anchor="end">80</text>
<text x="426.2" y="642.1" class="tk" text-anchor="end">75</text>
<text x="426.2" y="662.7" class="tk" text-anchor="end">70</text>
<text x="426.2" y="683.4" class="tk" text-anchor="end">65</text>
<text x="426.2" y="704.0" class="tk" text-anchor="end">60</text>
<text x="426.2" y="724.6" class="tk" text-anchor="end">55</text>
<text x="65.4" y="17.0" class="pl">a</text>
<text x="62.8" y="200.4" class="pl">c</text>
<text x="63.4" y="384.2" class="pl">e</text>
<text x="63.0" y="562.0" class="pl">g</text>
<text x="388.0" y="18.6" class="pl">b</text>
<text x="394.1" y="198.6" class="pl">d</text>
<text x="394.8" y="380.6" class="pl">f</text>
<text x="396.8" y="560.1" class="pl">h</text>
<text x="221.95" y="9.5" class="tt" text-anchor="middle">Three months since vaccination start</text>
<text x="556.3" y="9.5" class="tt" text-anchor="middle">Six months since vaccination start</text>
<text transform="translate(10.4,96.00) rotate(-90)" class="rl" text-anchor="middle">Fast compliance decay,</text>
<text transform="translate(26.4,96.00) rotate(-90)" class="rl" text-anchor="middle">high contact rate</text>
<text transform="translate(43.4,96.30) rotate(-90)" class="rl" text-anchor="middle">of vaccinated</text>
<text transform="translate(75.7,95.59) rotate(-90)" class="yl" text-anchor="middle">Vaccine efficacy (%)</text>
<text transform="translate(10.4,276.57) rotate(-90)" class="rl" text-anchor="middle">Slow compliance decay,</text>
<text transform="translate(26.4,276.57) rotate(-90)" class="rl" text-anchor="middle">high contact rate</text>
<text transform="translate(43.4,276.88) rotate(-90)" class="rl" text-anchor="middle">of vaccinated</text>
<text transform="translate(75.7,276.18) rotate(-90)" class="yl" text-anchor="middle">Vaccine efficacy (%)</text>
<text transform="translate(10.4,457.44) rotate(-90)" class="rl" text-anchor="middle">Fast compliance decay,</text>
<text transform="translate(26.4,457.44) rotate(-90)" class="rl" text-anchor="middle">low contact rate</text>
<text transform="translate(43.4,457.75) rotate(-90)" class="rl" text-anchor="middle">of vaccinated</text>
<text transform="translate(75.7,457.05) rotate(-90)" class="yl" text-anchor="middle">Vaccine efficacy (%)</text>
<text transform="translate(10.4,638.18) rotate(-90)" class="rl" text-anchor="middle">Slow compliance decay,</text>
<text transform="translate(26.4,638.18) rotate(-90)" class="rl" text-anchor="middle">low contact rate</text>
<text transform="translate(43.4,638.48) rotate(-90)" class="rl" text-anchor="middle">of vaccinated</text>
<text transform="translate(75.7,637.77) rotate(-90)" class="yl" text-anchor="middle">Vaccine efficacy (%)</text>
<text x="125.9" y="733.0" class="tk" text-anchor="middle">10</text>
<text x="155.4" y="733.0" class="tk" text-anchor="middle">15</text>
<text x="185.8" y="733.0" class="tk" text-anchor="middle">20</text>
<text x="219.3" y="733.0" class="tk" text-anchor="middle">25</text>
<text x="254.8" y="733.0" class="tk" text-anchor="middle">30</text>
<text x="292.6" y="733.0" class="tk" text-anchor="middle">35</text>
<text x="333.6" y="733.0" class="tk" text-anchor="middle">40</text>
<text x="463.3" y="733.0" class="tk" text-anchor="middle">20</text>
<text x="479.6" y="733.0" class="tk" text-anchor="middle">25</text>
<text x="497.8" y="733.0" class="tk" text-anchor="middle">30</text>
<text x="516.7" y="733.0" class="tk" text-anchor="middle">35</text>
<text x="537.2" y="733.0" class="tk" text-anchor="middle">40</text>
<text x="559.7" y="733.0" class="tk" text-anchor="middle">45</text>
<text x="584.4" y="733.0" class="tk" text-anchor="middle">50</text>
<text x="611.1" y="733.0" class="tk" text-anchor="middle">55</text>
<text x="641.3" y="733.0" class="tk" text-anchor="middle">60</text>
<text x="674.9" y="733.0" class="tk" text-anchor="middle">65</text>
<text x="218.9" y="749.3" class="xl" text-anchor="middle">Vaccination coverage after three months (%)</text>
<text x="554.35" y="749.3" class="xl" text-anchor="middle">Vaccination coverage after six months (%)</text>
<defs><linearGradient id="jet" x1="0" x2="1" y1="0" y2="0">
<stop offset="0.0000" stop-color="#000080"/>
<stop offset="0.0156" stop-color="#00008f"/>
<stop offset="0.0312" stop-color="#00009f"/>
<stop offset="0.0469" stop-color="#0000af"/>
<stop offset="0.0625" stop-color="#0000bf"/>
<stop offset="0.0781" stop-color="#0000cf"/>
<stop offset="0.0938" stop-color="#0000df"/>
<stop offset="0.1094" stop-color="#0000ef"/>
<stop offset="0.1250" stop-color="#0000ff"/>
<stop offset="0.1406" stop-color="#0010ff"/>
<stop offset="0.1562" stop-color="#0020ff"/>
<stop offset="0.1719" stop-color="#0030ff"/>
<stop offset="0.1875" stop-color="#0040ff"/>
<stop offset="0.2031" stop-color="#0050ff"/>
<stop offset="0.2188" stop-color="#0060ff"/>
<stop offset="0.2344" stop-color="#0070ff"/>
<stop offset="0.2500" stop-color="#0080ff"/>
<stop offset="0.2656" stop-color="#008fff"/>
<stop offset="0.2812" stop-color="#009fff"/>
<stop offset="0.2969" stop-color="#00afff"/>
<stop offset="0.3125" stop-color="#00bfff"/>
<stop offset="0.3281" stop-color="#00cfff"/>
<stop offset="0.3438" stop-color="#00dfff"/>
<stop offset="0.3594" stop-color="#00efff"/>
<stop offset="0.3750" stop-color="#00ffff"/>
<stop offset="0.3906" stop-color="#10ffef"/>
<stop offset="0.4062" stop-color="#20ffdf"/>
<stop offset="0.4219" stop-color="#30ffcf"/>
<stop offset="0.4375" stop-color="#40ffbf"/>
<stop offset="0.4531" stop-color="#50ffaf"/>
<stop offset="0.4688" stop-color="#60ff9f"/>
<stop offset="0.4844" stop-color="#70ff8f"/>
<stop offset="0.5000" stop-color="#80ff80"/>
<stop offset="0.5156" stop-color="#8fff70"/>
<stop offset="0.5312" stop-color="#9fff60"/>
<stop offset="0.5469" stop-color="#afff50"/>
<stop offset="0.5625" stop-color="#bfff40"/>
<stop offset="0.5781" stop-color="#cfff30"/>
<stop offset="0.5938" stop-color="#dfff20"/>
<stop offset="0.6094" stop-color="#efff10"/>
<stop offset="0.6250" stop-color="#ffff00"/>
<stop offset="0.6406" stop-color="#ffef00"/>
<stop offset="0.6562" stop-color="#ffdf00"/>
<stop offset="0.6719" stop-color="#ffcf00"/>
<stop offset="0.6875" stop-color="#ffbf00"/>
<stop offset="0.7031" stop-color="#ffaf00"/>
<stop offset="0.7188" stop-color="#ff9f00"/>
<stop offset="0.7344" stop-color="#ff8f00"/>
<stop offset="0.7500" stop-color="#ff8000"/>
<stop offset="0.7656" stop-color="#ff7000"/>
<stop offset="0.7812" stop-color="#ff6000"/>
<stop offset="0.7969" stop-color="#ff5000"/>
<stop offset="0.8125" stop-color="#ff4000"/>
<stop offset="0.8281" stop-color="#ff3000"/>
<stop offset="0.8438" stop-color="#ff2000"/>
<stop offset="0.8594" stop-color="#ff1000"/>
<stop offset="0.8750" stop-color="#ff0000"/>
<stop offset="0.8906" stop-color="#ef0000"/>
<stop offset="0.9062" stop-color="#df0000"/>
<stop offset="0.9219" stop-color="#cf0000"/>
<stop offset="0.9375" stop-color="#bf0000"/>
<stop offset="0.9531" stop-color="#af0000"/>
<stop offset="0.9688" stop-color="#9f0000"/>
<stop offset="0.9844" stop-color="#8f0000"/>
<stop offset="1.0000" stop-color="#800000"/>
</linearGradient></defs>
<rect x="174.3" y="758.0" width="429.5" height="12.4" fill="url(#jet)"/>
<rect x="174.50" y="758.20" width="429.10" height="12.00" fill="none" stroke="#262626" stroke-opacity="0.45" stroke-width="0.6"/>
<text x="174.6" y="783.7" class="ck" text-anchor="middle">-30</text>
<line x1="217.2" x2="217.2" y1="765.8" y2="770.4" stroke="#262626" stroke-opacity="0.8" stroke-width="0.5"/>
<text x="217.6" y="783.7" class="ck" text-anchor="middle">-25</text>
<line x1="260.2" x2="260.2" y1="765.8" y2="770.4" stroke="#262626" stroke-opacity="0.8" stroke-width="0.5"/>
<text x="260.5" y="783.7" class="ck" text-anchor="middle">-20</text>
<line x1="303.1" x2="303.1" y1="765.8" y2="770.4" stroke="#262626" stroke-opacity="0.8" stroke-width="0.5"/>
<text x="303.4" y="783.7" class="ck" text-anchor="middle">-15</text>
<line x1="346.1" x2="346.1" y1="765.8" y2="770.4" stroke="#262626" stroke-opacity="0.8" stroke-width="0.5"/>
<text x="346.4" y="783.7" class="ck" text-anchor="middle">-10</text>
<line x1="389.0" x2="389.0" y1="765.8" y2="770.4" stroke="#262626" stroke-opacity="0.8" stroke-width="0.5"/>
<text x="389.3" y="783.7" class="ck" text-anchor="middle">-5</text>
<line x1="432.0" x2="432.0" y1="765.8" y2="770.4" stroke="#262626" stroke-opacity="0.8" stroke-width="0.5"/>
<text x="432.3" y="783.7" class="ck" text-anchor="middle">0</text>
<line x1="474.9" x2="474.9" y1="765.8" y2="770.4" stroke="#262626" stroke-opacity="0.8" stroke-width="0.5"/>
<text x="475.2" y="783.7" class="ck" text-anchor="middle">5</text>
<line x1="517.9" x2="517.9" y1="765.8" y2="770.4" stroke="#262626" stroke-opacity="0.8" stroke-width="0.5"/>
<text x="518.2" y="783.7" class="ck" text-anchor="middle">10</text>
<line x1="560.8" x2="560.8" y1="765.8" y2="770.4" stroke="#262626" stroke-opacity="0.8" stroke-width="0.5"/>
<text x="561.1" y="783.7" class="ck" text-anchor="middle">15</text>
<text x="604.1" y="783.7" class="ck" text-anchor="middle">20</text>
<text x="389.9" y="801.7" class="bl" text-anchor="middle">Relative difference in the cumulative number of new hospitalisations (%)</text>
</svg>
</body>
</html>
